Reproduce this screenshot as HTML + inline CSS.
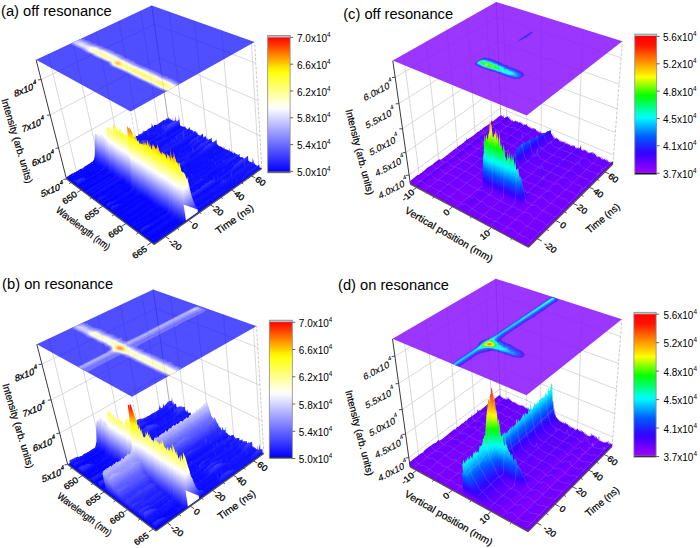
<!DOCTYPE html><html><head><meta charset="utf-8"><style>html,body{margin:0;padding:0;background:#fff;overflow:hidden}svg{display:block;font-family:"Liberation Sans",sans-serif}</style></head><body><svg width="700" height="548" viewBox="0 0 700 548" font-family="Liberation Sans, sans-serif"><defs><filter id="bl0.6" x="-50%" y="-50%" width="200%" height="200%"><feGaussianBlur stdDeviation="0.6"/></filter><filter id="bl0.8" x="-50%" y="-50%" width="200%" height="200%"><feGaussianBlur stdDeviation="0.8"/></filter><filter id="bl1" x="-50%" y="-50%" width="200%" height="200%"><feGaussianBlur stdDeviation="1"/></filter><filter id="bl1.5" x="-50%" y="-50%" width="200%" height="200%"><feGaussianBlur stdDeviation="1.5"/></filter><filter id="bl2.5" x="-50%" y="-50%" width="200%" height="200%"><feGaussianBlur stdDeviation="2.5"/></filter><linearGradient id="ma" gradientUnits="userSpaceOnUse"><stop offset="-0.0000" stop-color="#0000ff"/><stop offset="0.0234" stop-color="#0e0eff"/><stop offset="0.0468" stop-color="#1c1cff"/><stop offset="0.0703" stop-color="#2b2bff"/><stop offset="0.0939" stop-color="#3939ff"/><stop offset="0.1176" stop-color="#4747ff"/><stop offset="0.1413" stop-color="#5555ff"/><stop offset="0.1652" stop-color="#6464ff"/><stop offset="0.1891" stop-color="#7272ff"/><stop offset="0.2131" stop-color="#8080ff"/><stop offset="0.2372" stop-color="#8e8eff"/><stop offset="0.2613" stop-color="#9c9cff"/><stop offset="0.2856" stop-color="#ababff"/><stop offset="0.3099" stop-color="#b9b9ff"/><stop offset="0.3343" stop-color="#c7c7ff"/><stop offset="0.3588" stop-color="#d5d5ff"/><stop offset="0.3834" stop-color="#e4e4ff"/><stop offset="0.4081" stop-color="#f2f2ff"/><stop offset="0.4328" stop-color="#fffffd"/><stop offset="0.4577" stop-color="#ffffe5"/><stop offset="0.4826" stop-color="#ffffcc"/><stop offset="0.5076" stop-color="#ffffb3"/><stop offset="0.5327" stop-color="#ffff9b"/><stop offset="0.5579" stop-color="#ffff82"/><stop offset="0.5832" stop-color="#ffff6a"/><stop offset="0.6085" stop-color="#ffff51"/><stop offset="0.6340" stop-color="#ffff39"/><stop offset="0.6595" stop-color="#ffff20"/><stop offset="0.6852" stop-color="#ffff07"/><stop offset="0.7109" stop-color="#ffec00"/><stop offset="0.7367" stop-color="#ffd100"/><stop offset="0.7626" stop-color="#ffb600"/><stop offset="0.7886" stop-color="#ff9b00"/><stop offset="0.8147" stop-color="#ff8000"/><stop offset="0.8409" stop-color="#ff6500"/><stop offset="0.8672" stop-color="#ff4a00"/><stop offset="0.8935" stop-color="#ff2f00"/><stop offset="0.9200" stop-color="#ff1400"/><stop offset="0.9466" stop-color="#ff0000"/><stop offset="0.9732" stop-color="#ff0000"/><stop offset="1.0000" stop-color="#ff0000"/></linearGradient><linearGradient id="ga0" href="#ma" x1="100.8" y1="158.9" x2="68.3" y2="101.7"/><linearGradient id="ga1" href="#ma" x1="102.3" y1="159" x2="69.8" y2="101.8"/><linearGradient id="ga2" href="#ma" x1="103.1" y1="159.5" x2="70.6" y2="102.4"/><linearGradient id="ga3" href="#ma" x1="103.2" y1="160.5" x2="70.6" y2="103.3"/><linearGradient id="ga4" href="#ma" x1="103.3" y1="161.5" x2="70.6" y2="104.3"/><linearGradient id="ga5" href="#ma" x1="103.4" y1="162.5" x2="70.6" y2="105.2"/><linearGradient id="ga6" href="#ma" x1="106.5" y1="161.7" x2="73.7" y2="104.5"/><linearGradient id="ga7" href="#ma" x1="108" y1="161.8" x2="75.3" y2="104.7"/><linearGradient id="ga8" href="#ma" x1="107.4" y1="163.3" x2="74.5" y2="106.1"/><linearGradient id="ga9" href="#ma" x1="107.4" y1="164.3" x2="74.5" y2="107"/><linearGradient id="ga10" href="#ma" x1="109" y1="164.4" x2="76" y2="107.2"/><linearGradient id="ga11" href="#ma" x1="109.9" y1="164.9" x2="76.8" y2="107.7"/><linearGradient id="ga12" href="#ma" x1="110.7" y1="165.5" x2="77.6" y2="108.3"/><linearGradient id="ga13" href="#ma" x1="110.8" y1="166.5" x2="77.6" y2="109.3"/><linearGradient id="ga14" href="#ma" x1="113.2" y1="166.1" x2="80" y2="109"/><linearGradient id="ga15" href="#ma" x1="113.3" y1="167.2" x2="80" y2="110"/><linearGradient id="ga16" href="#ma" x1="113.4" y1="168.2" x2="80" y2="111"/><linearGradient id="ga17" href="#ma" x1="115" y1="168.3" x2="81.6" y2="111.1"/><linearGradient id="ga18" href="#ma" x1="115.1" y1="169.3" x2="81.6" y2="112.1"/><linearGradient id="ga19" href="#ma" x1="116" y1="169.9" x2="82.4" y2="112.7"/><linearGradient id="ga20" href="#ma" x1="117.6" y1="170" x2="84" y2="112.8"/><linearGradient id="ga21" href="#ma" x1="117.7" y1="171.1" x2="84" y2="113.8"/><linearGradient id="ga22" href="#ma" x1="118.6" y1="171.6" x2="84.9" y2="114.4"/><linearGradient id="ga23" href="#ma" x1="119.4" y1="172.2" x2="85.7" y2="115"/><linearGradient id="ga24" href="#ma" x1="119.5" y1="173.3" x2="85.7" y2="116"/><linearGradient id="ga25" href="#ma" x1="122" y1="172.9" x2="88.1" y2="115.7"/><linearGradient id="ga26" href="#ma" x1="122.1" y1="174" x2="88.1" y2="116.8"/><linearGradient id="ga27" href="#ma" x1="122.9" y1="174.6" x2="89" y2="117.4"/><linearGradient id="ga28" href="#ma" x1="124.6" y1="174.7" x2="90.6" y2="117.5"/><linearGradient id="ga29" href="#ma" x1="125.5" y1="175.3" x2="91.4" y2="118.1"/><linearGradient id="ga30" href="#ma" x1="125.6" y1="176.3" x2="91.5" y2="119.1"/><linearGradient id="ga31" href="#ma" x1="126.5" y1="176.9" x2="92.3" y2="119.7"/><linearGradient id="ga32" href="#ma" x1="127.4" y1="177.5" x2="93.1" y2="120.3"/><linearGradient id="ga33" href="#ma" x1="129.1" y1="177.6" x2="94.8" y2="120.5"/><linearGradient id="ga34" href="#ma" x1="128.4" y1="179.2" x2="94" y2="122"/><linearGradient id="ga35" href="#ma" x1="130.1" y1="179.3" x2="95.7" y2="122.2"/><linearGradient id="ga36" href="#ma" x1="131.8" y1="179.4" x2="97.3" y2="122.3"/><linearGradient id="ga37" href="#ma" x1="131.9" y1="180.5" x2="97.4" y2="123.4"/><linearGradient id="ga38" href="#ma" x1="133.6" y1="180.6" x2="99" y2="123.6"/><linearGradient id="ga39" href="#ma" x1="133.8" y1="181.7" x2="99.1" y2="124.6"/><linearGradient id="ga40" href="#ma" x1="135.5" y1="181.9" x2="100.8" y2="124.8"/><linearGradient id="ga41" href="#ma" x1="135.6" y1="183" x2="100.8" y2="125.9"/><linearGradient id="ga42" href="#ma" x1="136.5" y1="183.6" x2="101.7" y2="126.5"/><linearGradient id="ga43" href="#ma" x1="137.5" y1="184.2" x2="102.6" y2="127.1"/><linearGradient id="ga44" href="#ma" x1="137.6" y1="185.3" x2="102.6" y2="128.2"/><linearGradient id="ga45" href="#ma" x1="138.5" y1="185.9" x2="103.5" y2="128.9"/><linearGradient id="ga46" href="#ma" x1="138.7" y1="187.1" x2="103.6" y2="129.9"/><linearGradient id="ga47" href="#ma" x1="140.4" y1="187.2" x2="105.3" y2="130.1"/><linearGradient id="ga48" href="#ma" x1="141.4" y1="187.8" x2="106.2" y2="130.8"/><linearGradient id="ga49" href="#ma" x1="143.1" y1="187.9" x2="107.9" y2="131"/><linearGradient id="ga50" href="#ma" x1="143.3" y1="189.1" x2="107.9" y2="132.1"/><linearGradient id="ga51" href="#ma" x1="145" y1="189.2" x2="109.7" y2="132.3"/><linearGradient id="ga52" href="#ma" x1="144.4" y1="190.8" x2="108.9" y2="133.8"/><linearGradient id="ga53" href="#ma" x1="145.3" y1="191.5" x2="109.8" y2="134.5"/><linearGradient id="ga54" href="#ma" x1="147.1" y1="191.6" x2="111.5" y2="134.7"/><linearGradient id="ga55" href="#ma" x1="147.3" y1="192.8" x2="111.6" y2="135.8"/><linearGradient id="ga56" href="#ma" x1="148.2" y1="193.4" x2="112.5" y2="136.5"/><linearGradient id="ga57" href="#ma" x1="149.2" y1="194.1" x2="113.5" y2="137.1"/><linearGradient id="ga58" href="#ma" x1="151.7" y1="193.7" x2="116" y2="136.9"/><linearGradient id="ga59" href="#ma" x1="151.1" y1="195.4" x2="115.3" y2="138.5"/><linearGradient id="ga60" href="#ma" x1="152.9" y1="195.5" x2="117" y2="138.7"/><linearGradient id="ga61" href="#ma" x1="153.9" y1="196.2" x2="118" y2="139.3"/><linearGradient id="ga62" href="#ma" x1="154.9" y1="196.8" x2="118.9" y2="140"/><linearGradient id="ga63" href="#ma" x1="155.9" y1="197.5" x2="119.8" y2="140.7"/><linearGradient id="ga64" href="#ma" x1="156.9" y1="198.1" x2="120.8" y2="141.4"/><linearGradient id="ga65" href="#ma" x1="158.6" y1="198.3" x2="122.5" y2="141.6"/><linearGradient id="ga66" href="#ma" x1="158.9" y1="199.5" x2="122.6" y2="142.8"/><linearGradient id="ga67" href="#ma" x1="160.6" y1="199.6" x2="124.4" y2="143"/><linearGradient id="ga68" href="#ma" x1="160.9" y1="200.8" x2="124.5" y2="144.2"/><linearGradient id="ga69" href="#ma" x1="161.1" y1="202" x2="124.7" y2="145.3"/><linearGradient id="ga70" href="#ma" x1="162.1" y1="202.7" x2="125.6" y2="146"/><linearGradient id="ga71" href="#ma" x1="164.7" y1="202.3" x2="128.2" y2="145.8"/><linearGradient id="ga72" href="#ma" x1="164.9" y1="203.5" x2="128.4" y2="147"/><linearGradient id="ga73" href="#ma" x1="166.7" y1="203.6" x2="130.2" y2="147.2"/><linearGradient id="ga74" href="#ma" x1="167" y1="204.9" x2="130.3" y2="148.4"/><linearGradient id="ga75" href="#ma" x1="167.2" y1="206.1" x2="130.4" y2="149.6"/><linearGradient id="ga76" href="#ma" x1="169" y1="206.2" x2="132.2" y2="149.8"/><linearGradient id="ga77" href="#ma" x1="169.3" y1="207.5" x2="132.4" y2="151"/><linearGradient id="ga78" href="#ma" x1="170.3" y1="208.1" x2="133.4" y2="151.7"/><linearGradient id="ga79" href="#ma" x1="171.3" y1="208.8" x2="134.4" y2="152.5"/><linearGradient id="ga80" href="#ma" x1="173.2" y1="209" x2="136.2" y2="152.7"/><linearGradient id="ga81" href="#ma" x1="174.2" y1="209.7" x2="137.2" y2="153.4"/><linearGradient id="ga82" href="#ma" x1="175.3" y1="210.4" x2="138.2" y2="154.2"/><linearGradient id="ga83" href="#ma" x1="175.5" y1="211.6" x2="138.3" y2="155.4"/><linearGradient id="ga84" href="#ma" x1="177.4" y1="211.8" x2="140.2" y2="155.7"/><linearGradient id="ga85" href="#ma" x1="179.3" y1="212" x2="142" y2="155.9"/><linearGradient id="ga86" href="#ma" x1="178.7" y1="213.8" x2="141.4" y2="157.7"/><linearGradient id="ga87" href="#ma" x1="181.4" y1="213.4" x2="144.1" y2="157.4"/><linearGradient id="ga88" href="#ma" x1="180.9" y1="215.2" x2="143.4" y2="159.2"/><linearGradient id="ga89" href="#ma" x1="182.8" y1="215.4" x2="145.3" y2="159.4"/><linearGradient id="ga90" href="#ma" x1="184.6" y1="215.5" x2="147.1" y2="159.7"/><linearGradient id="ga91" href="#ma" x1="186.5" y1="215.7" x2="149" y2="159.9"/><linearGradient id="ga92" href="#ma" x1="186" y1="217.5" x2="148.4" y2="161.7"/><linearGradient id="ga93" href="#ma" x1="186.3" y1="218.8" x2="148.6" y2="163"/><linearGradient id="ga94" href="#ma" x1="188.2" y1="219" x2="150.4" y2="163.2"/><linearGradient id="ga95" href="#ma" x1="189.3" y1="219.7" x2="151.5" y2="164"/><clipPath id="clipa"><path d="M36.1 59.8l94.6 51.8 123.9-69.6-102.9-36.5z"/></clipPath><linearGradient id="cba" x1="0" y1="0" x2="0" y2="1"><stop offset="0.000" stop-color="#ff0000"/><stop offset="0.033" stop-color="#ff2200"/><stop offset="0.067" stop-color="#ff4400"/><stop offset="0.100" stop-color="#ff6600"/><stop offset="0.133" stop-color="#ff8800"/><stop offset="0.167" stop-color="#ffaa00"/><stop offset="0.200" stop-color="#ffcc00"/><stop offset="0.233" stop-color="#ffee00"/><stop offset="0.267" stop-color="#ffff0f"/><stop offset="0.300" stop-color="#ffff2e"/><stop offset="0.333" stop-color="#ffff4d"/><stop offset="0.367" stop-color="#ffff6c"/><stop offset="0.400" stop-color="#ffff8b"/><stop offset="0.433" stop-color="#ffffaa"/><stop offset="0.467" stop-color="#ffffc9"/><stop offset="0.500" stop-color="#ffffe8"/><stop offset="0.533" stop-color="#fbfbff"/><stop offset="0.567" stop-color="#e9e9ff"/><stop offset="0.600" stop-color="#d7d7ff"/><stop offset="0.633" stop-color="#c5c5ff"/><stop offset="0.667" stop-color="#b3b3ff"/><stop offset="0.700" stop-color="#a1a1ff"/><stop offset="0.733" stop-color="#8f8fff"/><stop offset="0.767" stop-color="#7d7dff"/><stop offset="0.800" stop-color="#6b6bff"/><stop offset="0.833" stop-color="#5959ff"/><stop offset="0.867" stop-color="#4848ff"/><stop offset="0.900" stop-color="#3636ff"/><stop offset="0.933" stop-color="#2424ff"/><stop offset="0.967" stop-color="#1212ff"/><stop offset="1.000" stop-color="#0000ff"/></linearGradient><linearGradient id="mb" gradientUnits="userSpaceOnUse"><stop offset="-0.0000" stop-color="#0000ff"/><stop offset="0.0233" stop-color="#0e0eff"/><stop offset="0.0467" stop-color="#1c1cff"/><stop offset="0.0702" stop-color="#2b2bff"/><stop offset="0.0938" stop-color="#3939ff"/><stop offset="0.1175" stop-color="#4747ff"/><stop offset="0.1412" stop-color="#5555ff"/><stop offset="0.1650" stop-color="#6464ff"/><stop offset="0.1889" stop-color="#7272ff"/><stop offset="0.2129" stop-color="#8080ff"/><stop offset="0.2370" stop-color="#8e8eff"/><stop offset="0.2611" stop-color="#9c9cff"/><stop offset="0.2854" stop-color="#ababff"/><stop offset="0.3097" stop-color="#b9b9ff"/><stop offset="0.3341" stop-color="#c7c7ff"/><stop offset="0.3586" stop-color="#d5d5ff"/><stop offset="0.3832" stop-color="#e4e4ff"/><stop offset="0.4078" stop-color="#f2f2ff"/><stop offset="0.4326" stop-color="#fffffd"/><stop offset="0.4574" stop-color="#ffffe5"/><stop offset="0.4823" stop-color="#ffffcc"/><stop offset="0.5074" stop-color="#ffffb3"/><stop offset="0.5325" stop-color="#ffff9b"/><stop offset="0.5576" stop-color="#ffff82"/><stop offset="0.5829" stop-color="#ffff6a"/><stop offset="0.6083" stop-color="#ffff51"/><stop offset="0.6338" stop-color="#ffff39"/><stop offset="0.6593" stop-color="#ffff20"/><stop offset="0.6850" stop-color="#ffff07"/><stop offset="0.7107" stop-color="#ffec00"/><stop offset="0.7365" stop-color="#ffd100"/><stop offset="0.7624" stop-color="#ffb600"/><stop offset="0.7885" stop-color="#ff9b00"/><stop offset="0.8146" stop-color="#ff8000"/><stop offset="0.8408" stop-color="#ff6500"/><stop offset="0.8671" stop-color="#ff4a00"/><stop offset="0.8935" stop-color="#ff2f00"/><stop offset="0.9199" stop-color="#ff1400"/><stop offset="0.9465" stop-color="#ff0000"/><stop offset="0.9732" stop-color="#ff0000"/><stop offset="1.0000" stop-color="#ff0000"/></linearGradient><linearGradient id="gb0" href="#mb" x1="102.2" y1="443.9" x2="69.3" y2="386.5"/><linearGradient id="gb1" href="#mb" x1="101.5" y1="445.4" x2="68.5" y2="387.9"/><linearGradient id="gb2" href="#mb" x1="103.1" y1="445.5" x2="70" y2="388"/><linearGradient id="gb3" href="#mb" x1="103.9" y1="446.1" x2="70.8" y2="388.6"/><linearGradient id="gb4" href="#mb" x1="105.5" y1="446.1" x2="72.3" y2="388.7"/><linearGradient id="gb5" href="#mb" x1="106.3" y1="446.7" x2="73.1" y2="389.3"/><linearGradient id="gb6" href="#mb" x1="108.7" y1="446.3" x2="75.5" y2="389"/><linearGradient id="gb7" href="#mb" x1="107.2" y1="448.3" x2="73.9" y2="390.8"/><linearGradient id="gb8" href="#mb" x1="109.6" y1="447.9" x2="76.2" y2="390.5"/><linearGradient id="gb9" href="#mb" x1="109.7" y1="448.9" x2="76.2" y2="391.5"/><linearGradient id="gb10" href="#mb" x1="110.5" y1="449.5" x2="77" y2="392.1"/><linearGradient id="gb11" href="#mb" x1="111.3" y1="450.1" x2="77.8" y2="392.6"/><linearGradient id="gb12" href="#mb" x1="111.4" y1="451.1" x2="77.8" y2="393.6"/><linearGradient id="gb13" href="#mb" x1="112.3" y1="451.7" x2="78.6" y2="394.2"/><linearGradient id="gb14" href="#mb" x1="113.1" y1="452.2" x2="79.4" y2="394.8"/><linearGradient id="gb15" href="#mb" x1="113.2" y1="453.3" x2="79.4" y2="395.8"/><linearGradient id="gb16" href="#mb" x1="115.6" y1="452.9" x2="81.8" y2="395.5"/><linearGradient id="gb17" href="#mb" x1="115.7" y1="454" x2="81.8" y2="396.5"/><linearGradient id="gb18" href="#mb" x1="118.1" y1="453.6" x2="84.2" y2="396.2"/><linearGradient id="gb19" href="#mb" x1="117.4" y1="455.1" x2="83.4" y2="397.7"/><linearGradient id="gb20" href="#mb" x1="118.3" y1="455.7" x2="84.2" y2="398.2"/><linearGradient id="gb21" href="#mb" x1="119.2" y1="456.3" x2="85" y2="398.8"/><linearGradient id="gb22" href="#mb" x1="120.1" y1="456.9" x2="85.9" y2="399.4"/><linearGradient id="gb23" href="#mb" x1="120.9" y1="457.5" x2="86.7" y2="400"/><linearGradient id="gb24" href="#mb" x1="121.8" y1="458" x2="87.5" y2="400.6"/><linearGradient id="gb25" href="#mb" x1="121.9" y1="459.1" x2="87.5" y2="401.6"/><linearGradient id="gb26" href="#mb" x1="124.4" y1="458.7" x2="90" y2="401.4"/><linearGradient id="gb27" href="#mb" x1="125.2" y1="459.3" x2="90.8" y2="402"/><linearGradient id="gb28" href="#mb" x1="126.1" y1="459.9" x2="91.6" y2="402.6"/><linearGradient id="gb29" href="#mb" x1="127" y1="460.5" x2="92.5" y2="403.2"/><linearGradient id="gb30" href="#mb" x1="127.1" y1="461.6" x2="92.5" y2="404.2"/><linearGradient id="gb31" href="#mb" x1="128" y1="462.2" x2="93.3" y2="404.8"/><linearGradient id="gb32" href="#mb" x1="128.2" y1="463.3" x2="93.4" y2="405.9"/><linearGradient id="gb33" href="#mb" x1="129.1" y1="463.9" x2="94.2" y2="406.5"/><linearGradient id="gb34" href="#mb" x1="130.8" y1="464" x2="95.9" y2="406.7"/><linearGradient id="gb35" href="#mb" x1="131.7" y1="464.6" x2="96.7" y2="407.3"/><linearGradient id="gb36" href="#mb" x1="134.9" y1="463.8" x2="100" y2="406.6"/><linearGradient id="gb37" href="#mb" x1="132.7" y1="466.4" x2="97.6" y2="409"/><linearGradient id="gb38" href="#mb" x1="133.6" y1="467" x2="98.5" y2="409.6"/><linearGradient id="gb39" href="#mb" x1="135.3" y1="467.1" x2="100.2" y2="409.8"/><linearGradient id="gb40" href="#mb" x1="137" y1="467.2" x2="101.8" y2="410"/><linearGradient id="gb41" href="#mb" x1="137.2" y1="468.3" x2="101.9" y2="411.1"/><linearGradient id="gb42" href="#mb" x1="139.7" y1="468" x2="104.4" y2="410.8"/><linearGradient id="gb43" href="#mb" x1="138.3" y1="470.1" x2="102.8" y2="412.8"/><linearGradient id="gb44" href="#mb" x1="140" y1="470.2" x2="104.5" y2="413"/><linearGradient id="gb45" href="#mb" x1="139.4" y1="471.9" x2="103.8" y2="414.6"/><linearGradient id="gb46" href="#mb" x1="140.3" y1="472.5" x2="104.7" y2="415.2"/><linearGradient id="gb47" href="#mb" x1="142" y1="472.6" x2="106.4" y2="415.4"/><linearGradient id="gb48" href="#mb" x1="143" y1="473.3" x2="107.3" y2="416.1"/><linearGradient id="gb49" href="#mb" x1="143.9" y1="473.9" x2="108.1" y2="416.7"/><linearGradient id="gb50" href="#mb" x1="144.9" y1="474.5" x2="109" y2="417.4"/><linearGradient id="gb51" href="#mb" x1="145.9" y1="475.2" x2="109.9" y2="418"/><linearGradient id="gb52" href="#mb" x1="147.6" y1="475.3" x2="111.7" y2="418.2"/><linearGradient id="gb53" href="#mb" x1="147.8" y1="476.5" x2="111.7" y2="419.4"/><linearGradient id="gb54" href="#mb" x1="148.7" y1="477.1" x2="112.7" y2="420"/><linearGradient id="gb55" href="#mb" x1="149.7" y1="477.8" x2="113.6" y2="420.7"/><linearGradient id="gb56" href="#mb" x1="150.7" y1="478.4" x2="114.5" y2="421.4"/><linearGradient id="gb57" href="#mb" x1="151.7" y1="479.1" x2="115.4" y2="422.1"/><linearGradient id="gb58" href="#mb" x1="153.4" y1="479.2" x2="117.1" y2="422.3"/><linearGradient id="gb59" href="#mb" x1="153.6" y1="480.4" x2="117.2" y2="423.4"/><linearGradient id="gb60" href="#mb" x1="155.4" y1="480.5" x2="119" y2="423.6"/><linearGradient id="gb61" href="#mb" x1="155.6" y1="481.7" x2="119.1" y2="424.8"/><linearGradient id="gb62" href="#mb" x1="156.6" y1="482.4" x2="120" y2="425.5"/><linearGradient id="gb63" href="#mb" x1="157.6" y1="483" x2="121" y2="426.2"/><linearGradient id="gb64" href="#mb" x1="158.6" y1="483.7" x2="121.9" y2="426.9"/><linearGradient id="gb65" href="#mb" x1="159.6" y1="484.4" x2="122.9" y2="427.6"/><linearGradient id="gb66" href="#mb" x1="159.8" y1="485.6" x2="123" y2="428.8"/><linearGradient id="gb67" href="#mb" x1="161.6" y1="485.7" x2="124.8" y2="429"/><linearGradient id="gb68" href="#mb" x1="161.8" y1="487" x2="124.9" y2="430.2"/><linearGradient id="gb69" href="#mb" x1="163.6" y1="487.1" x2="126.7" y2="430.4"/><linearGradient id="gb70" href="#mb" x1="165.4" y1="487.2" x2="128.5" y2="430.6"/><linearGradient id="gb71" href="#mb" x1="164.9" y1="489" x2="127.8" y2="432.3"/><linearGradient id="gb72" href="#mb" x1="167.5" y1="488.6" x2="130.4" y2="432.1"/><linearGradient id="gb73" href="#mb" x1="168.5" y1="489.3" x2="131.4" y2="432.8"/><linearGradient id="gb74" href="#mb" x1="168" y1="491.1" x2="130.7" y2="434.5"/><linearGradient id="gb75" href="#mb" x1="169.8" y1="491.2" x2="132.5" y2="434.7"/><linearGradient id="gb76" href="#mb" x1="170.8" y1="491.9" x2="133.5" y2="435.5"/><linearGradient id="gb77" href="#mb" x1="171.1" y1="493.2" x2="133.6" y2="436.7"/><linearGradient id="gb78" href="#mb" x1="172.1" y1="493.9" x2="134.6" y2="437.4"/><linearGradient id="gb79" href="#mb" x1="174" y1="494" x2="136.4" y2="437.7"/><linearGradient id="gb80" href="#mb" x1="175" y1="494.7" x2="137.4" y2="438.4"/><linearGradient id="gb81" href="#mb" x1="176.1" y1="495.5" x2="138.4" y2="439.2"/><linearGradient id="gb82" href="#mb" x1="177.1" y1="496.2" x2="139.4" y2="439.9"/><linearGradient id="gb83" href="#mb" x1="177.4" y1="497.4" x2="139.6" y2="441.2"/><linearGradient id="gb84" href="#mb" x1="180.1" y1="497" x2="142.3" y2="440.9"/><linearGradient id="gb85" href="#mb" x1="180.3" y1="498.3" x2="142.5" y2="442.2"/><linearGradient id="gb86" href="#mb" x1="181.4" y1="499" x2="143.5" y2="442.9"/><linearGradient id="gb87" href="#mb" x1="183.3" y1="499.2" x2="145.4" y2="443.2"/><linearGradient id="gb88" href="#mb" x1="183.6" y1="500.5" x2="145.5" y2="444.5"/><linearGradient id="gb89" href="#mb" x1="184.7" y1="501.2" x2="146.6" y2="445.3"/><linearGradient id="gb90" href="#mb" x1="185.8" y1="501.9" x2="147.6" y2="446"/><linearGradient id="gb91" href="#mb" x1="186.8" y1="502.7" x2="148.6" y2="446.8"/><linearGradient id="gb92" href="#mb" x1="187.9" y1="503.4" x2="149.7" y2="447.6"/><linearGradient id="gb93" href="#mb" x1="189.9" y1="503.6" x2="151.6" y2="447.8"/><linearGradient id="gb94" href="#mb" x1="190.2" y1="504.9" x2="151.8" y2="449.2"/><linearGradient id="gb95" href="#mb" x1="190.4" y1="506.2" x2="152" y2="450.5"/><clipPath id="clipb"><path d="M36.8 344.2l95.2 52.6 124.6-70.7-103.4-36.7z"/></clipPath><linearGradient id="cbb" x1="0" y1="0" x2="0" y2="1"><stop offset="0.000" stop-color="#ff0000"/><stop offset="0.033" stop-color="#ff2200"/><stop offset="0.067" stop-color="#ff4400"/><stop offset="0.100" stop-color="#ff6600"/><stop offset="0.133" stop-color="#ff8800"/><stop offset="0.167" stop-color="#ffaa00"/><stop offset="0.200" stop-color="#ffcc00"/><stop offset="0.233" stop-color="#ffee00"/><stop offset="0.267" stop-color="#ffff0f"/><stop offset="0.300" stop-color="#ffff2e"/><stop offset="0.333" stop-color="#ffff4d"/><stop offset="0.367" stop-color="#ffff6c"/><stop offset="0.400" stop-color="#ffff8b"/><stop offset="0.433" stop-color="#ffffaa"/><stop offset="0.467" stop-color="#ffffc9"/><stop offset="0.500" stop-color="#ffffe8"/><stop offset="0.533" stop-color="#fbfbff"/><stop offset="0.567" stop-color="#e9e9ff"/><stop offset="0.600" stop-color="#d7d7ff"/><stop offset="0.633" stop-color="#c5c5ff"/><stop offset="0.667" stop-color="#b3b3ff"/><stop offset="0.700" stop-color="#a1a1ff"/><stop offset="0.733" stop-color="#8f8fff"/><stop offset="0.767" stop-color="#7d7dff"/><stop offset="0.800" stop-color="#6b6bff"/><stop offset="0.833" stop-color="#5959ff"/><stop offset="0.867" stop-color="#4848ff"/><stop offset="0.900" stop-color="#3636ff"/><stop offset="0.933" stop-color="#2424ff"/><stop offset="0.967" stop-color="#1212ff"/><stop offset="1.000" stop-color="#0000ff"/></linearGradient><linearGradient id="mc" gradientUnits="userSpaceOnUse"><stop offset="-0.0000" stop-color="#7b00ff"/><stop offset="0.0226" stop-color="#6700ff"/><stop offset="0.0454" stop-color="#5400ff"/><stop offset="0.0682" stop-color="#4000ff"/><stop offset="0.0912" stop-color="#2f06ff"/><stop offset="0.1143" stop-color="#231bff"/><stop offset="0.1375" stop-color="#182fff"/><stop offset="0.1608" stop-color="#0c44ff"/><stop offset="0.1842" stop-color="#0158ff"/><stop offset="0.2078" stop-color="#0076ff"/><stop offset="0.2314" stop-color="#0095ff"/><stop offset="0.2552" stop-color="#00b3ff"/><stop offset="0.2791" stop-color="#00d2ff"/><stop offset="0.3031" stop-color="#00f1ff"/><stop offset="0.3272" stop-color="#00ffe8"/><stop offset="0.3515" stop-color="#00ffbe"/><stop offset="0.3759" stop-color="#00ff93"/><stop offset="0.4003" stop-color="#00ff68"/><stop offset="0.4250" stop-color="#00ff3e"/><stop offset="0.4497" stop-color="#00ff13"/><stop offset="0.4746" stop-color="#1bff00"/><stop offset="0.4996" stop-color="#4dff00"/><stop offset="0.5247" stop-color="#7eff00"/><stop offset="0.5500" stop-color="#afff00"/><stop offset="0.5754" stop-color="#e0ff00"/><stop offset="0.6009" stop-color="#fff500"/><stop offset="0.6265" stop-color="#ffda00"/><stop offset="0.6523" stop-color="#ffc000"/><stop offset="0.6782" stop-color="#ffa500"/><stop offset="0.7043" stop-color="#ff8b00"/><stop offset="0.7304" stop-color="#ff7000"/><stop offset="0.7568" stop-color="#ff5500"/><stop offset="0.7832" stop-color="#ff3a00"/><stop offset="0.8098" stop-color="#ff1f00"/><stop offset="0.8366" stop-color="#ff0f00"/><stop offset="0.8634" stop-color="#ff0800"/><stop offset="0.8905" stop-color="#ff0000"/><stop offset="0.9176" stop-color="#ff0000"/><stop offset="0.9449" stop-color="#ff0000"/><stop offset="0.9724" stop-color="#ff0000"/><stop offset="1.0000" stop-color="#ff0000"/></linearGradient><linearGradient id="gc0" href="#mc" x1="417" y1="179.2" x2="367.3" y2="109.6"/><linearGradient id="gc1" href="#mc" x1="467" y1="143.2" x2="420.8" y2="78.7"/><linearGradient id="gc2" href="#mc" x1="501.2" y1="118.9" x2="457.4" y2="57.7"/><linearGradient id="gc3" href="#mc" x1="504" y1="118" x2="460.3" y2="57.2"/><linearGradient id="gc4" href="#mc" x1="483.9" y1="134.5" x2="438.6" y2="71.6"/><linearGradient id="gc5" href="#mc" x1="494" y1="128.1" x2="449.3" y2="66.3"/><linearGradient id="gc6" href="#mc" x1="474.9" y1="143.8" x2="428.7" y2="80.1"/><linearGradient id="gc7" href="#mc" x1="441.8" y1="170.4" x2="393" y2="103.3"/><linearGradient id="gc8" href="#mc" x1="438.7" y1="174.1" x2="389.6" y2="106.8"/><linearGradient id="gc9" href="#mc" x1="500.1" y1="128.7" x2="455.4" y2="67.5"/><linearGradient id="gc10" href="#mc" x1="508.7" y1="123.4" x2="464.5" y2="63.1"/><linearGradient id="gc11" href="#mc" x1="500.5" y1="131" x2="455.6" y2="69.9"/><linearGradient id="gc12" href="#mc" x1="508.6" y1="126.1" x2="464.2" y2="65.8"/><linearGradient id="gc13" href="#mc" x1="512.5" y1="124.3" x2="468.3" y2="64.4"/><linearGradient id="gc14" href="#mc" x1="500.2" y1="135.2" x2="455" y2="74"/><linearGradient id="gc15" href="#mc" x1="449.4" y1="176" x2="400.2" y2="109.7"/><linearGradient id="gc16" href="#mc" x1="515.3" y1="126.2" x2="470.9" y2="66.6"/><linearGradient id="gc17" href="#mc" x1="486.5" y1="149.9" x2="439.9" y2="87.5"/><linearGradient id="gc18" href="#mc" x1="496.3" y1="143.7" x2="450.3" y2="82.2"/><linearGradient id="gc19" href="#mc" x1="518" y1="128" x2="473.5" y2="68.7"/><linearGradient id="gc20" href="#mc" x1="490.5" y1="151" x2="443.8" y2="89"/><linearGradient id="gc21" href="#mc" x1="517.4" y1="131.2" x2="472.6" y2="71.9"/><linearGradient id="gc22" href="#mc" x1="444.1" y1="190.6" x2="393.6" y2="123.9"/><linearGradient id="gc23" href="#mc" x1="497" y1="150.1" x2="450.5" y2="88.8"/><linearGradient id="gc24" href="#mc" x1="491.3" y1="156.1" x2="444.2" y2="94.2"/><linearGradient id="gc25" href="#mc" x1="517.8" y1="136.4" x2="472.6" y2="77.2"/><linearGradient id="gc26" href="#mc" x1="498.6" y1="153.2" x2="451.8" y2="92"/><linearGradient id="gc27" href="#mc" x1="494.1" y1="158.2" x2="446.9" y2="96.6"/><linearGradient id="gc28" href="#mc" x1="500.3" y1="154.7" x2="453.4" y2="93.8"/><linearGradient id="gc29" href="#mc" x1="497.7" y1="158.2" x2="450.5" y2="97.1"/><linearGradient id="gc30" href="#mc" x1="503.2" y1="155.3" x2="456.3" y2="94.7"/><linearGradient id="gc31" href="#mc" x1="501.2" y1="158.3" x2="454.1" y2="97.6"/><linearGradient id="gc32" href="#mc" x1="509.8" y1="152.9" x2="463.2" y2="93"/><linearGradient id="gc33" href="#mc" x1="519.9" y1="146.1" x2="474" y2="87.2"/><linearGradient id="gc34" href="#mc" x1="508.4" y1="156.9" x2="461.5" y2="96.9"/><linearGradient id="gc35" href="#mc" x1="537.2" y1="134.8" x2="492.4" y2="77.7"/><linearGradient id="gc36" href="#mc" x1="540.6" y1="133.5" x2="495.9" y2="76.7"/><linearGradient id="gc37" href="#mc" x1="540.6" y1="134.9" x2="495.9" y2="78.2"/><linearGradient id="gc38" href="#mc" x1="537.3" y1="139.1" x2="492.1" y2="82.1"/><linearGradient id="gc39" href="#mc" x1="531" y1="145.7" x2="485.2" y2="88.2"/><linearGradient id="gc40" href="#mc" x1="534.5" y1="144.3" x2="488.9" y2="87.1"/><linearGradient id="gc41" href="#mc" x1="485.3" y1="186.8" x2="435.7" y2="124.8"/><linearGradient id="gc42" href="#mc" x1="487.8" y1="186.3" x2="438.3" y2="124.5"/><linearGradient id="gc43" href="#mc" x1="489" y1="186.9" x2="439.5" y2="125.3"/><linearGradient id="gc44" href="#mc" x1="489.6" y1="188.1" x2="440" y2="126.5"/><linearGradient id="gc45" href="#mc" x1="491.4" y1="188.1" x2="441.9" y2="126.8"/><linearGradient id="gc46" href="#mc" x1="492.7" y1="188.7" x2="443.1" y2="127.6"/><linearGradient id="gc47" href="#mc" x1="493.2" y1="189.9" x2="443.6" y2="128.8"/><linearGradient id="gc48" href="#mc" x1="494.4" y1="190.5" x2="444.8" y2="129.6"/><linearGradient id="gc49" href="#mc" x1="495" y1="191.7" x2="445.3" y2="130.9"/><linearGradient id="gc50" href="#mc" x1="496.9" y1="191.7" x2="447.2" y2="131.1"/><linearGradient id="gc51" href="#mc" x1="498.1" y1="192.3" x2="448.4" y2="131.9"/><linearGradient id="gc52" href="#mc" x1="499.4" y1="192.9" x2="449.6" y2="132.7"/><linearGradient id="gc53" href="#mc" x1="499.9" y1="194.1" x2="450.1" y2="134"/><linearGradient id="gc54" href="#mc" x1="501.8" y1="194.2" x2="452.1" y2="134.2"/><linearGradient id="gc55" href="#mc" x1="502.4" y1="195.4" x2="452.6" y2="135.5"/><linearGradient id="gc56" href="#mc" x1="503.7" y1="196" x2="453.8" y2="136.3"/><linearGradient id="gc57" href="#mc" x1="505.6" y1="196" x2="455.8" y2="136.6"/><linearGradient id="gc58" href="#mc" x1="506.2" y1="197.2" x2="456.3" y2="137.9"/><linearGradient id="gc59" href="#mc" x1="508.7" y1="196.7" x2="459" y2="137.7"/><linearGradient id="gc60" href="#mc" x1="509.3" y1="197.9" x2="459.5" y2="139"/><linearGradient id="gc61" href="#mc" x1="510.6" y1="198.5" x2="460.8" y2="139.8"/><linearGradient id="gc62" href="#mc" x1="511.9" y1="199.1" x2="462" y2="140.6"/><linearGradient id="gc63" href="#mc" x1="513.1" y1="199.8" x2="463.3" y2="141.4"/><linearGradient id="gc64" href="#mc" x1="514.4" y1="200.4" x2="464.6" y2="142.2"/><linearGradient id="gc65" href="#mc" x1="516.3" y1="200.5" x2="466.6" y2="142.5"/><linearGradient id="gc66" href="#mc" x1="518.3" y1="200.5" x2="468.6" y2="142.8"/><linearGradient id="gc67" href="#mc" x1="518.9" y1="201.7" x2="469.1" y2="144.2"/><linearGradient id="gc68" href="#mc" x1="518.9" y1="203.5" x2="469" y2="146"/><linearGradient id="gc69" href="#mc" x1="521.5" y1="203" x2="471.7" y2="145.8"/><linearGradient id="gc70" href="#mc" x1="522.1" y1="204.2" x2="472.3" y2="147.2"/><linearGradient id="gc71" href="#mc" x1="524.7" y1="203.7" x2="475" y2="146.9"/><linearGradient id="gc72" href="#mc" x1="566.3" y1="167.4" x2="520.1" y2="114.7"/><linearGradient id="gc73" href="#mc" x1="531.2" y1="201.4" x2="481.8" y2="145.4"/><linearGradient id="gc74" href="#mc" x1="581.7" y1="156.6" x2="536.6" y2="105.6"/><linearGradient id="gc75" href="#mc" x1="556.1" y1="182" x2="508.7" y2="128.6"/><linearGradient id="gc76" href="#mc" x1="565.1" y1="175.5" x2="518.3" y2="123"/><linearGradient id="gc77" href="#mc" x1="583.9" y1="159.8" x2="538.6" y2="109.1"/><linearGradient id="gc78" href="#mc" x1="582.9" y1="162.4" x2="537.5" y2="111.7"/><linearGradient id="gc79" href="#mc" x1="576.9" y1="169.7" x2="530.9" y2="118.5"/><linearGradient id="gc80" href="#mc" x1="589.3" y1="159.9" x2="544.2" y2="110"/><linearGradient id="gc81" href="#mc" x1="575" y1="175.1" x2="528.6" y2="123.9"/><linearGradient id="gc82" href="#mc" x1="587.5" y1="165.1" x2="542.1" y2="115.1"/><linearGradient id="gc83" href="#mc" x1="557.4" y1="195.4" x2="509.4" y2="142.6"/><linearGradient id="gc84" href="#mc" x1="581.7" y1="174.2" x2="535.6" y2="123.8"/><linearGradient id="gc85" href="#mc" x1="552.6" y1="203.7" x2="504" y2="150.6"/><linearGradient id="gc86" href="#mc" x1="598" y1="162.1" x2="553.2" y2="113.5"/><linearGradient id="gc87" href="#mc" x1="579.3" y1="181.9" x2="532.8" y2="131.6"/><linearGradient id="gc88" href="#mc" x1="566.5" y1="196.1" x2="518.8" y2="144.7"/><linearGradient id="gc89" href="#mc" x1="597.6" y1="167.9" x2="552.5" y2="119.5"/><linearGradient id="gc90" href="#mc" x1="582.7" y1="184.2" x2="536.2" y2="134.5"/><linearGradient id="gc91" href="#mc" x1="580" y1="188.8" x2="533.2" y2="138.8"/><linearGradient id="gc92" href="#mc" x1="595.5" y1="175.5" x2="550" y2="127.1"/><linearGradient id="gc93" href="#mc" x1="602.8" y1="170.2" x2="557.9" y2="122.5"/><linearGradient id="gc94" href="#mc" x1="581" y1="193.5" x2="534.1" y2="143.9"/><linearGradient id="gc95" href="#mc" x1="593.3" y1="183.3" x2="547.4" y2="134.9"/><clipPath id="clipc"><path d="M392.8 60.6l133.9 54.9 95.7-74.2-126.2-39.4z"/></clipPath><linearGradient id="cbc" x1="0" y1="0" x2="0" y2="1"><stop offset="0.000" stop-color="#ff0000"/><stop offset="0.033" stop-color="#ff0a00"/><stop offset="0.067" stop-color="#ff1300"/><stop offset="0.100" stop-color="#ff3400"/><stop offset="0.133" stop-color="#ff5700"/><stop offset="0.167" stop-color="#ff7900"/><stop offset="0.200" stop-color="#ff9a00"/><stop offset="0.233" stop-color="#ffbc00"/><stop offset="0.267" stop-color="#ffdd00"/><stop offset="0.300" stop-color="#ffff00"/><stop offset="0.333" stop-color="#c1ff00"/><stop offset="0.367" stop-color="#83ff00"/><stop offset="0.400" stop-color="#45ff00"/><stop offset="0.433" stop-color="#07ff00"/><stop offset="0.467" stop-color="#00ff30"/><stop offset="0.500" stop-color="#00ff66"/><stop offset="0.533" stop-color="#00ff9c"/><stop offset="0.567" stop-color="#00ffd2"/><stop offset="0.600" stop-color="#00f9ff"/><stop offset="0.633" stop-color="#00d2ff"/><stop offset="0.667" stop-color="#00abff"/><stop offset="0.700" stop-color="#0085ff"/><stop offset="0.733" stop-color="#005eff"/><stop offset="0.767" stop-color="#0d43ff"/><stop offset="0.800" stop-color="#1b29ff"/><stop offset="0.833" stop-color="#2a0fff"/><stop offset="0.867" stop-color="#3c00ff"/><stop offset="0.900" stop-color="#5500ff"/><stop offset="0.933" stop-color="#6e00ff"/><stop offset="0.967" stop-color="#8700ff"/><stop offset="1.000" stop-color="#a000ff"/></linearGradient><linearGradient id="md" gradientUnits="userSpaceOnUse"><stop offset="-0.0000" stop-color="#7b00ff"/><stop offset="0.0226" stop-color="#6700ff"/><stop offset="0.0453" stop-color="#5400ff"/><stop offset="0.0682" stop-color="#4000ff"/><stop offset="0.0911" stop-color="#2f06ff"/><stop offset="0.1142" stop-color="#231bff"/><stop offset="0.1373" stop-color="#182fff"/><stop offset="0.1606" stop-color="#0c44ff"/><stop offset="0.1840" stop-color="#0158ff"/><stop offset="0.2076" stop-color="#0076ff"/><stop offset="0.2312" stop-color="#0095ff"/><stop offset="0.2550" stop-color="#00b3ff"/><stop offset="0.2788" stop-color="#00d2ff"/><stop offset="0.3028" stop-color="#00f1ff"/><stop offset="0.3270" stop-color="#00ffe8"/><stop offset="0.3512" stop-color="#00ffbe"/><stop offset="0.3756" stop-color="#00ff93"/><stop offset="0.4001" stop-color="#00ff68"/><stop offset="0.4247" stop-color="#00ff3e"/><stop offset="0.4494" stop-color="#00ff13"/><stop offset="0.4743" stop-color="#1bff00"/><stop offset="0.4993" stop-color="#4dff00"/><stop offset="0.5244" stop-color="#7eff00"/><stop offset="0.5497" stop-color="#afff00"/><stop offset="0.5751" stop-color="#e0ff00"/><stop offset="0.6006" stop-color="#fff500"/><stop offset="0.6262" stop-color="#ffda00"/><stop offset="0.6520" stop-color="#ffc000"/><stop offset="0.6779" stop-color="#ffa500"/><stop offset="0.7040" stop-color="#ff8b00"/><stop offset="0.7302" stop-color="#ff7000"/><stop offset="0.7565" stop-color="#ff5500"/><stop offset="0.7830" stop-color="#ff3a00"/><stop offset="0.8096" stop-color="#ff1f00"/><stop offset="0.8364" stop-color="#ff0f00"/><stop offset="0.8633" stop-color="#ff0800"/><stop offset="0.8903" stop-color="#ff0000"/><stop offset="0.9175" stop-color="#ff0000"/><stop offset="0.9449" stop-color="#ff0000"/><stop offset="0.9724" stop-color="#ff0000"/><stop offset="1.0000" stop-color="#ff0000"/></linearGradient><linearGradient id="gd0" href="#md" x1="477.9" y1="415" x2="430.6" y2="350.6"/><linearGradient id="gd1" href="#md" x1="472.2" y1="420.7" x2="424.3" y2="355.7"/><linearGradient id="gd2" href="#md" x1="499" y1="401.4" x2="453" y2="339.1"/><linearGradient id="gd3" href="#md" x1="466.8" y1="427.6" x2="418.3" y2="362"/><linearGradient id="gd4" href="#md" x1="490.6" y1="410.5" x2="443.8" y2="347.3"/><linearGradient id="gd5" href="#md" x1="426.5" y1="461.6" x2="374.7" y2="391.9"/><linearGradient id="gd6" href="#md" x1="490.4" y1="413.3" x2="443.3" y2="350.2"/><linearGradient id="gd7" href="#md" x1="502.6" y1="405.1" x2="456.4" y2="343.2"/><linearGradient id="gd8" href="#md" x1="441.8" y1="454" x2="390.8" y2="385.9"/><linearGradient id="gd9" href="#md" x1="508.2" y1="403.4" x2="462.2" y2="342"/><linearGradient id="gd10" href="#md" x1="477.6" y1="428.8" x2="429.1" y2="364.4"/><linearGradient id="gd11" href="#md" x1="475.6" y1="431.8" x2="426.8" y2="367.2"/><linearGradient id="gd12" href="#md" x1="457.9" y1="447.2" x2="407.6" y2="380.8"/><linearGradient id="gd13" href="#md" x1="469.5" y1="439.4" x2="420" y2="374.2"/><linearGradient id="gd14" href="#md" x1="502.1" y1="414.9" x2="455" y2="353.1"/><linearGradient id="gd15" href="#md" x1="498.5" y1="419.2" x2="451" y2="357"/><linearGradient id="gd16" href="#md" x1="492.3" y1="425.5" x2="444.3" y2="362.7"/><linearGradient id="gd17" href="#md" x1="497.1" y1="423.1" x2="449.3" y2="360.8"/><linearGradient id="gd18" href="#md" x1="496.4" y1="425.1" x2="448.4" y2="362.7"/><linearGradient id="gd19" href="#md" x1="511.2" y1="414.6" x2="464.2" y2="353.8"/><linearGradient id="gd20" href="#md" x1="514" y1="413.7" x2="467.2" y2="353.2"/><linearGradient id="gd21" href="#md" x1="505.8" y1="421.8" x2="458.2" y2="360.4"/><linearGradient id="gd22" href="#md" x1="469.2" y1="452.9" x2="418.6" y2="387.9"/><linearGradient id="gd23" href="#md" x1="512.7" y1="419" x2="465.4" y2="358.4"/><linearGradient id="gd24" href="#md" x1="500.7" y1="430.2" x2="452.4" y2="368.4"/><linearGradient id="gd25" href="#md" x1="493.9" y1="437.3" x2="444.9" y2="374.8"/><linearGradient id="gd26" href="#md" x1="504.2" y1="430.2" x2="455.9" y2="368.8"/><linearGradient id="gd27" href="#md" x1="528.7" y1="411.6" x2="482.2" y2="352.7"/><linearGradient id="gd28" href="#md" x1="518.4" y1="421.5" x2="471" y2="361.6"/><linearGradient id="gd29" href="#md" x1="497.8" y1="440" x2="448.7" y2="378"/><linearGradient id="gd30" href="#md" x1="496.5" y1="442.6" x2="447.1" y2="380.5"/><linearGradient id="gd31" href="#md" x1="518.3" y1="426" x2="470.5" y2="366.1"/><linearGradient id="gd32" href="#md" x1="503.8" y1="439.5" x2="454.8" y2="378.3"/><linearGradient id="gd33" href="#md" x1="524.1" y1="424.1" x2="476.6" y2="364.9"/><linearGradient id="gd34" href="#md" x1="501.8" y1="444.3" x2="452.4" y2="382.9"/><linearGradient id="gd35" href="#md" x1="531" y1="421.2" x2="483.8" y2="362.8"/><linearGradient id="gd36" href="#md" x1="456.7" y1="485.5" x2="403.3" y2="419.6"/><linearGradient id="gd37" href="#md" x1="516.9" y1="436.1" x2="468.4" y2="376.3"/><linearGradient id="gd38" href="#md" x1="531" y1="425.7" x2="483.5" y2="367.3"/><linearGradient id="gd39" href="#md" x1="541.8" y1="418" x2="495.1" y2="360.8"/><linearGradient id="gd40" href="#md" x1="542.4" y1="419" x2="495.6" y2="361.8"/><linearGradient id="gd41" href="#md" x1="536.8" y1="425.3" x2="489.5" y2="367.6"/><linearGradient id="gd42" href="#md" x1="541.3" y1="422.9" x2="494.3" y2="365.7"/><linearGradient id="gd43" href="#md" x1="487.3" y1="471" x2="435.6" y2="408.4"/><linearGradient id="gd44" href="#md" x1="489.8" y1="470.5" x2="438.2" y2="408.2"/><linearGradient id="gd45" href="#md" x1="491" y1="471.1" x2="439.4" y2="409"/><linearGradient id="gd46" href="#md" x1="491.6" y1="472.3" x2="439.9" y2="410.3"/><linearGradient id="gd47" href="#md" x1="492.1" y1="473.5" x2="440.4" y2="411.6"/><linearGradient id="gd48" href="#md" x1="494" y1="473.5" x2="442.3" y2="411.9"/><linearGradient id="gd49" href="#md" x1="495.2" y1="474.1" x2="443.5" y2="412.7"/><linearGradient id="gd50" href="#md" x1="497.1" y1="474.2" x2="445.5" y2="412.9"/><linearGradient id="gd51" href="#md" x1="497.7" y1="475.4" x2="446" y2="414.3"/><linearGradient id="gd52" href="#md" x1="498.9" y1="476" x2="447.2" y2="415.1"/><linearGradient id="gd53" href="#md" x1="501.5" y1="475.5" x2="449.9" y2="414.8"/><linearGradient id="gd54" href="#md" x1="501.4" y1="477.3" x2="449.7" y2="416.7"/><linearGradient id="gd55" href="#md" x1="503.3" y1="477.3" x2="451.6" y2="416.9"/><linearGradient id="gd56" href="#md" x1="503.9" y1="478.5" x2="452.1" y2="418.3"/><linearGradient id="gd57" href="#md" x1="504.5" y1="479.8" x2="452.7" y2="419.6"/><linearGradient id="gd58" href="#md" x1="506.4" y1="479.8" x2="454.6" y2="419.9"/><linearGradient id="gd59" href="#md" x1="508.3" y1="479.9" x2="456.6" y2="420.2"/><linearGradient id="gd60" href="#md" x1="508.9" y1="481.1" x2="457.1" y2="421.6"/><linearGradient id="gd61" href="#md" x1="510.1" y1="481.7" x2="458.4" y2="422.4"/><linearGradient id="gd62" href="#md" x1="512.1" y1="481.8" x2="460.4" y2="422.7"/><linearGradient id="gd63" href="#md" x1="513.3" y1="482.4" x2="461.6" y2="423.5"/><linearGradient id="gd64" href="#md" x1="513.3" y1="484.3" x2="461.5" y2="425.4"/><linearGradient id="gd65" href="#md" x1="515.2" y1="484.3" x2="463.5" y2="425.7"/><linearGradient id="gd66" href="#md" x1="517.1" y1="484.4" x2="465.5" y2="426"/><linearGradient id="gd67" href="#md" x1="517.1" y1="486.2" x2="465.3" y2="427.9"/><linearGradient id="gd68" href="#md" x1="519.7" y1="485.7" x2="468" y2="427.7"/><linearGradient id="gd69" href="#md" x1="520.3" y1="486.9" x2="468.6" y2="429.1"/><linearGradient id="gd70" href="#md" x1="521.6" y1="487.6" x2="469.9" y2="429.9"/><linearGradient id="gd71" href="#md" x1="522.2" y1="488.8" x2="470.5" y2="431.4"/><linearGradient id="gd72" href="#md" x1="524.2" y1="488.9" x2="472.5" y2="431.7"/><linearGradient id="gd73" href="#md" x1="572.6" y1="445.1" x2="525.1" y2="392.6"/><linearGradient id="gd74" href="#md" x1="559" y1="459.7" x2="510.2" y2="406"/><linearGradient id="gd75" href="#md" x1="583.4" y1="438.3" x2="536.6" y2="387.1"/><linearGradient id="gd76" href="#md" x1="518.1" y1="502.3" x2="465.5" y2="444.8"/><linearGradient id="gd77" href="#md" x1="574.3" y1="450.5" x2="526.6" y2="398.5"/><linearGradient id="gd78" href="#md" x1="524.1" y1="500.5" x2="471.8" y2="443.7"/><linearGradient id="gd79" href="#md" x1="591.1" y1="438" x2="544.7" y2="387.7"/><linearGradient id="gd80" href="#md" x1="578.1" y1="452.3" x2="530.5" y2="400.9"/><linearGradient id="gd81" href="#md" x1="587.1" y1="445.3" x2="540.2" y2="394.9"/><linearGradient id="gd82" href="#md" x1="590" y1="444.3" x2="543.3" y2="394.2"/><linearGradient id="gd83" href="#md" x1="594.5" y1="441.7" x2="548.1" y2="392.1"/><linearGradient id="gd84" href="#md" x1="595.8" y1="442.3" x2="549.4" y2="392.9"/><linearGradient id="gd85" href="#md" x1="598.7" y1="441.3" x2="552.5" y2="392.2"/><linearGradient id="gd86" href="#md" x1="591.3" y1="450.3" x2="544.4" y2="400.7"/><linearGradient id="gd87" href="#md" x1="582.6" y1="460.8" x2="534.8" y2="410.4"/><linearGradient id="gd88" href="#md" x1="585" y1="460.2" x2="537.4" y2="410.2"/><linearGradient id="gd89" href="#md" x1="527.4" y1="519.5" x2="474.3" y2="464"/><linearGradient id="gd90" href="#md" x1="591.6" y1="457.5" x2="544.3" y2="408.3"/><linearGradient id="gd91" href="#md" x1="598.9" y1="452.1" x2="552.2" y2="403.6"/><linearGradient id="gd92" href="#md" x1="596.4" y1="456.5" x2="549.4" y2="407.9"/><linearGradient id="gd93" href="#md" x1="553.3" y1="501.8" x2="502.3" y2="449.2"/><linearGradient id="gd94" href="#md" x1="603.9" y1="452.7" x2="557.5" y2="405"/><linearGradient id="gd95" href="#md" x1="580.5" y1="478.4" x2="531.9" y2="428.5"/><clipPath id="clipd"><path d="M392.5 338.8l134 56.4 95.4-76-126.1-40.5z"/></clipPath><linearGradient id="cbd" x1="0" y1="0" x2="0" y2="1"><stop offset="0.000" stop-color="#ff0000"/><stop offset="0.033" stop-color="#ff0a00"/><stop offset="0.067" stop-color="#ff1300"/><stop offset="0.100" stop-color="#ff3400"/><stop offset="0.133" stop-color="#ff5700"/><stop offset="0.167" stop-color="#ff7900"/><stop offset="0.200" stop-color="#ff9a00"/><stop offset="0.233" stop-color="#ffbc00"/><stop offset="0.267" stop-color="#ffdd00"/><stop offset="0.300" stop-color="#ffff00"/><stop offset="0.333" stop-color="#c1ff00"/><stop offset="0.367" stop-color="#83ff00"/><stop offset="0.400" stop-color="#45ff00"/><stop offset="0.433" stop-color="#07ff00"/><stop offset="0.467" stop-color="#00ff30"/><stop offset="0.500" stop-color="#00ff66"/><stop offset="0.533" stop-color="#00ff9c"/><stop offset="0.567" stop-color="#00ffd2"/><stop offset="0.600" stop-color="#00f9ff"/><stop offset="0.633" stop-color="#00d2ff"/><stop offset="0.667" stop-color="#00abff"/><stop offset="0.700" stop-color="#0085ff"/><stop offset="0.733" stop-color="#005eff"/><stop offset="0.767" stop-color="#0d43ff"/><stop offset="0.800" stop-color="#1b29ff"/><stop offset="0.833" stop-color="#2a0fff"/><stop offset="0.867" stop-color="#3c00ff"/><stop offset="0.900" stop-color="#5500ff"/><stop offset="0.933" stop-color="#6e00ff"/><stop offset="0.967" stop-color="#8700ff"/><stop offset="1.000" stop-color="#a000ff"/></linearGradient></defs><rect width="700" height="548" fill="#fff"/><path d="M58.6 148L163.7 89.4" stroke="#cfcfcf" stroke-width="0.8" fill="none"/>
<path d="M163.7 89.4L259.9 135.8" stroke="#cfcfcf" stroke-width="0.8" fill="none"/>
<path d="M50.1 115L159.2 57.8" stroke="#cfcfcf" stroke-width="0.8" fill="none"/>
<path d="M159.2 57.8L257.9 100.7" stroke="#cfcfcf" stroke-width="0.8" fill="none"/>
<path d="M41.2 79.6L154.4 24.3" stroke="#cfcfcf" stroke-width="0.8" fill="none"/>
<path d="M154.4 24.3L255.8 63.1" stroke="#cfcfcf" stroke-width="0.8" fill="none"/>
<path d="M76.9 172.9L48.2 54.2" stroke="#cfcfcf" stroke-width="0.8" fill="none"/>
<path d="M98.4 160.2L72.8 42.6" stroke="#cfcfcf" stroke-width="0.8" fill="none"/>
<path d="M119.1 148L96.4 31.5" stroke="#cfcfcf" stroke-width="0.8" fill="none"/>
<path d="M139 136.3L119 20.9" stroke="#cfcfcf" stroke-width="0.8" fill="none"/>
<path d="M158.2 125L140.7 10.7" stroke="#cfcfcf" stroke-width="0.8" fill="none"/>
<path d="M183.9 127.6L168.9 11.6" stroke="#cfcfcf" stroke-width="0.8" fill="none"/>
<path d="M207.1 139.8L194.2 20.6" stroke="#cfcfcf" stroke-width="0.8" fill="none"/>
<path d="M232 152.9L221.5 30.3" stroke="#cfcfcf" stroke-width="0.8" fill="none"/>
<path d="M258.8 167.1L251.3 40.9" stroke="#cfcfcf" stroke-width="0.8" fill="none"/>
<path d="M168 119.2L151.7 5.5" stroke="#9a9a9a" stroke-width="0.8" fill="none"/>
<path d="M261.8 168.6L254.6 42" stroke="#bdbdbd" stroke-width="0.8" fill="none" stroke-dasharray="3 1.5"/>
<path d="M154.2 244.4L130.7 111.6" stroke="#cdcdcd" stroke-width="0.8" fill="none" stroke-dasharray="3 1.5"/>
<path d="M66.5 179.1L168 119.2" stroke="#bdbdbd" stroke-width="0.8" fill="none"/>
<path d="M168 119.2L261.8 168.6" stroke="#bdbdbd" stroke-width="0.8" fill="none"/>
<path d="M66.5 179.1l87.7 65.3 107.6-75.8-93.8-49.4z" fill="#0e0eff"/>
<path d="M66.1 177.6l6.3-4.3 0.9 0.1 0.7-1 1.7-0.3 4.7-3 2.5-0.8 1.4-1.6 6.2-3.6 0.6-1.1 0.9 0.3 2-2.8 0.8-4.4-0.1-20.1 0.7-1.2 0.9 0.3 7 12.8 2.3 2.9 2 1.4 3.4 0.2 1.3-1.6 0.9 0.5 2.1-1.9 2.3-0.7 0.6-1.1 1.7 0 1.2-2.1 0.9 0.5 1.3-1.5 1.7 0.2 2.7-2.5 1.5-0.3 1.3-1.8 2.9-1.4 0.8 0.2 2-1.9 1.5-0.1 1.3-1.6 0.9 0.3 2.1-1.1 1.2-1.7 3.6-1.4 1.3-1.4 2.8-1.2 0.6-1 0.2-3.7 1.4 4 1.1-2 2.9-0.4 6.7-4.8 1.4 0.3 1.3-1.6 0.8 0.5 0.5-1.2 0.2 1.3-101.5 59.9z" fill="url(#ga0)"/>
<path d="M67 178.8l1.7-0.5 2.2-2.3 1.9-0.1 2.1-2.5 1.7-0.4 0.7-1 2.6-0.3 1.3-2.1 1 0.7 6.8-5.2 2.5-0.6 2.2-1.7 1.7-3.9 0.3-2.7-0.5-18.3 0.6-1.3 0.9 0 0.6-1.2 3.1 6.5 6.1 8.6 3 2.3 6.9-2.7 1.3-1.6 0.9 0.6 0.6-1.1 0.9 0.2 0.6-1.2 1.6-0.1 1.2-2.1 0.8 0.1 0.7-0.8 1.6 0.2 0.6-1.2 1.5-0.3 0.6-1.1 1.5-0.4 0.7-0.9 0.8 0.1 2-1.7 0.8 0.1 0.6-1.2 1.4-0.8 0.8 0.3 1.4-1.4 0.9 0.7 1.2-2 5-2 2-1.6 0.8 0.4 1.9-2.3 2.2-0.4 0.5-1.7 0.8 0.5 0.6-1.2 3.5-1.2 3.3-2.9 0.7 0.3 0.6-0.8 0.8 0.1 2-1.1 1.9-1.9 0.4-2.4 0.5 3.4-101.6 60z" fill="url(#ga1)"/>
<path d="M67.6 178.6l4.2-1.9 0.6-1 1 0.2 5.3-4.2 1.8-0.1 1.6-1 1.4-1.7 4.1-1.4 0.6-1 4.7-2.5 2.8-3.2 0.5-1.6 0.2-23.3 0.9 0.3 0.3-2.5 3.5 8.3 0.9 0.1 5.2 8.4 2.1 1.9 2.3-0.7 1 0.6 2.8-2.4 0.9 0.3 1.5-0.5 0.6-1.4 2.3-0.9 0.9 0.4 1.2-2 2.3-0.6 1.3-1.8 0.9 0.5 9.9-6.6 5-2.2 1.3-1.6 1.5 0.1 0.6-1 2.9-1.2 0.6-1.2 0.7 0 2-1.6 1.5 0 0.7-0.8 0.8 0.2 2.5-2.7 0.8 0.2 2.6-2.3 0.8 0.3 0.5-1.7 0.8 0.7 3.4-1.7 1.9-1.9 1.5 0.1 0.1 1.1-101.6 60.2z" fill="url(#ga2)"/>
<path d="M68.5 179.4l4-2.4 1.4-1.7 1 0.5 3.8-3.4 2.5-0.6 0.6-1.4 1.8 0 1.6-1 0.5-1.3 2.7 0 0.6-1.4 1.7-0.3 2.9-2.6 0.9 0.4 1.4-1.6 1.2-6.6-0.6-14.9 0.4-1.9 1 0.4 0.4-2 0.9-0.1 1.4 2.4 0.7-0.7 1.8 4.7 3.8 6 3 2.3 2.7 0.6 4.6-2 2-2 0.9 0.4 0.6-1.3 1.6-0.1 1.3-1.6 2.9-1.7 1.6 0 0.7-0.8 0.3-2.9 1.1 2 2.7-2.5 0.9 0.5 0.6-1 5.8-2.8 0.7-0.6 0.1-3.7 1.3 3.1 0.6-1 0-5 1.5 4.7 3.4-3.1 0.8 0.7 3.4-2.8 2.8-0.9 0.6-1.4 4.2-1.7 0.8 0.3 0.5-1.2 2.7-1.8 1.3-0.8 0.9 0.6 1.1-2.1 0.8 0.5 2.6-2.2 0.3 2-101.7 60.3z" fill="url(#ga3)"/>
<path d="M69.4 180.4l4.7-3.4 0.9 0 0.5-1.6 1 0.3 3.2-1.7 3.1-2.4 1.7-0.3 0.6-1.4 0.9 0.3 2.2-2 1 0.5 2.3-1.8 0.9 0.3 0.6-1.2 1 0.4 0.5-1.5 2.3-1.6 1-3.4 0.1-7.3-0.6-19 1.8 4.1 0.5-1.7 1.7 3.8 2.2 2.3 4.2 8 3.1 2.7 2.6 0.7 0.7-0.8 2.4-0.3 1.4-1.5 1.6-0.5 0.6-1.1 2.3-0.4 2.1-2.1 0.8 0.2 0.6-1.2 0.9 0.4 4.2-3 0.9 0.3 2.7-2.5 3.6-1.8 0.7-1 0.8 0.4 0.6-1.1 0.8 0.2 2-2.1 1.5-0.1 0.6-1 1.5-0.1 2-1.8 0.8 0 4.1-2.9 3.5-1.4 4-3.2 1.5 0.2 0.6-1.1 1.4-0.4 4.6-3.6 0.7 0.4 1.3-1.1 0.2 1.5-101.7 60.5z" fill="url(#ga4)"/>
<path d="M70.2 180.9l0.7-0.6 0.6-1.7 1.1 0.8 0.6-1.2 2.6-0.6 1.4-1.8 1 0.2 2.1-2.5 1 0.3 0.6-1 2.6-0.5 0.6-1.5 1 0.5 2.1-2.2 1 0.2 1.5-1.2 1.3-1.8 1.1 1 0.6-1.4 1 0.8 1.9-3.2 0.9-0.3 1-3.2 0.1-3.5-1.3-22.3 1.4 2.5 0.6-1.4 1.8 4.2 0.6-0.9 2.4 3.2 4.4 8.7 3.1 2.8 2.6 0.5 3.9-1.6 2-2.3 0.9 0.6 3.5-3 2.3-0.7 2-2.2 1.7 0.2 0.6-0.9 1.6-0.2 0.6-1.2 1.5-0.3 0.6-1.2 0.8 0.4 1.4-1.4 4.3-2.3 0.8 0.2 1.3-1.7 0.7 0 1.3-1.4 0.8 0.1 1.3-1.6 5-1.9 4-3.2 2.8-1.2 0.6-1.2 0.9 0.9 3.2-3.1 0.8 0.5 1.3-1.3 1.5 0.1 0.5-1.4 3.4-1.4 0.2 1.4-101.8 60.6z" fill="url(#ga5)"/>
<path d="M70.6 180.1l1.7-0.6 1 0.4 1.4-2.1 6.5-3.2 0.7-1.1 1 0.4 2.9-2.7 2.6-0.5 0.5-1.6 1.8-0.2 3-2 1.8 0 2.7-3.3 1.1-7.1-0.3-17.7 1.5-5.2 7.5 15 4.5 5.4 0.7-0.6 1 0.7 0.7-0.5 1 0.5 2.1-1.8 0.9 0.2 0.5-1.3 1.6-0.2 2.8-2.6 1.6 0 3-1.6 2-2.3 1 1.1 0.5-1.5 5.2-2.2 0.5-1.4 3-0.8 2-2.1 0.9 0.4 0.5-1.3 1.6 0.2 2-1.9 0.1-4 1.4 3.7 1.2-1.9 0.8 0.4 2-2.3 0.9 1 0.5-1.3 0.8 0.3 1.9-2.6 1.6 0.7 0.5-1.4 0.8 0.3 2-1.5 0.4-2.3 1 1.4 0.6-1.1 2.8-0.5 2.6-2.1 0.1-4.8 1.3 4.1 2.1-0.7 0.2 1.5-101.9 60.8z" fill="url(#ga6)"/>
<path d="M71.6 181.5l0.9-0.2 0.7-1.1 0.9 0.2 0.7-0.9 1 0.3 1.5-1.6 1.7-0.5 1.4-1.9 3.3-1.2 1.4-1.8 1.8 0.1 1.4-1.7 1 0.6 1.3-2.5 3.2-1.5 0.9 0.2 3-2.3 0.9 0 1.5-5-0.5-22.8 1.3-2.1 1.1 1.3 0.4-2.5 2.2 6.7 3 5.9 4.6 6.1 2.9 1.5 1.6-0.2 0.8-0.2 0.6-1.2 1.7 0.2 6.3-5.4 1.7 0.4 2-2.4 2.3-0.5 5.7-4 1.5-0.4 0.5-1.9 1 1.3 3.6-1.8 1.3-1.5 0.8 0.1 1.2-1.7 1.5-0.1 2-2 0.8 0.3 1.1-2.6 1 1.4 0.6-1.1 0.8 0.3 4.1-2.4 1.3-1.4 0.5-1.7 1.7 1.1 0.5-1.2 1.5-0.2 1.2-1.5 1.5 0.1 1.2-2.1 1.5 0.5 2.6-2 0.8 0.4 0.2 1-102 60.9z" fill="url(#ga7)"/>
<path d="M72.4 182.1l0.7-0.9 1.8-0.3 0.7-1 1 0.3 1.6-0.9 3.8-3.1 1.8-0.5 1.4-1.6 0.9 0.3 4-2.3 0.5-1.7 1.8 0.1 3-2.2 4.1-1.7 1-3.2 0.6-5.2-0.5-14.8 0.9-8.2 2.3 2.9 7.1 13.4 4.1 3.8 2.6 0.1 0.5-1.4 1 0.4 2.8-2.1 1.7 0 4.2-3.6 0.9 0.3 1.4-1 0.6-1 0.1-3.9 1.5 3.3 0.6-0.8 1.6 0.1 3.5-3 2.9-1.1 2.8-2 1.6-0.2 1.9-2.4 0.8 0.3-0.2-6 1.5 4.6 1.5-0.3 5.5-4.1 0.8 0.4 2-1.8 0.8 0.8 2.6-2.7 2.2-0.4 1.9-1.9 1.5 0 2.5-3.1 0.8 0.6 1.9-1.8 1.5 0 0.1 1.3-102 61z" fill="url(#ga8)"/>
<path d="M73.4 183.2l0.9 0 1.4-1.8 1 0.4 2.2-2.5 2.5-0.8 1.5-1.6 0.9 0.1 1.5-1.6 1.8 0 3.7-3.2 0.9 0.1 2.4-1.2 2.2-2 1.7-0.4 0.6-1.4 0.9 0.3 1.4-1.5 1-3.5 0.3-6.7-0.9-20.8 1.9 4.9 0.9-0.2 8.9 14.2 2.2 2.4 0.7-0.7 1 0.8 1.5-0.6 0.6-1 0.9 0.2 1.5-1.2 0.8 0.1 1.4-1.5 1.6-0.1 1.3-2 0.8 0.4 3.6-2.6 1.6-0.4-0.2-5.1 1.6 4.4 0.8-0.3 7-5.1 0.9 0.3 4.1-3.1 0.8 0.1 1.3-1.7 1.6 0.3 0.6-1.2 1.4-0.7 0.8 0.2 0.6-1.2 0.7 0.2 1-3.5 1 1.1 1.5 0.5 0.6-1.2 1.4-0.4 0.7-1 1.5 0 3.3-2.2 0.3-2.9 1 1.7 0.8-0.2 2-1.2 0.7 0.2 0.6-1.1 2.1-0.7 0.6-1.1 1.4-0.1 0.6-0.9 0.2 1.4-102.1 61.2z" fill="url(#ga9)"/>
<path d="M73.6 181.3l0.6-1.3 1.8-0.2 4.1-2.2 1 0.3 1.5-1.2 1.9 0.4 1.7-0.5 4.7-3.3 0.9 0.2 0.7-0.9 0.9-0.1 0.5-1.5 5.5-3.2 2.1-2.3 1.4-5.6-0.6-11 0.7-13.3 2.1 5.4 0.8-0.3 5.3 9.2 3.4 4 0.9 0.5 2.4-0.5 3-1.8 1 0.6 0.5-1.8 1.6 0.1 0.6-1.1 0.9 0.2 3.6-2.7 0.8 0.2 2.3-1.2 3.4-3.3 0.9 0.5 1.3-1.7 3-1 3.9-0.3 1.3-1.5 0.9 0.6 2.9-1.2 2.6-2.8 2.2-0.4 1.3-1.6 1.5-0.2 4.6-4.3 0-5.4 1.2 3.5 0.8-0.2 0.3-2.7 1 1.5 1.4-0.3 0.6-1.2 3.5-1.3 0.6-1.1 2.1-0.2 1.9-1.9 0.1-4.6 1.2 8.5-102.2 61.3z" fill="url(#ga10)"/>
<path d="M75.2 185.2l7.2-4.7 0.9 0 1.4-1.5 3.4-1.2 0.5-1.5 1.1 0.6 1.3-2.1 2.5-0.6 1.4-2.1 1 0.5 3.8-2.8 1.7-0.1 1.3-2.1 1.2-6.6-0.6-15.2 0.8-8.9 5.9 11.9 0.9 0.1 4 7.2 2.9 1.7 3.1-1.1 1.7 0.3 5.1-3.8 0.8 0.2 2.8-2.3 2.3-1.1 0.8 0.2 6.3-4.9 0.9 0.1 1.3-1.4 3.7-1.5 0.5-1.3 0.9 0.3 2-1.6 1.5-0.2 0.6-1.4 0.8 0.1 4.8-3 1.3-1.5 0.9 0.9 1.4-1.1 0.5-1.5 2.2-0.3 0.5-1.2 0.9 0.8 3.9-3.6 4.2-1.4 0.1-5.1 1.2 3.9 0.7-0.7 0.7 0.3 1.3-1.3 0.1 0.7-102.3 61.4z" fill="url(#ga11)"/>
<path d="M76 185.6l7.9-5.2 1 0.1 2.2-2.3 2.5-0.8 3.8-3.1 0.9 0.3 2.2-2.4 3.3-1 4.4-4.1 0.6-5-1-17.2 1.1-3.4 0-4.4 7.3 14.8 1 0.3 1.4 3.1 4.9 3.2 1.6-0.2 2.2-1.7 1.6-0.4 0.6-1.3 0.8 0 0.6-0.9 1.7 0.1 1.3-1.7 1.7 0.1 0.5-1.3 1.5-0.7 0.9 0.5 0.6-1.4 0.9 0.5 1.2-2 0.9 0.4 0.7-0.4 1.3-2 1.5-0.1 0.7-1 2.9-1.1 1-3.5 2.7 1.9 1.2-1.7 1.6-0.2 4-3.6 1.5 0 6.2-4.4 5.5-2.6 1.3-1.3 0.3-3.4 1.8 2.2 3.3-2.5 2.7-1 0.2 0.9-102.4 61.6z" fill="url(#ga12)"/>
<path d="M76.6 185.5l0.7-1 1.1 0.8 0.6-1.5 1 0.3 1.3-2.1 1.9 0.2 0.6-1.6 2.4-1.4 0.9 0.2 1.4-1.8 3.3-1.7 0.9 0.1 0.6-1.2 4.9-2.2 0.7-0.9 0.9 0.2 2.3-1.3 2.1-2.7 1.2-6.5-0.6-24.2 0.9 0.2 1.9 5 0.5-1.7 1.2 1.4 4.8 11.2 2.4 3.4 3.8 2 5.9-3.6 1 0.4 3.6-2.6 2.2-0.9 1.4-1.5 2.2-1 0.6-1.2 3.8-1.3 0.6-1.2 0.9 0.6 0.6-1.1 2.9-1.2 0.6-1.2 0.8 0.1 2.8-2.1 0.8 0.2 1.3-1.5 0.8 0.2 0.6-1.3 0.8 0.2 1.4-0.7 0.7-0.8 2.1-0.8 0.6-1.2 0.8 0.5 0.6-1.1 2.2-0.7 0.6-1.1 4.2-1.9 1.3-1.2 1.5 0.1 1.2-1.6-0.1-6 1.5 5.1 1.4-0.3 0.5-1.7 0.8 0.6 2-1.7 1.4-0.2 0.2 1.2-102.4 61.7z" fill="url(#ga13)"/>
<path d="M76.2 181l1.8-0.4 0.6-1.3 1 0.2 0.7-0.9 1.8 0 1.6-1.1 2.1 1.2 2.8-0.1 5.3-4.3 0.9 0.2 3.9-2.9 0.9 0.1 0.6-1.4 4.4-4 1.3-6.2-0.7-16 0.7-5 0.8-0.1 0-4.8 2.3 7.1 0.7-0.8 2.4 7.5 3.3 3.5 3.9 2.7 0.7-0.9 2.4-0.4 2.9-2.5 0.9 0.3 1.3-1.6 6.3-1.7 0.5-1.8 1.6-0.2 0.5-1.3 3-1.3 3.6-2.7 7.3 1 0.5-1.3 1.6-0.1 5.5-4.2 0.4-2.4 1 1.6 2.1-1 0.6-1.4 1.4-0.4 1.1-2.8 2.1-1.2 1.1-2.7 0.7 0.1 2.7-2.3 1.5-0.1 0-5.3 1.3 4.2 0.8 0.2 0.5-1.2 1.5 0.4 1.4-0.6 0.6-1.1 0.1-4.7 1.4 10.9-102.4 61.8z" fill="url(#ga14)"/>
<path d="M78.4 187.2l3.4-1.5 6.2-4.6 2.5-1.2 1 0.4 1.4-1.8 2.3-1.6 0.9 0.1 1.4-1.7 1 0.5 3.8-3 0.9 0 2.3-1.6 1.6-4.7 0-4.1-1.7-20.6 1.4-2.2 0.4-2.3 1.2 1.9 0.9 0.2 0.7-1 2.7 8.7 5.4 9.9 2.3 3.1 0.7-0.8 1.9 1.3 0.6-1.1 1.6-0.2 0.7-0.9 0.9 0.4 2.1-2.1 3-1.4 0.6-1.1 0.9 0.2 4.3-3.2 1.5-0.3 8-4.6 1.3-1.7 0.8 0.3 0.7-0.6 0.6-1.3 2.3 0.1 0.6-1.1 2.9-1.1 0.6-1.5 0.8 0.1 3.5-2 1.3-1.1 0-4.9 1.4 3.7 2.1-0.5 5.5-3.6 2.8-1 0.5-1.4 1.5 0.1 0.5-1.5 0.8 0.4 0.6-0.8 0.4-3 1 2.3 1.4-0.3 0 0.2-102.5 62z" fill="url(#ga15)"/>
<path d="M79.4 188.4l10.5-6.2 1.4-1.7 1 0.5 1.6-1.1 0.6-1.4 1 0.5 1.4-1.6 0.9 0.1 2.4-1.3 4.5-3.6 0.9 0.1 1.4-1.8 0.8-4.5-1.4-23.4 0.6-5.9 0.9 0.2 2.3 2.3 1.7 4.5 1.1 1 2 5.6 5.1 8.4 2.9 2 0.7-0.6 1 0.5 0.6-1.1 0.9 0.3 1.4-1.5 0.8 0.3 1.4-1.5 2.4-0.7 2-2.1 0.9 0.2 2.8-2.2 1.6-0.3 0.6-1.3 0.8 0.2 0.6-1 0.9 0.3 3.5-2.9 2.2-0.6 2.8-2.2 0.8 0.1 0.6-1.1 2.2-0.6 7.6-5.4 0.8 0.2 0.6-0.9 2.2-0.7 0.6-1.2 1.5-0.2 5.4-3.8 0.7 0.2 2-1.8 2.1-0.7 3.9-3 0.1 0.6-102.6 62.2z" fill="url(#ga16)"/>
<path d="M80 188.3l1.9-0.1 2.9-3 1.9 0 1.5-1.6 2.5-0.9 0.6-1.2 4.2-1.7 0.6-1 1.8-0.1 1.4-1.7 3.2-1.9 0.9 0.2 0.6-1.2 3.9-2.6 0.6-9.4-1.5-20.2 0.8-9.2 1.2 1.6 2.3 7.3 1 0.4 4.8 11.3 3.7 5.8 3 2.4 4.6-2.4 0.9 0.2 0.6-1 5.3-2.6 0.6-1.2 1.5-0.3 0.7-1.1 2.3-0.6 2-2 1.6-0.2 0.6-1.4 2.3-0.3 1.3-1.5 5.8-2.9 1-3.5 1.1 2 2.9-1.2 1.2-2 0.9 0.3 1.4-0.6 0.3-3 1.1 2.3 1.3-1.2 0-5.5 1.4 4.6 2.1-0.9 1.3-1.7 0.8 0.2 0.4-2.5 0.9 1.7 1.4-1.1 0.7 0.2 1.3-1.6 0.8 0.5 0.6-1 3.3-2.3 0.8 0.4 0.5-1.5 0.8 0.2 0.6-0.8 0.1 0.9-102.6 62.3z" fill="url(#ga17)"/>
<path d="M80.9 188.9l1.6-1 0.5-1.5 1.9 0.2 1.5-1.5 3.4-1.2 2.2-2.6 1 0.4 2.3-2 2.6-0.5 0.6-1.2 1.5-1.1 0.9 0 0.6-1.5 1 0.6 2.2-2 1.7-0.3 2-2.9 0.8-4.7-0.2-9.3-2.6-26 0.1-3.5 3.3 7.5 0.2-3.7 3 10.7 7.4 15.6 3.2 3.5 0.8-0.5 1 0.8 1.6-0.1 2.2-2 8.2-4.3 0.6-1.1 0.9 0.5 1.4-1.6 2.2-0.9 0.6-1.4 0.9 0.5 0.7-0.4 4.2-3.5 0.9 0.8 1.3-1.7 2.3-0.3 0.5-1.6 0.8 0.1 1.4-1.4 0.9 0.7 3.3-3.5 0.8 0.1 1.3-1 0.8 0.3 0.2-3.7 1.1 1.8 2.2-0.2 2.7-2.3 1.4-0.5 0.6-1 2.1-1.1 2.2-0.3 0.5-1.3 2.1-0.7 1.3-1.3 1.5-0.2 2.6-2.2 0.1 1.2-102.7 62.4z" fill="url(#ga18)"/>
<path d="M81.4 188.5l2.6-1 2.2-2.5 1.9 0.2 3-2.7 1 0 0.7-0.8 1 0.4 0.6-1.5 2.5-0.9 0.6-1.2 1 0.2 0.6-1.1 0.9 0.1 2.2-2.2 0.9 0.1 3.2-1.7 0.6-1.3 1.7-0.5 1.1-2.9-0.1-8.8-2.6-30.2 0.2-3.4 2.9 5.6 0.7-1.1 5.8 16.1 5.6 10.8 2 1.9 3.6 1.2 0.6-1.2 2.4-0.7 2.8-3 0.9 0.6 3.6-2.7 0.8 0.1 0.6-1.2 0.9 0.2 2.1-1.9 3.7-1.5 0-5.2 1.3 3.4 0.9 0.3 1.3-1.7 2.3-0.4 6.9-5.2 1.6 0.1 1.9-2.5 1.6 0.3 1.3-1.7 0.8 0.4 10.9-7.3 0.8 0.2 1.3-1.4 2.7-1.5 0.8 0.2 0.5-1.1 1.4-0.4 0.2 1.5-102.8 62.6z" fill="url(#ga19)"/>
<path d="M82.2 188.9l3.2-2.4 2.6-0.6 3.8-3.4 1.8-0.4 0.6-1.3 2.7-0.2 4.5-3.9 1 0.3 4.6-3.3 0.5-1.7 1.8 0.1 1.3-6.4-2.7-30.7 0.2-7.6 0.8-0.5 3.7 9.3 0.4-2.1 4.3 12.5 1.6 3.9 1 0.9 2 5.9 3.2 3.2 1.7 0.2 0.8-0.5 0.9 0.7 2.2-1.9 0.8 0 2.9-2.4 0.8 0 0.6-1.4 0.9 0.4 1.4-1.1 0.9 0.3 1.3-1.5 3.1-1.4 0.6-1.1 3-1.1 0.6-1 0.8 0.1 0.6-1.2 0.9 0.3 1.3-1.5 1.6-0.2 3.4-2.6 0.2-3.8 1.3 2.9 2.1-1.6 0.8 0.3 0.5-1.3 1.4-0.9 0.9 0.3 2.6-2.8 0.8 0.6 2.2-0.5 2-2.2 1.5 0 1.9-2.4 0.8 0.4 2.8-1.5 1.2-1.8 1.5 0.3 1.9-2.1 2.8-1.1 0.2 2.1-102.8 62.8z" fill="url(#ga20)"/>
<path d="M83.3 190.6l3.4-1.6 2.3-2.2 1 0.5 3.8-3.3 3.5-0.8 0.5-1.6 1.6-1.2 1.7-0.1 0.7-1.2 0.9 0.3 3-2.7 3.3-1.5 1.4-1.6 1.4-6-2.9-40.2 1.3 1.9 0.7-0.9 9.1 23.9 4.2 8.5 0.8-0.5 1.2 1.7 1.8 0.9 0.8-0.2 0.6-1.2 1.8 0.4 0.6-1.1 5.3-2.4 1.4-1.4 0.9 0.1 2-2.1 3.7-2.3 3.1-0.7 2.7-3 2.2-0.6 2.1-1.8 1.6 0 0.6-1.2 4.3-2.2 0.5-1.7 0.9 0.8 1.3-1.5 0.8 0.3 0.6-0.9 2.2-0.8 0.6-1.3 0.8 0.6 0.6-1 1.5-0.1 0.5-1.6 0.8 0.3 2.1-1.1 3.3-2.8 1.5 0.1 2-2 1.4 0.2 0.6-1.5 1.3-1 0.8 0.4 0.6-0.9 0.1 1.3-102.9 62.9z" fill="url(#ga21)"/>
<path d="M84.5 192.5l24.8-15.2 2.8-3 0.7-9.6-2.2-23.9-0.4-10.9 3.2 7.3 0.9 0 1.5 2.9 2.1 6.2 6 13.1 2.4 3.7 2.7 1.2 3.9-1.5 17.7-10.8 0.1-4.1 1.3 3.3 35.5-21.7 0 0-103 63z" fill="url(#ga22)"/>
<path d="M85.3 193.1l24.8-15.2 2.9-3 0.7-5.1-0.3-10.4-2.2-24 0.1-3.9 2.6 4 1 0.5 8.6 22.1 3.7 5.7 2.7 1 4.7-1.9 38.1-23.3 0.5-1.4 0.9 0.5 14.3-8.8 0 0-103.1 63.2z" fill="url(#ga23)"/>
<path d="M86.2 193.8l16.1-9.9 0.7-1 0.9 0 7.1-4.4 2.2-1.9 0.7-1.3 0.5-1.6 0-8.4-1.4-20.1-2.1-15.2 2.3 6.9-0.1-4.8 1.3 2.2 9.9 23.9 3.7 5.6 1 1.1 1.8 0.6 3.2-1.1 11.1-6.8 0.3-2.8 1.1 1.7 0.8-0.3 6.5-4 0.4-2.5 1 1.6 2.8-2.2 0.8 0 30.5-18.7 0 0-103.1 63.4z" fill="url(#ga24)"/>
<path d="M86.2 190.9l4.9-3.2 1.8-0.1 0.8-0.8 2.7 0.1 0.7-1.2 1 0.4 2.4-1.6 0.9 0.3 1.7-0.9 0.5-1.7 1.8-0.1 0.6-1.4 0.9 0.1 3.7-3.3 1 0.1 1.9-3.3 0.9 0.2 0.7-5.2-0.1-5.1-2.7-26.7 0.9-9.2 3.4 8.4 0.9 0.2 2.5 8 7.3 15.8 1 0.9 2.7 0.9 1.5-1.2 4.7-1.8 0.6-1.2 3.1-1 1.4-1.7 2.3-0.5 0.7-1.2 1.6 0 0.6-1.4 1.5-0.2 2.1-2.1 1.6-0.1 0.3-3 1.1 2 0.8-0.3 0.8 0.5 3.1-0.7 0.6-1.3 1.6 0.2 2.1-1.3 4.1-3.4 5-2.6 2-1.9 1.2-2.3 1.5 0 0.5-1.6 1.5-0.4 0.5-1.1 2.2-0.7 0.6-0.9 2.1-1.2 0.7 0.2 0.7-0.9 2.1 0 1.9-2.3 0.5 3.8-103.2 63.5z" fill="url(#ga25)"/>
<path d="M87.6 193.8l2.2-2.7 1.1 0.6 0.6-1.1 1.8-0.4 2.3-2.1 1 0.3 3.8-3.5 0.9 0.1 8-4.7 2.2-2.4 1 0.7 2.8-3.6 0.8-4.6-0.4-10.7-2.3-20.5-0.2-10.3 2.3 2.7 3 6 3.8 11.1 4.7 10.8 2.5 4.1 2.8 1.5 0.7-0.9 0.9 0.5 4.5-2.9 0.8 0 5.1-3.9 0.9 0.4 0.6-1.3 1.6 0.1 0.7-0.9 2.3-0.7 2-2.5 0.8 0.3 1.5-0.7 2.7-3 4.5-1.6 4.1-3.4 2.2-0.5 4.2-3 1.5-0.2 1.2-1.8 0.8 0.3 0.6-1.1 2.9-1.1 0.6-0.9 0.8 0.2 1.3-1.4 0.7 0.1 0.6-1.4 0.7 0.1 0.5-2.1 0.9 1 0.7 0 4.7-3.4 0.2 2-103.2 63.6z" fill="url(#ga26)"/>
<path d="M88.1 193.1l5.7-3.7 1 0.4 1.5-1.9 2.5-1 0.6-1.4 1.1 0.6 1.4-1.8 1 0.5 0.6-1.4 1 0.2 1.3-2.3 1 0.8 3.1-2.6 2.5-1 3.7-3.5 0.5-10.6-3.7-41 2.9 5.5 2.2 6.9 9.9 24.1 4.3 4.9 0.8-0.4 1.7 0.5 5.9-4.5 3.9-1.3 0.6-1 1.6-0.5 0.6-1.2 3.8-1.7 0.6-0.9 0.9 0.2 1.2-2 0.9 0.6 2-2.3 3.1-1 1.3-1.2 0.8 0.2 0.6-1.2 1.5-0.6 1.3-1.6 0.8 0.2 0.7-0.9 1.5-0.1 0.6-1 0.9 0.5 0.6-1.3 0.7-0.2 0.2-4.1 1.2 3.2 4.9-3 0.8 0.5 0.5-1.6 1.5 0 0.6-1.1 1.4-0.6 0.2-4.1 1.2 3.4 3.4-2.5 2.2-0.3 2.5-2.6 0.4 2.6-103.4 63.8z" fill="url(#ga27)"/>
<path d="M88.9 193.2l1 0.4 0.7-0.9 1 0.1 0.5-1.8 4.3-1.7 1.5-1.6 2.5-0.9 0.6-1.4 2.7-0.3 0.7-1.2 1.7-0.4 0.6-1.2 3.4-1.4 1.4-1.6 1 0.3 0.7-0.5 2.3-1.8 1.9-3.6 0-9.2-2.9-32.4 1 0.4 0-4.7 2.2 7.1 1.4 2.1-0.1-5.1 5.4 19.3 5.7 11.9 2 1.6 0.8-0.4 1.1 1.2 3.8-2 0.9 0.2 0.5-1.6 0.9 0.2 1.3-1.9 1.7 0.4 1.3-1.9 1.7-0.1 2.1-1.9 3.8-1.6 3.5-2.8 3-1 0.7-1.2 2.9-1.3 0.6-1.3 2.1-1.3 1.6-0.2 2-1.9 0.9 0.6 0.5-1.5 2.3-0.4 1.3-1.4 0.8 0.2 0.6-1.2 1.4-0.7 0-5.7 1.4 5.1 1.3-1.8 1.5 0.4 2.7-2.2-0.1-6.4 1.5 5.3 8.2-4.5 0.3 2.3-103.4 63.9z" fill="url(#ga28)"/>
<path d="M90.1 195.3l4.1-2.4 0.6-1.5 1 0.4 1.8-0.3 3-3 1 0.1 4.9-2.6 0.6-1.3 2.5-1.1 0.7-1 0.9 0.1 0.6-1.3 1.7-0.2 3.9-3 1.3-6.6-2.6-30.8-0.1-9.7 0.5-2.1 2.4 7.4 0.8-0.1 7.3 19.7 2.8 5.6 1.3 2.6 4.7 2.6 3-2 2.4-0.4 1.4-1.8 3-1.8 0.8 0.1 2.9-2.5 0.5-1.6 1.1 1.6 1.3-1.8 1.6 0 4.2-3.6 3.1-0.8 1.2-2 1.6-0.3 0.8 0.6 0.5-2.1 1.6 0.3 2.6-3.1 0.9 0.6 2.1-1.4 1.3-1.6 0.1-5 1.4 4.8 2.8-1.7 1.3-1.6 3.6-1.3 0.5-1.6 2.9-0.5 2.1-1 1.2-1.7 0.8 0.6 1.3-1.5 2.1-1.1 0.1 1.3-103.4 64.1z" fill="url(#ga29)"/>
<path d="M90.8 195.5l1.1 0.6 0.6-1.4 1 0.1 2.2-2.6 1.9 0 0.6-1.3 3.3-2 1.8 0 3.8-3.4 8.9-4.8 2.8-3.3 0.6-10.3-3.2-39.1 3.6 9 0.9 0.2 7.2 19.5 5.3 9.7 2.7 0.8 3.1-1.4 0.9 0.4 5.8-4.5 0.9 0.2 1.3-1.9 0.8 0.2 0.7-1.1 1.5-0.4 1.4-1.5 1.6 0 2.1-2 0.9 0.3 0.6-1 4.4-2.6 0.6-1.1 0.8 0.2 0.6-1.3 0.9 0.7 1.4-0.6 1.3-2 0.8 0.3 0.7-0.9 2.2-0.5 1.3-1.8 2.2-0.8 1.3-1.5 0.8 0.3 2.8-1.6 3.4-2.9 1.5 0 1.3-1.4 1.4-0.2 1.3-1.8 2.1-0.4 4.1-2.8 0.1 1.6-103.5 64.2z" fill="url(#ga30)"/>
<path d="M91.3 194.6l1 0.3 1.6-1.7 0.9 0.2 2.4-2.1 1 0.5 2.2-2.7 1.7-0.4 3.2-2.6 1.7-0.4 7.2-4.4 0.7-1 3.3-1.3 0.6-1.2 1.1-3.3 0.1-8.6-2.9-37.5 1.5 3 0.9-0.3 2.4 8 0.6-1.2 2.9 10.2 0.9 0.5 3.6 9.8 3.8 6.6 2.9 1.6 0.7-0.6 3.2-0.6 2.1-2.4 2.4-0.8 2.2-1.7 0.8 0.2 2.1-2.3 1.6-0.3 2.1-1.9 0.8 0.2 0.6-1.4 0.8 0.2 3.7-2.2 1.3-1.7 0.9 0.6 2-2.2 2.3-0.6 2-2.4 0.9 0.9 0.6-1.5 1.5 0 2-2.2 0.9 0.6 4.8-3.8 2.2-0.5 1.1-2.6 0.9 1.3 0.1-5.5 1.2 3.7 0.7-0.2 3.6-1.5 1.9-1.9 0.8 0.7 2.6-3.1 0.8 0.4 0.6-0.9 0.4 3.3-103.6 64.4z" fill="url(#ga31)"/>
<path d="M92.5 196.3l0.5-1.9 1.2 1.2 0.5-1.9 1.9 0.1 1.4-1.9 1.8-0.5 2.3-2 5.8-2.9 2.3-2 2.6-0.8 0.6-1.4 0.9 0.2 2.3-1.9 2.4-1.1 1.3-2.3 0.8-5-0.2-5.5-2.8-32.9 0.5-2 0.9 0 4.6 9.9 5.2 13.9 4.3 8.9 3.9 2.7 3.2-1 5.9-4.3 3.8-1.6 3.5-3.2 0.9 0.5 1.3-2.2 0.9 0.4 1.5-0.6 0.5-1.6 3.2-0.2 1.2-2.2 0.4-2.5 1.1 1.7 1.4-1 0.8 0.2 1.4-1.5 5.7-3 0.8 0.2 2-2.4 0.8 0.2 2.7-2.6 2.2-0.5 2.7-1.6 0.7-1.1 1.4 0 2.7-2.6 0.5-1.8 0.9 1.4 0.7-0.2 1.3-1.8 1.4 0.1 1.3-1.2 0.4 3.1-103.6 64.6z" fill="url(#ga32)"/>
<path d="M93.5 197.5l1.6-1.2 0.9 0.1 1.5-1.7 3.3-2 2.6-0.9 0.7-1.1 0.9 0.1 0.6-1.5 1 0.5 2.3-2.4 1.9 0.4 0.6-1.3 0.9 0.1 1.4-1.9 4.9-2.6 2.8-3.5 0.6-10.2-1.9-23.8-0.6-17.2 12.5 33.7 2.7 5.1 1.8 0.8 1.1 1.4 1.8 0.3 3.8-2.2 0.8 0.2 3.7-3.1 5.9-3.5 1.6-0.4 0.6-1.2 1.6-0.1 3.5-3.4 0.9 0.6 0.5-1.4 2.4-0.1 0.6-1.1 0.3-3.6 1.2 2.9 0.7-0.3 2.8-2.8 2.2-0.4 1.3-1.6 4.4-1.9 1.3-1.7 0.7 0.1 1.4-1.5 2.1-0.6 2.7-2.6 0.8 0.8 1.3-2.1 2.2-0.2 0.6-1.2 0.7 0.3 5.4-4 0.3 2.2-103.8 64.8z" fill="url(#ga33)"/>
<path d="M94.8 200l0.6-1.2 2.6-1.4 0.9 0.2 1.5-1.8 0.9 0 4-3 1.8-0.2 0.6-1.2 3.4-1.4 0.6-1.3 0.9 0.1 0.7-1.1 5.7-2.6 1.4-2 1.7-0.5 0.6-1.3 0.8-5.1-0.8-12.9-3.7-33.1 2.8 9.8-0.3-6.5 1.7 4.1 1.1 1.1 7.3 20.6 2.9 6.1 3.4 4.8 0.9-0.1 1 1.1 3-2 0.9 0.4 5.2-3.6 0.6-1.6 0.9 1 1.4-1.8 3-1.3 2.1-2 0.9 0.5 6.4-5 0.9 0.4 2.8-2.5 0.8 0.2 0.4-2.4 1 1.5 0.7-0.4 1.3-1.9 1.6 0.1 4.1-3.2 0.8 0.1 0.6-1.3 1.5 0.1 3.5-2.3 0.6-1.1 2.1-1.3 0.8 0.2 10.8-7.3 0.1 0.6-103.8 64.9z" fill="url(#ga34)"/>
<path d="M95.7 200.8l11.5-7.1 1.5-1.5 0.9 0 11.1-7 2.9-3.2 0.5-2 0-9.2-2.8-28.2 0.8-0.8-0.4-6.6 2.3 2.5 2.4 7.9 1.5 3.5 1 0.3 3.6 10.2 4.3 9.4 2.1 2.1 1.8 0.6 4.7-2 29.9-18.7 1.4-1.4 0.7 0.1 20.1-12.6 0.3-3.4 1.1 2.6 0.6-0.5 0 0-103.8 65.1z" fill="url(#ga35)"/>
<path d="M96.6 201.5l0.6-1.3 1 0.3 0.7-1.4 1.8-0.2 2.3-2.4 1.8-0.3 0.6-1.2 1 0.4 1.5-1.8 0.9 0.2 0.7-1.1 0.9 0 1.5-1.7 4.9-2.3 2.3-2.4 1.7-0.4 1.4-1.6 1 0.4 0.5-1.9 0.8-0.4 0.5-11.2-2.8-33.1 0-4.6 0.7-1.4 5.7 16 6.3 15.4 3.8 7 2 1.7 1.5-1.1 1 0.4 2.3-0.7 0.7-1.1 1.6-0.3 2-2.8 1 0.9 3.6-3 2.3-0.9 1.4-1.5 1.6-0.2 0.5-1.4 0.9 0.2 4.3-3.3 1.6 0 2-2.1 3-1.2 0.6-1.2 1.5-0.4 1.3-1.3 1.6-0.1 0.5-1.4 0.8 0.2 2.9-1.6 3.4-3.1 0.8 0.2 1.4-0.7 2.6-2.6 2.9-0.6 3.4-2.9 2.7-1.1 2-1.9 0.1 0.7-103.9 65.2z" fill="url(#ga36)"/>
<path d="M97.2 201.1l1.1 0.6 0.6-1.4 1.6-1.2 1 0.1 1.5-1.8 5.1-2.1 1.4-2 7.4-3.7 1.5-1.6 0.9 0 4.7-3.3 1.3-2.3 0.7-5.4-0.1-5.2-3.3-31 0.6-1.7-0.3-6.7 3 6.4 0.7-0.8 6.1 18.6 3.1 7.6 2.6 4.7 2.2 2.6 1 1 0.8-0.6 1 0.9 0.6-1 4.7-2.2 0.6-0.9 2.4-0.6 2.9-2.8 0.8 0.3 0.6-1.3 3.8-1.5 3.6-3.1 1.5-0.3 1.4-1.5 0.8 0.2 0.6-1.1 1.6-0.1 0.6-1.1 2.3-0.6 2-2.2 2.3-0.5 1.3-1.8 2.9-0.8 1.3-1.7 0.8 0.3 1.8-3.7 0.9 0.9 4.2-2.7 1.5 0.3 2-2.2 0.7 0.1 2-1.9 2.1-0.7 2.7-2.3 0.7 0.2 0 0.3-103.9 65.4z" fill="url(#ga37)"/>
<path d="M98.3 202.5l24.4-15 3-2.4 1.4-6.5-2.8-38.1 1-4.5 2.8 5.5 5.5 15.2 6 14.1 1.1 1.4 2.8 1.3 3.9-1.6 1.5-0.9 0.6-1.4 0.9 0.5 1.4-1.4 3.8-1.9 0.7-1 1.5-0.4 7.4-4.6 0.1-4.5 1.3 3.6 0.7-1.3 0.8 0.3 0.6-0.9 0.8 0 7.9-4.9 0.6-1.2 1.6-0.2 22.8-14.4 0 0-104 65.5z" fill="url(#ga38)"/>
<path d="M98.3 199.1l2.4-2 3.5-1.2 5.5-0.2 0.7-0.9 3.5-1 6.3-4.4 2.9-3.4 0.9 0.1 2.1-3 1.2-3 0.3-3.3-0.4-11.1-3.1-30.9 0.8-0.6 1 0.6 1.3 2 5.5 15.4 5.9 13.4 2.3 3.3 1.9 1 3.2-1.1 2.2-1.8 2.4-0.9 0.6-1.1 1 0.6 1.3-1.7 3-1.8 0.9 0.5 1.4-1.8 0.8 0.2 1.3-2.1 0.9 0.1 0.6-1 3.7-2.2 0.9 0.4 0.6-0.7 1 0.8 1.5-0.3 0.9 0.5 0.6-1.1 2.3-0.1 2.2-1.2 4.3-2.9 1.1-3.1 1.6 1 3.5-3.1 0.7 0.1 0.6-1.7 3.2-4 6.9-4.5 1.4-0.6 0.8 0.5 2.7-2.2 0.5 4.2-104.1 65.7z" fill="url(#ga39)"/>
<path d="M100.1 203.8l4.9-3.1 0.7-1.4 1 0.7 5.6-4.1 1 0 0.6-1.3 1.8-0.3 7.2-4.5 0.6-1.3 0.9 0.1 0.7-1 0.9 0 2.2-2.5 0.7-10.2-2.5-27.3 1 0.5-0.6-13.3 2.3 7.7 1 0.9 7.2 19.9 5.2 9.9 2.8 1.3 1.6-0.4 1.4-1.4 0.9 0.3 3.6-3.3 2.5-0.4 8-5.7 3.7-2.3 0.8 0.1 0.6-1 0.9 0.1 4.3-2.7 1.4-1 0.4-3.1 1 2.1 2.2-1.2 0.6-1.5 0.8 0.3 0.6-0.9 0.9 0.3 1.4-0.9 1.3-1.5 0.4-2.6 1 1.8 0.8 0 1.3-1.5 0.8 0.2 10.3-7.2 0.8 0.3 4-2.8 0.6-1.1 0.1 0.9-104.2 65.8z" fill="url(#ga40)"/>
<path d="M100.8 203.8l1 0.3 0.7-1 5.1-2.6 2.3-2.1 1 0.2 3.3-2.1 1.4-1.7 3.4-1.3 0.6-1.3 2.6-1 2.2-2.5 1 0.7 0.8-0.5 2.9-3.5 0.6-5.8-0.2-10.3-2.2-21.6 0.3-7.7 1.1 0.7 1.6 4 2.3 3 5.7 16.4 4.1 8.6 2 2 1.8 0.6 3.2-1.1 0.6-1.4 3.2-1 0.6-1.2 0.9 0.3 4.4-3 0.7-1.2 2.3-0.6 6.6-4.2 2.1-2.1 1.5-0.3 0.1-5.3 1.4 4.3 6.4-4.3 0.8 0 0.6-1.5 1.5 0.1 2.7-2.6 0.8 0.5 1.4-1 1.3-2.2 0.8 0.7 0.7-0.2 2-2.1 0.8 0.3 0.6-1.4 1.5 0.1 2.7-1.9 1.3-1.8 2.2-0.3 0.4-3 0.9 2.2 2.1-1.2 0 0-104.3 65.9z" fill="url(#ga41)"/>
<path d="M101.3 202.7l3.2-2.6 1.9-0.2 1.5-1.7 1 0.3 1.7-0.9 1.8 0 3.9-3.1 1.8-0.5 1.4-1.8 1 0.1 4-2.3 1.4-2.1 3.8-3.4 0.8-5.1-1.4-31.2 0.5-2 0.9-0.2 1.2 1.8 3.1 6.9 0.9 0.3 4.9 12.9 3.3 3.8 1.9 1.2 2.2-1.9 0.9 0.4 4-1.5 0.6-1.2 0.9 0.1 0.6-1.3 0.8 0.2 3.1-1.6 2.9-2.1 0.4-2.8 1 1.4 3.1-1.3 0.6-1.1 0.9 0.6 0.6-1.8 6.1-1.2 0.7-1 0.9 0.5 0.6-1.1 1.5-0.3 1.3-1.6 0.9 0.5 0.6-1.2 2.2-0.8 1.3-1.9 1.5-0.1 2.8-2 1.4-1.1 1.2-2.5 4.1-3.2 1.5-0.4 0-5.8 1.3 4.3 0.7 0 0.6-1 0.8 0.5 4.8-3.4 0.7 0.4 0.3 2.8-104.3 66.1z" fill="url(#ga42)"/>
<path d="M102.6 205.1l0.7-1.3 1.9 0 7.2-5.5 1 0.4 1.5-1.7 0.9 0 0.7-1.2 1.7-0.5 1.4-2 1.1 0.6 2.3-2.1 7.2-4.4 1.1-3.1 0.5-7-1.7-23.5 0.6-1.5-0.3-6.7 1.1 1.2 1.6 3.7-0.2-5.6 2.8 10.2 4.7 11.8 3.7 6.2 3 2.3 3.2-1 3.8-1.9 0.7-1 0.9 0.2 5.8-4.9 3.1-0.8 2.1-2.1 1.6-0.3 3.6-2.9 0.8 0.4 0.6-1.2 1.6-0.3 1.3-1.7 0.9 0.4 2.1-1.7 0.1-5 1.3 3.9 1.4-1.4 0.9 0.9 1.2-2 0.8 0.4 1.3-1.8 3-1.1 4.8-3.9 2.8-1 0.6-1.3 1.5-0.1 1.3-1.7 3.4-1.9 0.8 0.2 2-2.1 0.7 0 0.1 1.2-104.4 66.3z" fill="url(#ga43)"/>
<path d="M103.4 205.5l1-0.1 0.7-1.1 1 0.2 4.8-3.9 4.2-2 2.3-2.1 2.6-0.9 0.6-1.4 1.8-0.2 3-2.8 2.6-0.7 2.8-3.8 0.4-7.7-0.9-13.9-2.7-24.4 0.5-7.3 4 7 4.7 16.3 4.9 12.5 2.6 5.1 3.9 2.6 1.6-0.4 2.9-2.5 0.9 0.1 1.4-1.9 1.7 0.2 0.6-1.2 4.5-2.9 3.8-1.6 0.6-1.6 0.8 0.5 3.6-3.1 2.3-0.5 0.6-1.6 2.4-0.2 0.6-1.1 0.8 0.3 2.7-3 1.6 0.1 3.4-3.3 0.8-0.1 0.5-2 0.9 1.2 0.8-0.2 3.5-2.4 0.7 0.1 1.4-1.6 1.4-0.4 0.6-1.3 0.8 0.3 0.6-1.2 0.8 0.2 2.8-1.6 2-1.8 0.5-2 0.9 1.6 0.5-2 0.9 1.2 2.7-1.6 0.1 0.8-104.4 66.5z" fill="url(#ga44)"/>
<path d="M104.3 205.9l1.9 0 1.4-2.2 5.9-3 0.7-1.4 1.1 0.9 2.9-3.5 4.3-1.4 1.5-1.8 1.7-0.5 0.7-1.2 1.7-0.4 3-2.8 1.1-8.1-0.1-5.3-4.3-38.2-0.6-8.2 0.4-2.8 2.1 6.3 1.1 1.4 8.7 28.3 3 7.4 2.7 5.1 3 2.4 1.7 0.3 3.9-2.2 0.6-1.1 1.6-0.3 5.2-3.7 0.9 0 0.6-1.3 2.3-1.1 0.8 0.2 0.6-1.2 2.2-1.5 0.9 0 0.6-1.1 0.8 0.1 1.4-1.4 1.5-0.4 0.5-2.2 1 1.3 0.2-4.2 1.3 3.3 0.6-0.8 0.9 0.2 2.7-2.8 1.5-0.4 0.2-4.7 1.3 4.2 4.1-3.8 2.3-0.3 1.3-1.9 2.9-0.7 3.4-3 1.5 0.2 0.5-2 0.8 0.4 1.4-0.7 0.6-1.1 6.2-3.4 0.2 1.1-104.5 66.6z" fill="url(#ga45)"/>
<path d="M105.1 206l1 0.2 0.7-1.2 1.8-0.5 1.4-2.2 3.5-1 3.1-3.1 3.5-1 0.6-1.3 1.7-0.5 3.9-3.2 1.7-0.5 0.7-1.2 2.5-1 1.2-3 0.3-12.7-5.1-47.3 4.4 9 9.8 30 3 6.7 3.3 4.6 0.9 0.3 7.1-3.1 2.1-2.5 1.8 0.5 2.8-3 8.3-4.5 0.6-1.3 1.4-0.9 0.9 0.2 3.5-2.8 0.3-3.6 1.2 2.6 0.8 0.1 0.6-1 1 1 0.5-1.7 16.3-10.1 1.3-2 0.8 0.7 4.8-3.5 1.5-0.2 0.1-5.5 1.2 4.5 2-1.9 0.2 2.3-104.5 66.8z" fill="url(#ga46)"/>
<path d="M105.8 205.8l1 0.2 1.6-1.4 1.8-0.3 1.6-1.7 0.9 0.2 0.7-1.1 4.2-2.2 0.7-1.4 4.1-2.1 0.7-1.3 1 0.4 0.7-0.9 0.9 0.1 1.5-2 2.6-0.4 3.6-4.8 0.3-7.8-3.8-40-0.7-8.7 0.4-3.4 3 6.6 10.2 32.4 6.3 11.2 2.4-0.5 1 0.4 0.5-1.7 1.8 0.3 0.6-1.4 1.6-0.4 0.7-1 1.6-0.3 2.1-2.3 0.9 0.2 0.6-1.1 1.6-0.2 0.7-1.2 2.4-0.3 1.3-1.9 1.6-0.2 0.6-1.4 1.6-0.2 1.3-1.8 0.9 0.5 0.6-1.2 3-1.8 0.8 0.1 1.3-1.6 0.8 0 1.4-1.3 1.6 0.1 0.5-1.6 2.3-0.8 1.3-1.3 3.7-1.2 1.9-2.9 0.9 0.5 0.7-0.3 0.6-1.4 0.8 0.4 7.6-5.5 1.4-0.6 0.7 0.4 0.6-1.2 3.4-2.4 0.3 2.6-104.6 67z" fill="url(#ga47)"/>
<path d="M106.3 204.7l2.4-2.3 1.9 0.2 0.7-1.1 1 0.2 0.8-0.8 1 0.3 0.7-1.2 3.8 0.5 1.4-2.2 1.8-0.3 1.5-1.6 1.8-0.4 1.4-2 0.9 0.1 0.7-1.3 1.8 0.1 1.2-3.3 0.9 0.3 2-3.5 0.5-2.4-0.4-11.7-3.2-32.4 0.3-8.6 1.3 2.4 4.1 12.4 0.9 0.4 2.7 10.1 3.1 7.6 4.2 9.1 2 1.8 4.1-1 1.5-1.5 2.3-0.9 1.5-1.8 2.4-0.3 1.3-2.1 1 0.7 0.7-0.7 0.9 0.4 1.2-2.6 3.1-1.1 1.4-1.7 3.7-2 3.2-0.1 0.7-0.9 1.7 0.6 1.4-0.8 0.7-1.1 5.1-2.5 1.3-1.7 3.6-2.1 0.1-5.6 1.3 4.6 2.1-1.5 1.9-2.9 1.5-0.6 1.9-2.8 1.5 0.1 2.1-1.2 2.7-2.6 0.8 0.8 0.6-1 1.5-0.1 1.3-1.4 0.5 4.8-104.7 67.1z" fill="url(#ga48)"/>
<path d="M108 208.6l1 0.4 3-3.5 1.1 0.5 3.2-2.6 1.8-0.5 2.3-2.3 0.9 0.1 2.4-1.9 2.6-0.9 0.6-1.2 3.4-1.5 2.9-3.2 1.7-0.5 0.9-4.9-0.2-10.8-2.8-35.2 0.3-3.3 0.8-0.8 11.1 32.3 3.9 7.8 2.2 2.5 0.8-0.2 1.1 1.3 0.5-1.5 1 0.4 0.7-0.8 0.8 0.1 1.5-1.5 2.4-0.8 1.4-1.5 0.8 0.1 0.7-1 3.9-1.5 2.1-2.5 0.8 0.2 3.8-2 2.1-2.3 1.5-0.4 0.7-1 0.8 0.1 1.4-1.2 0.5-1.8 0.9 0.5 0.7-0.7 0.8 0.4 5.6-4.7 0.9 0.4 4.2-3.4 2.1-0.9 0.8 0.3 2-2.8 0.8 0.7 2-2 1.6 0.3 1.2-2 4.2-2.2 1.3-1.4 1.5-0.1 2-1.8 0.1 1.1-104.8 67.3z" fill="url(#ga49)"/>
<path d="M108.9 209.3l4.2-2.7 1.7-0.5 1.5-1.9 1 0.3 0.7-1 4.3-2.1 0.6-1.2 1.7-0.9 1 0.2 0.6-1.4 1.7-0.8 0.6-1.1 2.7-0.6 3-2.8 0.9-0.2 1.3-2.5 0.2-13.1-3.2-33 0.5-7.1 4.2 8.3 9.2 27 3.7 6.6 3.6 1.3 3.2-1.4 2.9-2.6 1.6-0.4 0.7-1.2 1.6 0 1.4-1.6 2.4-1 1.3-2.2 0.9 0.9 0.6-1.6 1.6 0 3.5-3.4 1.7 0 4.2-3.5 0.9 0.6 0.6-1.5 2.9-1.4 0.1-5.6 1.4 5.2 0.7-1.2 2.2-0.7 0.6-1.2 2.9-1.4 4.8-4 2.9-0.9 1.4-1.5 2.1-0.6 1.2-3.1 0.9 1.2 0.7-0.1 0.6-1.1 3.4-2.2 0.8 0.6 0.6-1.3 0.2 1.6-104.8 67.5z" fill="url(#ga50)"/>
<path d="M109.9 210.4l0.8-1 1.8-0.4 0.7-1.2 1.8-0.1 2.2-3 0.9-0.4 1 0.6 2.3-2.3 1 0.2 2.2-2.7 2.7-0.6 0.6-1.2 0.9-0.1 1.5-1.7 1 0.5 5.4-4.8 1.1-8.6-3.5-39.4 0.8-0.5 0.1-10.1 3.2 12.9 1.6 4.3 1 0.7 7.2 21.1 3.7 6.7 1.9 1.1 1.8 0.3 0.7-1.1 1.6-0.1 3-2.5 0.9 0.4 2.2-2.1 0.8-0.1 0.6-1.2 1.7 0 1.3-2 0.9 0.5 0.6-1.7 1.6 0.1 1.4-1.7 1.6 0 0.6-1.6 1.6 0.1 0.6-1.4 0.2-4.3 1.3 3.6 2.3-0.7 0.7-1.3 1.5-0.2 3.5-3.3 4.3-2.6 1.6 0 0.6-1.4 0.8 0.3 0.7-0.5 0.6-1.3 0.8 0.2 2.7-2.3 1.5-0.3 0.7-1.1 1.4-0.4 1.4-1.3 1.5 0.1 0.5-1.9 1.5 0.3 2-2.2 1.4-0.6 1.5 0.1 0.5-1.7 2.2-0.4 0.1 0.9-104.9 67.6z" fill="url(#ga51)"/>
<path d="M110.7 210.3l1 0.3 0.7-1 1.9-0.1 0.7-1.4 1.7-0.6 0.6-1.7 1 0.5 1.6-1.7 1 0.4 0.7-1.2 0.9-0.1 2.3-2.2 0.9 0 2.4-2.2 0.9 0.2 2.3-2.2 1 0.6 4.7-4.1 1.2-3.1 0.6-6.3-2.1-31.7-1.6-14 1.8 4.9 0.3-3.2 5 13 4 12.4 4.3 10.2 2.4 3.9 2.8 1.4 3.1-1.6 1 0.6 2.1-2.5 2.3-1 1.5-1.5 1.6-0.3 1.3-2 1.6-0.2 1.5-1 0.2-4.5 1.3 3.1 0.8 0 2.1-2.1 2.4-0.4 1.3-1.7 0.8 0.1 2.9-2 1.4-1.4 0.1-5.6 1.4 4.6 1.4-1.1 0.8 0.5 0-6.1 1.4 4.6 4.3-2.4 1.4-1.8 2.2-0.6 2-2.2 0.8 0.3 0.6-1 1.5-0.2 3.4-2.9 0.8 0.4 5.4-4.4 1.5-0.3 1.3-1.3 0.8 0.5 0 0.6-104.9 67.8z" fill="url(#ga52)"/>
<path d="M110.8 207l0.9 0 1.6-1.7 2.8 0.1 0.6-1.6 2.9 0.3 4.5-1 2.3-2.3 1.8-0.3 0.7-1 0.9-0.1 1.5-1.8 0.9 0 1.5-1.4 1 0.3 0.5-2 2.3-2 1.4-2.6 0.2-13.7-3.1-37.4 1.5 3.2 0.5-2.5 3.8 11.7 0.9-0.1 2.4 8.8 6.2 15.7 0.8-0.4 2.2 2.6 2.5-0.4 0.7-0.9 0.9 0.2 1.4-1.7 1.7-0.1 2.1-2.5 0.9 0.3 2.3-0.9 3.8-2.6 1.3-2.1 0.8 0 1.5-1.6 0.9 0.7 2.2-1.5 0.6-1.3 0.9 0.3 1.4-1.3 0.9 0.7 0.8-0.3 0.7-0.4 0.5-2.3 1.1 2.2 3.1-0.4 0.6-1.2 1.6-0.2 4.2-3.6 0.8 0.2 3.5-2.4 0.6-1.6 0.8 0.3 0.6-1.5 0.7-0.1 5.3-6.3 0.8 0.2 2-2.2 0.8 0.5 0.6-1.2 0.8 0.7 1.3-1.6 2.2-0.4 2-2 0.5 5.6-105 67.9z" fill="url(#ga53)"/>
<path d="M112.7 212.5l0.7-1.2 4.3-2.1 3.3-2.4 1 0.2 1.4-2 1 0.1 0.7-1.1 3.4-1.6 1.4-1.8 1.9-0.1 2.2-2.5 1.8 0.2 3.8-4.2 0.9-4.4 0-4.9-2.8-36.4 0.4-7.7 3.3 8 0.9 0 6 19.3 5.5 12.2 3 2.6 0.8-0.7 1.7 0.1 3.7-3 3.2-1.2 0.6-1.1 2.5-0.2 0.6-1.4 4.5-3.3 0.8 0 8.8-5.7 0.7-1 2.3-0.7 2-2.1 1.6-0.2 1.3-1.7 5.1-2.6 0.7-1 2.2-0.8 1.3-1.9 0.8 0.4 0.6-0.8 0.8 0 0.6-1.3 0.8 0.5 2-2.3 0.8 0.4 1.3-1.5 1.5-0.4 0.2-4.3 1.1 3.4 2.7-2.3 3.5-1.7 0.1 1.3-105 68.1z" fill="url(#ga54)"/>
<path d="M113.7 213.3l3.4-1.9 0.7-1.1 1 0.1 0.7-1.3 1.8 0 0.7-1.3 4.1-2.7 1 0.1 1.5-1.8 1.7-0.6 0.7-1.1 0.9 0.1 0.7-1.4 1 0.5 7-5.6 0.7-1.5 0.1-14-1.1-16.5-1.9-15.9 0.2-3.9 2.5 3.4 0.5-2.2 7.7 23.9 4.4 10.5 3.3 4.4 1.5-0.8 1 0.8 0.7-0.8 2.5-0.6 0.6-1.1 1.7-0.5 0.6-1.1 3.1-1.5 0.7-1.3 2.4-0.5 3.6-2.9 1.6-0.3 2.1-2.6 2.3-0.5 3.6-3.1 3-1.1 0.6-1.2 2.3-0.6 1.3-1.9 0.9 0.5 3.5-3.2 1.5 0 2-2.2 0.8 0.3 1.4-1.5 0.7 0.1 2.8-2 0.6-1.5 1.6 0.3 3.4-2.9 7.6-4.3 0 0.6-105.1 68.3z" fill="url(#ga55)"/>
<path d="M114.7 214.6l1.8-0.6 5.7-4.4 3.5-1.5 0.7-1.1 1.7-0.5 2.4-2 5.8-3.3 0.7-1.1 0.9 0 3.8-3.4 1-4.3-0.2-11.6-3.5-34.9 0.6-1.9 0.9-0.2 1.4 2.8 1 0.5 2.5 9.1 0.9 0.5 4.1 13.4 3 7.2 2.5 4.7 3 2.9 4.8-1.7 9.1-5.8 1.5-1.6 2.3-0.8 0.3-3.7 1.1 2.3 0.8-0.1 1.4-1.8 0.8 0.4 0.7-1.2 1.5-0.3 4.4-3.4 2.2-0.9 0.6-1.2 0.9 0.3 2.8-2.4 0.8 0 2.1-1.3 0.7-1.1 0.7 0.1 0.7-1.2 2.9-1.1 2.7-2.6 0.8 0.3 4.1-3.5 1.5-0.1 1.3-1.7 0.8 0.3 4.7-3.9 2.1-0.8 0.1 0.3-105.2 68.4z" fill="url(#ga56)"/>
<path d="M115.8 215.7l4-3.3 1 0.1 0.7-1.4 1.8-0.2 0.7-1.1 3.4-1.6 2.4-2.4 1.7-0.3 0.6-1.8 1 0.6 0.7-1.2 1.8-0.5 0.6-1.4 1.8-0.2 4.6-4.1 1-4.6-0.1-10.5-3.1-38.7 1.1 1.1 0.7-1 2.3 7.7 0.3-3.1 2.9 11.7 3.6 10.8 4.3 10.3 3.3 4.2 1.7-0.2 1 0.9 6.2-3.6 0.6-1.4 0.9 0.4 2.9-2.6 2.4-0.8 2.1-2.2 0.9 0.2 5.8-4.6 1.6-0.3 0.6-1.3 2.2-1 0.7-1 0.8 0.2 1.5-0.7 0.5-2 1.6 0.4 0.7-0.9 0.8 0.1 1.3-1.8 0.8 0.2 5-3.7 3.6-1.5 1.3-2.4 0.8 0.4 2.1-1.3 0.5-2.2 0.9 1.3 0.7 0 2-2.1 3.5-1.5 0.7-1.2 3.4-2.4 0.1 1-105.3 68.6z" fill="url(#ga57)"/>
<path d="M116.5 215.5l5.8-4.3 1.8-0.5 4-3.5 1.8-0.1 1.5-2 1.8 0 1.5-1.7 2.5-1.1 4.8-3.6 2.1-3.3 0.6-6.6-0.3-6.8-2.5-30 0.1-4.5 1 0.2 0-5.5 2.5 9.5 1.1 1.4 3.2 7.9 3.9 12.9 4 8.7 3.1 2.9 4-1.3 1.4-1.8 1.7 0 0.6-1.7 2.5-0.2 0.6-1.6 2.4-0.1 0.6-1.8 0.8 0.2 2.2-2 6.8-3.5 2.1-2.2 0.9 0.3 0.5-1.6 2.4-0.4 1.3-1.9 1.6 0.1 1.3-2 0.8 0.2 1.4-1.6 0.8 0.8 0.4-3.6 1 2.1 3.5-3 0.8 0.2 4.2-2.6 0.7-1.1 0.8 0.4 2.8-1.8 2-2.4 2.2-0.3 1.2-1.9 0.8 0.1 4.1-2.7 0.1 0.9-105.3 68.8z" fill="url(#ga58)"/>
<path d="M117.6 216.6l1.5-1.7 1.9-0.2 0.7-1.3 1.7-0.7 2.4-2.4 1.1 0.8 0.6-1.5 0.9 0 2.3-2.4 1.8-0.4 2.4-2.2 1 0.7 0.7-1.4 0.9 0.4 0.7-1.5 1.7-0.7 3.9-3.3 1.3-2.6 0.3-13.6-3.2-39.1 3.8 5.7 3.7 11.4 1.2 1.7 3.8 12.5 2.8 6.5 2.3 3.5 3.7 1.4 1.3-2.2 1 1 3-2.7 0.8 0.2 4.6-3.2 0.9 0.4 0.5-1.6 2.3-1.6 0.9 0.5 0.6-1.6 1.6-0.2 2.9-2.5 0.8 0.2 0-5.8 1.4 4.5 0.7-1.2 3.1-0.7 2.1-1.8 0.6-1.4 0.9 0.6 0.6-1 3-1.5 0.6-1.3 1.5-0.7 0.8 0.5 2-2.4 1.5-0.3 0.7-0.8 0.5-2.6 0.9 1.8 0.7-1 3.6-1.4 0.6-0.9 0.8 0.3 0.6-1.5 1.5 0 0.6-1.1 0.3-4.7 1.2 4.1 1.3-1.3 0.7 0.1 0.6-1.4 0.8 0.2 2.7-2.2 0.8 0.3 0.6-0.5 0.1 0.5-105.4 69z" fill="url(#ga59)"/>
<path d="M118.6 217.8l5-3.9 5.1-2.5 1.5-1.9 1 0.3 3.2-2.2 0.7-1.4 0.9 0.2 5.6-4.2 1.8-0.5 1.5-1.3 1.3-2.7 0.6-6.9-2.8-37-0.3-12.5 2.1 7.1 4.5 10.6 5.6 17.6 2.8 6.4 3.2 4 1.8 0.5 4-1.7 0.6-1.3 0.9 0.3 7.5-5.5 2.3-1 5.9-4.3 8.9-5.3 0.7-1.1 0.8 0.1 0.6-1 0.8 0.1 6.4-4.7 1.5-0.5 2.1-2 0.7 0.1 2.1-1.8 2.2-0.9 0.6-1.1 1.4-0.4 0.6-1.6 0.8 0.4 1.4-0.6 7.6-5.2 0 0.3-105.4 69.2z" fill="url(#ga60)"/>
<path d="M119.6 218.4l23.9-15.4 0.7-1.2 0.9 0 2.1-3.5 0.4-7.6-2.8-37.6-0.1-11.4 1.3 2.2 2.7 10.8 0.8-0.7 8.9 27.2 3.5 5.4 1.9 1.5 4.1-1.2 25.5-16.7 0.6-1.2 0.8 0.3 7.2-5.3 1.5-0.4 0.2-4.9 1.2 3.9 1.4-1.4 1.4-0.4 17.4-11.7 0 0.2-105.5 69.4z" fill="url(#ga61)"/>
<path d="M120.5 218.8l0.9 0 0.7-1.3 1.9-0.3 1.4-2.3 3.5-1.2 5.7-4.4 1 0.2 5.5-4.4 1 0.1 0.6-1.4 4.8-3.7 1-4.5 0-5-0.7-14.2-2-23 0.3-9 2 1.3 4.3 14.5 6.7 19.5 3.7 7.2 2 1.6 5.6-2.1 3-2.7 2.4-0.7 4.4-3.5 0.7-1.2 0.9 0.5 4.4-3 0.7-1.4 0.8 0.2 3.6-2.8 0.9 0.4 2.8-3 3-0.8 3.5-3.4 2.2-0.6 4.9-4 3.7-1.7 1.3-1.5 1.5-0.2 1.3-1.6 2.1-1.1 0.6-1.1 0.9 0.7 1.3-1.8 4.8-2.5 0 0.3-105.5 69.5z" fill="url(#ga62)"/>
<path d="M121.3 218.8l1 0.1 0.7-1.2 2.6-1.3 0.7-1.3 0.9 0.1 4.2-2.9 0.9 0.1 7.2-5.9 1 0.5 3.1-3 1.8-0.1 0.6-1.9 1.6-0.7 1.4-2.5 0.5-7.3-2.3-29.4-0.3-18.4 1 0.3 2.3 8.4 1 0.9 1.4 2.7 2.8 11.8 4.9 13.9 4.5 6.4 4.1-0.7 3-2.7 1 0.7 2.3-1.2 2.9-2.9 0.9 0.3 4.4-3.4 0.7-1 0.1-5.4 1.5 5.1 1.5-0.7 1.4-2 4.6-1.6 1.3-1.8 1.5-0.4 2.1-2.4 1.5-0.3 2.9-2.5 0.8 0.3 2.1-1.4 0.6-1.5 0.9 0.5 1.3-1.3 0.4-3.5 1 2.4 0.8-0.1 0.6-1.6 1.5 0 2.1-1.5 0.6-1.6 0.8 0.3 0.6-0.7 0.8 0.5 5.5-4.2 0.8 0.1 0.1-6.2 1.3 5.4 0.6-1.3 1.4-0.3 0.1 0.9-105.6 69.7z" fill="url(#ga63)"/>
<path d="M122.3 219.7l1.5-1.8 1 0.2 0.7-1.4 1 0.1 1.7-1.1 1.4-2 1.1 0.3 2.3-2.5 1.8-0.3 0.7-1.3 3.4-1.5 2.4-1.9 1 0.2 1.4-1.9 4.9-2.8 1.2-3.4 0.3-14-2.8-32.9-0.6-9 0.5-2.8 10.7 32.2 4.5 11.8 3.3 4.6 3.4-0.1 3.9-2.4 0.7-1.1 3.2-1.3 0.6-1.2 0.9 0.4 1.4-1.7 1.6-0.5 0.7-1 2.3-1 0.7-0.9 0.8 0.3 0.7-1.5 1.6-0.1 2.8-3 0.8 0.1 0.7-1 2.3-0.7 0.6-1.2 1.6-0.1 1.4-1.9 0.8 0.2 4.2-3.5 1.6-0.2 1.3-1.7 0.8 0.4 2.1-2.3 0.8 0.3 2-2.4 2.9-1.2 0.5-2.7 0.9 1.4 0.6-1 0.8 0.8 1.3-1.8 2.9-0.9 1.3-1.7 4.9-2.5 0.1 1.2-105.7 69.8z" fill="url(#ga64)"/>
<path d="M123.3 220.4l4.1-3.4 1 0.5 0.8-0.6 3.2-2.9 0.9-0.5 1 0.4 2.3-2.7 3.4-1.6 0.6-1.4 8.3-4.4 2.2-3-0.2-22.6-2.4-30.4 0.9 0.1 0.5-2.7 2.7 10.7 0.6-2 4.5 16.5 1.1 1.8 4.7 13 1 0.7 1.3 2.9 2.7 0.4 1.5-0.8 2.6 0.2 3.7-3.7 2.4-0.7 1.4-1.9 2.4-0.7 0.6-1.1 6.9-3.8 0.6-1.2 0.9 0.4 1.3-1.8 2.3-0.9 1.4-1.8 1.6-0.1 1.3-1.9 2.3-0.7 4.2-3.6 1.6 0 1.3-1.8 3-0.8 2-2.6 0.8 0.4 2-2 0.8 0.2 1.4-1 0.6-1.6 3.6-1 1.3-1.9 0.8 0.5 4-3.6 0.1 1.6-105.7 70.1z" fill="url(#ga65)"/>
<path d="M124.3 221.5l1.7-1.3 1 0.3 3.1-3.4 1.1 0.6 3.1-3 2.6-1.6 0.9 0.1 1.6-1.3 0.7-1.5 0.9 0.2 4.1-2.4 3.2-2.8 0.9 0 2.3-2.4 0.6-1.7 0.4-13.1-3.2-46.8 2.2 8 0.8-0.8 2.5 9.4 8.5 25.3 3.6 6.8 3.6 0.6 3.2-1.1 0.6-1.3 1.7-0.3 0.6-1.2 0.9 0.2 2.1-2.5 0.9 0.5 4.5-3.9 3-1.4 4.4-3.5 0.8 0 0.7-1.1 3-1.2 2.2-2.1 1.5-0.1 1.4-1.8 2.2-0.8 2.1-2 3.7-1.9 0.6-1 1.5-0.3 0.1-6.1 1.2 4.2 1.5-0.3 7.1-4.2 1.9-3.1 0.8 0.5 1.4-0.3 0.7-1.3 1.4 0.1 2-2 0.1 0.6-105.8 70.3z" fill="url(#ga66)"/>
<path d="M125.2 221.6l0.7-1 1.1 0.4 1.6-1.2 3.2-3.3 6-3 1.5-2 1.8-0.3 2.3-2.2 1.8-0.5 0.7-1.2 1.7-0.3 2.5-1.6 2.9-4 0-15.5-2.4-31.1 1-5.4 0.8-0.8 2.8 6.5 2.3 8.6 6.5 18.5 2.7 5.8 2 2.1 1.9 0.9 1.6-0.6 1.4-1.9 2.5-0.4 1.4-2 2.4-0.2 1.4-2.1 0.9 0.3 2.2-2 3.1-1.4 2.1-2.4 3.1-1.3 0.6-1.6 1.6 0.2 7.3-5.5 5.2-2.4 0.6-1.3 0.8 0.1 2.8-2.6 2.2-0.8 1.3-1.7 2.2-0.7 2-2.1 0.8 0.2 2.1-2.1 1.5 0.2 0.5-1.5 0.8 0.3 0.7-1.1 0.7 0.4 1.3-1.7 0.8 0.6 1.3-2.5 0.7 0.4 0.6-1.2 0.2 2-105.9 70.4z" fill="url(#ga67)"/>
<path d="M126 221.5l5.8-4.3 1.8-0.4 2.4-2.3 5.1-2.5 0.7-1.7 2.7-0.1 0.6-1.8 5-2.5 2.4-2 1.9-4.7-0.2-12-2.6-32 0.6-1.8-0.4-8.4 3.8 12.4 0.9-0.5 1.4 3.4 7.1 22.3 1 1 2.6 5.6 2.8 1.5 1.6-1.2 1.7 0.2 2.2-2.5 5.5-2.6 0.6-1.1 3.9-2.1 0.6-1.3 0.2-4.6 1.4 4.3 2.2-1.7 0.2-4.9 1.3 3.4 1.5-0.3 5.2-3.9 1.5 0 2.1-2.2 4.5-2.2 0.6-1.5 0.8 0.4 4.3-2.8 1.3-2.3 1.5 0.2 1.4-1.6 0.8 0.2 6.9-5.2 0.8 0 0.4-3.7 1 3.5 1.3-2.1 0.3-5.1 1.1 4 0.8 0.6 1.3-1.6 0.2 2.1-106 70.6z" fill="url(#ga68)"/>
<path d="M127.2 223.5l3.3-2.9 3.5-1.5 0.6-1.6 1 0.1 2.5-1.7 0.7-1.1 4.3-2.1 2.3-2.2 1.7-0.8 1 0.3 3.8-4.2 1 0.3 1.4-1.8 1.1-9.6-1.9-33.5-1.6-15.8 1 0.3 1.4 3.5 1 0.4 2.4 9.1 1.3 2.7 7.1 22.6 4.7 7.8 0.9 0.4 1.7-0.4 3.8-2.5 1 0.5 3.7-3.5 1.6 0 0.6-1.8 0.8 0 3-2.2 0.9 0.1 2.9-2.8 2.3-1.1 0.4-2.6 1.1 1.7 0.6-0.9 0.9 0.1 1.2-2.6 0.9 0.6 0.8-0.3 0.6-1.3 0.9 0.5 0.6-1.3 0.8 0.3 1.5-1.3 0.7 0.1 1.4-1.7 0.8 0.3 0.7-1.4 0.8 0.5 0.6-1.1 1.5-0.6 5-3.9 0.8 0.5 1.3-2 2.2-0.7 2-2 0.8 0.2 0.7-0.9 3.5-1.5 1.3-2.4 0.8 0.5 2.7-2.2 0.7 0.2 0.7-1.3 0.1 1.7-106 70.8z" fill="url(#ga69)"/>
<path d="M128.3 224.5l0.6-1.5 9.4-5.4 0.7-1.1 1 0 4.8-3.9 1.8-0.5 2.3-2.6 1.9 0.3 1.4-2.1 2.4-1.9 1.3-3 0.5-2.6-0.3-12.6-3.6-44.1 2.5 3.7 4.9 13.7 2.5 10.1 4.8 13.8 2.5 5.2 0.9 0.4 1.2 2.1 1.8 0.4 0.7-1 1.8 0.3 1.4-1.6 3.2-1.1 0.7-1.3 3.1-1.4 4.5-3.5 1.7 0 1.3-2.2 3.8-1.6 2.9-3 0.8 0.4 8-6.2 1.6 0.2 0.5-2 0.9 0.7 1.3-1.9 2.2-1.3 0.8 0.6 0.6-1.4 0.8 0.3 1.4-2 2.2-0.5 5.5-4.5 0.8 0.4 5.5-4.3 0.6-1.2 1.5 0.4 0.6-1.2 0.2 1.2-106.1 71z" fill="url(#ga70)"/>
<path d="M129.1 224.7l1.5-2.3 1.1 0.6 4.1-3.6 2.7-0.6 2.2-3.2 3.6-0.8 3.8-4.1 1 0.2 1.5-1.9 4.2-1.9 2.1-3.4 0.6-7.4-3-46.2 1.3 1.9 0.2-4.2 1.3 1.9 2.4 9.5 3 7.5 3.9 14.1 4 8.9 2.2 3 0.8 0.1 2.6-0.3 2.2-2 0.9 0.3 3.8-2.9 1.6-0.5 4.5-3.8 1.6-0.2 0.6-1.4 1.6-0.5 0.7-0.9 0.9 0.7 2.1-2.4 6.7-4.1 0.7-1.4 0.8 0.5 2.2-1.1 1.4-2.2 1.5-0.4 0.6-1 2.3-0.6 0.6-1.4 1.5-0.7 0.2-5.1 1.2 4.1 3.6-2.5 1.5 0 0.6-1.3 3.5-2.5 1.5-0.2 1.3-1.7 0.8 0.2 3.4-2.8 0.7 0 1.3-2.5 0.8 0.8 0.1 1.8-106.1 71.1z" fill="url(#ga71)"/>
<path d="M129.9 224.4l1-0.1 0.6-1.5 1 0.2 3.2-3.2 1.1 0.4 0.8-0.4 0.7-1.6 5.2-2.3 0.7-1.4 2.4-1.7 1.9-0.1 1.4-2.2 5-2.6 2.3-2.6 1-4.8 0-11.3-2.9-34.4 1-5.4 2.8 5.8 0.9-0.1 5.8 20.2 4.5 12.2 2.4 4.3 1.9 1.2 3.3-0.7 1.5-1.3 0.9 0 0.7-1.3 3-2.1 2.4-0.9 3-2.4 0.9 0.3 3.7-2.9 1.4-1.9 1.6-0.1 1.4-1.3 0.9 0.2 2.1-2.7 0.8 0.3 1.5-0.9 0.6-1.1 0.9 0.3 4.3-3.6 5.1-2.6 3.5-3.3 2.2-0.9 0.7-1.1 1.5-0.2 0.3-3.9 1 2.2 2.9-1.1 1.3-1.9 0.8 0.4 2.7-2.3 0.8 0.4 3.4-2.9 0.7 0.2 0.2 1.5-106.2 71.3z" fill="url(#ga72)"/>
<path d="M130.9 225.2l1 0 0.7-1.5 3.5-1.6 0.8-1 0.9 0.2 0.8-1.3 0.9 0.1 4.1-3.5 0.9 0.1 3.2-2.9 1.8-0.5 4-3 2.6-1 1.4-2.5 0.8-0.3 1.2-9.1-3.1-47.6 1-5.7 4.5 16.8 8.4 26.1 3.5 5.5 1.8 1.1 2.6-0.2 0.7-1 0.9 0.6 1.5-1.8 0.9 0.5 2.1-2.6 2.4-0.9 1.5-1.6 3.9-1.6 3.7-3.4 0.8 0.1 1.4-1.3 0.9 0.3 0.6-1.6 2.2-1.4 1.6-0.2 2.1-2.5 2.3-0.8 0.7-1 0.8 0.3 0.6-1.4 3-1.2 1.3-2.1 2.3-0.4 1.4-1.6 0.8 0.4 2.7-2.8 1.5-0.1 4.2-3.7 2.2-0.6 0.6-1.4 2.2-0.3 3.4-3.5 2.1-0.8 0.1 1.9-106.2 71.5z" fill="url(#ga73)"/>
<path d="M132.1 227l1.8-0.7 2.5-2.2 1 0.5 1.7-1.5 0.6-1.5 1.8-0.5 0.8-0.9 1 0.6 0.7-1.2 1.8-0.6 4-3.8 5.8-3.1 3.9-4.1 1.2-8.9-2.8-40.2 0.1-11.3 4.9 14 4 14.4 0.9 0 2.2 8.3 3.9 8.8 3 3 3.3-1.1 3.1-2.3 0.8 0.3 3-2.9 3.1-1.5 3-2.7 11.3-6.7 2.1-2.3 0.5-3 1 2.8 1.4-1.6 0.9 0.5 2.8-3.2 2.2-0.7 2.1-2.2 1.5-0.1 0.6-1.5 0.9 0.7 2.7-2.7 0.8 0.4 0.6-1.4 5-3.2 0.3-4.5 1.1 3.7 5.6-3.5 0.6-1.2 0.8 0.3 0.6-0.7 0.1 0.7-106.3 71.7z" fill="url(#ga74)"/>
<path d="M132.8 226l0.7-1.5 0.9-0.1 0.8-1 1 0.4 0.8-0.8 1 0 1.5-2.1 1 0.4 5.5-1.3 2.3-2.3 7.5-4.4 3-4 0.9 0 1.3-2.9 0.2-15.6-1.4-14.6-1.3-25.3 1.3 2.3 0.9-0.3 2.8 6.2 4 14 5.9 16.3 1.3 2.9 2.9 2.1 0.9 0 0.7-1.3 1.7 0 4.5-4 2.4-0.9 1.4-1.8 2.5 0.1 2.2-2.8 0.8 0.4 0.7-1.3 1.6-0.2 4.4-4.2 4 0 0.7-0.8 0.8 0.4 3-1.4 2.9-2.6 2.2-0.8 3.5-3.4 0.8 0.5 4.2-4.7 1.4-0.8 0.6-1.7 0.8 0.3 2.7-3.2 4.2-2.4 0.7-1.3 0.7 0.5 1.4-1.6 1.5 0.4 2-2 0.2 3.2-106.3 71.9z" fill="url(#ga75)"/>
<path d="M134.3 229.4l0.8-1.1 1 0.2 4.2-2.8 2.4-2.6 1 0.3 0.7-1.3 1.8-0.4 0.7-1.4 0.9 0.1 2.6-1.5 0.7-1.2 2.5-1.3 1.5-2 0.9 0.2 3.4-1.9 1.5-1.4 1.3-3 0.5-8-2.6-45.8 0.8-0.9 4 8.2 9.9 30.6 2.4 4.4 0.8-0.1 1.9 1.1 0.9 0 2.2-2.1 0.9 0.4 2.3-2.2 0.8 0.1 1.5-1.5 1.6-0.5 3.7-3.6 2.4-0.6 6.6-5.1 2.3-0.9 0.7-1.1 2.3-0.9 2.1-2.5 3-1 2.1-2.3 1.5-0.2 3.6-3.1 1.5-0.3 1.3-1.9 0.8 0.4 2.9-1.9 1.3-1.9 0.8 0.5 4.1-3.6 1.5-0.5 0.4-3.7 0.9 2.4 4.9-2.9 0 0.3-106.4 72.1z" fill="url(#ga76)"/>
<path d="M135.2 229.2l2.6-1.2 1.5-2.1 3.6-1.2 1.5-2.1 1 0.1 7.3-5.9 1 0.1 1.5-1.6 2.6-0.8 4.7-4.8 0.6-1.9 0.5-8-0.6-15.3-2.4-27 0-6.1 2.1 7.4 0.2-4.4 2.5 4.2 6 21.9 4.2 11 2.5 4.9 0.8-0.3 1 1.2 2.5-0.5 3.2-2 0.8 0.3 2.2-2.4 3.2-1.5 1.4-1.9 0.9 0.5 1.4-1.6 0.9 0.1 0.6-1.2 2.4-0.8 1.4-1.9 3.8-1.9 1.4-1.7 3.1-1.1 0.6-1.1 0.8 0.1 1.4-1.7 0.8 0.1 1.4-1.6 0.8 0.2 2.2-1.5 1.4-1.7 1.5-0.4 0.6-1.1 3-1.5 2.8-2.4 2.2-0.8 1.3-1.4 0.8 0.5 1.4-1.8 1.4-0.4 1.3-2 2.9-0.7 2-2.3 2.1-1.2 0.1 1.2-106.5 72.2z" fill="url(#ga77)"/>
<path d="M136 228.8l1 0.3 8.4-6.3 1.7-1 0.9 0.2 4.1-3.6 1.7-0.6 2.4-2 1 0 1.4-2.1 3.3-1.9 1.6-1.8 1.1-4.3-0.2-12.2-2.8-42 3.3 3.2 10.5 34.4 2.5 5.5 2.1 2.6 2.7 0.4 0.6-1.1 2.5-0.7 0.7-1.1 0.9 0.4 2.2-2.5 1.6-0.4 2.2-2.1 6.2-3.3 0.7-1.3 0.9 0.5 2.8-2.9 0.9 0.2 3.6-3.1 4.5-2.3 2.8-3 1.5-0.7 0.8 0.3 1.4-2.1 0.8 0.1 0.6-0.9 8-4.5 1.3-2.3 1.5-0.2 0.5-2.5 0.9 1.5 0.7-0.9 0.7 0.2 2.8-2.3 0.7 0.5 1.3-2.3 0.8 0.4 2.7-2.4 0.2 1.9-106.6 72.5z" fill="url(#ga78)"/>
<path d="M137.3 231.3l1-0.1 1.5-2.1 3.5-1.9 2.3-2.8 1.9-0.1 6.5-5 1 0.1 0.7-1.2 0.9 0.1 0.7-1.7 2.6-0.9 1.5-1.7 1 0.7 2.2-3.1 1.1-4.5 0.1-5.5-2.3-44 1.8-0.1 1.9 6.2 0.8-0.8 6.9 22.2 4.2 11 0.9 0.6 1.3 2.5 0.7-0.5 1.8 0.6 4.8-2.8 7.5-6 2.4-0.4 0.7-1.4 1.5-0.7 0.7-1.1 1.6-0.5 2.2-2 2.3-0.5 0.7-1.3 2.3-0.8 0.7-1.3 0.8 0.3 0.6-1.8 0.9 1 2.8-3.2 1.5 0.1 1.4-1.8 1.5-0.2 0.7-1.2 1.5-0.8 0.3-4.6 1 2.9 2.3-0.3 0.6-1.6 0.8 0.5 2.1-2.1 1.4-0.3 0.7-1.3 0.7 0.1 0.4-4.4 1 3.2 2.8-1.8 0.6-2.6 0.8 1.4 1.5-0.4 4.1-3.2 0 0.9-106.6 72.6z" fill="url(#ga79)"/>
<path d="M138.5 232.7l24.2-16.6 3.1-3 1-4.9 0.1-11.1-2.5-33.9 0.9-0.2-0.7-10.7 1.9 6 1.1 1.2 10.3 33.6 2.4 4.9 2 2.1 1.8 0.6 4-2 19-12.9 0.4-3.9 1.1 2.9 14.7-10 0.4-3.9 1 2.9 8.6-5.8 0.6-1.1 0.8 0.1 10.4-7.2 0 0.1-106.6 72.8z" fill="url(#ga80)"/>
<path d="M139.5 233.5l2.5-2.2 20.1-13.3 1.5-1.8 0.9 0.1 2.4-2.5 1-4.7 0.3-10-2.1-31 0.5-9.1 1.5 3.9 1 0 0.7-1.1 2.6 11.2 7.8 23.5 2.2 3.5 1.9 1.3 2.5-0.5 3.9-2.4 4.7-3.2 1.4-1.6 1.6-0.5 15.7-10.7 0.7-1.3 0.8 0.3 2.2-2.2 0.7 0.2 7.2-5.5 0.8 0 7.1-4.9 0.6-2.7 0.8 1.7 5-3.3 0.6-0.7 0.4-5 1.1 4.3 1.3-1.6 0.7 0.1 2.1-1.5 0 0.1-106.7 73.1z" fill="url(#ga81)"/>
<path d="M140.1 232.1l0.9-0.6 1 0.3 5.8-4.9 1.9-0.2 3.1-3.4 1.9-0.1 3.2-3 3.4-1.7 0.7-1.1 1 0.2 0.6-1.7 1.8 0.2 2.4-2.5 1.2-9.5-0.7-22.1-1.7-23.7 0.7-1.5 2.7 5.8 11.1 33.7 3.1 3.6 1 0.7 1.7 0.1 0.7-1.6 0.9 0.5 1.5-1.6 1.6-0.6 0.7-1.2 0.9 0.5 2.2-2.2 2.4-0.7 0.7-1.4 1.6-0.5 1.4-1.6 1.7 0 1.4-1.9 5.3-3 1.4-1.6 1.6-0.3 1.4-1.9 3-1.6 0.2-5.8 1.2 4.4 1.6-0.1 1.4-1.5 1.5-0.2 0.6-1.7 2.2-1.1 1.4-1.6 2.2-1.5 2.2-0.5 2.8-2.6 0.4-3.7 1.1 3.6 1.3-1.9 0.8 0.4 0.6-1.1 2.2-1 2.7-3.1 0.7 0.6 2.8-2.2 0.1 1.6-106.8 73.2z" fill="url(#ga82)"/>
<path d="M140.5 229.6l6-4.4 2.7-0.7 1.1 0.5 2.6-1 0.8-1.1 1.7-0.5 3.3-2.7 1 0.5 4-4 0.9 0.1 0.6-1.9 1.7-0.9 2.1-3.7 0.6-13.8-2.9-43.3 1.4 2.8 0.9-0.3 5.7 20 2.6 5.9 3.2 10 2.4 4.5 2.8 1.5 1.7-0.2 2.2-2.4 3.2-2.1 0.9 0.3 4.5-3.6 1.7-0.1 3.6-4.2 0.9 0.7 1.4-2.3 0.8 0.2 2.3-1.5 0.7-1.3 0.9 0.6 0.6-1.2 0.9 0.7 0.7-0.7 0.9 0.6 0.3-4.5 1.3 4.6 3.8-1.9 2.1-2.5 0.8 0.5 1.4-1.9 4.4-2.4 3.5-3.1 4.8-5.9 0.8 0.1 4.8-4.8 0.8 0.6 1.3-1.6 0.8 0.7 0.7-0.4 2.8-2.5 0.4 6-106.8 73.4z" fill="url(#ga83)"/>
<path d="M142.4 235l0.7-1.7 1 0.3 2.4-2.6 1 0.2 2.4-2.6 1 0 3.3-2.6 1 0.2 4.8-4.3 1 0.3 1.5-2.1 1.7-0.5 1.6-1.5 1 0.1 0.6-1.6 0.9 0.3 2.2-3.8 0.7-7.1-2.2-39 0.3-9.9 1.7 5.2 0.8-1.1 10.1 32.8 2.4 4.9 2.2 3.1 0.9 0.1 1.5-1 1.8 0.2 3-2.9 2.5-0.2 0.6-1.4 0.9 0.1 0.7-1.3 0.8 0.3 1.4-2.2 1.7-0.2 0.7-1 0.8 0.3 0.7-1.4 3.9-1.7 0.6-1.7 1.6 0 4.5-3.3 0.6-1.2 0.8 0.2 2.2-1.8 0.8 0.2 2.1-2.6 1.6-0.3 1.3-1.8 0.8 0 3.7-2.1 0.6-1.9 0.8 0.7 1.4-1.1 0.4-4.3 1 3.2 1.5-0.7 0.6-1.2 2.3-0.2 0.6-1.4 2.8-2 2.2-0.6 2-2 0.3-7 1 4.9 0.8 1.1 0.7-1.5 1.4-0.9 0.1 1.8-106.9 73.6z" fill="url(#ga84)"/>
<path d="M143.3 234.7l2.6-1.7 1 0.1 2.3-2.7 1.9-0.2 5-4.1 9.2-5.8 0.7-1.5 0.9 0.3 3.2-2.6 1.4-2.8 0.6-7.7-0.4-14.9-1.8-24.2 1.1 0.8-0.9-18.6 3.3 16.4 2.9 7.5 3.9 14.4 1.1 1.8 3 8.9 2.3 3.7 1.8 0.9 1.7-0.2 0.8-0.8 0.8 0.3 0.7-1.2 1.7-0.5 1.4-2 0.9 0.6 6.1-4.6 0.7-1.3 0.9 0.5 3-2.6 0.8 0.2 1.4-2.1 0.8 0.2 1.5-1.6 1.6 0.1 1.5-1.2 0.6-1.5 1.6-0.3 1.4-1.5 0.8 0.3 2.9-3 2.2-1 0.7-1 0.8 0.1 0.6-1.4 0.8 0.4 1.5-0.6 0.7-1.4 7.2-4.4 0.6-1.5 0.8 0.6 2.1-2.2 1.5 0.5 0.6-2 0.7 0.1 6.3-4.6 1.4-0.4 0.1 1-107 73.8z" fill="url(#ga85)"/>
<path d="M144.2 234.6l1.9-0.2 2.4-2.5 1.8-0.7 1.6-2 0.9 0.1 5.9-4.1 1.8-0.5 2.3-2.8 1 0.2 1.6-1.1 0.7-1.5 1.8-0.1 3.2-2.9 1.4-2.6 0.6-8.2-0.3-7.8-2.3-40.6 1.4 3.3 0.8-0.6 1.2 1.5 2.1 8.4 1.2 2 3.6 12.9 4.4 12.6 2.3 4.4 1.8 0.2 1 1.2 2.4-1.8 0.8 0.1 3.1-2.6 0.8 0.2 0.7-1.3 2.4-0.7 0.7-1.6 0.8 0.2 0.7-1.3 4.7-2.2 6-4.3 0.7-1.2 0.8 0 4.5-2.8 0.7-1.1 0.7-0.1 0.4-4.2 1.1 3.1 8-5.9 4.4-2.4 0.7-1 0.7 0.4 0.7-1.5 3.6-1.4 3.5-3.1 0.3-5.9 1 4.4 0.8 0.2 2.7-2.5 2.2-1 0.7 0.3 0.1 1.1-107 74z" fill="url(#ga86)"/>
<path d="M145.3 235.9l1.6-2.1 1 0.3 4.1-3.9 1 0.5 0.7-1.3 3.5-1.9 0.7-1.3 1.8-0.5 3.3-2.6 2.6-1 1.5-2.1 1 0 1.6-1.2 3.1-3.3 1.1-4.4 0.2-5.1-2.2-46.3 1.3-3.3 1.2 1.8 7.6 27.8 5.3 13 2.2 3.6 0.9 0.2 3.3-0.6 3.1-3.1 0.9 0.7 3-2.9 7.7-4.6 1.5-1.8 2.3-1.4 0.8 0.4 1.4-2.2 0.8 0 1.4-1.6 0.9 0.8 0.7-1.4 2.2-1.9 8.1-5.1 0.8 0 1.4-1.5 0.3-5.3 1.1 4 0.8 0 2.8-2.1 0.7-1.2 0.8 0.6 3.5-3.4 2.8-1.4 2.1-1.9 0.8 0.5 1.3-1.8 4.3-2.3 0.6-1 0.2 2.6-107.1 74.2z" fill="url(#ga87)"/>
<path d="M146.3 236.5l0.9-0.5 0.7-1.6 1.9-0.2 1.4-2.6 1.1 0.5 1.6-1.8 1.8-0.3 2.4-2.6 1.1 0.9 0.6-1.9 3.5-1.7 1.5-2.2 0.9-0.4 1 0.5 0.7-1.2 0.9 0.2 1.6-2 0.9 0.1 3.1-3.1 1.3-9.4-2.5-49 1.5 4.1 0.5-3.2 0.9 0.2 4.1 16.3 7.5 22.1 2.3 4.1 2 1.7 1.8 0.6 0.7-1.3 0.9 0.2 2.2-2.2 1.7-0.1 0.7-1.4 3.9-2.1 2.2-2.4 0.9 0.6 2.2-2.3 1.6-0.5 1.4-1.8 2.3-1.3 0.7-1.3 1.6 0.3 2.9-3.2 1.6-0.3 1.4-1.8 1.1-4.5 1.1 3.5 0.8-0.3 2.9-2.7 0.8 0.2 2.8-2.4 0.8-0.1 0.7-1.3 0.8 0.5 1.3-2.2 3-0.8 1.3-2.9 0.8 1.2 0.7-1.1 5-2.6 0.6-1.1 2.2-0.7 2-2.7 1.4-0.2 0.4-5.6 1 4.7 0.2 2.4-107.1 74.4z" fill="url(#ga88)"/>
<path d="M147.4 237.3l2.6-1.8 0.9 0 4.2-3.5 1.8-0.6 3.2-3.4 1 0.3 0.7-1.2 2.7-0.9 3.3-2.6 1.7-0.4 5.6-5.5 1.1-4.5 0.1-11.6-2.8-44.8 0.1-5.5 2.5 10.5 1 1.1 1.6 4.5 4.2 17.2 6.8 17.6 1.1 1.3 1.8 1 3.4-0.6 2.2-2.2 0.9 0.3 3.9-2.9 0.6-1.4 1.8 0.5 2.1-3.2 0.9 0.5 4.5-3 0.7-1.3 6.9-3.8 2.1-2.3 1.6-0.4 0.6-1 0.3-5.5 1.2 4.3 1.5-0.3 0.7-1.5 0.8 0.7 3.6-3.4 3.7-1.4 2.1-1.8 0.7-1.4 1.4-0.4 1.4-1.8 1.5-0.2 2.1-2 5-2.3 0.6-1.4 1.4-1 0.7 0.3 1.4-1.6 0.1 2.1-107.2 74.6z" fill="url(#ga89)"/>
<path d="M148.8 239.9l0.7-1.6 1.6-1.4 1 0 1.6-2.1 3.4-2.2 1 0.2 0.7-1.4 2.7-1 3.2-3 1.8-0.4 1.5-2.4 1.8 0.1 6.4-5.7 1.1-4.8 0.1-11.6-1.1-13.7-0.5-22.8 0.9-0.8 0.4-3.6 11.1 35 3.7 8 2.8 1.8 1.7-0.5 6.1-5.3 1.7-0.2 3.8-2.5 3.7-3.6 1.7 0.1 1.3-2.4 3.2-1.1 0.6-1.4 2.3-0.8 4.5-3.4 0.8 0.2 2.1-2 1.4-2.5 0.8 1.2 0.7-1 1.6-0.3 0.6-1.2 3.7-2.1 0.6-1.6 0.8 0.6 2.1-2.2 0.8 0.7 1.4-1.9 3.6-2 2.7-2.9 2.9-0.8 2-2.2 0.8 0.5 1.3-2 0.1 1.8-107.2 74.8z" fill="url(#ga90)"/>
<path d="M149.5 238.9l2.8-0.7 1.7-1.5 1.8-0.6 0.7-1.2 2.7-0.8 0.7-1.6 9.3-5.9 3.3-2.9 0.9-0.1 3.9-3.8 1-5.3 0.1-11.8-2.1-34.5 0.4-3.6 0.9-0.4 1.5 4.5 0-6.8 2.8 13.6 1.1 1.7 5 17 4 10.1 3 3 5.6-2.5 0.7-1.7 0.9 0.7 0.7-1.3 1.6-0.5 3.8-3.5 1.6-0.3 0.7-1.3 1.6-0.1 0.6-1.6 0.9 0.3 3.7-3.5 0.8 0.4 2.2-2.6 0.7-0.4 0.9 0.5 0.7-1.4 1.6 0.3 0.6-1.7 0.8 0.3 0.8-0.4 0.6-1.4 3.7-2.1 1.4-2.5 0.8 0.8 0.8-0.2 1.4-1.6 0.8 0.2 0.6-1.2 4.4-2.5 0.7-1.1 0.7 0.1 2.8-2.5 0.8 0.1 2-2.2 4.3-2 3.4-3.4 1.5-0.1 0 0.9-107.3 74.9z" fill="url(#ga91)"/>
<path d="M150.8 240.8l2.7-1.3 3.3-2.7 1 0 2.4-2.6 4.3-2.4 0.6-2.1 1.1 0.8 1.7-1.1 1.5-2 1 0.4 3.3-2.5 0.7-1.4 0.9 0.2 2.4-2 1.4-2.9 0.7-7.6-1.5-49.2 1.2 1.8 1.9 7 1 0.8 2.6 11.9 2.6 6.4 1.9 7.5 3.7 7.8 2.9 2.7 1.6-1 0.9 0.2 0.7-1.1 1.7 0.1 1.5-1.7 3.2-1.6 3-3 0.8 0.1 0.7-1.4 2.4-0.8 2.9-2.9 0.9 0.7 0.7-0.9 0.8 0.1 2.9-3.3 0.8-0.6 0.8 0.4 1.4-1.6 0.9 0.2 0.6-1.5 1.6-0.1 1.4-1.8 3-1.6 0.7-1 0.7 0.2 1.5-1.1 1.3-2.4 0.9 0.6 0.6-1.1 4.4-2.3 4.2-4.2 0.8 1.2 0.8-0.4 0.4-3.8 0.9 1.8 2.2-0.8 1.4-1.3 0.6-1.6 0.7 0.4 1.4-1.7 2.8-1 0.7-1.2 0.1 1.4-107.4 75.1z" fill="url(#ga92)"/>
<path d="M151.7 240.6l1.5-2.3 1.9-0.1 5.2-3.5 1 0.6 1.7-1.5 5.2-2.4 0.7-1.3 2.6-1.2 3.3-2.8 0.9 0.2 3.7-5.5 1.3-3.8 0.2-4.6-1.9-45.8 4.2 9.8 0.6-2.2 2.2 9.4 5.8 17.2 1 1.2 1.4 3.8 1 1 3.5 0.5 1.4-2.7 0.9 0.3 1.6-0.7 6.2-4.8 0.8 0 1.5-1.4 0.9 0.3 2.9-3.5 0.8 0.2 2.2-2.1 0.9 0.1 5.2-3.6 0.8-0.3 0.9 1.1 2.9-2.6 0.8 0.1 2.2-1.6 1.6-0.3 0.6-1.6 0.8 0.4 1.4-1.3 0.3-5.7 1.2 4.5 0.7-1 0.7 0.2 10.5-10.8 2.2-0.8 1.4-1.6 0.8 0.7 0.6-1.6 1.4-0.9 1.5 0.5 0.6-1.4 1.4-0.9 0.2 2.9-107.4 75.4z" fill="url(#ga93)"/>
<path d="M153.1 243.4l11.2-7.6 0.7-1.5 1 0.3 0.7-1 10.9-7.2 3.2-3.1 1.1-4.4 0.3-4.4-1.1-34.1 0.6-9 1.1 1.6 0.9-0.7 2.9 8.1 5.1 18.8 2.6 6.2 1.2 2.6 2 2.2 0.8-0.5 0.9 0.6 4.9-2.5 3.8-2.7 0.7-1.1 0.9 0 12.9-9.6 6-3.7 0.7-1.2 1.5-0.3 0.7-1.4 0.8 0.3 2.9-2 0.7-1.3 1.5-0.3 0.7-1.3 0.8 0.3 21.9-15.7 0 0.2-107.4 75.6z" fill="url(#ga94)"/>
<path d="M154.2 244.4l12.8-9 3.2-3.5 1.9 0 1.5-2 5.1-2.7 2.4-2.2 1.4-2.7 0.7-14.4-1.4-30 1-5.9 2.1 2 1.6 5.1 0.6-2.2 4.3 18.7 4 10.5 2.2 3.9 2.7 0.8 5.6-2.8 3.1-2.7 10.8-7.1 0.6-1.6 4.6-2.1 8.2-6.3 1.3-2.1 0.9 0.7 3.7-2.2 4.3-3.6 0.3-5.9 1.1 5.3 16.9-12.1 0.1 0.3-107.6 75.8z" fill="url(#ga95)"/>
<path d="M183.6 204.4l14 5.1 0.3 2.6-12 8.5z" fill="#fff"/>
<g opacity="0.76">
<path d="M36.1 59.8l94.6 51.8 123.9-69.6-102.9-36.5z" fill="#1818ff"/>
<g clip-path="url(#clipa)">
<g filter="url(#bl1.3)">
<path d="M70.2 43.8l11.6-5.4 6.9 2.5 2.7 1.3 1.2 1.1 3.4 0.1 0.8 1.3 4.7 1.2 2.3 1.6 3.6 0.9 2.7 1.4 3.4 1.1 2 1.9 4.5 1.5 1.5 1.2 1.3 0.3 2.1 1.9 3.9 1 1.3 1.3 3.8 1.1 2.1 2.1 18.1 7.6 6.7 3.3 2.9 1.9 3.5 0.4 1.7 1.5 4 1.3 7.4 4.6-14.8 8.3-14.9-6.6-1.8-1.4-10.5-4.8-12.6-6.5-14.2-6.3-1.7-1.1-1.4-2.3-0.9-0.5-6.9-3.3-3.5-1.2-6.8-4-3.3-1.1-6.3-4-5.7-2.4-4.8-2.8z" fill="#4c4cff" fill-rule="evenodd"/>
<path d="M72 43l8.2-3.9 7.5 3.1 3.2 1.9 2.7 0.4 1.6 1 4.8 1.2 2.3 1.5 3.6 1 5.9 2.6 2.4 1.6 4.3 1.7 4 2.9 4.5 1.6 1.6 1.2 3.4 1.3 7.9 4.3 8.3 3.2 11.2 5.3 3 1.8 7.7 2.9 9 4.8-12.7 7.2-10-4.4-6.7-3.6-10.5-4.8-15.9-8-9.9-4.3-3.3-2.3-0.8-1.6-14-6.4-5.1-3-2.2-0.7-6.2-4-5.7-2.4-4.9-2.7 0.8-0.4z" fill="#7272ff" fill-rule="evenodd"/>
<path d="M72.8 42.6l6-2.8 5.8 2.2 5 2.7 9.3 2.5 2.4 1.5 3.5 1 12.6 6 3.9 2.8 4.5 1.7 12 6.2 13.8 5.8 9.8 5 8.8 3.6 7.8 4.3-10.9 6.1-10.1-4.4-6.6-3.6-10.5-4.8-17-8.5-9.8-4.2-2.3-1.8-0.7-1.7-14.1-6.3-5.1-3-2.2-0.7-6.1-4.1-10.3-5.2 0.5-0.3z" fill="#9898ff" fill-rule="evenodd"/>
<path d="M73.7 42.2l3.5-1.7 2.6 1.3 4.4 1.3 3 1.9 9.6 2.3 3.6 1.9 3.4 1 12.6 6 5 3.3 3.5 1.2 7.7 4.2 13.6 5.7 11.3 5.3 3.1 1.8 7.4 3 9 4.9-9.4 5.3-8.8-3.9-35.3-17.3-9.9-4.2-1.7-1.2-1.2-2.4-14.1-6.3-4.1-2.6-3.2-1.1-5-3.8-6.3-2.9-4.6-2.9 0.3-0.1z" fill="#bebeff" fill-rule="evenodd"/>
<path d="M78 43.4l5 0.2 0.7 1.4 3.1 1.1 9.3 1.6 3.4 1.9 3.5 1 14.4 7 2.2 1.8 4.5 1.7 7.8 4.2 13.5 5.8 6.4 3.2 5 1.9 1.9 1.3 8.5 3.7 9.2 4.7-8.3 4.7-6.4-2.7-37.7-18.5-10-4.1-2.2-1.9 0-1-0.5-0.8-14.2-6.3-4.1-2.5-3.1-1.2-3.1-2.4-1.8-2.3-6.9-2.6-0.1-0.9z" fill="#e4e4ff" fill-rule="evenodd"/>
<path d="M88.6 48.4l0.6-0.5 1.6-0.1 4.4 0.3 1.2 0.4 2.2 1.5 4.7 1.4 5.6 2.8 1.4 1.2 4.4 1.6 2.2 1.8 5.4 2.2 8.9 4.6 16.9 7.4 2.9 1.8 5.1 1.8 3 1.9 7.4 3.1 6.5 3.7 2.8 1-7.2 4-6.4-2.7-10.2-5.3-10.6-4.6-18-9.1-9-3.5-1.7-1.2-0.8-2.6-5.4-2.1-9.7-4.6-3.2-2.1-3.2-1.2-1.8-1.7 0-1.2z" fill="#ffffed" fill-rule="evenodd"/>
</g>
<g filter="url(#bl0.8)">
<path d="M89.5 49.7l0.4-0.7 0.9-0.4 3.4 0 3.3 2 6.2 1.5 1.4 1.2 3 1.3 1.3 1.2 4.5 1.6 1 0.9 0.6 1.2 2.9 0.5 3.3 1.3 11.9 6.3 13.8 5.7 2.9 1.9 5 1.8 4.1 2.5 5.1 2 7.8 4.2 2.9 0.9-6 3.4-6.4-2.7-10.3-5.2-3.9-1.4-7.9-3.8-14.7-7.5-11.3-4.5-1.8-1.4-0.1-2.6-3.3-0.8-2.6-1.1-10.5-5.2-3.1-2.1-2.2-0.7-1.6-1.3z" fill="#ffffab" fill-rule="evenodd"/>
<path d="M90.9 49.5l3.1 0.1 0.8 0.5 0.1 1.3-3-0.8-0.8-0.5-0.2-0.6zM97.2 51.6l4.1 0.8 1.4 1.1 4.5 1.5 1.5 1.2 4.2 1.7 0.9 1.6-1.1 0.4-3-0.4-11.8-5.5-1.5-1 0.8-1.4zM114.7 60.8l2.9-0.4 3.5 1.2 4.3 2.9 8.3 4.1 3.8 1.2 9.1 4 3 1.7 4.9 2 4.1 2.4 7.5 3.1 5 3.4 2.5 1.1-3.6 2-9.1-3.6-7.9-4.1-5-1.9-20.5-10.2-6.4-3-6.1-2-1.6-1.1-0.4-0.9 1.7-1.9z" fill="#ffff6a" fill-rule="evenodd" opacity="0.6"/>
<path d="M98.4 53.1l1.4-0.2 1.3 0.6-1.1 0.3-1.2-0.2-0.4-0.5zM101.6 54.6l3.3 0.6 1.3 0.7-2.3-0.2-2.3-1.1zM113.8 62.2l1.6-1.1 1.3-0.2 1.7 0.1 2.1 0.9 6.4 4.9 8.5 3 6.4 3.2 2.8 0.7 4.1 2.3 4.8 2 2.7 2.1 9.2 3.3 3.3 2.1 0.8 2.3-2.1-0.1-6.1-2-3.1-2-2.5-1-1.8-1.4-5.5-1.7-20.1-10.3-6.6-2.9-6.4-1.8-1.6-1.2 0.1-1.2z" fill="#ffff28" fill-rule="evenodd" opacity="0.6"/>
<path d="M114 63.1l1-1.3 2.7-0.4 2.3 0.8 3.4 2.7-0.9 0.5-1.5 0.2-2.5-0.3-2.8-0.9-1.7-1.3zM131.8 69.8l4.7 1.6 2.7 1.9 4.3 1 3.4 1.5 1.5 1.9-2 0-5.1-2.3-1.2-0.7-0.2-0.7-0.8-0.7-4.1-1.1-0.5-0.8-2.7-1.6zM148.8 78.8l2.3 0.5-0.4 0.4-1.9-0.9zM156.1 82.3l0.2-0.8 1.4 0.1 5.7 1.7 1.9 1.4 0.3 1.2-2.4 0-2.6-1.5-0.2-0.6-1-0.7-3.3-0.8z" fill="#ffe300" fill-rule="evenodd" opacity="0.6"/>
<path d="M114.7 62.6l2.1-0.8 1.5 0.2 2 1 0.7 0.8-0.1 0.8-3.7 0-2.1-0.9-0.4-1.1z" fill="#ff9b00" fill-rule="evenodd"/>
<path d="M115.3 62.8l0.8-0.5 2.7 0.4 0.8 0.7 0.1 0.6-1.3 0.3-1.9-0.3-1.2-1.2z" fill="#ff5300" fill-rule="evenodd"/>
<path d="M117.5 63l0.8 0.4-1.1 0.2 0.3-0.6z" fill="#ff0b00" fill-rule="evenodd"/>
</g>
</g></g>
<path d="M66.5 179.1L36.1 59.8" stroke="#3a3a3a" stroke-width="1.0" fill="none"/>
<path d="M66.5 179.1L63.3 179.4" stroke="#3a3a3a" stroke-width="0.9" fill="none"/>
<path d="M58.6 148L55.4 148.3" stroke="#3a3a3a" stroke-width="0.9" fill="none"/>
<path d="M50.1 115L46.9 115.3" stroke="#3a3a3a" stroke-width="0.9" fill="none"/>
<path d="M41.2 79.6L38 79.9" stroke="#3a3a3a" stroke-width="0.9" fill="none"/>
<path d="M66.5 179.1L154.2 244.4" stroke="#5c5c34" stroke-width="1.2" fill="none"/>
<path d="M154.2 244.4L261.8 168.6" stroke="#5c5c34" stroke-width="1.2" fill="none"/>
<path d="M81.1 190L77.2 192.5" stroke="#3a3a3a" stroke-width="0.9" fill="none"/>
<path d="M102.7 206.1L98.6 208.7" stroke="#3a3a3a" stroke-width="0.9" fill="none"/>
<path d="M126.1 223.5L121.9 226.2" stroke="#3a3a3a" stroke-width="0.9" fill="none"/>
<path d="M151.5 242.4L147.2 245.3" stroke="#3a3a3a" stroke-width="0.9" fill="none"/>
<path d="M71 182.5L69 183.7" stroke="#3a3a3a" stroke-width="0.8" fill="none"/>
<path d="M91.7 197.9L89.6 199.2" stroke="#3a3a3a" stroke-width="0.8" fill="none"/>
<path d="M114.1 214.6L112 216" stroke="#3a3a3a" stroke-width="0.8" fill="none"/>
<path d="M138.5 232.7L136.3 234.2" stroke="#3a3a3a" stroke-width="0.8" fill="none"/>
<path d="M165.5 236.5L169.1 239.1" stroke="#3a3a3a" stroke-width="0.9" fill="none"/>
<path d="M188.4 220.3L192.1 222.8" stroke="#3a3a3a" stroke-width="0.9" fill="none"/>
<path d="M210.4 204.8L214.1 207.2" stroke="#3a3a3a" stroke-width="0.9" fill="none"/>
<path d="M231.4 190L235.2 192.2" stroke="#3a3a3a" stroke-width="0.9" fill="none"/>
<path d="M251.5 175.9L255.3 177.9" stroke="#3a3a3a" stroke-width="0.9" fill="none"/>
<path d="M177.1 228.3L179 229.6" stroke="#3a3a3a" stroke-width="0.8" fill="none"/>
<path d="M199.5 212.5L201.4 213.7" stroke="#3a3a3a" stroke-width="0.8" fill="none"/>
<path d="M221 197.4L222.9 198.5" stroke="#3a3a3a" stroke-width="0.8" fill="none"/>
<path d="M241.6 182.9L243.5 184" stroke="#3a3a3a" stroke-width="0.8" fill="none"/>
<text transform="translate(52 189.4) rotate(-22.0) skewX(-18.0) scale(1.000 0.950)" font-size="9.5" text-anchor="middle" dominant-baseline="central" fill="#000" stroke="#000" stroke-width="0.3">5x10<tspan font-size="6.1" dy="-4.3">4</tspan></text>
<text transform="translate(43.1 158.7) rotate(-22.0) skewX(-18.0) scale(1.000 0.950)" font-size="9.5" text-anchor="middle" dominant-baseline="central" fill="#000" stroke="#000" stroke-width="0.3">6x10<tspan font-size="6.1" dy="-4.3">4</tspan></text>
<text transform="translate(33 124.7) rotate(-22.0) skewX(-18.0) scale(1.000 0.950)" font-size="9.5" text-anchor="middle" dominant-baseline="central" fill="#000" stroke="#000" stroke-width="0.3">7x10<tspan font-size="6.1" dy="-4.3">4</tspan></text>
<text transform="translate(25.3 89.3) rotate(-22.0) skewX(-18.0) scale(1.000 0.950)" font-size="9.5" text-anchor="middle" dominant-baseline="central" fill="#000" stroke="#000" stroke-width="0.3">8x10<tspan font-size="6.1" dy="-4.3">4</tspan></text>
<text transform="translate(69.7 197.8) rotate(-35.0) scale(1.000 0.900)" font-size="9.5" text-anchor="middle" dominant-baseline="central" fill="#000" stroke="#000" stroke-width="0.3">650</text>
<text transform="translate(91.8 214.1) rotate(-35.0) scale(1.000 0.900)" font-size="9.5" text-anchor="middle" dominant-baseline="central" fill="#000" stroke="#000" stroke-width="0.3">655</text>
<text transform="translate(115.7 231.7) rotate(-35.0) scale(1.000 0.900)" font-size="9.5" text-anchor="middle" dominant-baseline="central" fill="#000" stroke="#000" stroke-width="0.3">660</text>
<text transform="translate(139.7 252.5) rotate(-35.0) scale(1.000 0.900)" font-size="9.5" text-anchor="middle" dominant-baseline="central" fill="#000" stroke="#000" stroke-width="0.3">665</text>
<text transform="translate(175.1 244.5) rotate(37.0) scale(1.000 0.900)" font-size="9.5" text-anchor="middle" dominant-baseline="central" fill="#000" stroke="#000" stroke-width="0.3">-20</text>
<text transform="translate(194.9 226) rotate(37.0) scale(1.000 0.900)" font-size="9.5" text-anchor="middle" dominant-baseline="central" fill="#000" stroke="#000" stroke-width="0.3">0</text>
<text transform="translate(218.3 211) rotate(37.0) scale(1.000 0.900)" font-size="9.5" text-anchor="middle" dominant-baseline="central" fill="#000" stroke="#000" stroke-width="0.3">20</text>
<text transform="translate(239.3 195.7) rotate(37.0) scale(1.000 0.900)" font-size="9.5" text-anchor="middle" dominant-baseline="central" fill="#000" stroke="#000" stroke-width="0.3">40</text>
<text transform="translate(260.4 181.3) rotate(37.0) scale(1.000 0.900)" font-size="9.5" text-anchor="middle" dominant-baseline="central" fill="#000" stroke="#000" stroke-width="0.3">60</text>
<text transform="translate(83.1 228.6) rotate(37.0) scale(0.860 1.000)" font-size="10" text-anchor="middle" dominant-baseline="central" fill="#000" stroke="#000" stroke-width="0.2">Wavelength (nm)</text>
<text transform="translate(234.5 219.2) rotate(-35.4) scale(1.050 1.000)" font-size="10" text-anchor="middle" dominant-baseline="central" fill="#000" stroke="#000" stroke-width="0.2">Time (ns)</text>
<text transform="translate(17.2 140.8) rotate(73.4)" font-size="10" text-anchor="middle" dominant-baseline="central" fill="#000" stroke="#000" stroke-width="0.2">Intensity (arb. units)</text>
<text x="1.0" y="15.8" font-size="14.7">(a) off resonance</text>
<rect x="267.7" y="35.5" width="22.4" height="1.9" fill="#a9c4c4"/>
<rect x="267.7" y="37.4" width="22.4" height="134.1" fill="url(#cba)"/>
<rect x="267.7" y="171.5" width="22.4" height="1.3" fill="#111"/>
<rect x="267.7" y="35.5" width="22.4" height="137.3" fill="none" stroke="#8a8a8a" stroke-width="0.8"/>
<path d="M290.1 37.4L293.1 37.4" stroke="#555" stroke-width="0.9" fill="none"/>
<text transform="translate(297 38.4)" font-size="10" text-anchor="start" dominant-baseline="central" fill="#000">7.0x10<tspan font-size="6.4" dy="-4.5">4</tspan></text>
<path d="M290.1 64.2L293.1 64.2" stroke="#555" stroke-width="0.9" fill="none"/>
<text transform="translate(297 65.2)" font-size="10" text-anchor="start" dominant-baseline="central" fill="#000">6.6x10<tspan font-size="6.4" dy="-4.5">4</tspan></text>
<path d="M290.1 91L293.1 91" stroke="#555" stroke-width="0.9" fill="none"/>
<text transform="translate(297 92)" font-size="10" text-anchor="start" dominant-baseline="central" fill="#000">6.2x10<tspan font-size="6.4" dy="-4.5">4</tspan></text>
<path d="M290.1 117.8L293.1 117.8" stroke="#555" stroke-width="0.9" fill="none"/>
<text transform="translate(297 118.8)" font-size="10" text-anchor="start" dominant-baseline="central" fill="#000">5.8x10<tspan font-size="6.4" dy="-4.5">4</tspan></text>
<path d="M290.1 144.6L293.1 144.6" stroke="#555" stroke-width="0.9" fill="none"/>
<text transform="translate(297 145.6)" font-size="10" text-anchor="start" dominant-baseline="central" fill="#000">5.4x10<tspan font-size="6.4" dy="-4.5">4</tspan></text>
<path d="M290.1 171.4L293.1 171.4" stroke="#555" stroke-width="0.9" fill="none"/>
<text transform="translate(297 172.4)" font-size="10" text-anchor="start" dominant-baseline="central" fill="#000">5.0x10<tspan font-size="6.4" dy="-4.5">4</tspan></text>
<path d="M59.6 433.2L165.3 373.7" stroke="#cfcfcf" stroke-width="0.8" fill="none"/>
<path d="M165.3 373.7L261.9 420.6" stroke="#cfcfcf" stroke-width="0.8" fill="none"/>
<path d="M51.1 399.9L160.7 342" stroke="#cfcfcf" stroke-width="0.8" fill="none"/>
<path d="M160.7 342L259.9 385.3" stroke="#cfcfcf" stroke-width="0.8" fill="none"/>
<path d="M41.9 364.2L155.9 308.3" stroke="#cfcfcf" stroke-width="0.8" fill="none"/>
<path d="M155.9 308.3L257.8 347.4" stroke="#cfcfcf" stroke-width="0.8" fill="none"/>
<path d="M78.2 458.2L49 338.5" stroke="#cfcfcf" stroke-width="0.8" fill="none"/>
<path d="M99.9 445.3L73.8 326.8" stroke="#cfcfcf" stroke-width="0.8" fill="none"/>
<path d="M120.6 432.9L97.6 315.6" stroke="#cfcfcf" stroke-width="0.8" fill="none"/>
<path d="M140.6 421L120.3 304.9" stroke="#cfcfcf" stroke-width="0.8" fill="none"/>
<path d="M159.8 409.6L142.1 294.7" stroke="#cfcfcf" stroke-width="0.8" fill="none"/>
<path d="M185.5 412.2L170.4 295.6" stroke="#cfcfcf" stroke-width="0.8" fill="none"/>
<path d="M208.8 424.5L195.8 304.6" stroke="#cfcfcf" stroke-width="0.8" fill="none"/>
<path d="M233.8 437.8L223.3 314.3" stroke="#cfcfcf" stroke-width="0.8" fill="none"/>
<path d="M260.8 452.1L253.3 325" stroke="#cfcfcf" stroke-width="0.8" fill="none"/>
<path d="M169.6 403.7L153.2 289.4" stroke="#9a9a9a" stroke-width="0.8" fill="none"/>
<path d="M263.8 453.6L256.6 326.1" stroke="#bdbdbd" stroke-width="0.8" fill="none" stroke-dasharray="3 1.5"/>
<path d="M156 530.9L132 396.8" stroke="#cdcdcd" stroke-width="0.8" fill="none" stroke-dasharray="3 1.5"/>
<path d="M67.7 464.5L169.6 403.7" stroke="#bdbdbd" stroke-width="0.8" fill="none"/>
<path d="M169.6 403.7L263.8 453.6" stroke="#bdbdbd" stroke-width="0.8" fill="none"/>
<path d="M67.7 464.5l88.3 66.4 107.8-77.3-94.2-49.9z" fill="#1515ff"/>
<path d="M67.7 464.5l15.1-9 0.6-1.3 1 0.3 7-4.2 3.8-2.9 1.3-5.8-0.3-13.3 0.7-8.5 4.6 8.9 0.7-0.6 5.1 7.9 2 1.5 2.6 0.2 47-27.6 0.1-3.8 1.2 3 2.7-1.6 0.1-4.4 1.3 3.6 0.5-1.1 0.8 0.3 4-2.4 0 0-101.9 60.8z" fill="url(#gb0)"/>
<path d="M68.5 465.1l2.2-2 1.8-0.4 0.6-1.1 1 0.2 2.4-1.6 1.4-1.8 1 0.5 3.2-1.9 0.6-1.1 1.7-0.3 7.1-4.2 2.8-3 1 0.3 0.7-0.7 1-3.2 0.2-3.1-0.7-19.3 1.2 1.8 0.6-1.4 2.3 2.7 8.6 12.2 3.5 0.3 8.9-4.6 0.6-1.2 2.4-0.6 0.6-1.2 3-1 4.2-3 0.8 0 1.4-1.5 0.8 0.2 2.7-2.2 1.5-0.3 0.6-1.3 0.9 0.5 8.3-5.1 1.3-1.4 0.8 0.2 6.1-4.2 4.8-2.3 3.3-3 0.8 0.6 4-2.5 0 0.1-102 60.9z" fill="url(#gb1)"/>
<path d="M68.8 463.9l2.6-0.9 0.5-1.5 4.3-1.4 0.6-1.5 1 0.4 2.1-2.4 2.6-0.8 2.1-2.2 1.8-0.1 0.7-1.1 1.6-0.4 3.8-2.9 1.8 0.2 0.7-0.7 2.5-5-0.2-16.6 0.2-3.4 0.7-0.6 1.9 0.6 1.6 3.4 0.1-3.5 3.3 7.2 3.6 5.2 3.7 1.4 2.2-1.5 0.9 0.5 1.4-1.5 0.9 0.4 0.6-1.2 1.6-0.3 3.5-3.1 2.3-0.7 1.4-1.4 0.9 0.6 0.5-1.3 2.9-1.8 5-3 3.8-1.2 2.5-3.3 0.9 0.7 0.6-1 2.2-0.5 1.3-1.6 1.6 0.1 1.9-2.1 5-1.9 1.9-2.1 0.8 0.2 0.7-0.5-0.2-5.6 1.5 4.5 5.3-3.5 1.5 0.1 0.6-1.3 1.4-0.1 1.3-1.2 0.2 1.9-102 61.1z" fill="url(#gb2)"/>
<path d="M69.3 463.5l1.8-0.3 2.1-2.8 1.1 0.8 0.5-1.7 1.8-0.3 0.7-0.9 5.1-1.8 2.9-2.8 3.4-1 0.7-1.1 3.2-1.1 4.4-4.2 1.1-3 0.2-3.2-0.1-20.5 2.8 4.9 0.7-0.6 1.5 3 2.2 2.2 1.7 3.8 2.3 2.6 3.7 1.5 2.3-0.6 2.1-2.3 1.8 0.8 2.7-3.2 1.7 0.4 0.6-1.3 2.1-1.6 0.9 0.3 0.6-1.1 0.9 0.4 1.9-2.5 1.7 0.4 2-2.4 1.5 0 0.6-1.1 1.5-0.8 0.8 0.3 0.6-1.4 0.8 0.3 0.6-0.9 1.6-0.1 1.9-2.2 2.2-1 0.6-1.2 0.9 0.9 0.6-1.1 2.2-0.7 0.6-0.9 0.8 0.3 3.3-2.8 2.2-0.7 1.9-2 1.5 0.1 1.3-1.5 0.8 0.5 1.3-1.2 0.7 0.2 1.2-1.9 1.5-0.2 1.8-2.1 0.8 0.5 1.3-1.1 0.4 2.6-102.1 61.2z" fill="url(#gb3)"/>
<path d="M69.3 460.6l8.3-4.1 1 0.5 1.7-0.6 2.8 0.1 0.6-1.2 2.6-0.6 0.5-1.4 3.4-0.8 0.6-1.5 0.9 0.3 0.6-1.5 2.2-1.8 1 0.1 2-2.8 0.6-1.3 0.7-8.8-0.1-20.7 1.9 4.8 0.1-3.7 2.7 8.8 6 7.7 2 1.7 3.4-0.1 1 0.6 0.7-0.6 1 1 2.4-0.5 2.3-0.8 2.1-2 3-1.7 2.1-1.7 0.5-1.5 0.9 0.4 2.4-4.1 1.6-0.2 2.7-3 3.7-1 0.9 0.3 2.9-1.4 0.8 0.3 2.2-0.7 0.9 0.8 1.2-2 0.8 0.2 1.3-1.5 0.8 0.5 4.7-3.8 4.2-1.9 4.3-5.9 0.8 0.1 0.4-1.8 0.8 0.2 0.6-1.1 2.9-0.2 0.1-3.9 1.3 8.8-102.2 61.3z" fill="url(#gb4)"/>
<path d="M71.1 465.4l3.4-1.3 4.7-3.6 1 0.5 2.2-2.4 3.2-1.9 2.6-0.5 0.5-1.7 3.4-0.6 1.4-1.7 1.7-0.4 3.7-3.4 1.4-5.6-0.4-17.9 1.2-2.5 8.9 13.2 2.1 2 2.7 1 1.5-1 0.9 0.3 0.7-0.8 3.1-1 2.8-2.5 0.9 0.4 2.8-2.5 0.9 0.3 0.6-1.1 0.8 0 1.4-1.4 4.5-1.7 2-1.9 0.8 0.1 0.6-1.2 1.6-0.1 1.3-1.5 0.8 0.3 4.9-3.3 0.6-1.3 0.9 0.7 2.6-2.5 1.4-0.7 0.9 0.7 0.5-1.7 1.5-0.2 2.6-2.4 1.5 0 1.4-0.7 2.6-2.4 1.5-0.2 0.5-1 0.9 0.5 1.8-2.2 3.4-2 1.5 0.1 0.1 1.3-102.2 61.5z" fill="url(#gb5)"/>
<path d="M72.1 466.6l4.8-3.3 0.9 0 0.7-1.1 0.9 0.2 1.7-0.8 0.6-1.1 1 0.2 0.5-1.5 1.1 0.5 0.6-1 1.7-0.6 0.6-1.2 1 0.1 0.6-1.1 1 0.3 1.6-0.6 1.4-1.9 2.5-0.8 0.5-1.5 1.9 0.3 0.6-1 0.9 0.1 1.8-8 0-16.1 0.8-4.4 1.3 1.8 0.2-3.1 3.7 9.1 5 7.6 1.9 1.2 3.5 0.5 1.5-0.7 0.6-1.5 1.6-0.1 0.6-1.2 0.9 0.3 4.3-3.2 1.7 0.3 0.5-1.6 2.3-0.8 1.3-1.5 0.9 0.5 0.7-1 1.5-0.2 1.4-1.5 1.5-0.3 0.6-1.2 0.8-0.1 1.3-1.5 0.8 0.5-0.2-5.7 1.6 4.5 1.4-1.3 1.5 0.2 2-2.2 0.8 0.2 6.2-4.1 0-4.9 1.4 3.9 2.2-0.4 0.5-1.6 0.9 1.2 1.9-2.4 0.8 0.3 3.3-3 2.2 0 0.5-1.6 1.5 0.2 1.2-1.8 1.4 0 0.1-4.5 1.2 3.1 0.2 1.8-102.3 61.6z" fill="url(#gb6)"/>
<path d="M72.9 467.2l0.7-0.7 1.1 0.5 2.1-2.9 1 0.4 1.7-0.7 3.1-2.3 0.7-1.2 5-1.7 2.2-2.4 1.8 0.2 1.3-2 0.9-0.1 2.2-2 3.3-1.1 1.7-4.4 0.2-2.8-0.8-16 0.3-7 2.7 4.5 0.6-1.2 5.8 11 2.4 3.3 0.8 0 1.2 1.5 2.5-0.1 5.4-2.2 2.8-2.6 1.6-0.2 0.7-0.9 0.8 0.2 1.3-2 3.8-1.3 0.6-1.1 5.1-2.7 1.6-0.2 1.2-2.2 1.4-1 1.6 0.2 1.3-1.4 6.4-3.5 1.3-1.3 0-4.6 1.3 3.4 0.9 0.8 1.3-1.5 0.8 0.5 1.2-1.9 4.2-2 2.7-2.1 1.5 0.2 4.5-4 0.8 0.4 1.2-1.7 0.8 0 0.2 1.6-102.4 61.9z" fill="url(#gb7)"/>
<path d="M72.9 464.8l2.2-2.5 1.8-0.6 1 0.4 1.5-1.5 2.8 0.2 0.6-1.3 2.9 0.4 1.4-1.9 0.9 0.3 2.4-1.7 0.9 0.4 1.5-1.7 6.2-4 2.1-2.6 0.9-3.9-0.4-14.1 0.4-10.4 1 0.6 0.5-2 9.5 16.6 2 1.5 3.5 0.5 1.5-0.8 1.9 0.8 2.2-1.3 1.7 0.1 0.6-1.2 3-1.3 2.7-2.9 1.5-0.5 0.6-1.4 2.2-1.2 2.7-2.8 0.1-3.7 1.3 2.8 4.3-2.7 0.9 0.4 2.3-0.4 0.6-0.7 1.6 0.3 0.6-1.1 0.8 0.3 2.8-1.8 0.5-1.8 0.9 0.8 2.2-0.4 0.5-1.5 3.6-1.2 3.2-3.4 0.8 0.3 2.6-2.9 0-4.6 1.2 2.9 6.1-3.2 0.6 4-102.5 62z" fill="url(#gb8)"/>
<path d="M74.5 468.3l3.4-1.2 3.9-3.3 1.9 0.1 2.9-2.8 1 0.1 1.5-1.4 0.9 0 3-2.6 3.4-0.6 1.3-2.3 1.8 0.2 1.4-1.9 0.9 0.1 1.2-2.3 0.6-5.5-0.2-21.5 0.5-1.9 1.7 4 9 14.2 2.9 1.7 1.7 0.1 4.5-2.6 1.6-0.3 1.5-1 0.6-1.2 1.6 0 1.3-1.6 4.5-2.5 0.6-1.1 0.8 0.4 0.6-1.5 1.7 0.6 2.2-1.3 0.5-1.3 0.8 0.1 0.7-0.8 2.2-0.8 0.6-1 1.5-0.4 1.3-1.7 2.3-0.2 1.3-1.4 0.8 0.3 0.6-1.4 3.6-1.6 2-1.8 1.5-0.2 0.5-1.1 0.8 0.4 2-2 0.8 0.4 3.3-2.7 2.2-0.3 1.9-2.2 5.4-2.8 0.2 1-102.6 62.1z" fill="url(#gb9)"/>
<path d="M75.6 470.2l0.6-1.3 3.5-1.3 2.3-2 1.8-0.1 0.7-1 5.7-3 3-2.7 0.9 0.2 0.7-1 4.8-2.4 0.6-1.1 1.7-0.2 1.4-2.1 0.6-1 0.6-5.3-0.2-13.4-1-8.8 1.4 2.2 0.1-3.7 1.8 4.7 2.1 1.5 4.6 9.6 3.3 3.6 2.8 1.4 1.4-1.5 1 0.8 0.8-0.2 2-2.2 7.5-4.1 0.6-0.9 0.9 0.1 1.4-1.1 0.8 0.1 2.1-2.1 0.8 0.2 1.4-0.9 0.7-0.7 0.2-3.6 1.3 3.1 0.6-1 6.5-3.5 0.6-1.1 0.7-0.4 0.9 0.5 0.6-1.2 1.5 0 0.6-1.3 2.8-1.3 2-1.8 0.8 0.1 1.3-1.2 0.9 0.4 0.5-1.2 1.5 0 0.6-1.3 0.7 0.1 1.3-1.6 0.8 0.4 1.3-1.2 0.8 0.1 1.9-2 0.8 0.4 1.2-1.5 0.8 0.3 0.6-1.3 0.7 0.3 0.6-0.9 0.8 0.1 1.2-1.7 0.1 1.1-102.6 62.3z" fill="url(#gb10)"/>
<path d="M76.4 470.5l7.1-5.1 2.7-0.6 2.1-2.4 1.1 0.6 1.4-1.6 1 0 0.6-0.9 3.3-1.4 1.4-1.7 0.9-0.2 0.6-1.2 1.1 0.8 1.4-1.6 0.9 0.1 2.1-2.5 1.3-6.2-0.7-15.9 0.1-3.6 1.1-3.2 1.7 3.9 0.8-0.1 5.7 10.5 0.8-0.1 2.5 4 1 0.6 0.7-0.6 1.2 1.7 0.6-1.3 3.2-0.8 0.5-1.4 1 0.5 1.4-1.3 3.1-1.1 0.6-1.2 1.6 0.1 0.6-1.5 2.3-0.8 0.6-1 1.6 0.2 2.7-3.1 5.2-1.9 4.1-3.7 0.8 0.2 0.7-0.9 0.8 0.4 2-2.3 0.5-1.5 1 1.3 2.9-1.2 2-1.4 0.6-1.4 1.5 0.3 1.9-2.3 1.6 0.1 1.2-1.7 1.4-0.3 3.4-2.5 1.4-0.2 0.6-0.9 0.8 0.2 1.9-1.9 0.8 0.2 0.5-1.1 1.4-0.4 0.1 0.6-102.7 62.4z" fill="url(#gb11)"/>
<path d="M77.1 470.8l2.5-1.3 0.6-1.3 1.7-1 1.8 0 2.2-2.3 1 0.4 0.6-1.5 1.8-0.2 1.5-1.6 4.9-2.2 2.2-2.3 0.9 0.4 0.6-1.4 1 0.2 3.8-2.8 1.7-4.1-0.6-23.7 0.6-1.6 1.4 2.4 1.7-0.3 1.8 4.8 0.9-0.1 1.7 4 4.7 6.7 2 1.2 4.9-0.8 2-2.2 2.9-2.1 1.6-0.5 1.4-1.5 3.8-1.2 2.7-2.9 0.9 0.3 2.1-1.8 0.8 0 0.6-1.1 0.8 0.2 1.4-1.2 0.1-4.2 1.3 3.3 1.5-0.3 2.7-3.1 1.6 0.5 0.6-0.8 0.8 0.1 3.4-2.8 2.2-0.6 1.3-1.6 3.5-2.1 2.2-0.4 1.9-2 1.4-0.4 0.2-4 1.2 3.4 4.1-2.6 0.5-1.1 0.8 0.5 2.6-2.3 0.2 1.4-102.7 62.5z" fill="url(#gb12)"/>
<path d="M77.8 471l2.4-1.8 1.9 0 0.6-1.3 0.9-0.1 3-2.9 1.1 0.6 2.2-2.3 5-2 0.6-1.3 3.1-2.1 1 0.3 1.4-1.8 2.4-1.2 0.9 0.1 0.7-1 1.1-2.8 0.7-5.1-1.5-19.6 0.8-0.2 0.6-1.7 1.3 2.2 0.6-1.5 9.3 15.9 2.9 1.7 4.2-0.3 0.6-1.1 3-1.5 2.1-1.9 0.9 0.3 0.5-1.7 1 0.7 0.7-0.4 2.1-2.3 1.6-0.1 1.3-1.4 0.9 0.2 2.1-1.6 0.6-1 3-1.2 0-4.5 1.5 3.6 1.3-1.4 0.9 0.7 4.1-3.3 0.5-1.9 0.9 0.9 1.5-0.9 0.8 0.5 2-2.1 3.5-1.6 0.6-1.1 1.6 0.3 0.6-1.3 5.5-3 1.3-1.5 0.7 0.2 3.3-2.7 2.8-0.8 1.9-2.3 0.3 2.2-102.8 62.7z" fill="url(#gb13)"/>
<path d="M78.6 471.2l1 0.2 1.5-1.6 1 0.5 3.8-3.5 3.4-1.3 2.3-1.8 1 0.4 0.6-1.4 3.3-1.7 1.4-1.6 4.1-1.6 1.4-1.7 2.4-1.4 1.3-2.2 0.7-5.1-0.9-16.6 0.6-5.7 1.5 2.9 0.4-2.2 0.9 0 1.8 4.4 6.7 11.7 2.9 2.1 2.5-0.3 2.3-1.4 0.8 0.1 0.6-1.3 7.6-3.7 1.3-1.6 3.8-1.4 0.6-1.4 1.6 0.1 0.6-1.1 2.3-0.7 1.2-1.8 1.6-0.2 0.6-1.2 0.8 0.3 2.8-2.4 0.8 0.5 0.7-1 0.8 0.2 0.6-1.1 2.1-0.9 1.3-1.6 3.6-1.3 0.5-1.9 0.9 0.8 0.6-1 2.2-0.3 4-3.6 0.8 0.8 1.3-1.8 0.1-4 1.3 3.6 0.6-0.8 1.5-0.1 1.9-2.2 1.5 0.5 1.9-2.1 0.2 1.5-102.9 62.9z" fill="url(#gb14)"/>
<path d="M78.3 467.5l0.9-0.2 0.7-1.1 1.1 0.4 0.6-1.3 1 0.3 2.6-0.9 0.7-1.1 1 0.6 2.7-0.6 1 0.6 2.3-2 1.1 0.8 2.2-2.4 1 0.4 0.6-1.1 2.6-0.8 1.3-2.2 1.7-0.2 2.8-3.4 1.2-2.6 0.4-2.5-0.7-19.9-0.9-8.6 2.3 2.3 0.8-0.3 7 12.6 4.5 5.4 0.8-0.3 1 1 0.7-1.1 2.8 1.6 4.2 0 1.3-1.8 3.1-0.9 0.6-1.2 0.9 0.2 1.4-1.2 4.6-6.1 4.2-3.8 3.7-1.7 0.9 0.6 1.4-1 2.3 0.2 0.7-0.7 3.2 0.5 2-2.2 2.8-1.2 2.7-2.2 0.8 0.1 1.9-2.1 2.2-0.7 0.6-1.1 0.8 0.3 0.5-1.5 0.8 0.1 0.4-1.9 0.1-4.8 1.1 2.9 3.3-3.2 3.6-0.1 0.6 4.3-102.9 63z" fill="url(#gb15)"/>
<path d="M80.5 473.5l2.6-1 0.5-1.6 1 0 0.7-0.9 4.2-1.8 1.4-1.8 1.8-0.2 1.6-0.9 0.7-1.2 0.9 0.3 0.7-1.1 4.9-2.4 1.3-2 1 0.4 0.7-0.9 1.7-0.4 2.7-4 0.4-6.3-1-21.7 0.4-6.6 2.2 6.4 1.5 2.9 0.7-1 1.9 5.2 4.3 8.2 4.3 4.5 2.5 0.2 2.1-2.5 0.9 0.4 1.6-0.4 0.6-1.3 0.8 0.2 1.4-1.5 2.3-0.8 2.1-2.1 1.6-0.4 0.6-1.1 0.9 0.4 0.6-0.9 1.6-0.2 2.8-2.4 3.7-1.5 1.3-2 0.8 0.4 2.1-1.8 1.5-0.2 3.4-2.9 2.9-0.9 1.3-1.6 2.9-1.2 0.6-1.1 2.2-0.6 2-1.8 2.1-0.6 1.9-2.4 1.5 0.1 2.6-2.1 2.2-0.6 1.9-1.8 0.4-2.2 0.4 2.8-103 63.1z" fill="url(#gb16)"/>
<path d="M81.3 473.9l2.4-1.8 3.4-1.2 4.8-3.4 0.9 0.1 0.7-1.2 2.3-1.8 3.3-1.4 1.5-1.6 1 0.5 1.4-1.6 4.1-1.8 1.4-1.6 1.5-5.2-1-30.6 1.2 1.5 0.8-0.7 10.3 21.1 3.1 2.8 0.8-0.1 3.2-0.8 2.9-2.6 1 0.9 4.2-3.9 2.3-0.8 3.6-2.6 2.4-0.5 4.2-3.3 0.8 0.2 1.3-1.7 4.3-2.5 0.8 0.1 2.8-2.4 1.5-0.2 2-1.9 3.6-1.5 6.1-4.7 1.5 0 1.2-1.6 2.8-1.1 1.3-1.4 2.8-0.9 0.6-1.4 2-1.1 0.2 1.5-103.1 63.3z" fill="url(#gb17)"/>
<path d="M80.4 467.5l0.8-0.7 1.2 1.2 1.4-2.1 1.1 0.6 0.9-0.3 1.4-1.7 1.8-0.6 1 0.7 4.6-0.4 1.1 1 0.6-1.7 0.9 0.4 1.4-2 1.8-0.1 0.6-1.3 3.1-2.5 0.9 0.1 0.6-1.1 1.7-0.6 1.4-2 1-3.4 0-8.7-2.3-28 0.2-3.7 1.7 3.9-0.1-5 7.2 18.4 4.2 7.9 3.4 4.1 0.8-0.3 1.9 1.4 0.8-0.4 2.9 1.7 3.8-1.5 6-3.5 4.5-7 0.8 0.2 3.3-4.5 0.8 0.5 0.6-1.1 4-0.2 1.4-1 1.7 0.7 1.5-0.5 0.8 0.8 0.7-1 0.8 0.4 2-2.2 0.8 0.4 4.2-2.4 0.6-1.5 1.5 0 5.4-4.1 2.3-4.7 1.4-0.6 0.6-1.3 1.3-1 3.6-0.5 0.7 5.4-103.1 63.5z" fill="url(#gb18)"/>
<path d="M82.7 474l1 0.2 2.2-2.3 4.3-1.7 2.3-2.2 1 0.4 0.7-1.2 0.9 0 0.6-1.3 3.4-1 3.1-2.2 0.6-1.4 1 0.5 0.7-1.1 1 0.3 3.6-3.8 0.9 0.3 1.1-3.6 0.2-7.5-2.4-24.4 0.3-7.1 8.3 14.8 2.2 6.5 2.8 5.4 2.4 3.4 3.6 1.1 0.7-0.8 3.9-1.5 1.3-1.8 0.9 0.2 0.6-1.4 0.9 0.7 0.6-1.2 2.3-1.2 0.8 0.2 1.3-1.7 1.7 0.2 0.5-1.6 0.9 0.2 1.3-1.6 0.2-3.6 1.3 3 0.8-0.2 0.6-1.1 3.8-1.3 0.5-1.4 3.1-0.7 3.4-2.8 0.8 0.2 2.1-1.9 0.8 0.2 1.3-1.6-0.1-5.4 1.4 4.2 3.7-1 1.9-2.3 0.8 0.2 2.6-2.5 1.5 0.1 0.6-1.2 0.8 0.2 1.3-1.3 2.1-0.8 4.6-3.5 0.3 2.3-103.2 63.6z" fill="url(#gb19)"/>
<path d="M83.6 474.9l4-2.7 1 0.2 0.7-1.2 2.4-1.6 2.5-1.4 0.9 0.2 0.6-1.4 1.8-0.2 0.7-1.2 1.5-1.1 3.4-1.1 0.7-1.1 3.3-1.4 0.6-1.2 2.5-1 1.3-2.1 0.8-4.5-1.6-24.9 0.4-2.4-2.2-15.4 2.4 7.5 0.5-1.9 5.7 14.8 6 12.8 4.2 4.3 1.7-0.1 0.5-1.6 1.9 0.7 0.5-1.3 3.9-1.9 0.8 0.2 1.3-2.3 2.4-0.2 1.5-0.9 2-2.3 0.8 0 0.6-1.2 1.7 0.6 1.3-2.1 1.5-0.8 0.8 0.5 0.6-1.4 0.8 0.3 1.3-1.9 0.8 0.2 2.2-1.5 0.8 0.1 0.6-1.1 0.8 0.4 0.4-2.2 1.7 0.8 1.3-1.7 2.9-1 1.3-1.9 0.9 0.6 4.1-3.1 0.8 0.3 0.6-1.1 5.4-3.5 2.3 0 0.8-4.4 1.1 2.2 0.7 0 1.2-1.7 0.8 0.4 1.9-2.1 0.3 2.2-103.3 63.8z" fill="url(#gb20)"/>
<path d="M84.5 475.8l1.6-1.1 1.8-0.3 0.7-1 4.1-2.5 1.8-0.4 1.4-2 4.2-1.6 1.4-1.7 4.1-1.9 0.7-1 2.4-1.2 1 0.3 2.7-3.9 0.8-4.8-0.1-4.6-3-36.6 1.9 4.9 2.7 4.4 8.5 20.8 3.4 4.6 2 1.2 4.1-0.5 0.6-1.3 0.8 0 2.2-1.8 0.9 0.1 1.3-1.5 4.6-2.1 0.6-1.2 1.6-0.1 4.3-3.4 0.8 0.4 0.6-1.3 0.9 0.5 0.6-1.3 1.5-0.6 2-2.1 2.3-0.2 3.5-2.5 0.6-1.1 1.6 0.1 2.7-2.6 2.9-0.9 4.7-3.9 0.8 0.3 2-1.8 3.6-1.4 2.5-2.9 0.8 0.5 0.6-0.8 1.5 0.1 1.2-1.9 0.8 0.4 0.1 1-103.3 63.9z" fill="url(#gb21)"/>
<path d="M85.4 476.8l1.8-0.6 2.3-2.2 1.8-0.3 3.9-3.2 1 0.4 0.6-1.4 1 0.4 3.8-3.5 1 0.2 1.4-1.9 2.6-0.4 1.3-2.2 1.8-0.1 3.6-3.7 0.7-9.5-2.2-32.7 1.3 1.9 1 0.2 1.5 3.1 8.4 20.4 2.5 4.2 3.9 2.3 1.4-1.1 1.7 0.1 3.1-1.6 1.3-2 1.7 0.2 0.6-1.1 0.9 0.2 2-2.3 3.1-1.3 0.6-1 1.6 0.1 1.3-2.1 0.9 0.8 0.6-1.3 2.3-0.7 3.5-3 0.8 0.2 0.6-1.2 2.2-0.7 2.1-1.8 0.8 0.2 2.1-1.7 2.1-0.7 2-2.1 2.2-0.5 1.3-1.4 0.8 0 0.1-4.5 1.3 3.5 4.8-2.9 1.3-1.5 1.4-0.3 0.6-1.1 1.5 0 1.9-2.3 0.7 0.4 1.3-1.2 0.2 1.6-103.4 64z" fill="url(#gb22)"/>
<path d="M86 476.4l5.1-2.5 0.6-1.3 2.6-0.9 2.3-2.2 7.4-3.7 0.6-1.6 1.8-0.1 3.8-3 1 0.3 2.8-3.5 0.6-10-2.3-29 0.4-2.2 1.2 1.2 0.8-0.4 9.9 23.1 3.7 6.1 2.9 1.8 0.6-1.2 1.8 0.3 1.3-1.8 1.7-0.1 7.4-4.8 1.3-1.9 0.3-2.8 1.3 2.6 2.2-1.1-0.3-6.4 1.8 5.5 2.1-1.9 0.9 0.6 1.3-1.4 0.1-4.2 1.3 3 2.2-1 8.5-5.7 1.5-0.1 0.6-1.4 0.8 0.4 0.6-1.4 2.2-0.3 4.1-3.4 0.8 0.3 1.2-1.7 2.2-0.6 1.3-1.3 0.8 0.2 1.9-2.1 2.1-0.5 0.1-5.4 1.2 4.1 0.7 0.1 0.7-0.8 0.3 2.3-103.5 64.2z" fill="url(#gb23)"/>
<path d="M87 477.4l0.7-0.9 2.6-0.9 1.5-1.9 2.5-1.1 3.2-2.5 5.8-2.7 0.6-1.3 1.9 0 0.5-1.4 2.6-0.7 0.6-1.5 2.5-0.8 3-2.8 0.6-9.6-2.6-35.3 2 5.5 0.2-3.4 5.7 15.3 4.6 10.3 3.7 5.4 2 1.6 3.1-1.3 0.9 0.4 6.6-5.1 2.4-0.2 2.1-2.3 2.3-0.8 1.3-2 0.9 0.8 2.8-2.7 0.8 0.4 0.6-1.5 2.4-0.1 2-2.1 0.8 0.1 0.5-1.9 2.3-0.1 0.6-1.5 0.9 0.6 1.3-1.6 0.8 0.4 2.7-2.5 2.2-0.5 0.6-1.6 0.7-0.1 0.4-2.6 1 1.7 1.5 0 0.6-1.2 0.8 0.3 1.3-1.4 0.8 0.3 0.6-1 4.1-2.5 0.8 0.1 6-4.6 0.3 2.4-103.5 64.4z" fill="url(#gb24)"/>
<path d="M88.3 480l17.9-11.1 0.7-1 0.9 0 0.6-1.3 1.8-0.2 5.4-3.8 1.1-3.4 0.4-6.7-3.2-33.4 1.3 2 0.4-2.4 1.6 3.2 0.9 0 5.5 14.6 4.5 10.2 2.3 2.7 2.8 1.7 1.7-0.3 2.2-1.9 3.1-1.2 8.1-5 1.3-1.9 0.9 0.5 0.7-1.1 1.5-0.3 2.1-2 1.5-0.2 7.9-5.5 2.9-1.2 2-1.8 1.5-0.4 11.1-6.9 1.3-1.7 0.8 0.4 3.3-2.7 4.8-2.4 0 0-103.6 64.6z" fill="url(#gb25)"/>
<path d="M89.2 480.7l25-15.6 2.9-3.1 0.7-9.8-2.9-27.7 0.6-1.2 0-4.7 0.6-1.4 2.1 6 10.8 24.1 2.4 3.1 2.7 1.3 4.7-2 54-33.7 0 0-103.6 64.7z" fill="url(#gb26)"/>
<path d="M90 481.3l25.1-15.6 2.9-3.1 0.7-5.4-0.2-9.8-3.1-24.3 1.1 0.8 0-4.5 0.6-1.4 12.9 30 3.3 4 1.8 0.3 4.6-2 9.7-6.1 0.7-0.9 0.8 0 42.8-26.8 0 0-103.7 64.8z" fill="url(#gb27)"/>
<path d="M90.5 480.4l1.9-0.1 2.3-2.5 1 0.3 0.6-1.1 4.3-1.9 0.5-1.6 1 0.3 1.7-0.8 0.6-1.6 2.6-0.6 2.3-2 0.9 0.2 1.5-1.8 0.9 0.1 2.4-1.3 2.2-2.6 0.8 0 0.7-1.3 0.8-4.6-0.4-11.1-2.6-22 1.1-7.8 4.1 11.5 1.1 1.1 3 6.5 4.9 11.9 3.2 3.3 2.7 0.8 2.4-0.7 1.3-1.8 3.9-1.6 7.3-5.5 1.6-0.2 0.6-1.2 1.6 0.2 0.6-1.3 3-1.2 0.7-0.9 0.8 0.1 0.6-1.1 1.5-0.5 2.1-2.1 1.6 0.3 1.3-1.8 3.7-1.2 1.2-1.9 0.8 0.1 4.2-3 0.8 0.3 0.5-1.6 0.8 0.6 2.7-2.4 0.8 0.2 0.6-1.4 0.1-4.7 1.4 4.7 0.5-1.4 0.8 0.3 8.1-5.2 0.2 1.2-103.8 65z" fill="url(#gb28)"/>
<path d="M91.2 480.4l1.8-0.8 0.6-1.3 1 0.4 2.3-2.4 4.3-1.7 0.7-1.1 1.8-0.3 0.7-0.9 5.7-3.3 2.4-1.7 0.6-1.4 0.9 0.4 3.9-2.9 1 0.3 1.2-7.1 0-4.4-1.1-14.2-1.9-14.2 0.4-2.6 1.3 1.9 0.3-3.3 1.6 3.6 0.2-3.2 3 10.8 7.6 17 2 1.4 1.2 1.8 2.6 0.2 0.7-0.7 1.7-0.1 0.6-1.3 0.9 0.3 8.1-5.8 1.6 0 2.8-3 0.9 0.5 1.1-3.1 1 1.3 3-1.3 1.4-1.7 1.5-0.3 2.8-2.6 2.9-1.6 1.5-0.1 1.3-1.8 2.2-0.4 2-2.4 2.2-0.5 0.6-1.2 0.9 0.6 0.5-1.5 1.6 0.5 1.2-1.9 4.2-2.2 0.6-1.2 0.8 0.5 0.6-0.9 1.5-0.3 0.5-1.3 2.2-0.6 1.2-1.6 1.5-0.1 0.2 1.9-103.8 65.2z" fill="url(#gb29)"/>
<path d="M92 480.6l3.3-2.3 2.6-0.9 1.5-1.8 1 0.3 0.6-1.3 0.9 0 2.4-1.9 2.6-1 0.6-1.4 1 0.4 1.4-1.8 1.8-0.1 2.2-2.5 3.3-1.6 2.9-3.3 0.9-4.4-0.1-4.6-1.7-22.3-0.1-9.7 1.4 2.7 1.4-2.4 2.9 10.8 8.7 17.9 1 1 3.7 1.5 1.4-1.9 3.2-0.8 0.6-1.3 0.8 0.1 4.5-3 2.3-0.8 1.3-1.9 4.6-1.9 1.3-1.7 2.4-0.5 4.9-4.2 0.8 0.6 2.1-2.3 1.5-0.4 1.3-1.5 1.5 0 1.4-1.5 0.8 0.4 2.7-2.2 1.5-0.3 0.5-1.8 3.7-0.9 2.6-2.8 0.4-3.3 1.1 3.1 0.6-0.9 1.5-0.1 1.3-1.6 2.1-0.7 1.2-1.8 0.9 0.9 1.2-1.7 0.3 2.8-103.9 65.3z" fill="url(#gb30)"/>
<path d="M92.2 478.3l2.6-0.9 3.1-3.2 1.2 1.1 2.3-2.2 1.1 0.6 0.7-0.8 1.1 0.6 0.7-1.2 1.8-0.1 4-2.5 0.7-1.1 3.4-1.2 1.4-2 3.8-3.1 1.1-3.4 0.2-8.1-0.8-12.8-1.5-12.4 0.5-6.7 1.5 2.9 0.8-0.5 1.2 1.8 10.8 24.1 2.9 2.1 0.8-0.3 1 0.7 2.6 0.1 0.7-0.8 0.9 0.7 0.7-1.2 0.9 0.5 0.6-1.1 3.1-1.5 7.2-6 0.7-0.7-0.1-5.6 1.5 4 0.5-1.5 0.9 0.7 0.8-0.3 1.3-1.8 4.5-2.2 0.8 0.3 1.3-1.6 1 1.3 0.6-1.5 0.9 0.8 0.6-0.9 0.9 0.5 2.8-1.9 0.6-1.2 1.6 0.1 2.1-1.3 0.5-1.6 2.3-0.1 1.3-1.7 0.7 0.1 0.7-0.9 3.5-2.1 4.5-5.2 0.7 0.2 2-1.6 2.2-0.3 0.5 4.1-104 65.5z" fill="url(#gb31)"/>
<path d="M94 482.9l4.1-2.6 0.7-1.2 1.8-0.4 0.6-1.7 1.2 1.2 0.5-1.6 2.6-1 1.5-1.7 6.4-4.1 1 0.1 2.4-1.4 0.6-1.3 1 0.3 3-2.9 1-3.5 0.5-6.6-2.6-31.5 1.4 2.4 1.4-1.9 2.1 6 8.9 19.5 2.4 3.4 2.8 1.3 1.5-1.2 1.6-0.3 2.2-1.9 0.9 0.5 1.3-2.1 0.9 0.2 5.9-4.2 3.8-1.6 1.4-1.3 0.8 0.2 0.6-1.2 0.9 0.1 3.5-2.9 0.3-3.2 1.2 2.6 3.5-2.6 1.6-0.3 2-2.3 1.5-0.3 0.6-1 0.8 0.3 0.6-1.1 1.5-0.5 2-2 1.5-0.1 2.1-1.2 2-1.9 5.6-2.9 5.4-4.1 1.4-0.3 0.2 1.9-104 65.6z" fill="url(#gb32)"/>
<path d="M94.8 483.2l0.7-0.9 1 0.2 0.8-1 1.8-0.3 2.4-1.7 0.7-1.3 1.1 0.9 4.7-4 3.3-1.6 1.5-1.7 0.9 0.1 5.5-4.3 1.8-0.1 1.4-1.5 1.5-6.2-0.2-5.2-2.6-31.9 1.2 1.5 0.9 0.2 1.7 4.1 1 0.3 5.3 14.1 1 0.8 4.2 8.7 2 1.4 1.8 0.3 6.3-2.1 0.5-2 1.7-0.2 5.2-3 1.4-1.7 2.3-1 0.6-1.1 1.7 0.4 0.6-1.1 0.8 0.2 2-2.6 1.6-0.4 1.4-1.2 0.8 0.1 1.3-1.7 0.8 0.3 1.3-2 0.9 0.5 0.6-1.2 0.8 0.6 1.3-1.8 2.2-0.9 1.4-1.5 0.8 0.5 1.3-1.5 1.4-0.9 0.8 0.1 0.6-1.2 2.8-1.8 0.8 0.5 2.1-1.4 0.6-1.2 2.8-1.1 0.6-1 0.8 0.1 2-1.7 0.7 0.1 1.3-1.4 2.1-0.7 0.2 1.4-104.1 65.8z" fill="url(#gb33)"/>
<path d="M95.8 484.4l2.6-1.2 0.6-1.2 2.7-1 3.2-2.5 0.9 0.2 2.3-2.5 3.4-1.1 0.5-1.9 1 0.3 3.2-2.1 1 0.1 0.6-1.2 5.4-4.1 1.4-2.3-1.7-41 4.9 6.8 2.7 9.7 6.9 14 2.9 1.7 0.8-0.5 1 1.1 0.6-1.6 0.9 0.6 0.7-1.1 3.1-1.5 0.6-1.4 0.9 0.7 2.8-2.9 1.7-0.1 2.9-2.5 5.2-2.8 2-2.2 2.4-0.4 1.3-1.5 1.6-0.1 4.9-3.9 0.8 0 0-5.3 1.4 4.2 0.6-1.2 0.8 0.3 1.4-1.1 0.8 0.2 0.6-6.5 1.5 5.2 0.5-1.7 0.8 0.3 2.1-1.3 2-2 0.8 0.3 2.7-2.4 2.2-0.1 2.6-2.9 2.1-1.2 0.7 0.2 2-1.7 0.2 1.7-104.1 65.9z" fill="url(#gb34)"/>
<path d="M96.6 484.9l6.8-3.8 0.6-1.2 1 0.1 0.7-1 1 0.3 0.7-1.2 1 0.2 1.6-0.9 2.4-1.9 0.6-1.4 1.8 0 2.4-1.9 1.7-0.5 0.5-1.6 4.9-2.4 1.2-3 0.2-8-2.3-30.5 0.8-0.5 1 0.2 4 7.1 7.8 18.5 2.3 3.2 2 1.5 3.1-1.7 0.9 0.3 0.7-1.1 4.6-2.1 1.4-1.5 0.9 0.2 1.2-2.3 3.3-0.3 0.5-1.5 2.3-0.9 3.6-2.8 2.4-0.4 0.1-4.3 1.3 3.1 0.6-1.3 2.3-0.4 2-2.4 0.8 0.1 5.6-4.2 5-2.3 6.9-5 2.2-0.8 1.2-1.7 2.9-0.9 0.2-4.4 1.1 3.2 0.7 0 2-2 0.2 1.7-104.3 66.1z" fill="url(#gb35)"/>
<path d="M97.7 486.2l1.8-0.4 1.4-2 2 0.1 1.5-1.7 1 0.3 2.3-2 0.7-1.4 0.9 0.1 0.7-1 2.6-1 3.9-2.9 1 0.2 1.6-0.9 1.4-1.9 1 0.2 2.4-1.5 1.4-1.9 1.2-3 0.2-12.7-1.5-21.6 1.3-2.5 1.2 1.6 0.3-3.5 3 11.2 1 0.8 3.4 8.8 3.9 7.4 3 2.1 1.7 0 4.6-2.4 2.9-2.8 1.5-0.8 0.9 0.4 3.6-3.3 1.6 0.2 5-4.4 0.9 0.6 1.4-1.5-0.1-5.8 1.5 5 0.8-0.4 0.2-4 1.3 3.3 0.7-0.2 0.6-1.4 1.5-0.4 0.6-1.1 4.4-2.1 2-2.1 3-1.1 0.6-0.9 7-4.1 0.7-0.5 0-5.7 1.4 4.7 1.3-1.3 1.5 0 1.9-2.1 2.1-1 0.3-3.8 1.1 2.9 1.4-0.3 0 0.3-104.3 66.3z" fill="url(#gb36)"/>
<path d="M98.6 486.8l1.6-1 1.1 0.3 0.5-1.7 1 0.2 3.2-2.6 1 0.3 0.6-1.5 1.7-0.8 1 0.2 0.7-1.2 8.9-5.3 3.1-2.8 1 0.6 0.6-1.1 1 0 1.3-2 0.8-9.8-0.3-6-2.8-28.7 1.9 4.9 0.2-3.8 1.4 3 0.3-3.5 2.9 10.6 3.5 9.8 4.2 8.7 2.3 3.2 3.5 0.3 2.4-0.7 0.7-1.1 1.6-0.2 2.2-2.1 1.6-0.3 1.3-1.8 1.6-0.8 0.8 0.2 2.2-1.8 1.6-0.3 3.4-3.7 0.9 0.3 2.1-2.1 2.3-0.6 0.6-1.2 3.7-1.5 1.3-1.6 0.9 0.3 0.6-1 1.6 0.1 2-2.3 0.4-2.6 1.1 2.2 0.6-1.1 0.9 0.8 0.5-1.5 2.2-0.9 1-4.2 1.1 2.8 4.1-3 1.5-0.2 2.6-2.4 0.1-5.7 1.4 5.9 0.5-1.9 4.9-2.4 0.1 0.8-104.4 66.5z" fill="url(#gb37)"/>
<path d="M98.3 482.3l2.4-1.8 5.3-1.9 0.8-0.8 3.8 0.4 5.8-3.4 2.2-2.5 1.8-0.2 3-3.1 1.8 0 1.3-2.5 1.4-6.2-2.9-38.8 1 0.4 1.4 2.5 0.6-1.7 4.4 9.3 6.5 16.4 3.3 3.8 0.8-0.3 2.9 1.6 1.4-1.2 1.1 1.4 4-1.3 2.9-2.7 3-1.8 4.8-5.6 0.9 0.1 0.5-1.9 0.8 0.2 2-2.8 1.5-0.9 0.8 0.4 1.4-1.2 0.9 0.2 0.6-0.8 2.4 0.2 0.8-0.5 1.6 0.4 0.7-0.6 0.8 0.2 0.2-3.9 1.2 2.7 2.2-0.7 1.3-1.9 1.5 0.2 1.3-1.9 5-2.7 0.7 0.1 7.7-9.8 3.7 0.4 0.5 4.2-104.4 66.6z" fill="url(#gb38)"/>
<path d="M99.3 483.4l4.9-3.8 1.9 0.2 2.5-1.6 2 0.8 0.7-1.4 0.8-0.2 2 0.5 0.5-1.9 1.7-0.7 1 0.4 3-3.2 1.8-0.3 1.4-1.8 2.5-1.2 2.1-2.9 0.6-10.8-2.3-26.4-0.2-10.3 1 0.4 8.6 22 2.8 5.5 3.6 5.9 4.6 1.3 4.2-0.2 4.5-2.5 0.7-1 2.3-1.2 1.3-1.9 0.9 0.3 0.6-1.3 0.8-0.1 0.6-1.5 1.5-0.9 0.6-1.5 0.8 0.3 5-4.6 4.6-1.1 0.8 0.6 2.8-2.5 1 1.7 2.7-3.3 0.8 0.4 1.3-1.4 3.7-1.6 1.3-1.6 2.1-0.7 1.3-1.6 0.8 0 0.6-1.4 1.5 0 1.7-3.8 1.5-0.1 1.9-2.5 1.5 0 1.3-1.1 0.8 0.7 0.5 4-104.5 66.8z" fill="url(#gb39)"/>
<path d="M101.3 488.9l3.2-2.6 1.8-0.4 0.6-1.4 2.7-0.8 3.2-2.6 1.8-0.2 0.7-1 3.3-1.7 1.5-1.8 0.9 0 0.7-1.1 1 0.3 1.4-1.9 3.3-1.3 0.6-1.6 0.9 0 1.2-3.2 0.2-7.9-2.3-31.1 1 0.3 0.6-1.8 1.5 3.4 1.1 0.9 8.2 20.6 2.6 5 3.1 2.9 0.7-1 1.7 0 2.9-2.5 1.6-0.4 1.4-1.8 1.7 0 1.3-1.7 5.4-2.5 3.5-3.4 0.9 0.5 3.5-3.1 0.9 0.3 0.1-4.4 1.3 3.1 0.7-0.4 0.9 0.5 0.5-1.5 2.3-0.9 2-2.6 1.5 0 0.7-0.8 0.8 0.3 1.3-1.8 2.3-0.4 1.3-1.7 0.8 0.2 0.6-1.1 0.7 0.1 0.6-1.3 0.9 0.8 1.3-1.9 0.7 0.3 6.2-4.7 3.5-1.5 0.6-1.5 0.8 0.9 1.9-1.9 0.2 0.9-104.6 67z" fill="url(#gb40)"/>
<path d="M102.4 490.6l0.7-1.2 1 0.2 0.7-1.1 2.6-1.1 1.5-2 0.9 0.2 3.4-1.9 4.9-3.1 0.7-1.1 0.9 0.1 1.6-1.1 1.5-1.8 0.9 0.3 2.4-1.6 0.7-1.1 1.6-0.8 2.3-2.3 0.8-5.1-0.2-5.5-2.1-35.4 3.2 7.7 0.8-0.3 9.7 24 1.2 1.9 3.8 2 2.3-1.4 0.8 0.2 4.6-2.8 2.1-2.2 1.7-0.2 3.7-2.6 0.4-2.5 1.1 1.7 16.7-10.6 0.6-1 1.5-0.4 1.4-1.6 0.8 0.2 16-10.3 1.3-1.4 1.4-0.3 2.7-2.3 0 0.5-104.6 67.2z" fill="url(#gb41)"/>
<path d="M103.1 490.4l1 0.2 0.6-1.4 4.3-2.5 0.9 0 2.3-2.5 10.7-6 1.5-1.6 1.1 0.5 0.6-1.1 4.8-3.3 0.6-1.3 0.7-5.7-0.2-10.7-1.9-24.3 0.4-2.8 1.3 2.3 0-5.2 4.6 15.3 5.9 13.4 2.6 4.7 3 2.1 1.7 0.3 1.5-1.1 0.9 0.3 0.6-1.6 0.8 0.1 0.7-1.2 1.6-0.2 2.2-2 1.6-0.2 2.1-2.1 0.9 0.1 2.1-2.4 1.6 0 0.7-1 0.8 0.4 2-2.7 1.7 0 0.5-1.7 0.8 0.3 3-1.2 0.7-1.2 0.8 0 2-2 4.5-1.7 0.6-1.3 0.8 0.1 0.5-1.7 1.6 0.4 1.3-1.6 1.5-0.5 0.5-1.6 1.6 0.2 4.1-3.3 0.8 0.3 5.4-4.1 1.5-0.1 4-3.3 0.1 0.9-104.7 67.2z" fill="url(#gb42)"/>
<path d="M103.7 489.7l1.1 0.4 2.3-2.2 1.8-0.7 0.6-1.6 1 0.4 5.8-3.7 0.7-1 1 0.4 3.1-2.9 5-2.6 2.2-2.2 1.8 0 2.1-3.1 0.7-5.9-0.4-11.3-2.4-27.8 1 0.5 0.7-1.1 3.9 11.6 1.2 1.4 8.8 19.9 2 1.8 1.8 0.5 2.4-1.1 3.7-3 0.9 0.3 1.4-1.4 0.9 0 5.9-4.4 2.3-0.8 3.6-3 2.3-0.8 1.3-1.6 2.3-0.8 0.6-1.2 0.9 0.4 0.6-1.4 1.6 0.4 0.6-1.3 0.1-4.8 1.4 4.2 3.5-3 1.5-0.4 0-5.4 1.4 4.5 3.5-2.5 0.8 0.3 1.2-2.3 1.5-0.2 1.3-1.4 0.8 0.1 2.7-2 0.8 0 0.6-1.4 0.7 0.4 2-2.1 2.1-0.9 0.8 0.6 1.2-2.1 0.3 2.2-104.8 67.4z" fill="url(#gb43)"/>
<path d="M104.7 490.7l0.7-1.2 1.8-0.5 2.4-2.1 1.9 0 1.3-2.6 1.1 0.7 3.1-3.2 1.9 0.2 1.5-1.5 3.4-1.6 3.8-3.7 0.9 0.2 2.4-1.5 0.7-1.3 0.9 0.1 1-4.3 0.1-4-2.6-38.1 0.7-1 0.9-0.4 1.5 3.2 5.6 16.2 5.8 12.8 2.1 2 3.6 1.4 2.4-1 0.7-1.1 3-1.8 0.9 0.3 1.3-2.1 0.9 0.1 3.7-2.7 2.4-0.6 1.2-2.7 0.9 0.5 2.2-1.2 2.1-2 1.6-0.2 2.1-1.9 0.8 0 0.7-0.9 0.3-3.3 1.1 2 2.3-0.2 0.6-1.6 0.8 0.3 0.7-0.8 1.5-0.1 0.6-1.2 3.6-2.7 3.6-1.6 4.1-3.3 0.8 0.2 0.6-1.2 2-1.6 0.8 0.1 2.7-2 2.8-1.1 2-2 0.8 0.4 0.1 1.6-104.8 67.6z" fill="url(#gb44)"/>
<path d="M105.1 489l1.6-1.4 1.8-0.5 1.5-1.9 1 0.1 3.2-2.5 1 0.2 0.6-1.8 1.9 0.1 3-3.1 1.9 0 2.3-2.2 1.8 0 0.7-1.3 3.3-1.7 0.6-1.4 2.3-1.9-0.4-11.9-3.7-39 2.2 1.8 4.4 14.1 1.1 1.1 4.4 14.4 5.5 11.3 1.7-0.3 1.4-1.6 7.8-4 3.6-3.6 0.9 0.2 0.6-1.2 1.7 0.2 0.7-1.1 2.3-1 0.6-1.2 0.8 0 2.2-2 1.5-0.4 0.6-1.2 0.9 0.2 2.8-2.5 4.5-2 0.6-1.3 3-1 2-2.3 4.3-2.5 0.8 0.2 2-2.2 1.6 0 1.1-3.3 1 1.9 1.3-1.7 3.4-2.1 0.1-6 1.4 5.3 3.3-2.9 1.7 1.7 1.5 0.3 0.1 1.5-104.8 67.8z" fill="url(#gb45)"/>
<path d="M102.3 473.1l0.9-0.4 0.7-1.3 0.9-0.2 0.4-2.5 1.4 1.9 1.4-2.8 1.2 1.5 1.9-0.4 0.7-1.3 1.7-1 1 0.6 1.9-0.4 4.7-4.4 1.2 1.2 1.2-3.2 2.1 1.4 0.6-1.6 1.7-1.2 0.6-1.3 1.1 1 0.3-3.4 1 0.3 0.6-1.5 0.7-10.7-4.5-39.2 1.2 1 2 6.1 9.1 30.1 2.6 4.5 0.7-1.1 0.9 0.3 0.8-0.7 0.9 0.5 0.6-1.5 1 0.5 0.8-0.4 0.6-1.6 1.6-0.8 1 0.8 0.7-0.8 1.2 2 0.6-2 0.9 0.2 0.7-1 1.7 0 0.5-1.8 1.7 0.1 0.6-1.8 1.7 0.1 1.4-1.9 0.8 0.1 1.3-2.3 0.4-3.1 1.3 2.9 1.9-4 2.4-0.4 1.3-2.2 0.9 0.7 2.2-1.6 0.6-1.9 0.9 1 1.5-0.7 1 1.1 0.5-1.8 0.9 0.2 2.1-2.1 1 1.3 0.6-0.7 0.9 0.1 0.5-1.7 0.9 0.4 0.5-1.8 0.8-0.3 1 2.2 0.3-3.7 1.1 2.2 2-2.9 0.8 0.9 0.6-1.9 1.4-0.9 0.6-1.2 1 1.4 5.1-8 0.9 0.8 1.1-2.9 1.5-0.3 0.6-1.3 3 13.9 1.9 4.3 0.6 5.3-104.9 68z" fill="url(#gb46)"/>
<path d="M102.8 471.9l1.6-1.8 1.1 0.7 0.8-0.7 0.5-2.4 1.1 0.6 2.4-2.5 1.2 1.3 0.5-2.4 1.1 1 0.5-2.5 1.1 1 1.4-2.6 1.1 0.8 0.8-0.9 1 0.2 0.7-1.1 0.9 0.1 1.3-2.9 1.2 1.3 0.9-0.5 0.6-1.7 0.7-0.9 1 0 1.4-2.2 2 0.8 1.3-2.5 1.7-5.8-0.1-5.7-2.7-24.5-0.4-12.4 2 6 1.3 2.1 8.1 30 1.6 3.8 1.1 1.2 0.6-1.7 0.9 0.3 0.5-2.1 2 1.4 0.4-3 1 0.5 1.4-1.5 1 0.7 0.6-1.6 2 1.3 0.3-3.5 2.6 0.5 0.6-1.5 1.1 1.1 0.5-2 2.3-1.4 0.7-1.3 0.9 0.8 0.7-1.1 0.8-0.1 0.6-1.6 2.7 0.9 0.5-2.1 0.8 0.1 1.5-1.4 0.9 1 0.4-3.4 0.8 0.3 0.6-1.7 1 1.3 0.7-1.1 0.9 1 3.6-3.5 0.6-1.4 1.6-0.1 1 1.1 1.2-2.6 1.5-0.6 1.4-1.8 1 1.6 1.9-3.7 2.3-0.3 2-2.2 1.5-0.4 1.2-2.7 1.7 1.2 0.5-2.4 1.6 0.3 0.5-1.9 1.6 0.3 1.1-3.3 0.9 0.9 0.5-2.4 1.6 1 0.6-1.3 3.2 15.9 2 5.1 0.4 3.9-105 68.2z" fill="url(#gb47)"/>
<path d="M104.1 474.1l1.7-1.1 0.5-2.4 1.2 1.2 2.4-2.5 1.1 0.9 0.7-1.5 1 0.3 0.6-1.8 1.1 0.5 0.7-1.2 1.7-0.8 0.7-1.4 0.9 0 0.7-1.2 1 0.2 0.6-1.6 1.9-0.2 0.5-1.9 1.2 1.1 1.5-1.8 0.6-1.8 1.8-0.1 0.6-1.6 1.1 0.9 0.7-1.5 1.9 0.4 0.6-1.5 1-9.3-4.4-39.4 0.7-0.9 5.6 15.3 3.8 16.4 4.2 13.6 0.7-1.1 2.1 2.1 2.2-2.8 2.6-0.2 0.6-1.4 1.8 0.1 3.6-4 0.9 0.3 2.3-1.7 2.4-0.8 4.3-4.4 1 1 0.7-1 1.6-0.3 0.6-1.7 4.5-2.8 1-4.1 1.2 2.3 2.3-0.8 0.7-0.9 0.8 0.6 2.8-3.3 1.7 0.9 0.4-2.9 0.9 0.8 1.3-1.9 0.9 0.3 1.3-1.5 0.9 0.2 0.5-1.6 0.9 0.9 1.3-1.8 0.8-0.2 0.9 0.9 1-4.3 1.6 0.8 0.7-1.1 1 2.3 0.3-3.7 1.5-0.1 2-3 2.2-0.4 0.5-2.1 1.4-0.5 2.9 12.8 2 5 0.3 2.9-105.1 68.3z" fill="url(#gb48)"/>
<path d="M105.7 477.8l0.5-2 1.9-0.5 0.7-1.3 1 0.2 0.6-1.5 2.6-1.4 1.6-1.9 1.1 1 1.4-2.7 0.9-0.1 1.6-1.5 2.1 0.7 0.6-1.6 1.5-1.5 1.2 1.3 0.9-0.6 0.3-3 1.1 1 0.9-0.2 1.6-1.5 0.4-2.6 1.3 2.2 0.6-1.8 1 0.4 0.7-1.4 0.9 0.2 0.7-1 0.3-8.3-2.7-24.7-0.5-8.1 0.5-2 3.1 6.8 7.3 25.8 3.3 8.8 3.3-1.5 1 0.7 0.5-2 2.5-0.9 0.6-1.2 1.7-0.4 0.5-2 1.1 1.4 0.6-1.3 2.5-0.6 0.6-1.4 1.7-0.2 0.5-2.2 0.8 0.1 0.7-1.1 1.1 1.4 0.5-1.7 0.9 0.2 0.6-1.7 0.9 0.4 0.6-1.5 2.5 0.1 0.6-1.3 1.5-0.5 0.6-1.9 0.9 0.5 0.4-2.4 1.8 0.6 1.5-0.8 0.9 0.6 0.5-1.5 3.8-2 0.8 0.2 2.8-2.7 0.6-1.5 1.6 0 2.1-2 0.1-5.5 1.3 4.3 1.4-0.9 0.8 0.4 0.7-0.7 0.8 0.5 0.5-2.6 0.9 1.4 0.6-1.2 0.8-0.2 0.5-2.1 2.2-0.5 0.6-1.3 0.9 0.9 1.2-2.3 1.5-0.5 0-6.3 1.3 5.1 0.6-1.6 0.7-0.2 2.6 10.2 0.7-0.3 1.1 3.7 0.2 2.5-105.1 68.5z" fill="url(#gb49)"/>
<path d="M106.5 477.9l1.7-1.1 2 0.2 1.9-4.6 2.2 1 0.6-1.6 1.2 1.1 0.4-2.5 3 0.4 0.5-2.3 2.6-1.2 1.1 1 0.5-2.5 0.7-0.8 1.1 0.7 0.5-2.2 1.3 1.7 0.5-1.9 1.7-0.8 0.7-1.3 1.1 1 2.3-2.4 1.9 0.3 1.1-4 0-4.6-2.7-30.4 0.6-1.6 11.3 32.8 2.6 5.1 1.7-0.5 0.6-1.1 1 0.4 0.8-0.4 0.6-1.6 0.9 0.3 0.7-1 0.9 0.1 1.4-1.8 0.9 0.2 1.4-2 2.4-0.6 0.7-1.2 0.9 0.5 1.3-2.3 1.8 0.8 0.6-1.7 0.9 0.7 1.3-2.8 0.9 1 2.1-2.8 1 0.8 0.2-3.9 1.2 2.3 0.6-1 0.9 0.4 0.5-1.9 1 0.8 0.6-1.1 1 0.8 1.3-2.1 0.8 0.1 1.4-1.8 0.8 0.6 0.5-2.3 1.7 1 0.6-1.9 3.7-1.4 0.6-2 0.8 0.4 1.5-0.5 4.9-3.8 1.6 0.2 0.5-2.4 0.9 1.3 1.4-1 0.5-1.8 0.8-0.2 0.6-1.3 0.9 1.1 1.2-2.2 1.4-1.2 0.8 0.3 0.5-2.1 0.8 0.7 1.5 0.1 4 9.9 0.1 1.7-105.1 68.7z" fill="url(#gb50)"/>
<path d="M107.2 477.4l1.3 1.7 2.5-2.1 1.1 0.4 0.6-1.7 0.8-0.9 1 0.2 1.5-1.8 1-0.1 1.5-1.6 0.7-1.7 1.9 0.2 0.7-1.3 1.2 1.4 3.7-4.8 1.2 1 0.4-2.7 1 0.4 1.5-1.6 1.9 0 0.8-0.7 1.1 1 1.4-2.2 1.9 0.4 0.7-1-2.2-32.5 0.6-1.5 3 6.3 3.9 12 6.3 15.6 1.5-1.4 1.7-0.2 0.7-1.1 3.2-1.5 0.6-1.6 4.6-3.1 0.9 0.1 0.7-0.9 1.7 0.1 0.6-1.5 1.6-0.5 0.6-1.4 1.7 0.6 0.6-2 1.5-0.9 0.9 0.5 1.4-1.4 0.9 0.4 2.7-4 1.7 0.4 1.4-1.6 0.8 0.2 1.3-2.2 1.5-0.7 1.6 0.1 2-3 0.9 0.6 0.6-1 0.9 0.6 2-2.5 0.9 0.7 1.3-1.6 0.8 0 0.6-1.5 0.9 0.6 1.4-0.6 2.7-3.3 2.8-1.9 1.5-0.3 1.3-1.8 1.5-0.2 1.2-2 0.9 0.6 0.7-0.3 1.2-2.2 2.1 6.3 1.7 2 0.3 3.3-105.2 68.9z" fill="url(#gb51)"/>
<path d="M108.5 479.6l1 0.4 1.8-1.1 0.5-1.9 2.9-0.2 1.3-2.9 3.7-0.5 0.7-1.7 1.1 0.8 0.8-0.5 2.3-2.9 0.9 0 1.6-1.3 1.2 0.9 0.5-2.1 0.9 0 0.7-1.1 1 0.2 2.1-3.7 1.1 0.9 0.7-0.7 1.2 1.2 0.6-1.4 1.2 1.4 1.5-1.7-1.6-28.9 1 0 0.7-1.2 1.6 4.4 1.2 1.3 5.6 16.5 2.8 6.6 1.1 0.9 0.6-1.2 2.6-0.5 3-2.8 0.8 0.2 3.9-2.6 2.1-2.5 3.2-1 1.3-2.5 0.9 0.6 0.8-0.6 0-5.6 1.5 4.4 0.8 0 2.2-2 0.8 0.2 0.6-1.7 2.4 0.1 1.4-2.1 4.5-2 1.3-2.1 2.3-0.7 3.6-2.5 0.7-1.2 1.6 0.7 1.2-2.5 0.9 0.4 2.2-1 0.6-1.1 0.2-4.8 1.2 4.1 0.8-0.1 0.5-1.8 0.9 0.5 1.3-2 1.4-0.3 1.3-1.9 1.5 0 4.8-3.9 2.9 6.6 0.7-0.4 0.3 3.6-105.3 69z" fill="url(#gb52)"/>
<path d="M108.8 477.5l1.8-1 0.6-1.7 4.5-1.5 0.8-1.1 2.2 1.3 0.6-1.5 2 0.1 1.6-1.2 0.7-1.4 1 0.4 1.6-1.5 1.9 0.2 0.5-2.2 2.7-0.8 1.4-2.3 4.4-1 1.6-1.2 1.9 0.4-2.2-37.8 2.3 7.6 9.2 22.1 2.6 4.5 2.5-0.6 0.7-1 3.3-1 0.9 0.5 1.7-0.4 3.2-1.3 0.6-1.5 0.9 0.8 0.7-1 0.9 0.1 0.7-1.2 1.6-0.2 1.4-2 1.5-0.8 2-3.6 0.8 0.3 2-3.1 0.9 0.2 0.6-1.2 2.4-0.7 0.5-1.8 1.7 0 3.7-1.6 1.6 0.1 0.7-1 1.7 0.6 0.6-1.2 0.8 0.5 2.1-2 0.9 0.7 1.3-2.3 0.8 0.4 0.6-1.4 0.8 0.7 2-2.8 0.8 0.4 2.9-1.9 2.6-3.6 4.1-3.6 0.5-1.8 0.8 0.5 1.3-2.1 2.9 6.7 0.7-0.4 0.6 6.5-105.3 69.2z" fill="url(#gb53)"/>
<path d="M110.7 482.5l0.9-0.2 2.4-2.6 2.7-1.2 1 0.2 0.7-1.4 1.8-0.7 2.3-2.4 2.7-0.9 0.6-1.6 1 0 0.7-1.2 2.7-0.5 0.6-1.8 1.8 0 1.7-1.1 0.6-1.4 1.1 1 0.6-1.7 2 0.5 0.7-0.8 2.8 0.4-1.7-35.4 2.2 7.3 0.8-0.4 2.3 7.6 0.6-1.3 2.3 8 2.9 6.2 3.6 6 4.7-3 2.4-0.8 0.6-1.7 1.7-0.1 5.2-4.2 2.5-0.4 1.4-1.5 1.6-0.5 1.4-1.8 2.3-1 0.6-1.6 0.8 0.2 3-2.2 1.6 0.2 0.6-1.6 0.7-0.4 0.9 0.4 0.6-1.7 1.5-0.8 0.8 0.2 0.6-1.4 3.8-1.3 2-2.3 0.8 0.1 2.8-2.6 2.3 0.1 0.6-1.6 3.5-2.7 4.2-2.4 0.8 0.4 0.6-1.9 1.4-0.9 2.1-0.5 0.7-0.9 2.6 3.8 0.6-0.8 0.4 4.4-105.4 69.4z" fill="url(#gb54)"/>
<path d="M112.1 485.2l1.7-1.4 1.8-0.4 1.5-2 1.1 0.4 0.6-1.5 3.6-1.5 0.6-1.7 2 0.4 2.2-3 1.1 0.6 0.7-1.1 1 0.2 1.4-2.4 0.9 0 0.6-1.5 1.2 1.1 1.5-1.9 0.9-0.2 0.6-1.7 0.9 0.2 1.3 1.8 0.6-1.7 1.8 0 1.2 1.5 0.4-2.7-2.3-38.4 2.7 10.2 0.9-0.2 8.2 21.4 3.6 6.1 2.5-0.6 7.6-6 0.9 0.3 3-2.3 1.4-2 0.9 0.4 0.7-0.9 3.1-1.5 0.6-1.3 2.3-0.6 0.7-1.1 3.1-1.4 0.6-1.1 1.6-0.2 3-1.6 2-2.8 3-1 0.7-1.1 3.6-2.2 0.8 0.4 0.6-1.4 3-1.2 1.9-2.9 2.3 0.2 0.4-3.3 1 1.5 2.1-0.9 1.3-1.6 2.2-1.1 0.5-1.8 0.9 1.6 1.3-2.3 1.4-0.1 1.7 1.7 1.5 0.7 0.2 2.6-105.4 69.5z" fill="url(#gb55)"/>
<path d="M113.5 488l1 0 4.1-3.5 2 0.5 0.6-2.1 2.6-1.3 1 0.2 1.3-2.8 1 0.3 3.3-2.6 0.8-0.3 1.1 0.7 0.4-2.6 1 0.4 0.7-1.6 1 0.5 0.8-0.6 0.6-1.6 1.9 0 0.6-1.3 1.1 0.9 0.7-1.2 1.3 1.9 1.6-1 0.5-2.4-1.2-16.7 0.1-15.3 1.9 5.8 1-4.6 3 12 1 0.4 4.9 13.9 3.4 4.5 0.7-1.2 4-1.7 0.6-1.3 1.7-0.6 0.6-1.4 1 1.1 0.6-1.3 3.2-1.5 4.4-4 1.5-0.7 0.9 0.4 2.1-2.6 1.5-0.9 0.8 0.2 0.6-1.5 3.1-1.1 2.9-2.6 3.7-1.6 0.7-0.8 0.1-5.4 1.4 5 2.9-2.3 2.9-1 0.6-2 1.5-0.1 2.8-2.5 1.5 0.1 2.7-3.2 0.8 0.7 1.3-2.2 1.5 0 0.6-1.3 2-1.5 0.8 0.5 2.1-1.7 1.5 1.2 1.5 0.3 0.2 1.4-105.6 69.7z" fill="url(#gb56)"/>
<path d="M114.8 490.5l3.3-3 1.9-0.2 0.7-1.5 3.4-1.8 1.5-2.1 1.9 0.1 0.7-1.3 5.8-4.1 0.9 0 1.5-1.8 1.8-0.3 0.7-1.3 1.7-0.7 4.6 0.5-0.8-20.2 0.4-3-0.9-10.2 0.4-3.2 3.5 4.7 5.5 16.6 4.3 9.6 1.1 1.8 1.9 0.9 0.6-1.8 0.9 0.4 0.7-1.2 2.4-0.9 1.4-1.5 2.5-0.7 0.6-1.2 3.2-1.4 2.1-2.5 1.7 0.2 0.6-1.4 2.3-1.5 0.8 0.5 1.5-1.3 0.4-3 1 1.8 0.7-1.1 1.6-0.3 2.1-2.4 1.5-0.3 1.4-1.4 3.8-1.9 0.6-1.4 0.8 0.7 2.9-2.4 5-2.8 0.6-1.3 3-1 2-2.3 2.2-0.5 0.6-1 2.2-0.9 1.3-2.1 1.5 0.2 0.5-1.5 0.8 0.1 1.3-1.3 0.5-2.8 1.2 4.5 1.4-0.5 0.1 1.1-105.6 69.9z" fill="url(#gb57)"/>
<path d="M115.8 491.2l1.8-0.8 0.5-2.4 2.1 0.8 0.6-1.8 1.7-1.2 0.9 0 1.5-2.2 1.2 1.1 3.9-4.2 0.8-0.4 1.1 0.4 0.7-0.8 1.1 0.6 0.6-1.7 2.5-1.4 0.6-1.9 1.1 0.9 0.6-1.4 1 0.1 0.7-1.2 1.7-0.3 1.1 1 1.7-0.7 1.1 0.7-1.7-35.2 0.5-2.6 0.8-0.7 1.1 1.4 8.7 24.7 4.9 8.2 1.7-0.1 1.5-1 1.3-2.4 1.7-0.2 3.1-1.8 0.7-1.2 1.6-0.4 1.4-1.7 2.4-0.8 3.7-3 1.6-0.2 1.4-1.7 0.9 0.3 0.6-1.3 1.5-1.1 1.5-0.3 7.3-5.4 0.8 0.4 0.6-1.6 1.6-0.3 4.2-3.5 2.2-0.7 0.4-3.2 1 1.8 5-2.7 0.6-1.3 0.8 0.6 0.7-1.1 4.8-3.8 0.8 0.7 0.6-1.8 2.8-0.9 0.8 1 1.4-0.6 0.2 1.6-105.7 70z" fill="url(#gb58)"/>
<path d="M116.8 492l1.1 0.4 2.3-2.9 1.9-0.1 4-3.9 2.7-0.7 3.2-3 0.7-1.5 1.9 0.5 0.6-1.8 1.9 0 3.2-2.5 0.9 0.1 1.5-2.2 4.7 1.1-0.4-12.7-1.9-21.2 0.9-5.6 1.9 5.9 1 0.2 7.8 20 3.9 7.4 2 1.8 6.1-4.7 1.6-0.3 1.5-1.7 0.8 0.3 1.4-2.1 1.7 0.2 1.4-2 3.9-1.7 1.4-1.6 2.3-0.6 1.4-2.1 0.9 0.6 0.6-1.1 0.9 0.5 1.3-2.6 3.7-2 0.8 0.2 3.5-3.6 5.9-2.8 0.4-3.1 0.9 1.6 1-5.4 1.1 3.6 0.8 0.5 1.4-1.7 3.6-1.9 2-2.2 0.8 0.5 2.7-2.2 0.8 0.1 0.5-1.5 1.5 0 0.6-1 0.8 0.4 2.2-0.4 0.1 1.5-105.7 70.3z" fill="url(#gb59)"/>
<path d="M117.4 491l0.7-1.4 4.6-1.3 0.6-1.6 1.9-0.2 0.7-1.5 0.9-0.4 1.1 1 0.8-0.9 1.9 0.2 0.6-1.9 2.7-0.5 0.6-1.8 1.1 0.6 1.5-1.6 1 0.3 2.2-3.2 1.1 0.8 0.6-1.5 1.7-0.8 1.8-0.4 1 0.7 0.8-0.4 0.7-6.6-2.7-36.6 1.5 3.2 0.2-4.3 11.6 31.9 1.3 2.8 2.3 3 0.9 0.3 4.8-2.2 1.8 0.6 2.4-1 0.7-1.1 2.3-0.9 0.7-1.4 0.8 0.3 1.5-1.3 0.9 0.1 5.6-6.6 0.9 0.2 2.7-3.8 1.6 0.3 0.6-1.6 3.2-0.6 0.6-1.2 0.9 0.6 2.9-2 0.9 0.8 0.6-0.9 2.3-0.6 0.6-1.4 0.8 0.4 0.7-0.9 0.8 0.1 0.6-1 0.2-5.8 1.4 5.6 1.2-2.3 2.3-0.3 2-2.2 2.9-1.4 3.9-5 2.2-0.8 0.9-5.2 1.1 3.3 0.8 0.6 0.7-0.4 0.4-3.5 0.6 7.2-105.7 70.4z" fill="url(#gb60)"/>
<path d="M119.1 495l0.4-2.4 1.2 1.1 1.6-1.7 1.1 0.3 0.8-0.6 1.5-2.2 2 0.6 0.7-1.7 1.1 0.8 0.5-2.1 0.9-0.1 0.7-1.4 3.6-1 0.6-1.9 0.9 0 1.6-1.4 2.7-0.5 2.2-3.2 1.1 1.4 0.6-1.9 1.1 0.9 2.7 0 0.6-6.8-1.7-25.9 0.2-9.2 1 0.4 11.2 29.2 2.4 4.3 3 2.4 1.5-1.4 3.2-1.2 1.4-1.9 3.1-2.1 0.9 0.3 1.6-0.5 1.4-1.8 0.8-0.1 0.6-1.7 1.6 0 5.2-4.3 3.1-1 0.6-1.4 2.3-0.6 0.6-1.3 4.6-2 0.6-1.4 2.9-1.6 1.6 0.2 0.6-1.6 2.2-1 1.3-1.7 1.5-0.1 1.3-2.1 1.6 0.2 2-2.4 1.5 0 2-2.1 0.8 0.3 2-2.1 0.4-3.6 1.7 2.8 0.6-1.6 0.8 0.9 0.6-1.7 0.8 0.7 2.1-0.9 0.2 1.5-105.9 70.6z" fill="url(#gb61)"/>
<path d="M120.4 497.5l0.5-2.3 1.1 0.5 0.7-1.4 1 0.4 0.8-1.2 2.5-1.6 0.6-1.7 1.1 0.5 0.8-1 1 0.2 1.5-1.9 1.7-0.7 1.1 0.6 0.6-1.9 0.9 0 0.7-1.4 0.9 0.1 1.6-1.7 1 0.6 0.7-1.3 1 0.3 1.4-2.4 0.9 0 1.6-1.4 1 0.5 0.8-0.5 1.9 0.3 0.6-1.4-0.1-6.2-1.7-20.2 0.4-13.6 1 0.2 4.6 11.1 6.5 17.9 3.5 5.4 2.7 1 0.7-1 0.9 0.2 2.2-2.5 0.8 0.2 3.8-2.8 0.9 0 5.2-4.5 0.9 0.7 0.6-1.5 2.2-1.7 0.9 0.8 0.6-1.6 2.3-1.2 0.8 0.1 1.4-2.2 2.3-0.4 0.6-1.5 2.3-0.6 2.9-2.5 1.5-0.1 1.3-2.1 4.5-1.9 0.6-1.3 0.8 0.2 2-2.3 0.3-4.7 1.2 4.4 0.8 0.3 2.7-3.3 0.8 0.4 1.3-1.9 0.7 0.3 2.8-2.6 0.7 0.4 2.1-1.8 0.2-4.9 1.1 3.6 0.7-0.8 0.8 0.7 1.4-0.3 0.1 1.1-105.9 70.7z" fill="url(#gb62)"/>
<path d="M121.3 497.8l2 0 0.6-1.5 1 0.3 3.5-2 0.7-1.2 1.8-0.6 0.7-1.3 1 0.1 3.2-2.8 1 0 9.8-7.2 4.5 0.2 0.3-8.8-2-27.9 0.8-0.5-1-11.2 7.2 20.8 1.1 1.7 4.8 13 3.5 5.4 2.7 0.6 17.5-11.7 1.4-1.7 1.6-0.3 10.3-6.9 1.4-1.3 0.4-3.3 1.1 2.6 6.5-4.3 0.6-1 9.3-5.6 1.3-1.7 0.8 0.2 5.5-3.7 0.6-1 0.8 0.6 1.4-0.7 0 0.1-105.9 71z" fill="url(#gb63)"/>
<path d="M122.6 500l5-3.9 6.1-3.4 1.5-2 2.6-0.7 0.8-1.2 9-6 4.5-0.3 0.3-8.8-1.6-36.5 2.1 7.3 0.8-0.9 9.6 25.8 2.4 4.1 2.9 2.2 1.7-0.5 56.9-38.3 2.8-1.2 0 0-106 71.2z" fill="url(#gb64)"/>
<path d="M123.7 501.2l2.5-2 4.4-2.1 8.2-6.8 4.3-2 5.7-4.2 1.7-0.5 2.7 0.2 0.3-14.2-1.3-18.5 0.7-7.2 1.1 1.6 0.9-0.6 1.2 2 6.9 20.4 3.8 7.4 1.9 1.4 1.8 0.2 34.5-23 0.5-2.3 1 1.3 21.8-14.7 2.8-1.4 0 0.1-106.1 71.3z" fill="url(#gb65)"/>
<path d="M124.5 501.2l1 0 1.4-2.4 1.8-1 0.9-0.4 1 0.5 1.5-2.3 3.5-1.5 0.7-1.4 1.8-0.6 0.7-1.3 2.6-1 3.2-2.9 1 0.2 3.2-2.7 0.9 0.2 0.7-1.2 2.9 0.7 0.7-0.7 0.5-7.9-2.3-35.3 2.5 3.9 0.9-0.2 9.6 25.8 3.5 5.6 1.8 0.7 2.5-0.7 0.7-1 0.9 0.3 0.6-1.4 1.5-1.3 0.9 0.4 2.1-2.9 1.7 0.1 2.4-1.1 5.1-4.4 0.9 0.6 1.4-2 6-3.7 0.6-1.2 0.8 0.1 0.7-0.9 0.9 0.5 1.3-2.2 0.8 0.1 1.4-1.5 3-1.2 1.3-1.9 0.9 0.6 0.6-1.3 2.2-1.2 0.5-2 0.9 0.8 0.3-4.2 0.8 0.5 1 2.5 0.8 0 1.4-1.5 0.7 0.2 0.6-1.9 0.8 0.5 0.7-0.9 0.8 0.5 0.2-5.3 1.1 3.6 0.6-0.9 0.8 0.3 0.6-1.2 0.8 0.3 1.3-1.6 1.5 0.1 4.1-3.6 0.1 1.8-106.1 71.6z" fill="url(#gb66)"/>
<path d="M125.4 501.7l1.5-2.5 1.9-0.4 1.6-1.5 3.6-1.4 0.7-1.4 3.4-2.1 1.5-1.8 3.6-0.9 2.3-2.7 2.5-1.4 0.7-1.2 1.1 0.7 1.5-2 1.9 0.4 1.7-0.5 0.3-9-1.9-27.8 1-4.7 1.2 1.3 1.6 4.2 0.4-3 3.9 13 5.8 14 2.2 3.5 2.8 0.7 1.6-0.5 1.4-1.7 1 0.8 0.6-1.5 1.5-1.4 4-1.8 2.1-2.5 1.7 0 2.2-2.4 1.5-0.4 0.5-2.9 1.1 2.5 2.9-3.2 1.6 0 0.6-1.3 1.6-0.2 1.4-1.8 1.5-0.9 0.8 0.3 1.4-1.9 4.4-2.2 2.1-2.6 0.8 0.3 5-2.8 2.1-2.2 0.7-0.1 0.5-2.6 0.9 1.6 0.8-0.3 1.3-1.8 1.5-0.2 1.3-1.6 1.4-0.7 0.6-2 0.9 1.6 2-2.1 0.7 0.5 2-2.3 0.8 0.3 0.2 2.2-106.2 71.7z" fill="url(#gb67)"/>
<path d="M126.3 501.7l6.1-3.5 1.5-2 1.1 0.3 1.7-1 1.5-2.1 3.4-2 0.9 0.1 0.7-1.3 1 0 0.6-1.6 3.6-0.9 0.6-1.5 6-2.4 1 0.5-0.1-16.9-1.9-28 2.1 1.5 1.6 4.3 0.5-2.8 5.9 19.9 4.1 9.6 2.3 3.4 2.7 0.5 0.7-1 1 1 1.5-1.3 0.6-1.7 0.9 0.3 0.7-1.2 2.4-0.6 1.4-2.3 0.9 0.4 0.6-1.2 1 0.6 0.6-1.5 0.8 0.3 4.5-3.5 0.4-3.8 1.1 2.9 2.3-1.2 0.7-1.4 3.8-1.5 0.6-1.3 0.9 0 1.4-1.4 3-1.4 2.8-3 0.8 0.4 0.7-1.1 1.4-0.8 0.8 0.3 0.7-1.4 0.8 0.6 2-2.7 1.5 0.1 0.2-6.2 1.2 4.2 1.5 0.4 2.1-2.2 3.5-2.4 0.7 0.1 1.3-2.2 1.5-0.1 2.7-2.4 0.8 0.6 1.2-2.2 0.8 0.3 0.2 2.7-106.2 71.9z" fill="url(#gb68)"/>
<path d="M127.4 503.1l0.9-0.7 1.9 0 0.7-1.6 3.6-1.3 4.1-3.4 1 0.4 1.5-2 1.8-0.5 4.8-4.7 1 0.3 0.7-1.3 0.9 0 1.5-1.6 1 0.1 0.6-1.6 2.1 1.4 1.6-1 0.2-9.8-1.7-32.6 0.4-3.3 3.1 7.9 1 0.6 3.6 11.2 5.6 13.4 3.2 4 2.7 0.5 1.4-2.1 0.9 0.1 1.5-1.2 0.9 0.2 1.4-1.7 1.6-0.4 1.5-1.7 3.9-1.8 1.4-1.9 2.3-0.9 0.7-1 2.3-1.2 1.4-1.7 0.9 0.2 2.1-2.2 0.8 0.2 1.5-1.4 0.8 0.3 0.6-1.5 3-1.2 1.4-1.7 2.2-1 0.7-1.1 0.8 0.1 7.2-4.9 0.6-1.2 0.8 0.6 0.7-1.1 2.1-1.6 0.7 0.1 2.1-2.2 2.1-0.8 0.9-6.4 1.2 5.1 0.2-5.7 1.2 4.4 4.1-2.4 0.2 1.7-106.3 72.1z" fill="url(#gb69)"/>
<path d="M128.8 505.9l2.5-2.6 1 0.2 0.7-0.9 1.9-0.6 1.4-2.4 1.1 0.4 0.7-1.3 0.9 0 3.3-2.7 0.9-0.1 1.6-1.7 1.7-1 0.9 0.1 0.7-1.4 2.6-0.9 3.3-2.3 0.7-1.3 1.1 1 0.7-0.9 1 0.5 0.7-1.1-0.5-25.4-1.1-12 1.8-0.5-0.1-6 2.7 4.9 3.7 12.1 5.7 14.3 2.3 3.2 2.7 0.9 2.5-0.7 3.8-2.9 0.8 0 0.6-1.8 2.5-0.6 3-2.5 0.9 0.6 3.6-3.6 0.8 0.2 2.1-2.8 2.3-1 0.9 0.6 0.6-1.6 1.6-0.4 0.6-1.5 1.5-0.4 0.7-1 0.9 0.3 0.6-1.2 1.5-0.4 0.7-1.2 3-0.9 1.3-2.1 0.8 0.2 0.2-6 1.3 5 2.7-2.8 0.9 0.5 2-2.2 0.8 0.3 0.7-1 2.1-1 0.2-6.1 1.2 5.2 1.5-0.5 1.2-3.3 0.9 2 1.9-3 0.8 0.5 1.4-1.4 2.8-0.8 0.6-1.7 0.1 1.7-106.3 72.3z" fill="url(#gb70)"/>
<path d="M129.8 506.5l1-0.1 0.7-1.5 4.4-2.2 1.4-2.3 1.9-0.3 3.2-3.2 1.9 0 1.5-1.9 1 0.2 1.6-1.7 1 0.6 1.5-1.8 1.8-0.6 2.2-3.1 3.7 0.3 0.7-1.3 0-10.4-0.7-15.5-1.7-16.4 0.3-3.9 2.3 2.6 1.3 2.9 9.6 26.5 2.2 3.4 3 2.4 2.4-1.2 1.7 0.1 1.4-2 0.9 0.2 1.5-1.6 0.8 0 0.7-1.3 3-2.1 1.6-0.4 1.5-1.7 1.6-0.1 1.4-1.7 1.6-0.1 1.4-2.2 1.6 0 3.6-3.4 3-1.5 0.6-1.6 1.7 0.3 0.6-1.1 0.9 0.5 0.5-1.8 3.1-1 1.3-1.7 3-1.2 1.3-2.1 1.5 0.1 0.7-1.1 1.5 0 1.3-2 1.5-0.2 5.5-4.6 2.2-1 0.6-1.1 4.2-1.5 0.1 0.5-106.4 72.5z" fill="url(#gb71)"/>
<path d="M131 508.1l2.5-2.4 6.1-2.8 0.7-1.7 0.8-0.8 1 0.2 1.5-2.3 1 0.3 1.5-1.8 1 0.1 0.7-0.9 1.1 0.6 2.3-2.6 1.8-0.4 0.7-1.2 0.9 0.1 0.6-1.8 3.6-0.3 1.4-2.4 0.2-9.8-1.4-25.6 1-11.4 7 21.5 4.4 11.4 2.3 3.7 3 2.6 4.8-2.6 2.4-0.6 5.2-4.8 4.7-1.9 0.7-1.5 1.5-1.2 1.5-0.9 0.8 0.4 0.7-1.1 1.6-0.4 1.4-2 2.2-0.8 1.5-1.6 0.8 0.3 0.7-0.7 0.2-4.8 1.2 3.3 1.5-0.4 0.7-1.2 1.5-0.3 0.6-1.3 5.9-3.3 5.6-4.7 0.8 0.5 0.6-1.4 0.8 0.3 2.7-2.7 1.5 0 1.3-1.8 2.9-1 1.9-2.9 1.5 0.7 0 0.2-106.4 72.7z" fill="url(#gb72)"/>
<path d="M131.3 505.4l4.3-2.9 2 0 0.7-1.3 1 0.5 0.8-1.2 1 0.3 0.7-1.3 1.1 0.7 0.8-0.7 1.1 0.5 1.7-0.8 3.3-2.2 1.6-2 3.3-1.7 3.2-3.1 2.6-0.4 0.8-6.4-1.8-33.4 2-5.4 4.1 8.7 3.6 11.7 5.1 10.6 1.1 1.6 1.9 0.7 2.4-1.2 1 1 0.8 0 0.8-0.7 2.6 0.3 3-2.8 1.5-0.7 0.7-1.2 1.7-0.1 2.1-2.5 0.8 0 7.1-8.6 0.9 0.4 0.7-0.9 0.8 0 0.6-1.5 0.9 0.5 0.7-0.8 1.6-0.1 0.6-0.9 3.2-0.3 2.1-1.5 0.9 0.8 0.1-6.3 1.2 4.3 0.8 0 6.5-4.2 0.6-1.7 0.8 0.9 3.4-3.5 1.5-0.2 1.2-3.6 1.4-0.2 0.7-1.3 0.7 0.2 0.4-4.7 1 3.3 0.6-1.3 1.4-0.9 2.2 0 0.2 2.9-106.5 72.8z" fill="url(#gb73)"/>
<path d="M133.1 510.2l0.7-1.5 2.8-0.7 0.6-1.7 2.7-1.5 1 0.2 0.6-1.5 3.4-2.4 0.9 0 1.6-1.6 1.1 0.7 2.2-3.1 1.9-0.4 0.7-1.2 1.7-0.5 2.4-2.3 3.5-0.6 1.5-2.4 0.1-10.1-2.1-36 0.9-0.5 1.2 2 10.9 30 4.5 6.4 2.5-0.2 3.2-2 0.8 0.1 0.7-1.4 1.5-1.1 6.9-4.8 3.9-1.8 2.9-2.9 6-3.6 0.6-1.4 0.9 0.2 3.7-2 1.4-1.7 4.4-2.6 2.1-2.1 0.7 0.1 2.1-1.9 0.9 0.4 1.3-1.9 0.8 0.4 4.1-3.7 0.8 0.2 0.3-5.5 1.1 4.1 3.5-2 1.3-1.8 0.8 0.4 2.7-2.4 0.7 0.1 0.1 0.6-106.6 73.1z" fill="url(#gb74)"/>
<path d="M133.9 509.8l0.9-0.5 0.6-1.8 1 0.2 1.7-1.7 1.8-0.3 0.6-1.9 1.1 0.7 0.7-1.7 3.6-1.2 0.7-1.1 1.8-0.8 0.7-1.4 0.9 0.1 2.4-2.3 5.1-2.6 1.5-1.9 1 0.3 0.8-1 1.9 0.7 0.8-6.3-1.9-46.4 12.9 36.8 3.2 3.7 1.9 1.2 1.7 0.1 7.7-5.8 0.9 0.3 2.9-3.3 2.5 0.5 1.3-3.2 0.8 0.2 2.3-1.2 0.3-4.4 1.1 2.5 0.9 0.1 0.7-0.9 0.1-5.4 1.5 5.5 2.1-2.6 1.6-0.1 0.7-1.1 6.5-4.7 2.2-1.6 0.8 0.2 4.3-3.7 2.2-0.8 0.3-4.9 1 3.4 0.8 0.1 1.3-2.2 0.8 0.9 2.1-2.2 5.6-3.2 0.7-1.3 2.1-0.5 2-2 0.2 2.6-106.6 73.2z" fill="url(#gb75)"/>
<path d="M134.8 509.8l1 0.3 1.6-2 1 0.1 3.4-2.3 0.7-1.6 1.8-0.6 0.7-1.2 1 0.2 0.7-1.3 3.5-1.5 1.5-2.2 1 0.4 0.9-0.4 1.5-2.1 1.9 0.3 0.7-1.5 1.6-1.2 4.3-1.6 0.7-1.6 0.1-10.2-1.8-28.8 0.4-3.5 0.8-0.7 1 0.5 1.8 5.7 0.1-5.2 2.7 11.4 5.9 15.8 3.5 5.5 0.9 0.7 1.8 0.1 4-1.9 3-2.5 0.7-1.3 0.9 0.4 0.7-1.4 0.8 0.3 1.5-1.7 1.6-0.1 3.7-3.6 0.9 0.3 0.1-5.8 1.4 4.6 0.7-0.4 1.4-2.4 1.6 0.3 0.7-1.1 2.3-0.6 5.1-4.4 4.5-2.4 2-2.6 0.9 0.5 0.6-1.6 0.8 0.6 0.7-0.4 4.3-3.4 2.9-1.3 0.6-1.3 1.5-0.1 1.4-1.4 1.4-0.4 8.3-6.9 0.2 3.2-106.7 73.4z" fill="url(#gb76)"/>
<path d="M136.1 512.1l7.6-6.1 1 0.3 0.9-0.6 0.7-1.4 1.1 0.9 0.6-1.8 0.9 0 1.6-2 2.6-1 1.5-2.4 2.8 0 0.6-1.7 0.9 0.1 0.7-1.3 1 0.5 1.6-1.7 2.7-0.3 0.5-2.4 0.2-15.4-1.7-28.6 2.1 1.6 1.4 2.8 1 0.7 2.5 10.9 0.6-2.2 3.6 11.8 3.8 8.2 2 1.3 1.7 0 2.3-1.6 0.9 0.2 6.2-4.5 3.2-1.2 1.4-1.9 0.7-0.6 0.9 0.2 0.6-1.3 0.9 0.3 0.7-1.1 1.6-0.3 1.4-1.9 0.8 0.4 1.5-1.6 0.8 0.3 1.4-2.1 2.2-1.2 0.7-1 0.8 0.3 2.9-2.9 0.8 0.1 2.2-1.7 0.8 0.1 0.6-1.2 0.8 0.4 1.4-1.8 2.9-1.6 1.4-1.6 1.5-0.2 1.3-2.4 0.8 0.5 0.7-0.6 1.3-1.7 0.6-2 1.7 1.8 0.6-1.1 2.2-1 0.6-1.1 0.7 0.1 6.2-4.9 0.2 2.1-106.8 73.7z" fill="url(#gb77)"/>
<path d="M137.3 513.8l1.7-1.6 3.5-1.9 0.8-1 3.5-1.9 0.7-1.3 2.6-1.1 1.6-1.8 5-3.6 1 0.4 0.7-1.3 2.5-1.3 1.6-1.7 2.7-0.2 0.8-0.7 0.8-6.5-0.2-12.3-1.7-29 2.9 6.9 0.4-3.3 1.4 3.1 5.3 17.4 2.8 7 2.3 3.4 2 2 1.8 0.6 0.7-1.3 1.7 0.4 0.7-1.1 5.6-2.9 2.9-3 2.5-0.4 0.6-1.5 3.1-1.7 0.7-1.3 0.8 0.3 0.7-1.1 1.6-0.5 0.6-1.5 0.8 0.5 2.2-2.5 0.8 0.4 0.7-1 3-1.6 0.7-1.4 0.8 0.5 2.8-2.9 0.9 0.5 0.7-0.6 2-2.8 0.9 0.6 2.8-2.3 0.8 0.2 2.8-2.9 4.3-2.3 1.3-1.5 0.8 0.1 1.3-1.6 2.2-0.7 0.2-6.6 1.1 5.1 4.2-2.9 0.7 0.4 0.1 0.4-106.9 73.8z" fill="url(#gb78)"/>
<path d="M138.3 514.2l1.8-0.9 1.6-1.8 1 0.3 6.7-5.1 3.5-1.9 0.6-1.6 1.9-0.4 0.7-1.2 1 0.4 0.7-1.4 0.9-0.1 1.5-1.7 1.7-0.9 1 0.2 2.3-2.7 1.9 0.5 0.8-6.2-1.2-31.1 0.5-9 3.7 6.6 7.9 22.9 3.3 4.6 2.7 1.1 2.4-1.5 0.9 0.3 3.8-3.6 2.4-1.1 3.7-3.1 3.1-1.7 0.7-1.1 0.9 0.5 2.2-2.2 0.8 0.3 0.7-1.3 0.8 0.1 5.1-4.4 3.8-2 2.1-2.5 0.8 0.8 0.6-2.2 1.5 0.2 2.9-2.7 1.5-0.1 2.8-3 0.8 0.3 2.1-1.1 3.5-3.3 0.8 0.4 3.4-3.2 0.8 0.1 0.6-1.3 3.5-1.8 2-1.9 0.2 1.5-106.9 74z" fill="url(#gb79)"/>
<path d="M138.6 511.4l1.6-2.2 1.1 0.6 0.7-1.3 3.6-1.8 0.7-1 1.1 0.4 1.7-0.8 1.2 0.9 0.7-1.2 2.7-0.9 0.7-1.3 1 0.3 3.2-3.3 1.8-0.4 1.5-1.8 3.3-2.2 1 0.4 1.6-1.5 0.5-2.4 0.2-10.4-1.4-26.8 0-5.8 0.6-2.2 2.1 7.8 0.4-3.9 9.1 24.9 2.2 3.3 2 1.6 2.7 0.8 0.7-1 2.7 1 3.3-1.1 3.7-3.5 1 1.2 0.6-2 1.6-0.5 3.6-3.7 0.6-2.1 1.6-0.7 2.9-3.2 1.5-0.5 1.4-2 3.8-1.5 2.4-0.1 1.4-1.2 0.9 0.7 1.4-1.7 1.5-0.1 0.7-1 0.8 0.4 2.8-2.8 1.5-0.4 3.5-3.2 2.9-1.5 4.1-4.3 0.6-1.8 0.8 0 3.4-3.5 2.2 0.3 0.7-0.6 0.2 4-106.9 74.2z" fill="url(#gb80)"/>
<path d="M140.5 516.3l1.8-0.6 0.6-1.9 1.1 0.4 1.7-1.3 0.7-1.5 1.7-1.1 1 0.1 0.7-1.3 1 0.2 1.6-1.6 1 0.1 1.5-1.9 6.8-4.1 1.5-1.9 2.6-0.8 1.6-1.7 1 0.7 0.8-1 0.8-6.4-1.6-33.9 0.8-7.2 1.3 2.9 0.9-0.6 2.3 9.7 2.5 4.7 4.8 14.6 2.2 3.1 2.9 2.1 1.6-1.1 0.9 0.7 3.1-2.6 0.8-0.1 0.7-1.2 5.5-3.1 0.7-1.1 4.6-2.9 1.6-0.4 0.2-5.4 1.2 3.6 0.8-0.2 1.5-1 0.3-4.5 1.1 2.8 0.7-1.3 1.6 0.3 0.7-1.4 0.8 0.6 0.7-1.4 2.3-0.6 2.1-2.3 0.8 0.2 0.4-3.7 1 1.9 1.5-0.5 3.6-3.2 2.2-0.8 1.3-2.5 0.9 1.5 1.3-2 1.5-0.1 0.7-1.1 3.5-1.9 2.8-2.1 0.7-1.1 1.4-0.3 4.8-4 0.1 1.5-107 74.5z" fill="url(#gb81)"/>
<path d="M141 514.3l5.1-3.8 1.1 0.4 1.7-0.8 0.8-1.1 1.8-0.6 1.1 0.7 0.9-0.5 0.7-1.4 1.9 0.1 2.4-2.6 1.8-0.3 3.1-3.2 1 0 1.5-2.1 2.4-1.8 1 0.3 0.8-0.6 0.8-12.4-1.4-20.8 0.4-16.2 0.9 0 1.4 3.5 10.6 29.5 3.9 3 2.5-0.7 1 0.7 1.6-0.9 0.9 0.7 0.8-0.7 1.6-0.1 0.7-1.3 0.9-0.1 2.2-2 1.7-0.2 9.4-10.5 0.8 0.3 1.4-2.4 0.9 0.9 2.2-2 5.3-2.3 0.3-4.2 1.2 3.8 1.5-0.3 2.9-2.5 5.1-2.5 2.1-2.2 0.6-2.1 0.9 1.4 0.6-0.8 1.5-0.4 3.4-3.5 0.6-2.1 2.8-1.9 1.3-2 1.5-0.1 0.7-0.7 1.4 0.2 0.2 2.8-107 74.6z" fill="url(#gb82)"/>
<path d="M142.7 518.8l0.8-1 1.1 0.3 0.8-0.7 0.7-1.7 1.9-0.1 2.4-2.5 1.8-0.7 0.7-1.2 1 0.1 4.9-4.4 1.8-0.3 4.9-4.2 1.8-0.2 0.7-1.6 1.8 0.3 1.6-1.3 0.8-6.7-0.2-13-1.4-21.9 0.6-2.2 0.9-0.1 1.6-1.6 5.3 17.9 1 0.8 3.2 9.9 2.3 3.7 3.7 2 4-2.4 0.7-1.3 0.8 0.1 2.3-1.9 3.2-1.4 3.7-3.4 1.6-0.3 1.5-1.7 3.1-1.5 1.4-1.8 3.8-2 0.6-1.2 3.1-1.3 0.7-1.2 0.8 0.2 3.5-3.4 1.6-0.2 0.7-1 0.2-5.5 1.2 4.4 0.8-0.1 4.3-2.8 2-2.6 0.8 0.6 0.7-1.3 1.5-0.3 2.7-2.6 0.8 0.3 1.3-2 0.8 0.1 0.6-0.9 0.8 0.3 4.1-3.5 1.4-0.5 0 0.2-107.1 74.8z" fill="url(#gb83)"/>
<path d="M143.9 520.2l1.5-2.3 1.8-1.2 0.9 0.1 0.7-1.6 2 0.2 4-4 4.4-2.2 0.7-1.6 0.9 0 2.5-1.6 0.7-1.6 1.9 0.3 1.5-1.9 2.7-0.7 0.6-1.4 1.7-0.9 0.6-2.1 0.2-10.3-1.3-33.3 1 0.7 0.4-3.7 3.8 13.3 0.9 0.1 6.1 17.8 4.4 6.4 0.8-0.8 1.8 0.5 0.6-1.5 3.3-1.2 0.9 0.3 2.1-2.9 0.9 0.1 0.7-1.4 2.4-0.2 0.7-1.1 0.8-0.1 0.7-1.5 1.6-0.3 0.7-1.3 2.3-1 0.2-6 1.3 4.6 3-2.3 0.8 0.3 0.7-1.6 3-1.3 0.7-0.9 2.3-1.2 1.4-1.8 2.3-0.4 1.4-1.8 2.2-0.5 0.7-1.4 1.5-0.5 0.6-1.2 1.5-0.3 1.4-1.4 0.5-3.7 1 2.7 1.4-1.3 0.7 0.2 2.8-2.5 2.2-0.9 0.6-1.5 1.5-0.2 2.1-1.3 4.8-3.9 0 0.9-107.1 75z" fill="url(#gb84)"/>
<path d="M143.5 513.5l1.7-1.8 5.4-2.3 3.7-0.9 2.9 0.4 3.5-1.6 4.1-3.9 1.8-0.2 2.2-3.5 1.8 0 2.4-2.5 0.8-12.2-1.4-28.4 0-12.5 13.2 35.5 3.1 2.9 0.7-1 2.7 1.1 0.8-0.7 2 2 0.7-1 3.4-0.2 0.7-1.4 1.6-0.5 0.7-1 3.1-1.8 2.9-3.3 2.7-5 2.3-1.8 1.4-2.1 4.5-2.5 0.9 0.7 0.7-0.7 0.9 0.5 0.7-0.9 1.7 0.9 1.4-1.4 0.8 0.4 3-1 4.3-3.7 1.5-0.3 0.6-1.6 5.1-2.6 4.6-7.3 3.4-4 1.5 0.5 0.7-0.9 1.4 0 0.4 5.8-107.2 75.2z" fill="url(#gb85)"/>
<path d="M145.7 520.2l7.6-6.1 1 0.2 2.5-2.5 2.7-0.9 0.6-1.5 1 0 2.4-2.3 1 0.4 2.3-3 2.6-1.1 2.4-2.1 1.8-0.4 1.4-2.7 0.3-9.8-1-25.7 0.3-10.7 1.1 1.5 2.9 7.6 2.3 9.8 0.7-1.5 2 7.4 3.8 8.5 1 0.5 1.1 2.2 1.9 1 2.4-1.5 0.9 0.2 1.5-1.8 3.1-1.9 0.9 0.2 1.4-2.1 1.6-0.3 0.8-1 2.3-0.8 3.7-3.6 0.9 0.5 1.4-2 2.4-0.9 0.7-0.9 0.5-2.8 1.8 1.5 0.6-1.2 1.6-0.7 1.4-1.6 0.8 0.4 2.2-2.3 0.7 0 2.9-2.6 6.6-3.8 2.1-2.3 0.8 0.1 0.6-1.3 2.9-1.3 0.7-1.2 1.5 0.1 2.7-3 0.8 0.4 5.5-4.8 1.4-0.5 0.1 2-107.2 75.5z" fill="url(#gb86)"/>
<path d="M146.8 521.4l2.5-2.8 7.1-3.6 1.4-2.6 2.8-0.5 0.7-1.5 1 0.4 2.4-2.5 3.4-1.7 1.4-2.8 1 0.4 1.6-1.4 1 0.3 0.7-1.2 1 0.3 0.7-1.1 0.9-12.4-1-25 0.6-8.5 0.8-0.8 1.7 5.3 2.2 2.4 4 15.3 4.9 10.3 2 1.9 1.7-0.3 0.7-1.1 1 0.8 2.4-1.5 0.6-1.6 0.9 0.4 1.5-1.3 0.9 0 0.7-1.3 1.6-0.6 3-2.7 4.7-2.4 1.3-2.3 0.9 0.4 5.2-4 0.7-1.2 3.8-1.5 0.7-1.3 0.8 0 4.4-3 1.4-1.7 2.2-0.7 2.1-2.4 2.3-0.3 2.7-3.4 0.9 0.9 1.3-2.1 2.9-1.4 2.7-3 2.2-0.2 1.3-1.8 3.5-2 0.2 1.8-107.4 75.7z" fill="url(#gb87)"/>
<path d="M147.8 521.8l5.2-3.8 1 0.1 4.9-4.6 1 0.3 5-3.9 0.8-1.3 6.8-3.7 4.1-3.1 0.8-12.6-1.1-20.3 0.1-18.4 2.1 8.3 2.2 2.7 6.4 19.6 3.6 7.2 0.9 0.2 1.1 1.8 0.9 0.1 1.6-1.1 0.8 0.2 3.1-2.8 2.5-0.7 5.3-4.5 3.2-0.9 0.6-2.3 1.6 0.2 0.7-1.3 1.6-0.5 1.4-1.9 0.9 0.4 0.7-0.8 0.5-3 1 2.1 2.1-2.4 3.1-1.4 0.7-1.1 0.8 0 3.7-2.4 4.3-3.6 10.8-6.8 1.3-1.7 0.4-5.2 1.1 4.6 0.6-1.3 1.5-0.2 6.3-4.3 0.1 1.7-107.4 75.9z" fill="url(#gb88)"/>
<path d="M149 523.4l3.4-3 1 0.1 0.7-1.3 1 0 3.4-2.8 0.9-0.1 3.2-3.4 1 0.1 2.4-2.2 1.8-0.6 1.6-2 1 0.6 1.5-1.9 5.1-2.8 0.7-1.2 0.9-12.3-1.3-28.2 0.7-1.1 0.4-3.7 1.6 4.8 0.9-0.7 1.1 1.8 7.6 22.5 3.3 5 1.7-0.2 1 0.7 1.6-0.5 0.7-1.8 0.9 0.9 2.2-2.8 3.2-1.5 2.3-2 0.9 0.4 0.7-1.5 3.1-1.2 0.7-1.4 1.5-1 0.9 0.1 2.1-2.8 0.9 0.5 3.7-3.2 0.8 0.2 0.6-1.4 1.6-0.4 0.7-1.2 0.8 0.3 4.3-3.9 2.3-0.9 1.4-1.4 0.8 0.1 2.1-2.5 3.6-1.6 1.4-1.8 4.3-2.7 2.1-2.1 1.5 0.1 2.7-2.9 2.9-0.9 1.3-1.7 0.7 0.3 0.1 0.7-107.5 76.1z" fill="url(#gb89)"/>
<path d="M150.1 524.3l1.9-0.6 1.6-1.9 2.6-1.4 0.7-1.6 1 0.2 3.6-1.8 0.6-1.5 1 0.1 0.8-1.3 1.8-0.2 0.7-1.3 6-3.5 3.2-3.3 0.9 0.4 2.4-2.7 0.7-7-0.8-30.9 0.3-11 2.3 9.4-0.3-8.1 2.4 10 8.5 23 3 3.5 0.8-0.5 1 0.4 2.4-0.8 1.5-2.2 3.2-1.3 0.7-1.1 4.8-2.2 0.6-1.5 2.3-1.9 1.6-0.2 1.4-2.1 0.9 0.3 2.2-2.3 1.5-0.2 4.4-4.1 0.8 0.2 0.7-1.2 3.1-1.1 1.4-2.1 1.5-0.5 1.4-1.5 0.8 0.6 1.4-2.3 1.5-0.4 0.5-2.1 0.8 0.3 3-0.8 1.4-2.1 5-2.5 1.3-2.4 0.8 0.8 2.1-2.1 0.7 0.3 2.8-2.9 0.7 0.4 1.4-1.5 0.3-5.6 0.4 6-107.5 76.3z" fill="url(#gb90)"/>
<path d="M151.4 526.3l1.6-2 1 0.2 0.7-2 2.7-0.9 2.5-2.5 1 0.3 1.5-2.2 0.9-0.5 1 0.4 3.3-2.8 1.8-0.5 2.4-2.5 2.6-1.2 1.5-2.3 1.8-0.1 1.7-1 1.2-3.9 0.4-9.5-1.3-28.1 1.4-3.1 1 0 1.1 1.3 1.2 2.6 8.8 24.7 2 2.7 1.9 0.8 0.7-1.2 1.7 0.2 0.8-1.1 2.4-1 6.1-5.1 0.9 0 1.4-1.8 1.6-0.3 3-2.6 0.9 0.2 0.7-0.6 0.1-7.2 2.1 5.1 0.7-1.1 1.6-0.2 0.7-1.3 2.3-1.1 0.3-5.2 1.2 4.4 0.7-1.2 2.3-1 1.4-1.6 2.2-0.9 0.7-0.9 0.8 0.2 2.1-2.6 1.5-0.3 2.1-2.1 0.7-1.8 1.5 0.5 3.6-1.9 2.1-2.3 2.2-1 2-2.4 1.4-0.9 0.8 0.6 0.6-1.6 0.8 0.3 1.3-1.7 0.7 0.2 1.4-1.1 0 0.4-107.5 76.5z" fill="url(#gb91)"/>
<path d="M151.9 523.7l0.9-0.5 0.6-1.7 1.1 0.6 2.5-2.6 3.7-1 1.7-1.5 1 0.6 5.2-3.2 0.7-1.6 1 0.4 2.4-2.1 1 0.2 2.3-3 4.2-2.5 1.5-8.6-1.2-40.1 0.5-3.1 3.4 11.2 3.9 8.1 4.3 12 3.3 5.2 2.6-0.3 0.9 0.9 1.8 0 0.7-1.1 2.5-0.1 2.4-1.3 0.7-1.4 0.9 0.3 0.7-1.2 0.8 0 1.5-1.6 5.4-3.5 0.6-2 0.8-0.2 0.6-1.4 0.9 0.2 1.4-1.4 0.4-4.6 1.1 3.2 0.7-1.6 4.5-2.8 3.1-0.7 0.8 0.5 0.7-1.2 3.8-1.3 3.5-3.4 2.3-0.9 7.1-5.2 7.5-8.4 0.8 0.4 0.6-1 1.5 0.5 0.7-1.2 0.2 3.1-107.6 76.7z" fill="url(#gb92)"/>
<path d="M153.3 526.5l2 0 1.5-2.3 2.8-0.8 2.4-2.8 1 0 3.3-3 1.8-0.7 0.7-1.5 1.9 0 8.3-6.2 0.9 0.3 2.3-2.8 1-12.4-1.1-26.8 0.6-2.3 1 0.6-0.6-11.3 2.3 10.3 8.6 23.9 2.4 4.6 3.7 1.6 4-2.1 7.7-6.2 1.6-0.2 0.7-1.4 0.8 0 2.2-2.6 0.8 0 2.3-1.8 0.6-2.4 1.8 1.9 1.3-2.4 1.7 0.1 1.3-2.3 3.8-2 1.4-1.7 2.3-0.7 0.7-0.9 0.8 0.1 0.7-1.3 3.7-1.9 5.6-5.2 0.8 0.5 2.8-2.8 1.5-0.3 1.3-1.7 2.2-0.9 2.7-3 0.5-4 1 3.7 0.7 0 0.6-1 0.8 0.4 0.6-1.6 0.1 1.2-107.7 76.9z" fill="url(#gb93)"/>
<path d="M153.7 523.4l3.4-3.2 4.5-2 2.8-0.6 1 0.5 1.8-0.7 0.8-1.2 1.9 0.1 2.6-1.5 4.1-3.4 2.3-3.1 2.6-0.7 1.5-2.6 0.9-12.9-1-40.2 2.6 5.8 5.3 18.7 1 1.1 3.9 8.9 2.1 3.2 1.9 1.4 0.8-1.1 0.9 0.5 0.8-0.5 1 1 3.4 0.3 0.9-0.2 0.6-1.4 5.6-2.8 4.5-4.3 4.1-7.3 0.9 0.4 1.4-1.9 3.1-1.8 0.6-1.1 2.4-0.1 1.5-1.1 1.7 0.9 3-1.4 0.8 0.2 1.4-1.8 1.5 0.1 2.1-2.4 0.8 0 0.6-1.4 0.8 0.2 5-3.6 0.7-0.7 0.6-2.9 0.8 1.2 0.7-0.4 0.5-4.1 0.8 2 2.7-4.2 2.1-1.7 0.4-5.9 1.1 5.7 2.1-0.4 0.2 4-107.7 77.1z" fill="url(#gb94)"/>
<path d="M155.8 529.8l3.4-3.1 1 0.2 0.7-1.3 3.6-1.8 5.1-3.7 1.6-1.8 2.6-1.1 7.5-5.5 0.7-1.2 1 0.3 1.5-2.2 0.9-12.5-0.9-33.4 1.4 3.6 0.6-2.1 2.6 5.2 2 8.1 1 0.9 4.3 13 2.3 4 1.9 1.5 1.8 0.1 0.7-1 1.7-0.2 9.4-6.6 1.4-2 0.9 0.3 2.2-2.4 0.8 0.2 0.4-4 1.2 3 2.1-2.4 0.9 0.1 0.4-3.8 1 2.3 0.8-0.2 0.7-1.1 1.6-0.3 5.1-4.3 0.8 0 0.3-5.9 1.2 4.6 0.7-0.3 2.9-2.9 2.2-0.8 4.3-3.7 2.2-0.9 2.1-2.2 0.8 0.2 1.4-1.1 0.6-1.3 0.8 0.3 2.8-2.6 1.4-0.4 1.4-1.9 0.7 0.3 1.3-1.7 0.8 0.3 1.4-1.3 0 0.3-107.8 77.3z" fill="url(#gb95)"/>
<path d="M185.5 490.2l13.3 5.6 0.3 2.7-11.3 8.1z" fill="#fff"/>
<g opacity="0.76">
<path d="M36.8 344.2l95.2 52.6 124.6-70.7-103.4-36.7z" fill="#1818ff"/>
<g clip-path="url(#clipb)">
<g filter="url(#bl1.3)">
<path d="M72.1 327.6l10.2-4.8 2.3 0.6 3.3 0.1 0.5 1.4 2.5 0.5 0.8 1.3 3.1 1.1 3.2 0.2 0.2 0.8 3.4 0.1 0.9 1.4 3 1.2 2 1.7 6.3 1.5 1.1 1.4 2.6 1.5 1.4 0.3 2.5-0.3 1 0.5-0.5 1.1 0.5 0.8 3.9 1.2 3.1-1.1 9.1-4.3 56.2-29 3.4-0.5 1.2 0.3 3.6 2 2.5 0.6 0.6 1-0.3 0.6-3.6 2.1-18.2 8.9-5.6 3-0.2 0.7-5.6 2.3-22.3 11.5-11.3 6-2.2 1.6 1.3 1.4 4.1 1 3.3 2.6 4.3 1 4 2.4 2.7 0.8 5.3 2.9 3.3 0.5 2.5 2.2 3.8 0.3 1.2 1.8 3.1 2 5.9 1.6 0.5 1-14.7 8.3-12.5-5.6-1.9-1.3-17.4-8.2-3.8-2.4-4.9-1.8-2.9-1.7-2.6-0.7-3.5 1.1-30.6 15.9-9.6-5.3 28.6-14.5 3.6-2.8-1.4-2.3-2.5-0.7-1.5-1.4-1.6-1-4.6-1.5-3.9-2.8-8.2-3.3-1.1-1.2-1-0.4-2.9-2.1-3.3-1.1-1.4-1-2.4-0.6-2.3-2.2 0.4-0.2z" fill="#4c4cff" fill-rule="evenodd"/>
<path d="M73 327.2l7.5-3.6 4.9 1 1.1 1.2 2.3 0.6 1 1.2 6 1.5 0.6 0.6 3.1 0.2 2.1 1.7 2.2 0.7 2.4 1.6 5.8 1.8 1.3 1.2 2.7 1.5 4.2 0.8 0.2 0.9 0.7 0.6 4.3 1.8 10.2-4.7 59.7-30.7 2-0.4 1.2 0.3 4.3 2.8-0.4 0.5-1.7 0.1-12.8 5.7-1 0.7 0.7 0.6-1.3-0.3-1.7 0.6-10.3 5.5-9.6 4.6-2.1 1.4-6.3 2.9-1.5 1-0.2 0.4 0.8 0.6-1.4-0.3-2.2 0.4-9.2 5.1-9.4 4.3-2.1 1.6 0 0.4 2.7 0.7 1.8 2.2 4.7 1.8 3.7 2.3 5.1 1.8 11 5.5 2.7 0.8 3.1 1.9 3.1 0.7 4 2.7 6.6 2.5 0.7 0.9-11.9 6.7-31.8-15.1-2.9-1.8-5.8-2.4-3-1.7-3.6-1-6-0.2-2.9 0.5-29.9 15-4.3-2.3 29.5-15.1 2.8-2 0.4-1.2-1.5-2.2-3.2-1.3-1.4-1.3-5.3-2.2-4.2-2.5-8-3.5-1.2-1.2-4-2.4-6.6-2.9-2.5-2.1z" fill="#7272ff" fill-rule="evenodd"/>
<path d="M74.8 326.3l3.6-1.7 5.2 0.9 1.5 1 2.2 0.6 0.4 0.7 1.7 0.9 5.7 1.6 3 0.3 7 3.8 5.6 1.9 1.3 1.2 2.8 1.5 3 0.4 2.2 1.9 3.9 1.9 0.9 0 3.3-1.1 8.3-3.9 59.4-31 2.2 0.1 1.4 1.2-1.7 1.4-4.7 1.8-8.3 3.9-4.2 2.7-2.1 0.6-7.6 3.7-7.1 4-8 3.7-24.3 12.4-3.1 2.1 0.3 1.1 3.5 1.3 3.4 2.4 3.7 1.3 3.7 2.3 5 1.8 16.9 8.2 2.9 0.8 1.8 1.5 3.5 1.7 5.3 2.1 0.7 0.8-9.9 5.6-18.2-8.5-13.5-6.6-2.9-1.8-8.8-4.1-6.9-1.9-2.4-0.2-3.4 0.2-2.4 0.7-30.1 14.9-1.5-0.9 1.8-1.1 21.3-10.6 7.1-3.9 2-1.8 0.4-1.6-1.5-2.3-3.1-1.4-1.4-1.2-5.3-2.2-3.4-2-8.7-4-1.2-1.2-4.7-3-2.3-0.6-1.4-1.1-2.1-0.7-2.6-2.1 0.9-0.4z" fill="#9898ff" fill-rule="evenodd"/>
<path d="M76.5 325.5l2.1 0.7 3.6 0 3.7 1.6 0.8 1.3 0.9 0.4 6.3 1.4 3.1 0.2 7.1 3.8 5.5 1.9 1.3 1.3 2.9 1.4 2.8 0.5 2.3 1.8 3.8 2 3.7 0.2-0.4 0.6 0.7 1.2 4.3 1.9 4.6 2.9 2.6 0.7 4.9 2.9 3.8 1.3 3 1.8 10.7 4.6 3.1 1.9 2.8 0.8 3.2 2 8.3 4.1-8.2 4.6-18.3-8.4-2-1.3-23.2-11.2-9.4-2.5-5.9-0.1 1.2-2.2 0.1-0.8-0.4-1.5-1.1-1.4-2.2-0.9-2.3-1.7-5.3-2.2-12.1-6-1.1-1.3-4.6-3-1.9-0.8-1.4-1.1-3-1.1-0.7-0.8 0.4-0.7-0.7-0.5 0.6-0.3zM159.3 327.1l-0.6 0.3 0.6-0.3zM184.6 314.1l1.4-0.7-1.4 0.7zM187.8 312.5l7.2-4.2 1.8-0.7 1 0.4-1.7 1.4-8.3 3.1z" fill="#bebeff" fill-rule="evenodd"/>
<path d="M79.1 327.6l1-0.5-1 0.5zM87.2 332.3l0.5-0.6 2.7-0.4 1.9 0.4 3.6 0 7.3 3.7 5.3 2 4.3 2.6 2.9 0.5 2.2 1.8 6.5 2.7 10.2 6.1 2.5 0.8 3.9 2.3 5 1.8 3 1.8 10.5 4.7 3.2 1.8 2.8 0.9 11.4 6.1-6.5 3.7-18.2-8.4-25.2-12.6-8.8-2.3-5.4-0.8-0.2-3.8-1.2-1.5-2.2-0.9-2.3-1.8-5.2-2.1-11.3-5.5-0.9-0.5-0.7-1.4-1.6-1.1z" fill="#e4e4ff" fill-rule="evenodd"/>
<path d="M90.3 332.9l0.9-0.4 3.8-0.4 8 4.3 4.5 1.5 1.4 1.2 2 0.9 3.8 1 2.4 1.7 7.6 3.2 4.7 2.7 1.3 1.4 4 2.1 1.4 0.4 2.8 1.8 6.3 2.1 2.9 1.9 14.9 7.1 1.4 0.4 7.8 4.3 2.9 1 1 0.7-4.9 2.8-23-10.6-12.9-6.7-4.8-1.9-2.6-1.8-14.1-3.2-0.5-2.9-1.3-2.2-2.2-0.9-2.1-1.8-7.5-3-7-3.9-2.2-0.8-0.8-0.5 0.1-1.5z" fill="#ffffed" fill-rule="evenodd"/>
</g>
<g filter="url(#bl0.8)">
<path d="M91.5 333.5l2.2-0.8 5.7 2.7 1.4 1.1 4.7 1.4 1.6 2.1 1.4 0.7-0.1 0.9-5.4-1.5-11-5.7-0.7-0.5 0.2-0.4zM108.7 342.6l1.6-1 3.4-0.1 2.3 1.8 7.2 2.3 5.4 3.4 1.9 2.1 4.6 1.9 4.5 3.1 4.6 0.8 0.7 0.8 8 3.7 3.1 1.9 7.5 3 4.5 3.7 6.2 1.6 0.7 0.8-2.9 1.7-3.9-1.6-2.1-1.4-6.7-2.4-6.7-3.6-9.5-4.2-4.3-2.2-1.6-1.4-6.1-2.2-2.5-1.9-6-1.1-8-2.1-0.5-0.8-0.5-2.7-0.9-1.6-2.3-0.8-1.7-1.5z" fill="#ffffab" fill-rule="evenodd"/>
<path d="M111 342.8l1.3-0.3 1 0.2 0.1 0.3-0.4 0.7-1.8 0-0.5-0.7 0.3-0.2zM113.3 343.9l4.4 0.5 6 1.9 4 3.1 0.9 2.7-5.4-0.4-7.9-2-0.9-1.6-0.5-3.8-0.6-0.4zM131.9 354.6l0.2-0.9 1.8-0.1 2.9 2.4-4.9-1.4zM141.2 358.1l0.8 0.1 0.5 0.5-1.4-0.1 0.1-0.5zM146.8 359.9l0.7 0.3-1 0.1 0.3-0.4zM147.4 361.1l1.8 0 1.2 0.5 0.8 1.3-2.5-0.4-1-0.6-0.3-0.8zM155.3 364.8l2.6 1-0.4 0.2-2.2-1.2zM160 368.1l0-1 1.2-0.4 1.2 0.2 0.9 0.8 0.1 1-3.4-0.6z" fill="#ffff6a" fill-rule="evenodd" opacity="0.6"/>
<path d="M115 345.6l0.9-0.5 1.6-0.1 5.8 1.5 3 2.7 1 2.2-4.1-0.1-6.4-1.4-1.7-1.2-0.1-3.1z" fill="#ffff28" fill-rule="evenodd" opacity="0.6"/>
<path d="M116.1 346.1l1.1-0.3 2.1 0.1 3.6 0.8 1.7 1.7 1.4 2.5-3.8-0.1-5-1.1-1.7-1.2 0.1-1.7 0.5-0.7z" fill="#ffe300" fill-rule="evenodd" opacity="0.6"/>
<path d="M116.1 347l0.7-0.6 1.4-0.2 3.1 0.3 2 1.2 0.9 1.4 0.1 0.9-1 0.4-2.2-0.1-3.5-0.8-1.6-1.2 0.1-1.3z" fill="#ff9b00" fill-rule="evenodd"/>
<path d="M116.6 347.2l0.8-0.4 3.3 0 1.9 1.2 0.6 1.5-0.9 0.5-4.2-0.8-1.6-1.1 0.1-0.9z" fill="#ff5300" fill-rule="evenodd"/>
<path d="M117.1 347.5l1-0.5 2 0.2 1.1 0.4 0.9 1.4-0.9 0.5-2.7-0.5-0.9-0.5-0.5-1z" fill="#ff0b00" fill-rule="evenodd"/>
</g>
</g></g>
<path d="M67.7 464.5L36.8 344.2" stroke="#3a3a3a" stroke-width="1.0" fill="none"/>
<path d="M67.7 464.5L64.5 464.8" stroke="#3a3a3a" stroke-width="0.9" fill="none"/>
<path d="M59.6 433.2L56.4 433.5" stroke="#3a3a3a" stroke-width="0.9" fill="none"/>
<path d="M51.1 399.9L47.9 400.2" stroke="#3a3a3a" stroke-width="0.9" fill="none"/>
<path d="M41.9 364.2L38.7 364.5" stroke="#3a3a3a" stroke-width="0.9" fill="none"/>
<path d="M67.7 464.5L156 530.9" stroke="#5c5c34" stroke-width="1.2" fill="none"/>
<path d="M156 530.9L263.8 453.6" stroke="#5c5c34" stroke-width="1.2" fill="none"/>
<path d="M82.4 475.6L78.4 478.1" stroke="#3a3a3a" stroke-width="0.9" fill="none"/>
<path d="M104.1 491.9L100 494.5" stroke="#3a3a3a" stroke-width="0.9" fill="none"/>
<path d="M127.6 509.6L123.4 512.4" stroke="#3a3a3a" stroke-width="0.9" fill="none"/>
<path d="M153.2 528.8L149 531.9" stroke="#3a3a3a" stroke-width="0.9" fill="none"/>
<path d="M72.2 467.9L70.1 469.2" stroke="#3a3a3a" stroke-width="0.8" fill="none"/>
<path d="M93 483.6L90.9 484.9" stroke="#3a3a3a" stroke-width="0.8" fill="none"/>
<path d="M115.6 500.6L113.5 502" stroke="#3a3a3a" stroke-width="0.8" fill="none"/>
<path d="M140.1 519L138 520.5" stroke="#3a3a3a" stroke-width="0.8" fill="none"/>
<path d="M167.3 522.8L171 525.5" stroke="#3a3a3a" stroke-width="0.9" fill="none"/>
<path d="M190.4 506.2L194.1 508.7" stroke="#3a3a3a" stroke-width="0.9" fill="none"/>
<path d="M212.4 490.4L216.2 492.8" stroke="#3a3a3a" stroke-width="0.9" fill="none"/>
<path d="M233.4 475.4L237.2 477.6" stroke="#3a3a3a" stroke-width="0.9" fill="none"/>
<path d="M253.5 461L257.3 463" stroke="#3a3a3a" stroke-width="0.9" fill="none"/>
<path d="M179 514.4L180.9 515.8" stroke="#3a3a3a" stroke-width="0.8" fill="none"/>
<path d="M201.5 498.3L203.5 499.5" stroke="#3a3a3a" stroke-width="0.8" fill="none"/>
<path d="M223.1 482.8L225 484" stroke="#3a3a3a" stroke-width="0.8" fill="none"/>
<path d="M243.6 468.1L245.6 469.2" stroke="#3a3a3a" stroke-width="0.8" fill="none"/>
<text transform="translate(53.2 474.8) rotate(-22.0) skewX(-18.0) scale(1.000 0.950)" font-size="9.5" text-anchor="middle" dominant-baseline="central" fill="#000" stroke="#000" stroke-width="0.3">5x10<tspan font-size="6.1" dy="-4.3">4</tspan></text>
<text transform="translate(44.2 443.9) rotate(-22.0) skewX(-18.0) scale(1.000 0.950)" font-size="9.5" text-anchor="middle" dominant-baseline="central" fill="#000" stroke="#000" stroke-width="0.3">6x10<tspan font-size="6.1" dy="-4.3">4</tspan></text>
<text transform="translate(33.9 409.6) rotate(-22.0) skewX(-18.0) scale(1.000 0.950)" font-size="9.5" text-anchor="middle" dominant-baseline="central" fill="#000" stroke="#000" stroke-width="0.3">7x10<tspan font-size="6.1" dy="-4.3">4</tspan></text>
<text transform="translate(26.1 373.9) rotate(-22.0) skewX(-18.0) scale(1.000 0.950)" font-size="9.5" text-anchor="middle" dominant-baseline="central" fill="#000" stroke="#000" stroke-width="0.3">8x10<tspan font-size="6.1" dy="-4.3">4</tspan></text>
<text transform="translate(71 483.4) rotate(-35.0) scale(1.000 0.900)" font-size="9.5" text-anchor="middle" dominant-baseline="central" fill="#000" stroke="#000" stroke-width="0.3">650</text>
<text transform="translate(93.2 499.9) rotate(-35.0) scale(1.000 0.900)" font-size="9.5" text-anchor="middle" dominant-baseline="central" fill="#000" stroke="#000" stroke-width="0.3">655</text>
<text transform="translate(117.2 517.8) rotate(-35.0) scale(1.000 0.900)" font-size="9.5" text-anchor="middle" dominant-baseline="central" fill="#000" stroke="#000" stroke-width="0.3">660</text>
<text transform="translate(141.4 539) rotate(-35.0) scale(1.000 0.900)" font-size="9.5" text-anchor="middle" dominant-baseline="central" fill="#000" stroke="#000" stroke-width="0.3">665</text>
<text transform="translate(176.9 530.8) rotate(37.0) scale(1.000 0.900)" font-size="9.5" text-anchor="middle" dominant-baseline="central" fill="#000" stroke="#000" stroke-width="0.3">-20</text>
<text transform="translate(196.9 511.9) rotate(37.0) scale(1.000 0.900)" font-size="9.5" text-anchor="middle" dominant-baseline="central" fill="#000" stroke="#000" stroke-width="0.3">0</text>
<text transform="translate(220.3 496.6) rotate(37.0) scale(1.000 0.900)" font-size="9.5" text-anchor="middle" dominant-baseline="central" fill="#000" stroke="#000" stroke-width="0.3">20</text>
<text transform="translate(241.3 481) rotate(37.0) scale(1.000 0.900)" font-size="9.5" text-anchor="middle" dominant-baseline="central" fill="#000" stroke="#000" stroke-width="0.3">40</text>
<text transform="translate(262.4 466.4) rotate(37.0) scale(1.000 0.900)" font-size="9.5" text-anchor="middle" dominant-baseline="central" fill="#000" stroke="#000" stroke-width="0.3">60</text>
<text transform="translate(84.5 514.5) rotate(37.0) scale(0.860 1.000)" font-size="10" text-anchor="middle" dominant-baseline="central" fill="#000" stroke="#000" stroke-width="0.2">Wavelength (nm)</text>
<text transform="translate(236.5 504.8) rotate(-35.4) scale(1.050 1.000)" font-size="10" text-anchor="middle" dominant-baseline="central" fill="#000" stroke="#000" stroke-width="0.2">Time (ns)</text>
<text transform="translate(18.2 425.8) rotate(73.4)" font-size="10" text-anchor="middle" dominant-baseline="central" fill="#000" stroke="#000" stroke-width="0.2">Intensity (arb. units)</text>
<text x="2.1" y="288.6" font-size="14.7">(b) on resonance</text>
<rect x="269.3" y="320.2" width="23" height="1.9" fill="#a9c4c4"/>
<rect x="269.3" y="322.1" width="23" height="135.1" fill="url(#cbb)"/>
<rect x="269.3" y="457.2" width="23" height="1.3" fill="#111"/>
<rect x="269.3" y="320.2" width="23" height="138.3" fill="none" stroke="#8a8a8a" stroke-width="0.8"/>
<path d="M292.3 322.3L295.3 322.3" stroke="#555" stroke-width="0.9" fill="none"/>
<text transform="translate(298.8 323.3)" font-size="10" text-anchor="start" dominant-baseline="central" fill="#000">7.0x10<tspan font-size="6.4" dy="-4.5">4</tspan></text>
<path d="M292.3 349.5L295.3 349.5" stroke="#555" stroke-width="0.9" fill="none"/>
<text transform="translate(298.8 350.5)" font-size="10" text-anchor="start" dominant-baseline="central" fill="#000">6.6x10<tspan font-size="6.4" dy="-4.5">4</tspan></text>
<path d="M292.3 376.8L295.3 376.8" stroke="#555" stroke-width="0.9" fill="none"/>
<text transform="translate(298.8 377.8)" font-size="10" text-anchor="start" dominant-baseline="central" fill="#000">6.2x10<tspan font-size="6.4" dy="-4.5">4</tspan></text>
<path d="M292.3 404L295.3 404" stroke="#555" stroke-width="0.9" fill="none"/>
<text transform="translate(298.8 405)" font-size="10" text-anchor="start" dominant-baseline="central" fill="#000">5.8x10<tspan font-size="6.4" dy="-4.5">4</tspan></text>
<path d="M292.3 431.3L295.3 431.3" stroke="#555" stroke-width="0.9" fill="none"/>
<text transform="translate(298.8 432.3)" font-size="10" text-anchor="start" dominant-baseline="central" fill="#000">5.4x10<tspan font-size="6.4" dy="-4.5">4</tspan></text>
<path d="M292.3 458.5L295.3 458.5" stroke="#555" stroke-width="0.9" fill="none"/>
<text transform="translate(298.8 459.5)" font-size="10" text-anchor="start" dominant-baseline="central" fill="#000">5.0x10<tspan font-size="6.4" dy="-4.5">4</tspan></text>
<path d="M409.1 175.1L500.5 108.2" stroke="#cfcfcf" stroke-width="0.8" fill="none"/>
<path d="M500.5 108.2L613.6 155" stroke="#cfcfcf" stroke-width="0.8" fill="none"/>
<path d="M405.9 152.5L499.6 86.9" stroke="#cfcfcf" stroke-width="0.8" fill="none"/>
<path d="M499.6 86.9L615.3 132.5" stroke="#cfcfcf" stroke-width="0.8" fill="none"/>
<path d="M402.5 128.7L498.7 64.7" stroke="#cfcfcf" stroke-width="0.8" fill="none"/>
<path d="M498.7 64.7L617.2 108.8" stroke="#cfcfcf" stroke-width="0.8" fill="none"/>
<path d="M398.9 103.6L497.8 41.5" stroke="#cfcfcf" stroke-width="0.8" fill="none"/>
<path d="M497.8 41.5L619.1 84" stroke="#cfcfcf" stroke-width="0.8" fill="none"/>
<path d="M395.2 77.3L496.8 17.2" stroke="#cfcfcf" stroke-width="0.8" fill="none"/>
<path d="M496.8 17.2L621.1 57.8" stroke="#cfcfcf" stroke-width="0.8" fill="none"/>
<path d="M419.6 177.3L403.5 54.5" stroke="#cfcfcf" stroke-width="0.8" fill="none"/>
<path d="M439.1 162.7L426.1 41.7" stroke="#cfcfcf" stroke-width="0.8" fill="none"/>
<path d="M457.7 148.9L447.3 29.6" stroke="#cfcfcf" stroke-width="0.8" fill="none"/>
<path d="M475.3 135.7L467.3 18.3" stroke="#cfcfcf" stroke-width="0.8" fill="none"/>
<path d="M492 123.2L486.3 7.5" stroke="#cfcfcf" stroke-width="0.8" fill="none"/>
<path d="M506.8 119.2L502.9 4" stroke="#cfcfcf" stroke-width="0.8" fill="none"/>
<path d="M541.2 133.7L541.4 16" stroke="#cfcfcf" stroke-width="0.8" fill="none"/>
<path d="M578.1 149.3L582.9 29" stroke="#cfcfcf" stroke-width="0.8" fill="none"/>
<path d="M500.8 116.7L496.2 1.9" stroke="#9a9a9a" stroke-width="0.8" fill="none"/>
<path d="M612.9 164L622.4 41.3" stroke="#bdbdbd" stroke-width="0.8" fill="none" stroke-dasharray="3 1.5"/>
<path d="M528.5 247.3L526.7 115.5" stroke="#cdcdcd" stroke-width="0.8" fill="none" stroke-dasharray="3 1.5"/>
<path d="M410.4 184.1L500.8 116.7" stroke="#bdbdbd" stroke-width="0.8" fill="none"/>
<path d="M500.8 116.7L612.9 164" stroke="#bdbdbd" stroke-width="0.8" fill="none"/>
<path d="M410.4 184.1l118.1 63.2 84.4-83.3-112.1-47.3z" fill="#6600ff"/>
<path d="M410 181.2l6.5-5.5 1.5-0.9 0.8 0.2 2.1-2.1 0.8 0 0.7-1.2 1.5-0.6 3.4-3.3 5-3 2.1-2.1 4.8-3.4 1.5 0.4 2.1-1.2 12.6-10.1 0.7 0.3 0.6-1.1 7.1-5 0.6-1 10.1-6.8 3.1-2.9 3.7-2 1.8-2 6.6-4.2 2.3-2.4 0.6 0.2 8.1-6.3 0.1 1.5-90.4 67.4z" fill="url(#gc0)"/>
<path d="M411.1 182l8.7-7.1 0.9 0.1 2.9-2 0.6-1.2 2.2-1 9.8-7.5 1.4-1.5 2.7-1.9 0.9 1.1 2.6-2.8 2.8-1.3 1.3-1.8 0.7 0.1 0.6-1.1 2.7-1.1 7.8-6.6 1.4-0.4 5.1-4 0.4-4.2 0.9 3.4 4.3-4.2 1.3-0.1 2.5-2.3 1.3 0 0.5-1.3 2.5-1.4 0.5-2.7 0.7 1.8 6-5.2 1.3-0.2 2.3-2 1.1-3.5 0.7 2.2 0.6 0.1 1.2-1.8 1.7-0.7 5.8-4.5 0.1 1.7-90.4 67.6z" fill="url(#gc1)"/>
<path d="M414.4 177.9l1.1 0.8M423.1 171.1l1.1 0.7M431.6 164.8l1.1 0.9M440 159.7l1.2 1.3M448.2 154.3l1-0.2M456.1 148.7l1.1 0.1M463.8 142.6l1.1 0.3M471.4 137l1.1 0M478.8 131.3l1.1 0.6M486.1 126l1-0.2M493.2 120.6l1.1 0M500.2 115.7l1 0" stroke="#d8b0f0" stroke-width="0.6" fill="none" opacity="0.3"/>
<path d="M412.3 183l4.4-3.7 2.2-0.9 5.7-5.1 2.3-1 4.1-3.7 4.3-2.7 2-2.2 0.8 0.4 3.4-3.2 1.4-0.1 4.7-3.9 1.4-0.5 20.8-15.7 2.5-2.5 1.9-0.4 12.8-10.5 3.6-2 1.8-1.9 7.6-5.3 1.1-3.3 0.6 1.8 1.2-0.6 0 1.6-90.3 67.7z" fill="url(#gc2)"/>
<path d="M415.5 178.7l1.2 0.6M424.2 171.8l1.2 1.3M432.7 165.7l1.2 1M441.2 161l1 0.1M449.2 154.1l1.2 1.3M457.2 148.8l1.1 0.6M464.9 142.9l1.1 0.5M472.5 137l1.1 0.8M479.9 131.9l1.1 0.6M487.1 125.8l1.1 0.9M494.3 120.6l1 0.9M501.2 115.7l1.1 0.9" stroke="#d8b0f0" stroke-width="0.6" fill="none" opacity="0.3"/>
<path d="M413.5 184.1l10.9-8 1.4-1.7 3.7-2 0.6-1.2 7.1-4.5 0.6-1.2 2.8-1.6 1.3-1.6 2.2 0 1.3-1.9 7.4-5.3 1.3-1.6 1.4 0 4.5-4.1 0.7 0 14.6-11.4 0.7 0.1 3-3.2 3.7-1.8 0.6-1.1 4.8-3.8 6-3.9 2.9-2.3 0.5-3.4 0.7 2.7 5.2-4.4 0.4-3.2 0.2 4.3-90.3 67.9z" fill="url(#gc3)"/>
<path d="M416.7 179.3l1.1 1.1M425.4 173.1l1.2 1.2M433.9 166.7l1.2 1.4M442.2 161.1l1.2 1.5M450.4 155.4l1.1 0.8M458.3 149.4l1.1 0.9M466 143.4l1.1 0.8M473.6 137.8l1.1 0.8M481 132.5l1.1 0.6M488.2 126.7l1.1 0.7M495.3 121.5l1.1 0.8M502.3 116.6l1.1 0.3" stroke="#d8b0f0" stroke-width="0.6" fill="none" opacity="0.3"/>
<path d="M414.6 185.2l3.1-1.8 2-2.5 3-1.6 2.8-2.9 6.5-4 1.4-1.6 5.6-3.7 0.6-1.2 2.9-1.2 2.7-2.5 1.4-0.3 4-3.6 2-1 0.6-1.3 0.8 0.5 1.2-2 2.1-0.8 0.6-1 0.7 0 2.6-2.4 0.6 0 11.5-9.3 3.2-1.7 2.4-2.5 3.7-2.1 1-4.4 0.8 2.6 0.6-0.3 4.2-3.7 3-1.4 1.8-1.8 0.5-2.3 0.7 1.8 1.1-1.5 1.2-0.3 4.7-3.8 1.1-0.2 1.7-2 0.1 1.1-90.3 68z" fill="url(#gc4)"/>
<path d="M417.8 180.4l1.2 1.3M426.6 174.3l1.1 1M435.1 168.1l1.1 0.7M443.4 162.6l1.1 0.3M451.5 156.2l1.1 1.1M459.4 150.3l1.1 0.9M467.1 144.2l1.1 0.8M474.7 138.6l1.1 1M482.1 133.1l1.1 0.8M489.3 127.4l1.2 1.3M496.4 122.3l1.1 1.1M503.4 116.9l1.1 1.3" stroke="#d8b0f0" stroke-width="0.6" fill="none" opacity="0.3"/>
<path d="M414.6 185.2l3.1-1.8 2-2.5 3-1.6 2.8-2.9 6.5-4 1.4-1.6 5.6-3.7 0.6-1.2 2.9-1.2 2.7-2.5 1.4-0.3 4-3.6 2-1 0.6-1.3 0.8 0.5 1.2-2 2.1-0.8 0.6-1 0.7 0 2.6-2.4 0.6 0 11.5-9.3 3.2-1.7 2.4-2.5 3.7-2.1 1-4.4 0.8 2.6 0.6-0.3 4.2-3.7 3-1.4 1.8-1.8 0.5-2.3 0.7 1.8 1.1-1.5 1.2-0.3 4.7-3.8 1.1-0.2 1.7-2" stroke="#d8b0f0" stroke-width="0.6" fill="none" opacity="0.3"/>
<path d="M415.7 185.2l13.1-9.5 4.2-3.9 1.5-0.3 0.6-1.2 2.9-1.4 2-2.2 1.5-0.4 6.8-5.6 7.4-4.9 4.5-4.1 2.1-0.7 1.2-1.7 5.2-3.3 7.5-6.4 0.7 0.3 5.5-5 3.7-2.1 3-2.9 3-1.7 1.7-3.4 0.7 1.4 1.1-1 1.3-0.1 1.7-2.4 1.7-0.7 4.1-3.3 1.7-2.2 0 2.4-90.1 68.2z" fill="url(#gc5)"/>
<path d="M419 181.7l1.1 0.1M427.7 175.3l1.1 0.4M436.2 168.8l1.1 0.4M444.5 162.9l1.1 0.3M452.6 157.3l1.1-0.1M460.5 151.2l1.1 0.1M468.2 145l1.1 0.1M475.8 139.6l1.1 0.3M483.2 133.9l1.1 0.2M490.5 128.7l1-0.4M497.5 123.4l1.1-0.7M504.5 118.2l1-0.7" stroke="#d8b0f0" stroke-width="0.6" fill="none" opacity="0.3"/>
<path d="M416.6 184.1l2.3-0.9 10.2-7.6 0.6-1.1 2.2-1.1 1.4-1.6 2.2-1.1 0.6-1.1 1.5-0.5 6.2-4.6 0.6-1.2 2.2-0.8 6-4.8 0.8 0 0.5-1.6 0.8 0.3 1.9-1.8 1.4-0.2 1.3-1.8 2-0.8 0.6-1.3 12.2-8.7 0.4-3.9 0.9 2.6 2.5-1.3 4.3-4 6.7-4.4 1.2-1.6 1.9-0.7 3.5-3.3 5.3-3.4 1.7-1.9 3.5-1.9 1.1-1.4 0.1 2.8-90.1 68.3z" fill="url(#gc6)"/>
<path d="M420.1 181.8l1-0.4M428.8 175.7l0.9-1.2M437.3 169.2l0.9-1M445.6 163.2l1-0.7M453.7 157.2l1-0.8M461.6 151.3l1-1.1M469.3 145.1l1-0.5M476.9 139.9l1-0.7M484.3 134.1l1-0.9M491.5 128.3l1-0.8M498.6 122.7l1-0.5M505.5 117.5l1.1-0.4" stroke="#d8b0f0" stroke-width="0.6" fill="none" opacity="0.3"/>
<path d="M417.7 184.4l6.5-5.4 7.3-5.4 0.7 0 1.4-1.7 1.5-0.3 6.2-5.7 0.8 0.1 0.6-1 11-7.5 5.3-4.6 1.4-0.3 1.2-1.7 3.3-1.9 2.6-2.7 0.7 0.3 11.9-9.8 1.3-0.3 11-8.2 4.1-3.8 11.7-8.4 0.1 3.7-90.1 68.5z" fill="url(#gc7)"/>
<path d="M421.1 181.4l1-0.6M429.7 174.5l1-0.4M438.2 168.2l1-0.4M446.6 162.5l0.9-0.9M454.7 156.4l1-0.8M462.6 150.2l1-0.6M470.3 144.6l1.1-0.5M477.9 139.2l1-1.1M485.3 133.2l1-0.8M492.5 127.5l1.1-0.3M499.6 122.2l1.1-0.7M506.6 117.1l1-0.7" stroke="#d8b0f0" stroke-width="0.6" fill="none" opacity="0.3"/>
<path d="M418.8 185.3l5.2-4 0.8 0 2.1-2.3 1.5-0.3 0.7-1.2 5-3.3 0.7-1.4 1.4-0.5 2.1-2.2 1.5-0.4 6.2-5.1 0.7 0.2 1.3-1.6 4.8-3 0.7-1.2 5.3-3.6 4-3.6 1.3-0.2 0.6-1.1 1.4-0.4 5.1-4.5 1.3-0.4 1.9-2.2 11.2-7.9 3-3 1.9-0.6 1.2-1.5 1.2-0.3 16.4-12.6 0.1 3.2-90.1 68.6z" fill="url(#gc8)"/>
<path d="M422.1 180.8l1.2 1.4M430.7 174.1l1.3 1.5M439.2 167.8l1.3 1.3M447.5 161.6l1.2 1.2M455.7 155.6l1.1 1.2M463.6 149.6l1.1 0.9M471.4 144.1l1.1 1.1M478.9 138.1l1.1 0.9M486.3 132.4l1.1 1.2M493.6 127.2l1.1 0.7M500.7 121.5l1.1 1.1M507.6 116.4l1.1 0.9" stroke="#d8b0f0" stroke-width="0.6" fill="none" opacity="0.3"/>
<path d="M420.1 187l15.2-11.8 2.9-1.6 3.4-3.5 4.2-2.7 0.8 0.1 0.6-1.3 0.7 0 5.5-4 5.9-5.3 11.2-7.7 1.9-2.2 2.6-1.2 6.2-5.4 1.9-0.8 8.5-7.1 3.7-2.1 2.3-2.5 1.8-0.9 0.5-3.4 0.7 2.6 9.8-7.9 0.1 2.4-90.1 68.8z" fill="url(#gc9)"/>
<path d="M423.3 182.2l1.2 1.3M432 175.6l1.2 1.4M440.5 169.1l1.1 1M448.7 162.8l1.3 1.6M456.8 156.8l1.3 1.6M464.7 150.5l1.2 1.7M472.5 145.2l1.2 1.5M480 139l1.2 1.4M487.4 133.6l1.2 1.3M494.7 127.9l1.1 2M501.8 122.6l1.1 1.5M508.7 117.3l1.1 1.6" stroke="#d8b0f0" stroke-width="0.6" fill="none" opacity="0.3"/>
<path d="M421.3 188.3l3.7-3.1 1.5-0.3 1.4-1.9 8.7-6.2 1.3-1.6 10.5-7.3 0.6-1.2 4.9-2.9 2.6-2.8 7.3-4.9 1.3-1.6 13.5-9.6 7.4-6.3 2.5-1.2 1.8-2.2 0.7 0.5 17.6-14.6 0.6 0.3 0.6-1 1.7-0.9 0 1.7-89.9 68.9z" fill="url(#gc10)"/>
<path d="M424.5 183.5l1.2 1.2M433.2 177l1.2 1M441.6 170.1l1.3 1.8M450 164.4l1.1 1M458.1 158.4l1.1 1.2M465.9 152.2l1.2 1M473.7 146.7l1.1 0.4M481.2 140.4l1.2 1.3M488.6 134.9l1.1 0.9M495.8 129.9l1.2 0.8M502.9 124.1l1.1 0.8M509.8 118.9l1.1 0.9" stroke="#d8b0f0" stroke-width="0.6" fill="none" opacity="0.3"/>
<path d="M422.5 189l6.6-4.5 2.8-2.9 2.3-0.9 0.6-1.1 2.9-1.9 5.6-5 3.5-1.6 1.3-1.9 3.5-2.1 0.6-1.1 2.2-0.6 0.6-1.4 2-1 3.3-3.3 1.4-0.4 5.2-4.5 0.7 0.1 7.7-5.6 0.6-1.4 1.3-0.4 6.9-5.7 1.2-0.5 3.1-3.1 4.3-2.5 0.5-1.9 1.3 0.6 1.8-1.9 0.6 0 2.9-2.4 0.5-4.3 0.7 3.3 4.1-3.1 1.1-2.3 1.2 0.5 5.2-3.9 0 1.4-89.9 69z" fill="url(#gc11)"/>
<path d="M425.7 184.7l1.2 0.9M434.4 178l1.2 1.2M442.9 171.9l1.1 0.8M451.1 165.4l1.1 0.6M459.2 159.6l1.1 0.1M467.1 153.2l1.1 1M474.8 147.1l1.1 0.8M482.4 141.7l1.1 0.8M489.7 135.8l1.1 0.8M497 130.7l1.1 0.5M504 124.9l1.1 1.1M510.9 119.8l1.1 0.7" stroke="#d8b0f0" stroke-width="0.6" fill="none" opacity="0.3"/>
<path d="M423.6 189.5l3.8-2.2 2.1-2.4 1.5-0.4 1.4-1.6 2.9-1.6 1.4-2 1.5-0.3 11.1-8.7 1.3-1.7 11.6-7.9 1.9-2.4 5.3-3.2 2.5-2.7 0.7 0.3 2.5-2.8 0.7 0.2 4.4-3.5 0.7-0.5 0.4-3.1 0.8 1.6 1.3-0.4 6.1-5.2 0.7 0.2 2.4-2 1.7-2.2 0.7 0.3 3-2.1 0.6-1.2 9.4-6.7 0.4-3.5 0.7 2 4.6-2.9 0 1.2-89.9 69.2z" fill="url(#gc12)"/>
<path d="M426.9 185.6l1.2 1.1M435.6 179.2l1.1 0.1M444 172.7l1.2 0.9M452.2 166l1.2 0.9M460.3 159.7l1.2 1.2M468.2 154.2l1.2 0.9M475.9 147.9l1.2 0.9M483.5 142.5l1.1 0.7M490.8 136.6l1.2 1M498.1 131.2l1.1 0.5M505.1 126l1.1 0.5M512 120.5l1.1 0.8" stroke="#d8b0f0" stroke-width="0.6" fill="none" opacity="0.3"/>
<path d="M424.7 189.8l0.8 0 0.7-1.3 0.8 0 2.9-2.6 1.5-0.5 2.8-2.9 4.3-2.7 9.8-8.3 0.8 0.2 6-5.5 0.8 0.1 1.2-2.1 2.8-0.7 0.6-1.4 1.4-0.4 0.6-1 9.9-7.1 0.6-1.1 2.6-1.3 0.6-1.2 5.7-3.7 1.3-1.3 0.4-3.2 0.8 2.2 1.3-1.3 0.6 0.1 16.9-13.6 5.3-3.6 3.4-3 0.5-3.2 0.7 2.7 1.7-1.2 0 1.7-89.8 69.3z" fill="url(#gc13)"/>
<path d="M428.1 186.7l1-0.1M436.7 179.3l1.1 0.7M445.2 173.6l1-0.4M453.4 166.9l1.1 0M461.5 160.9l1-0.2M469.4 155.1l1-0.3M477.1 148.8l1 0.1M484.6 143.2l1.1-0.5M492 137.6l1-0.2M499.2 131.7l1 0.2M506.2 126.5l1.1-0.2M513.1 121.3l1.1-0.1" stroke="#d8b0f0" stroke-width="0.6" fill="none" opacity="0.3"/>
<path d="M424.7 189.8l0.8 0 0.7-1.3 0.8 0 2.9-2.6 1.5-0.5 2.8-2.9 4.3-2.7 9.8-8.3 0.8 0.2 6-5.5 0.8 0.1 1.2-2.1 2.8-0.7 0.6-1.4 1.4-0.4 0.6-1 9.9-7.1 0.6-1.1 2.6-1.3 0.6-1.2 5.7-3.7 1.3-1.3 0.4-3.2 0.8 2.2 1.3-1.3 0.6 0.1 16.9-13.6 5.3-3.6 3.4-3 0.5-3.2 0.7 2.7 1.7-1.2" stroke="#d8b0f0" stroke-width="0.6" fill="none" opacity="0.3"/>
<path d="M425.8 189.8l1.5-0.7 0.7-1.2 0.8 0.2 11.5-9.5 0.8 0.3 5.5-5.2 6.2-4.6 0.8 0.1 2-2.2 2.7-1.5 2.7-2.7 9.9-7.5 0.6-1.1 2.6-1.1 11.4-9.4 2.5-1 2.4-2.9 0.7 0.1 4.8-3.9 0.6-2.3 0.7 1.5 1.8-1.4 1.1-3.2 0.6 1.5 1.8-0.9 3.6-2.7 0.5-1.3 0.6 0.3 8.7-6.9 0 2.4-89.8 69.6z" fill="url(#gc14)"/>
<path d="M429.1 186.6l1.1 0.2M437.8 180l1.1 0M446.2 173.2l1.1 0.1M454.5 166.9l1.1 0.1M462.5 160.7l1.1 0.1M470.4 154.8l1.1-0.6M478.1 148.9l1.1-0.4M485.7 142.7l1.1 0.7M493 137.4l1.1-0.1M500.2 131.9l1.1-0.2M507.3 126.3l1.1 0.4M514.2 121.2l1.1-0.2" stroke="#d8b0f0" stroke-width="0.6" fill="none" opacity="0.3"/>
<path d="M426.9 190.4l5.9-4.3 0.7-1.2 3-1.2 2-2.5 0.8 0.1 1.4-1.9 5.7-3.7 0.6-1.1 0.8 0.1 1.3-2.1 0.7 0.2 1.4-0.9 3.4-3.3 13.4-10.1 2.1-0.8 11.5-9.9 0.7 0.3 6.8-6 2.5-1.2 5.4-4.8 1.3-0.2 2.3-2.9 1.3-0.1 2.9-3 0.6 0.1 11.6-8.9 0 2.4-89.7 69.7z" fill="url(#gc15)"/>
<path d="M430.2 186.8l1.1 0.1M438.9 180l1.1 0.5M447.3 173.3l1.2 0.7M455.6 167l1.1 0.6M463.6 160.8l1.1 0.3M471.5 154.2l1.1 1.2M479.2 148.5l1.1 0.5M486.8 143.4l1.1-0.1M494.1 137.3l1.1 0.5M501.3 131.7l1.1 0.6M508.4 126.7l1.1 0.3M515.3 121l1.1 0.7" stroke="#d8b0f0" stroke-width="0.6" fill="none" opacity="0.3"/>
<path d="M428 190.7l3-1.9 2.1-2.4 3.8-1.9 1.3-1.8 0.8 0.1 2.1-2.3 0.8 0 2-2.2 3.6-2.2 0.6-1.2 2.9-1.3 2.7-2.9 4.2-2.3 1.9-2.6 0.7 0.2 9.3-7.7 5.3-3.4 2.5-2.1 0.6-1.2 1.4-0.3 1.2-1.5 0.7 0.4 1.2-1.7 5.6-4.4 3.8-2.3 3-3.4 1.9-0.6 4.2-3.6 0.6 0.1 1.1-1.5 1.2-0.3 0.6-1 5.9-4.1 1.1-1.7 0.6 0.3 1.8-1.4 1-4.2 0.7 2.5 1.7-0.8 0.5-1 0.1 2.9-89.7 69.8z" fill="url(#gc16)"/>
<path d="M431.3 186.9l1.2 0.7M440 180.5l1.1 0M448.5 174l1 0M456.7 167.6l1.2 0.8M464.7 161.1l1.2 0.3M472.6 155.4l1.2 0.2M480.3 149l1.2 1.2M487.9 143.3l1.1 0.6M495.2 137.8l1.1 0.4M502.4 132.3l1.1 0.1M509.5 127l1.1 0.4M516.4 121.7l1.1 0.4" stroke="#d8b0f0" stroke-width="0.6" fill="none" opacity="0.3"/>
<path d="M429.2 191.6l4.5-3 4.9-4.8 0.9 0.3 2.7-3 0.8 0 6.3-5.2 2.2-0.9 0.6-1.3 8.3-5.8 1.3-1.6 0.7-0.1 4.6-4.3 2-0.8 10.4-8.8 1.3-0.2 3.1-3.2 1.3-0.4 0.6-0.6 0.5-3.2 0.8 1.8 1.9-0.8 0.5-2.5 0.7 1.1 0.6-0.3 1.9-1.9 1.2-0.2 4.9-3.8 0.6-1.2 1.2-0.1 2.4-2.7 0.6 0.4 2.4-2 1.7-1.8 0.5-2.8 0.7 2 10.4-8 0 2.5-89.6 70z" fill="url(#gc17)"/>
<path d="M432.5 187.6l1.2 1M441.1 180.5l1.1 0.6M449.5 174l1.2 1.2M457.9 168.4l1.1 0.5M465.9 161.4l1.1 0.5M473.8 155.6l1.1 0.3M481.5 150.2l1.1-0.1M489 143.9l1.1 0.4M496.3 138.2l1.2 0.6M503.5 132.4l1.2 0.9M510.6 127.4l1.1 0M517.5 122.1l1.1 0" stroke="#d8b0f0" stroke-width="0.6" fill="none" opacity="0.3"/>
<path d="M430.4 192.2l0.6-1.1 0.9 0 2.1-2.1 0.8 0 6.4-5.8 0.8 0.2 0.6-1.5 2.3-0.8 2-2.2 7-4.9 4.1-4 0.7 0 6.1-4.6 3.3-3.2 2.1-0.7 1.2-1.6 2.7-1.6 1.2-1.7 0.7 0.1 0.6-1.1 1.4-0.3 3.1-3.2 3.3-1.7 3.7-3.6 0.7 0.2 1.8-2 0.6 0 0.5-4 0.8 3 0.6-1.1 1.8-0.9 0.6-0.7 0.5-4 0.7 3 4.3-3.6 0.6 0 5.3-4.4 0.7 0.2 0.5-1.3 3-1.7 4.6-4.2 1.7-0.6 2.8-3.3 0.1 3.5-89.6 70.1z" fill="url(#gc18)"/>
<path d="M433.7 188.6l1.1 0.4M442.2 181.1l1.2 0.9M450.7 175.2l1.2 0.3M459 168.9l1.1-0.1M467 161.9l1.1 0.3M474.9 155.9l1.1 0.8M482.6 150.1l1.1 0.6M490.1 144.3l1.1 0.7M497.5 138.8l1.1-0.2M504.7 133.3l1.1 0.2M511.7 127.4l1.1 0.3M518.6 122.1l1.1 0.2" stroke="#d8b0f0" stroke-width="0.6" fill="none" opacity="0.3"/>
<path d="M431.5 192.2l2.9-2.6 2.2-0.9 2.1-2.5 0.8 0 2.8-2.9 4.4-2.8 0.6-1.1 4.3-2.5 2.7-2.8 0.8 0.1 8.1-7.2 1.4-0.1 1.9-2.5 0.8 0.2 9.8-8.4 1.3-0.4 4.5-3.9 3.2-1.9 7.5-6.3 1.2-0.3 3.6-4.5 0.7 0.5 1.2-1 0.5-1.4 1.9-0.1 2.4-2.5 0.6 0.2 0.6-1.1 1.8-0.7 6.4-5.7 0.6 0.2 1.1-0.7 1.2-1.4 0.4-4.6 0.7 3.7 2.9-2.4 0 3.5-89.5 70.2z" fill="url(#gc19)"/>
<path d="M434.8 189l1.1-0.1M443.4 182l1.1-0.1M451.9 175.5l1-0.1M460.1 168.8l1.1-0.2M468.1 162.2l1.2 0.6M476 156.7l1.1-0.5M483.7 150.7l1.1 0.2M491.2 145l1.1-0.4M498.6 138.6l1.1 0.1M505.8 133.5l1.1 0M512.8 127.7l1.1 0.3M519.7 122.3l1.1 0.4" stroke="#d8b0f0" stroke-width="0.6" fill="none" opacity="0.3"/>
<path d="M432.6 192.8l4.5-2.6 0.7-1.4 4.3-2.8 2.1-2.3 6.5-4.2 2-2.4 4.2-2.5 6.8-6 2.1-0.8 1.2-2.1 2.8-0.9 1.3-1.9 1.3-0.3 0.6-1.3 3.3-2 4.5-4 0.7 0.2 1.3-1.7 1.9-1.3 0.6-1.5 0.7 0.5 3.7-3 0.5-4.3 0.8 2.9 1.9-0.8 4.9-3.9 0.6-1.1 1.2-0.2 5.4-4.6 0.6 0.2 3-3.3 1.8-0.9 0.5-3.1 0.6 2.2 3-2 0.5-2.5 0.6 1.2 1.2-0.3 0.5-1.4 5.2-3.7 0 2.9-89.5 70.4z" fill="url(#gc20)"/>
<path d="M435.9 188.9l1.2 1.3M444.5 181.9l1.2 1.1M452.9 175.4l1.2 1M461.2 168.6l1.2 1.6M469.3 162.8l1.1 1.1M477.1 156.2l1.2 1.5M484.8 150.9l1.2 0.6M492.3 144.6l1.2 1.2M499.7 138.7l1.1 1M506.9 133.5l1.1 1M513.9 128l1.1-0.9M520.8 122.7l1.1 0.8" stroke="#d8b0f0" stroke-width="0.6" fill="none" opacity="0.3"/>
<path d="M433.9 194.7l7.3-6.3 2.1-1.6 0.8 0.1 1.4-2 0.7 0.2 2.1-2.3 2.2-1.1 1.3-1.6 6.3-4.4 2.7-2.9 0.8 0.2 2.7-2 9.3-8.1 3.3-1.8 3.8-4.1 2.6-1 1.3-1.8 0.6 0.2 0.7-0.8 0.5-2.1 1.4 1.2 0.6-1.3 9.3-6.8 0.6-1 16.7-12.5 1.7-1.8 0.6-2.4 0.6 1.4 0.6-0.3 5.1-3.9 0 2.2-89.4 70.6z" fill="url(#gc21)"/>
<path d="M437.1 190.2l1.2 0.5M445.7 183l1.2 1.3M454.1 176.4l1.2 1.2M462.4 170.2l1.2 1.1M470.4 163.9l1.2 1M478.3 157.7l1.2 0.9M486 151.5l1.1 1.1M493.5 145.8l1.1 1.1M500.8 139.7l1.2 1.5M508 134.5l1.1 0.7M515 127.1l1.2 2.9M521.9 123.5l1.1 0.7" stroke="#d8b0f0" stroke-width="0.6" fill="none" opacity="0.3"/>
<path d="M435 194.8l8.1-5.9 0.6-1.4 0.8 0.1 4.2-3.8 5.7-3.7 3.5-3.4 7.5-5.3 2-2.3 0.7 0.1 6.6-5.6 0.7 0.1 0.6-1.4 8.5-5.8 0.6-1.3 3.2-1.7 1.8-2.3 3.2-1.8 6.8-5.9 1.8-0.8 8.4-7.3 5.3-3.4 3.4-3.5 3.5-1.9 2.2-2.5 0.1 2.7-89.5 70.7z" fill="url(#gc22)"/>
<path d="M438.3 190.7l1.1 0.7M446.9 184.3l1.2 0.4M455.3 177.6l1.2 0.7M463.6 171.3l1.1 0.3M471.6 164.9l1.2 0.4M479.5 158.6l1.1 0.4M487.1 152.6l1.2 0.9M494.6 146.9l1.2 0.2M502 141.2l1.1 0.1M509.1 135.2l1.2 0.2M516.2 130l1.1 0.2M523 124.2l1.2 0.8" stroke="#d8b0f0" stroke-width="0.6" fill="none" opacity="0.3"/>
<path d="M435 194.8l8.1-5.9 0.6-1.4 0.8 0.1 4.2-3.8 5.7-3.7 3.5-3.4 7.5-5.3 2-2.3 0.7 0.1 6.6-5.6 0.7 0.1 0.6-1.4 8.5-5.8 0.6-1.3 3.2-1.7 1.8-2.3 3.2-1.8 6.8-5.9 1.8-0.8 8.4-7.3 5.3-3.4 3.4-3.5 3.5-1.9 2.2-2.5" stroke="#d8b0f0" stroke-width="0.6" fill="none" opacity="0.3"/>
<path d="M436.1 194.5l3-1.6 4.3-4 14.2-10.8 0.6-1.2 0.8 0.1 5.4-4.8 4.8-3 5.3-4.5 0.6-1.2 0.7 0.3 4.6-4.3 2.6-1.3 1.3-1.7 2.6-1.1 0.6-1.3 0.6 0.1 1.9-2.1 3.2-1.7 2.4-2.7 0.7 0.3 0.4-5.4 0.8 3.8 0.6-0.2 5.5-4.7 0.6 0.3 1.8-2.5 0.6 0.2 2.4-2.1 0.5-4.4 0.7 3.4 7-5.4 0.6-1.6 0.6 0.4 1.1-0.6 5.2-4.4 1.1-0.2 0.1 2.6-89.4 70.9z" fill="url(#gc23)"/>
<path d="M439.4 191.4l1.1 0M448.1 184.7l1.1-0.1M456.5 178.3l1.1-0.2M464.7 171.6l1.1-0.3M472.8 165.3l1-0.4M480.6 159l1.1 0M488.3 153.5l1.1-0.6M495.8 147.1l0.9-4.5M503.1 141.3l1.1 0.5M510.3 135.4l1.1 0M517.3 130.2l1.1-0.4M524.2 125l1.1-0.2" stroke="#d8b0f0" stroke-width="0.6" fill="none" opacity="0.3"/>
<path d="M437.3 195.2l7.9-6.8 1.6-0.2 2.7-3.3 1.5-0.3 2.1-2.3 0.8-0.1 3.4-3.3 0.8 0.2 15.5-13 1.4-0.4 12.3-10.3 2.6-1.5 0.6-0.9 0.4-4.7 0.9 3.8 2.5-2.2 0.6 0.3 2.5-2.8 1.9-0.6 1.2-1.8 3-2.3 0.5-2.6 0.7 1.9 0.6-0.3 1.2-1.5 7.8-5.5 1.1-1.9 0.6 0.4 0.6-2.8 0.6 1.5 0.6-0.2 9.1-7.6 0.1 3.6-89.3 71z" fill="url(#gc24)"/>
<path d="M440.5 191.4l1.2 0.2M449.2 184.6l1.1 0M457.6 178.1l1.1 0.4M465.8 171.3l1.1 0.3M473.8 164.9l1.2 0.8M481.7 159l1.1 0.4M489.4 152.9l1.1 0.1M496.7 142.6l1.3 4.6M504.2 141.8l1.1-0.1M511.4 135.4l1.1 0.5M518.4 129.8l1.1 0.5M525.3 124.8l1.1 0" stroke="#d8b0f0" stroke-width="0.6" fill="none" opacity="0.3"/>
<path d="M438.6 196.7l2.1-2.5 3-1.6 6.4-5.7 0.7 0 2.1-2.2 2.9-1.6 0.6-1.1 0.8 0 5.5-5.1 1.4-0.5 7.4-6.4 0.7 0 1.3-1.7 6.7-4.3 2.5-2.9 0.7 0.3 1.9-2.7 0.7 0.7 4.4-4.6 0.7 0.1 1.2-1.5 0.7 0.1 3.7-3.6 20.5-15.6 0.5-2 0.6 0.9 0.6-0.2 5.8-5.2 3.4-2.3 0 2.7-89.2 71.2z" fill="url(#gc25)"/>
<path d="M441.7 191.6l1.2 1.3M450.3 184.6l1.2 1.6M458.7 178.5l1.3 1.3M466.9 171.6l1.3 1.4M475 165.7l1.2 1M482.8 159.4l1.2 0.9M490.5 153l1.2 1.2M498 147.2l1.2 1.3M505.3 141.7l1.2 0.9M512.5 135.9l1.2 1.2M519.5 130.3l1.2 0.9M526.4 124.8l1.1 0.8" stroke="#d8b0f0" stroke-width="0.6" fill="none" opacity="0.3"/>
<path d="M439.7 197l3.7-2.2 2.9-2.6 0.8 0 1.3-1.9 0.8 0.1 5.6-5.3 43.1-33.9 0.5-3.3 0.7 2.1 1.8-1.9 1.9-0.6 1.2-1.4 0.5-3 0.7 2.1 1.9-1 5.9-5.4 1.2-0.1 7.6-7.1 2.3-1.1 5.1-4.3 0 2.5-89.2 71.3z" fill="url(#gc26)"/>
<path d="M442.9 192.9l1.2 1.1M451.5 186.2l1.2 0.6M460 179.8l1.1 0.6M468.2 173l1.1 0.7M476.2 166.7l1.2 0.8M484 160.3l1.2 0.7M491.7 154.2l1.1 0.7M499.2 148.5l1.1 0.4M506.5 142.6l1.1 0.5M513.7 137.1l1.1 0.6M520.7 131.2l1.1 0.4M527.5 125.6l1.1 1.2" stroke="#d8b0f0" stroke-width="0.6" fill="none" opacity="0.3"/>
<path d="M440.9 197.8l8.8-6.3 0.6-1.5 1.5-0.2 0.7-1.1 1.5-0.6 2.7-2.9 4.9-3.9 1.4-0.6 0.7-1.2 8.1-6.5 3.5-1.8 3.9-4 8.5-6.2 1.2-1.8 0.7 0.2 1.9-2 1.3-0.5 0.6-0.6 0.4-4.9 0.8 3.8 1.9-1.8 0.5-2.9 0.8 2.2 0.6-0.4 11.6-9.4 0.5-3.6 0.7 2.7 3-2.1 0.5-4.5 0.6 3.3 11.1-8.9 1.7-0.8 2.2-2.4 0.1 2.5-89.2 71.5z" fill="url(#gc27)"/>
<path d="M444.1 194l1.2 0.6M452.7 186.8l1.3 1.3M461.1 180.4l1.2 0.8M469.3 173.7l1.2 0.5M477.4 167.5l1.1 0.7M485.2 161l1.1 0.7M492.8 154.9l1-3.5M500.3 148.9l1.2 0.7M507.6 143.1l1.2 0.9M514.8 137.7l1.1 0.2M521.8 131.6l1.1 1.2M528.6 126.8l1.2 0.6" stroke="#d8b0f0" stroke-width="0.6" fill="none" opacity="0.3"/>
<path d="M442.2 199.1l11.5-9.5 0.8 0.2 1.3-2.1 1.5-0.4 1.3-2 1.5-0.4 2.7-2.7 1.4-0.4 2-2.5 3.5-1.9 0.6-1.2 6.1-4.8 3.3-2.4 0.7 0.1 1.3-2.1 2.6-1.6 6.4-5.5 1.3-0.3 7.6-6.4 0.4-4.3 0.8 3 1.2-0.7 3.1-3.1 4.2-2.7 0.6-1.1 0.7 0.1 2.3-1.7 0.6-1.3 1.8-0.7 2.4-2.6 2.3-1.1 11.5-9.4 0 2-89.1 71.6z" fill="url(#gc28)"/>
<path d="M445.3 194.6l1.2 1M454 188.1l1.1 0.4M462.3 181.2l1.2 0.6M470.5 174.2l1.2 1M478.5 168.2l1.2 0.8M486.3 161.7l1.2 1.1M493.8 151.4l1.4 5.4M501.5 149.6l1.1 1.1M508.8 144l1.1 0.3M515.9 137.9l1.2 1M522.9 132.8l1.2 0.8M529.8 127.4l1.1 0.7" stroke="#d8b0f0" stroke-width="0.6" fill="none" opacity="0.3"/>
<path d="M443.3 199.6l15.1-12.6 0.7 0.2 0.7-1.2 3.5-2.2 0.7-1.2 3.5-2.2 2-2.3 2-0.9 1.3-1.8 3.5-2 0.6-1.3 2.6-2.1 2.7-1.5 14.1-11.4 1.2-3.7 0.7 2.2 0.6-1.1 3.2-1.7 3.6-3.7 10.3-8 1.2-0.3 2.9-3.1 12.6-9.7 0 2.1-89 71.8z" fill="url(#gc29)"/>
<path d="M446.5 195.6l1.2 0.5M455.1 188.5l1.2 0.6M463.5 181.8l1.2 0.7M471.7 175.2l1.1 0.2M479.7 169l1.2 0.2M487.5 162.8l1.2 0.1M495.2 156.8l1.1 0.3M502.6 150.7l1.2 0.2M509.9 144.3l1.2 0.8M517.1 138.9l1.1 0.2M524.1 133.6l1.1 0.2M530.9 128.1l1.1-0.1" stroke="#d8b0f0" stroke-width="0.6" fill="none" opacity="0.3"/>
<path d="M444.4 199.6l15.9-12.4 2-2.4 7.7-5.4 2.6-2.8 0.8 0.2 1.9-2.3 5.4-3.5 2-1.7 0.6-1.4 0.7 0.2 1.9-2.4 2-0.8 3.8-3.8 1.3-0.4 8.2-7.2 1.3-0.4 0.5-2.8 0.7 1.6 1.2-0.5 0.6-1.3 4.3-3.5 0.6 0.2 1.8-2.1 1.8-0.7 1.2-1.8 1.8-0.6 0.6-1.5 1.2 0 1.7-2.1 13.2-10.2 0 2.8-88.9 71.9z" fill="url(#gc30)"/>
<path d="M447.7 196.1l1.1 0.1M456.3 189.1l1.1-0.1M464.7 182.5l1.1 0.2M472.8 175.4l1.2 0.4M480.9 169.2l1.1 0.4M488.7 162.9l1.1 0.4M496.3 157.1l1.2-0.3M503.8 150.9l1.1 0.5M511.1 145.1l1.1-0.4M518.2 139.1l1.2 0.2M525.2 133.8l1.1-0.2M532 128l1.2 0" stroke="#d8b0f0" stroke-width="0.6" fill="none" opacity="0.3"/>
<path d="M445.6 199.7l0.8-0.1 2.8-2.9 5.1-3.5 3.5-3.4 2.2-1 7.6-7 2.8-1.6 0.7-1.1 0.7 0.1 4.7-4.4 0.7 0.2 5.3-5.2 2-0.9 8.4-7.4 0.7 0 6.9-5.7 0.4-4.8 0.9 3.9 9.2-7.5 0.5-1.2 0.7 0.4 8.3-6.8 1.2-1.4 0.5-4 0.6 3.6 4.1-3.8 3.4-2.1 1.2-1.8 0.5 0.3 2.9-2.3 0 2.7-89 72.1z" fill="url(#gc31)"/>
<path d="M448.8 196.2l1.2 0.1M457.4 189l1.2 0.7M465.8 182.7l1.2 0M474 175.8l1.2 0.5M482 169.6l1.2 0.1M489.8 163.3l1.2 0.2M497.5 156.8l1.1 0.2M504.9 151.4l1.2-0.2M512.2 144.7l1.2 0.7M519.4 139.3l1.1 0.5M526.3 133.6l1.2 0.4M533.2 128l1.1 0.6" stroke="#d8b0f0" stroke-width="0.6" fill="none" opacity="0.3"/>
<path d="M445.6 199.7l0.8-0.1 2.8-2.9 5.1-3.5 3.5-3.4 2.2-1 7.6-7 2.8-1.6 0.7-1.1 0.7 0.1 4.7-4.4 0.7 0.2 5.3-5.2 2-0.9 8.4-7.4 0.7 0 6.9-5.7 0.4-4.8 0.9 3.9 9.2-7.5 0.5-1.2 0.7 0.4 8.3-6.8 1.2-1.4 0.5-4 0.6 3.6 4.1-3.8 3.4-2.1 1.2-1.8 0.5 0.3 2.9-2.3" stroke="#d8b0f0" stroke-width="0.6" fill="none" opacity="0.3"/>
<path d="M446.8 200.9l7.4-5.3 4.2-4.2 2.9-1.6 1.3-1.8 1.4-0.7 9.6-8.3 8.8-6.5 1.3-2.1 0.7 0.3 2-1.3 0.6-1.1 15.3-11.8 0.6-1.2 5.6-4.2 1.1-3.9 0.7 2.5 0.6-0.3 4.2-3.9 1.8-0.7 0.6-1.2 1.2-0.1 1.8-2.4 0.6 0.5 8.1-7.6 0.6 0.3 1.1-1.4 1.2-0.2 1.6-2.5 2.3-1.4 0 2.7-88.9 72.3z" fill="url(#gc32)"/>
<path d="M450 196.3l1.2 1.2M458.6 189.7l1.2 1.1M467 182.7l1.2 0.8M475.2 176.3l1.2 1.1M483.2 169.7l1.2 1M491 163.5l1.2 0.7M498.6 157l1.2 1M506.1 151.2l1.1 0.5M513.4 145.4l1.1 1.1M520.5 139.8l1.2 1M527.5 134l1.1 0.8M534.3 128.6l1.1 1" stroke="#d8b0f0" stroke-width="0.6" fill="none" opacity="0.3"/>
<path d="M448.2 203l4.3-4.5 0.7 0.1 9.9-8.9 0.8 0.2 2-2.3 0.8-0.1 0.6-1.2 0.7-0.6 0.8 0.5 0.6-1.3 2.1-1.1 4.1-4.1 4.7-3 6.6-6.1 3.3-2 12.7-10.9 3.7-2.4 0.6-1.3 0.6 0.2 0.5-4.3 0.8 3.3 1.8-2.1 1.2-0.3 1.1-4.8 0.7 3.1 5.4-4.7 0.5-3.8 0.7 3.4 1.1-3.1 1.2 1.2 1.2-1.6 5.2-3.6 2.9-3.1 0.5 0.4 4.5-4.2 0.1 2-88.9 72.4z" fill="url(#gc33)"/>
<path d="M451.2 197.5l1.3 1M459.8 190.8l1.3 1.2M468.2 183.5l1.2 1.4M476.4 177.4l1.2 1M484.4 170.7l1.2 1.5M492.2 164.2l1.2 1.4M499.8 158l1.2 1.6M507.2 151.7l1.1-1.8M514.5 146.5l1.2 0.7M521.7 140.8l1.1 1.3M528.6 134.8l1.2 1.5M535.4 129.6l1.2 1.1" stroke="#d8b0f0" stroke-width="0.6" fill="none" opacity="0.3"/>
<path d="M449.4 203.5l26.8-21.4 1.3-1.8 0.7 0 7.9-6.9 4.6-3.6 0.7 0.1 7-6.6 1.9-0.9 5-4.6 0.6 0.2 1.3-1 1.2-2 0.6 0.2 1.2-1.5 3.1-1.8 1.2-1.7 5.4-3.6 3.5-3.7 5.8-4 0.6-1.1 0.6 0.1 2.2-2.4 0.6 0.2 0.6-1.2 2.8-1.6 1.7-1.9 0 1.5-88.8 72.6z" fill="url(#gc34)"/>
<path d="M452.5 198.5l1.2 1.5M461.1 192l1.2 1.2M469.4 184.9l1.3 1.6M477.6 178.4l1.2 1.3M485.6 172.2l1.2 1M493.4 165.6l1.2 1.1M501 159.6l1.2 0.7M508.3 149.9l1.3 4.4M515.7 147.2l1.2 1.5M522.8 142.1l1.2 0.8M529.8 136.3l1.1 0.5M536.6 130.7l1.1 1" stroke="#d8b0f0" stroke-width="0.6" fill="none" opacity="0.3"/>
<path d="M450.6 204l22.6-18.2 1.4-1.8 0.7 0.1 9.4-8.2 7.2-5.3 1.9-2.2 3.2-2 3.2-3.3 0.7 0.2 0.6-1.3 4.4-2.9 5.5-5.1 2.4-1.1 2.4-2.8 0.7 0.1 2.3-2.5 4.8-3.3 0.5-3.1 0.6 1.6 0.6 0 10.4-8.4 1.1-4.6 0.6 3 1.1-1.5 0.5 0.2 0 1.4-88.7 72.7z" fill="url(#gc35)"/>
<path d="M453.7 200l1.2 0.3M462.3 193.2l1.2 0.1M470.7 186.5l1.1-0.1M478.8 179.7l1.2 0.2M486.8 173.2l1.2 0M494.6 166.7l1.2 0.4M502.2 160.3l1.2 0.7M509.6 154.3l1.2 0.7M516.9 148.7l1.1 0.3M524 142.9l1.1 0M530.9 136.8l1.2 0.7M537.7 131.7l1.2-0.3" stroke="#d8b0f0" stroke-width="0.6" fill="none" opacity="0.3"/>
<path d="M451.7 204.5l0.9 0.2 1.3-2.1 3-1.5 2.8-3.2 2.2-0.9 2.8-3.2 6.3-4.3 1.3-2.2 1.4-0.3 3.5-2.5 7.3-7 0.7 0.2 5.3-4.8 0.7 0.2 5.1-4.9 0.7 0.1 5.6-5.4 3.8-2.3 10.4-9.4 4.2-2.6 7-6.6 1.2-0.8 0.6 0.2 0.6-1.1 6.8-5.7 1.1-0.1 2.3-3.4 0 2.4-88.7 72.8z" fill="url(#gc36)"/>
<path d="M454.9 200.3l1.3 1.1M463.5 193.3l1.2 0.5M471.8 186.4l1.2 0.7M480 179.9l1.2 0.8M488 173.2l1.2 1.1M495.8 167.1l1.2 1.2M503.4 161l1.1 0.5M510.8 155l1.2 0.5M518 149l1.2 0.6M525.1 142.9l1.2 1M532.1 137.5l1.1 0.3M538.9 131.4l1.1 1.2" stroke="#d8b0f0" stroke-width="0.6" fill="none" opacity="0.3"/>
<path d="M453 205.8l35.4-29.7 7.8-6.3 0.7 0.2 3.8-3.8 2.5-1.3 3.7-4 1.9-0.8 1.9-2.1 11.5-9 3.5-3.6 1.2-0.3 1.1-1.6 5.3-4.2 1.1-0.2 0.6-1.3 4.5-3.2 1.1-2 1.1 0.1 0 1.2-88.6 73.1z" fill="url(#gc37)"/>
<path d="M456.2 201.4l1.1 0.5M464.7 193.8l1.2 1.4M473 187.1l1.2 0.5M481.2 180.7l1.2 0.6M489.2 174.3l1.1 0.5M497 168.3l1.1-0.1M504.5 161.5l1.2 0.8M512 155.5l1.1 0.9M519.2 149.6l1.2 0.5M526.3 143.9l1.2 0.7M533.2 137.8l1.2 1.3M540 132.6l1.2 0.3" stroke="#d8b0f0" stroke-width="0.6" fill="none" opacity="0.3"/>
<path d="M454.1 205.2l2.3-1.2 1.3-2 2.3-0.7 1.3-2 4.4-3 1.3-1.8 10.5-7.8 9.4-8.6 6.6-4.7 12.1-10.7 1.9-0.8 3.1-3.2 13.3-11.1 0.6 0.4 5.9-5.7 5.2-3.7 1.7-2.1 5.6-3.8 0 1.7-88.6 73.2z" fill="url(#gc38)"/>
<path d="M457.3 201.9l1.2-0.4M465.9 195.2l1.1-0.7M474.2 187.6l1.2 0.3M482.4 181.3l1.2 0.1M490.3 174.8l1.2-0.2M498.1 168.2l1.2 0M505.7 162.3l1.2-0.2M513.1 156.4l1.2-0.4M520.4 150.1l1.1-0.4M527.5 144.6l1.1-0.7M534.4 139.1l1.2-0.5M541.2 132.9l1.1-0.2" stroke="#d8b0f0" stroke-width="0.6" fill="none" opacity="0.3"/>
<path d="M455.3 205.8l0.7-1.1 4.5-2.5 0.6-1.4 7.1-6 1.5-0.5 0.6-1.4 2.2-1 0.6-1.2 6.2-4.6 2-2.3 3.4-2 3.3-3.4 6-4.2 1.9-2.5 10.3-7.8 4.9-4.6 3.1-1.9 2.5-2.6 3-1.8 1.2-1.6 0.6 0.1 0.6-3.5 0.6 1.9 6.5-4.9 1.2-1.2 0.5-4.2 0.6 3.2 2.9-2.8 0.6 0.4 1.1-1 1.8-2.2 6.2-4.4-0.1 2.1-88.4 73.4z" fill="url(#gc39)"/>
<path d="M458.5 201.5l1.2 0.9M467 194.5l1.2 0.3M475.4 187.9l1.2 0.4M483.6 181.4l1.1 0.4M491.5 174.6l1.2 0.5M499.3 168.2l1.2 0.3M506.9 162.1l1.1-0.1M514.3 156l1.2 0M521.5 149.7l1.2 0.2M528.6 143.9l1.2 0.5M535.6 138.6l1.1-0.1M542.3 132.7l1.2 0.1" stroke="#d8b0f0" stroke-width="0.6" fill="none" opacity="0.3"/>
<path d="M456.6 206.9l1.5-0.7 7.1-7.1 2.2-1 9-7.9 2.1-1.1 1.4-1.8 6.8-4.7 2.6-3 5.2-4.6 0.7 0.1 10.9-9.8 3.8-2.3 8-7 1.2-0.3 1.8-2.5 6-4.3 3.5-3.6 0.6 0.1 1.1-2.4 0.6 0.8 0.6-0.3 1.1-4.7 0.6 2.9 10.2-8.3 0 2-88.4 73.5z" fill="url(#gc40)"/>
<path d="M459.7 202.4l1.3 1.1M468.2 194.8l1.3 1.3M476.6 188.3l1.2 0.9M484.7 181.8l1.3 0.8M492.7 175.1l1.2 0.9M500.5 168.5l1.2 1M508 162l1.2 1.2M515.5 156l1.1 1M522.7 149.9l1.2 1.2M529.8 144.4l1.2 1M536.7 138.5l1.2 1.4M543.5 132.8l1.2 0.8" stroke="#d8b0f0" stroke-width="0.6" fill="none" opacity="0.3"/>
<path d="M456.6 206.9l1.5-0.7 7.1-7.1 2.2-1 9-7.9 2.1-1.1 1.4-1.8 6.8-4.7 2.6-3 5.2-4.6 0.7 0.1 10.9-9.8 3.8-2.3 8-7 1.2-0.3 1.8-2.5 6-4.3 3.5-3.6 0.6 0.1 1.1-2.4 0.6 0.8 0.6-0.3 1.1-4.7 0.6 2.9 10.2-8.3" stroke="#d8b0f0" stroke-width="0.6" fill="none" opacity="0.3"/>
<path d="M457.8 207.8l5.1-4.5 2.2-1.1 0.6-1.4 1.5-0.5 3.5-3.5 3.5-2.3 0.7-1.2 0.7 0.1 1.3-2 1.5-0.4 1.3-1.9 1.4-0.4 1.3-1.7 0.8-34.7 1.2 7.4 0.4-5.2 1.9 8.7 1.6 3.6 1.9 7.3 2.2 3.7 1.4-0.1 5.9-4.2 1.2-2 2-1.4 0.6 0.2 1.9-2.3 1.9-0.9 6.2-6 2.5-1.1 0.6-1.2 3.1-2 3-3.1 1.2-0.3 4.7-4.8 3-1.8 0.5-3.4 0.6 2.2 0.6-0.1 0.6-1.1 3.4-2.2 3.5-3.1 0.5-1.5 1.1 0.1 4-3.5 0 1.7-88.4 73.7z" fill="url(#gc41)"/>
<path d="M461 203.5l1.2 0.9M469.5 196.1l1.2 0.7M477.8 189.2l1.2 1M486 182.6l-0.2-23.4M493.9 176l1.2 0.7M501.7 169.5l1.2 0.6M509.2 163.2l1.2 0.9M516.6 157l1.2 0.9M523.9 151.1l1.2 0.7M531 145.4l1.1-2M537.9 139.9l1.2 0.7M544.7 133.6l1.1 1.3" stroke="#d8b0f0" stroke-width="0.6" fill="none" opacity="0.3"/>
<path d="M459 207.7l5.8-4.1 2.1-2.5 1.5-0.6 4.9-4.5 0.7 0 0.7-1.5 1.4-0.3 7.5-7.1 0.3-43.7 0.9-9 4.7 32 2.6 8.9 1.5 2.4 2 0 1.3-1.7 4-2.4 10.1-9.2 5-3.4 1.2-1.7 7.3-5.2 2.9-3.8 0.6 0.6 1.8-2.5 0.6 0.4 2.9-2.9 0.6 0.2 1.7-2.2 3.5-2.2 1.1-1.2 0.6-2.1 0.6 1.1 0.5-0.3 5.6-5 0 2.2-88.3 73.8z" fill="url(#gc42)"/>
<path d="M462.2 204.4l1.2 0.1M470.7 196.8l1.2 0.8M479 190.2l1.2 0.2M485.8 159.2l0.4-13.3M495.1 176.7l1.2 0.4M502.9 170.1l1.2 0.6M510.4 164.1l1.2 0.3M517.8 157.9l1.2 0.3M525.1 151.8l1.1 0.3M532.1 143.4l1.2 2.5M539.1 140.6l1.1-0.1M545.8 134.9l1.2-0.5" stroke="#d8b0f0" stroke-width="0.6" fill="none" opacity="0.3"/>
<path d="M460.2 207.9l2.9-2.7 0.7 0.2 0.7-1.2 0.8-0.1 9.1-8.3 0.8 0.1 1.3-2.1 1.5-0.3 0.6-1.2 4.2-2.9 0.6-1.4 0.7 0.2 0.7-1 0.3-43.9 0.7-0.7 0.3-6.9 2.4 16.7 0.8 0.4 3.1 18.1 1.6 5.2 1.4 1.2 4-1.7 5.2-5.1 0.6 0.1 10.1-9.1 1.2-0.3 1.2-1.7 3.1-2 4.2-4.3 3-1.5 3-3.3 0.6 0.2 4-4.2 1.2-0.3 2.3-2.5 1.2-0.2 2.2-2.6 1.2-0.2 0.5-1.3 4.5-3.7 0 3.3-88.3 74z" fill="url(#gc43)"/>
<path d="M463.4 204.5l1.1-0.3M471.9 197.6l1.2-0.5M480.2 190.4l1.2 0M486.2 145.9l1.1-3.4M496.3 177.1l1.2-0.2M504.1 170.7l1.1-0.1M511.6 164.4l1.2-0.8M519 158.2l1.2-0.5M526.2 152.1l1.2-0.3M533.3 145.9l1.2-0.5M540.2 140.5l1.2-0.6M547 134.4l1.2 0.1" stroke="#d8b0f0" stroke-width="0.6" fill="none" opacity="0.3"/>
<path d="M461.3 208l8-6.9 1.4-0.7 2.1-2.3 0.8 0 5.5-5.4 2.1-0.9 4.8-4.8 0.4-16.5-0.5-34.6 0.6-2 2.7 22.3 0.4-6.5 2.2 14.4 0.8 1.4 1.8 9.4 1.5 2.3 2.1 0.4 3.9-3.6 16.8-25 4.3-2.6 0.6 0.2 0.6-1.5 0.7 0.3 1.8-0.8 6.6-4.5 12.1-6.5 4.5-3.3 0 7.1-88.2 74.1z" fill="url(#gc44)"/>
<path d="M464.5 204.2l1.2 0.2M473.1 197.1l1.1-0.1M481.4 190.4l1.2 0.1M487.3 142.5l1.9 13.7M497.5 176.9l1.2 0M505.2 170.6l1.1-2.8M512.8 163.6l0.9-7.6M520.2 157.7l1-10M527.4 151.8l1.1-8.4M534.5 145.4l1.1-6.3M541.4 139.9l1.2-4.7M548.2 134.5l1.2-3.5" stroke="#d8b0f0" stroke-width="0.6" fill="none" opacity="0.3"/>
<path d="M462.6 208.4l13.6-10.8 4.2-3.6 0.6-1.3 2.8-1.4 3.4-3.2 0-50.6 0.9 2.5 0.4-6.7 3.5 25.6 2.8 13.1 1.6 4.9 2.1 1.4 4-2.8 12.4-21.5 0.6-2.5 3.1-3.9 1.2-2.7 1.2-0.2 2.5-1.9 1.9 0 1.8-1.7 0.6 0.2 1.2-0.7 0.7-0.5 0.5-3.6 0.7 3.3 5.3-2.7 0.6-1.4 0.6 1 0.6-0.8 0.6 0.4 1.1-1.1 0.6 0.4 1.2-1.2 0.6 0.1 1.1-1.2 2.9-0.9 1.1-1.1 2.2 0 1.7-1.4-0.1 8-88.1 74.3z" fill="url(#gc45)"/>
<path d="M465.7 204.4l1.2 0.6M474.2 197l1.3 0.7M482.6 190.5l1.2 0.8M489.2 156.2l0.6-11.4M498.7 176.9l1.2 0.4M506.3 167.8l1.2-0.9M513.7 156l1.2-2M521.2 147.7l1.1-3.9M528.5 143.4l1.2-3.3M535.6 139.1l1.2-3.4M542.6 135.2l1.2-1.8M549.4 131l1.2-0.9" stroke="#d8b0f0" stroke-width="0.6" fill="none" opacity="0.3"/>
<path d="M463.8 209.6l7.9-7.2 1.5-0.4 2.8-3 2.8-2.2 0.7 0 3.5-3.7 4.1-2.8 1.3-2.3-0.4-45.3 0.4-7.4 1.2-5 4.5 30.9 2.7 12.4 2.3 5.2 2.6-1.1 3.3-2.8 3.8-5.3 3.1-3.1 2.5-3.7 2.5-2.1 4.3-5.8 6.1-4.1 0.6-4.8 0.6 3.7 1.8-0.8 6.6-5.4 1.7-0.7 0.6-3.6 0.6 2.6 0.6 0 0.5-1.1 0.6 0.4 1.2-1.4 0.5-1.6 1.2 1 1.7-1.9 1.7-0.4 2.2-2.4 0.6 0.2 1.7-1.2-0.1 5-88.1 74.5z" fill="url(#gc46)"/>
<path d="M466.9 205l1.3 0.9M475.5 197.7l1.2 0.9M483.8 191.3l1.2 0.6M489.8 144.8l0.7-10.9M499.9 177.3l1.2 0.7M507.5 166.9l1.3 2.7M514.9 154l1.4 7M522.3 143.8l1.4 9M529.7 140.1l1.2 8.4M536.8 135.7l1.2 7.5M543.8 133.4l1.1 4.8M550.6 130.1l1.1 3.7" stroke="#d8b0f0" stroke-width="0.6" fill="none" opacity="0.3"/>
<path d="M465.1 210.9l2.9-3.3 5.8-4 0.6-1.1 6.4-5 0.6-1.2 0.8 0.3 0.6-1.4 4.2-3.1 2.6-3.1-0.4-48.1 0.4-20.4 1.7 4.3 5 41.8 1.7 8.6 1.6 3.3 1.4 1.2 4.6-3.2 8.8-8.9 0.6-1.3 1.3-0.5 0.6-0.8 0.6-3.9 0.7 2.8 4.9-5.3 7.9-6.1 0.6 0.3 1.7-2.2 3.6-2.4 0.6-0.6 0.6-4.5 0.5 3.5 1.2-0.8 0.6-2 0.6 0.8 1.7-0.9 4-3.7 1.1-0.3 1.7-1.8 0.6 0.2 1.1-1.6 1.1-0.2 1.1-1.5 0 4.1-88 74.6z" fill="url(#gc47)"/>
<path d="M468.2 205.9l1.2 0.7M476.7 198.6l1.3 1.3M485 191.9l1.3 0.7M490.5 133.9l0.8-9.1M501.1 178l1.2 0.9M508.8 169.6l1.2 2.1M516.3 161l1.2 0.1M523.7 152.8l1.2 4.8M530.9 148.5l1.3 3.2M538 143.2l1.2 3M544.9 138.2l1.2 2.5M551.7 133.8l1.2 1.7" stroke="#d8b0f0" stroke-width="0.6" fill="none" opacity="0.3"/>
<path d="M466.4 211.5l10-8.1 3.5-3.7 0.8 0.1 2-1.6 2.8-3.3 2.7-1.4 2.7-2.9-0.3-46.9 0.8 1 0.4-7.2 1.3 11.3 0.5-3.9 1.3 13.1 0.7-2 0.9 3.7 2 13.8 1.6 5.7 1.4 1.4 1.4 0.3 9-8.1 0.6-1.1 0.7 0.3 3.7-4.4 2.5-1.5 0.6-1.3 1.3-0.2 1.8-2.3 6.7-5.7 1.2-0.4 7.1-6.3 3.5-2.3 0.6-4.9 0.5 3.7 0.6-0.2 1.7-1.4 0.6-4 0.6 2.7 8.4-6.8-0.1 2.6-87.9 74.9z" fill="url(#gc48)"/>
<path d="M469.4 206.6l1.3 1.4M478 199.9l1.2 0.7M486.3 192.6l1.3 1.3M491.3 124.8l2.3 20.1M502.3 178.9l1.3 1.3M510 171.7l1.3 1.6M517.5 161.1l1.3 5.4M524.9 157.6l1.3 2.6M532.2 151.7l1.2 2.2M539.2 146.2l1.2 2.1M546.1 140.7l1.2 1.9M552.9 135.5l1.1 1.7" stroke="#d8b0f0" stroke-width="0.6" fill="none" opacity="0.3"/>
<path d="M467.6 212.3l8.7-6.7 10.4-9.3 0.8 0 4.7-4.6 0.1-54.9 0.7 0.5 0.7-0.7 6.1 38.3 2.3 6.5 1.4 0.3 3.9-2.3 0.6-1.3 3.9-3.4 1.3-0.2 0.6-1.5 10.5-9.3 1.9-0.8 0.6-1.3 4.2-3 1.8-3.5 0.6 1.5 1.8-1.3 0.6-1.8 0.6 0.5 1.1-5.3 0.6 3.9 2.9-2.8 0.6-2.1 0.6 1.3 13.6-11-0.1 1.8-87.9 75z" fill="url(#gc49)"/>
<path d="M470.7 208l1.3 1M479.2 200.6l1.3 1M487.6 193.9l1.2 0.6M493.6 144.9l1.2-0.5M503.6 180.2l1.2 0.9M511.3 173.3l1.2 1M518.8 166.5l1.2 1.1M526.2 160.2l1.2 1.2M533.4 153.9l1.2 1.7M540.4 148.3l1.2-0.6M547.3 142.6l1.2 1.2M554 137.2l1.2 1.1" stroke="#d8b0f0" stroke-width="0.6" fill="none" opacity="0.3"/>
<path d="M467.6 212.3l8.7-6.7 10.4-9.3 0.8 0 4.7-4.6 0.1-54.9 0.7 0.5 0.7-0.7 6.1 38.3 2.3 6.5 1.4 0.3 3.9-2.3 0.6-1.3 3.9-3.4 1.3-0.2 0.6-1.5 10.5-9.3 1.9-0.8 0.6-1.3 4.2-3 1.8-3.5 0.6 1.5 1.8-1.3 0.6-1.8 0.6 0.5 1.1-5.3 0.6 3.9 2.9-2.8 0.6-2.1 0.6 1.3 13.6-11" stroke="#d8b0f0" stroke-width="0.6" fill="none" opacity="0.3"/>
<path d="M468.9 213l2.8-2.9 7.2-5.4 1.4-1.9 2.8-1.6 4.8-4.9 2.1-1.1 3.4-3.8 0.7-57.9 0.8 1.1 1 5.9 2.3 18.3 2.8 15.6 1.6 5.4 1.4 2 1.3 0 3.3-2.4 13.3-11.7 0.6-0.7 0.5-4.9 0.7 4 1.2-0.8 4.9-4.8 0.6-4.1 0.6 3.2 0.6-0.2 2.4-2.6 0.6 0.3 3.5-3.8 1.8-0.9 0.6-1.3 1.2-0.1 2.8-2.3 12.5-11.2-0.1 2.8-87.8 75.2z" fill="url(#gc50)"/>
<path d="M472 209l1.2 0.2M480.5 201.6l1.2 0.3M488.8 194.5l1.2 0.7M494.8 144.4l1.1-3.9M504.8 181.1l1.2-0.1M512.5 174.3l1.2 0.5M520 167.6l1.2 0.3M527.4 161.4l1.2 0.3M534.6 155.6l1.2 0.5M541.6 147.7l1.2 2.1M548.5 143.8l1.2 0.3M555.2 138.3l1.2 0.1" stroke="#d8b0f0" stroke-width="0.6" fill="none" opacity="0.3"/>
<path d="M470.1 213.6l2.2-2.3 2.2-1.1 0.7-1.2 6.3-5.6 0.8-0.1 0.6-1.5 1.5-0.2 8.9-7.9 1.3-2 0.4-21-0.5-25.3 0.7-16.4 1.2 11.7 0.7-2.8 2.4 23.1 1.9 12.1 2.4 7.7 2.1 1.5 1.3-0.4 2.6-3 1.3-0.1 7.6-7.3 5-3.5 1.2-1.9 2.5-1 0.6-1.6 1.2-0.3 1.8-1.8 0.6-3 0.6 1.8 1.2-0.6 7.1-6.1 1.2-1.8 1.7-0.6 3.5-3.6 2.8-1.9 1.2-4.2 0.5 2.6 0.6-0.2 2.8-3.2 0.6 0.2 1.1-1.6 1.6-0.9 0 2.5-87.8 75.4z" fill="url(#gc51)"/>
<path d="M473.2 209.2l1.3 1M481.7 201.9l1.2-0.1M490 195.2l1.2 0.2M495.9 140.5l1.2-2.6M506 181l1.2 0.9M513.7 174.8l1.2 0.1M521.2 167.9l1.3 0.9M528.6 161.7l1.2 0.6M535.8 156.1l1.2 0M542.8 149.8l1.2 0.3M549.7 144.1l1.2-2.7M556.4 138.4l1.2 0.2" stroke="#d8b0f0" stroke-width="0.6" fill="none" opacity="0.3"/>
<path d="M471.4 214.2l6.5-4.8 18-16.1 0.7-61.8 1.9 9.3 1.3 13.8 1.7 7.8 1.2 12 2.4 7.2 0.7 1.4 1.4 0.5 1.9-1.1 7.7-7.2 3.2-1.9 2.4-3 3.1-1.8 0.6-1.3 1.3-0.5 4.8-4.7 1.2-0.1 1.8-2.7 2.4-1.5 0.6-3.9 0.6 3.1 20.5-17.8 0 2.2-87.7 75.5z" fill="url(#gc52)"/>
<path d="M474.5 210.2l1.2 0.7M482.9 201.8l1.3 1.5M491.2 195.4l1.3 1.1M497.1 137.9l1.4 2.9M507.2 181.9l1.3 0.5M514.9 174.9l1.3 1.2M522.5 168.8l1.2 0.8M529.8 162.3l1.2 1M537 156.1l1.2-2.3M544 150.1l1.2 1.3M550.9 141.4l1.2 3.5M557.6 138.6l1.2 1" stroke="#d8b0f0" stroke-width="0.6" fill="none" opacity="0.3"/>
<path d="M472.7 215.2l2.2-1.2 7.1-6.2 2.1-2.7 2.1-1 0.7-1.2 7.6-5.5 2.6-3.7 0.6-48.6 0.9 3.3 0.7-1.6 0.8 1.6 4 28.8 2.2 5.8 2.1 1.5 7.7-6.5 0.7 0.1 3.1-3.5 5-3.7 1.2-1.7 1.3-0.4 1.2-2.2 1.2-0.2 3.1-2.3 1.1-2 1.9-0.7 2.9-3 3-1.7 0.5-1.2 3.5-2.7 0.6-1 4.6-3.2 3.4-4.2 0.5 0.7 5.6-4.8 0 1.5-87.7 75.7z" fill="url(#gc53)"/>
<path d="M475.7 210.9l1.3 1M484.2 203.3l1.3 1.1M492.5 196.5l1.3 1M498.5 140.8l1.6 7.6M508.5 182.4l1.2 0.9M516.2 176.1l1.2 1.1M523.7 169.6l1.2 1.3M531 163.3l1.2 1M538.2 153.8l1.2 4.4M545.2 151.4l1.2 0.4M552.1 144.9l1.2 1.1M558.8 139.6l1.2 1" stroke="#d8b0f0" stroke-width="0.6" fill="none" opacity="0.3"/>
<path d="M474 216.5l3.6-2.6 2.1-2.7 1.5-0.2 8.3-8.1 4.8-4 0.8 0 3.3-3.9 0.8-63.6 1.3 15.3 0.7-2.5 4 31.1 1.6 6.7 0.8 1.9 1.4 1.4 0.6-0.6 0.7 0.7 3.2-3.1 0.7 0.2 0.6-1.6 1.9-1 2.6-2.6 1.2-0.4 8.1-7.7 15-12.3 2.9-3.2 15.2-12.9 0 1.6-87.6 75.8z" fill="url(#gc54)"/>
<path d="M477 211.9l1.3 0.8M485.5 204.4l1.3 1.2M493.8 197.5l1.3 1.4M500.1 148.4l1.1-4.2M509.7 183.3l1.3 1.2M517.4 177.2l1.2 1M524.9 170.9l1.2 0.6M532.2 164.3l1.3 0.7M539.4 158.2l1.2 0.7M546.4 151.8l1.2 1.2M553.3 146l1.2 0.9M560 140.6l1.1 0.5" stroke="#d8b0f0" stroke-width="0.6" fill="none" opacity="0.3"/>
<path d="M475.3 217.4l2.1-1.4 7.8-7.6 3.6-2.2 10.8-10.5 0.8-47.7 0.9 3.5 0.6-2.4 1.1 10.5 0.7-0.8 2.8 18.9 1.6 6.4 1.5 2.1 2-0.5 2.5-1.8 10.8-9.6 0.6 0.3 0.6-1.3 3.7-2.8 3.7-3.8 3-1.9 0.6-1.2 5.3-3.9 6.4-6.3 4.6-3.5 0.6-1.3 1.7-0.7 7.2-6.4 0 1.4-87.5 76z" fill="url(#gc55)"/>
<path d="M478.3 212.7l1.3 1.1M486.8 205.6l1.3 1.2M495.1 198.9l1.2 0.3M501.2 144.2l1.8 15.4M511 184.5l1.2 0.4M518.6 178.2l1.3 1M526.1 171.5l1.3 1M533.5 165l1.2 1M540.6 158.9l1.2 1.1M547.6 153l1.2 0.4M554.5 146.9l1.2 1M561.1 141.1l1.2 1.1" stroke="#d8b0f0" stroke-width="0.6" fill="none" opacity="0.3"/>
<path d="M476.5 217.2l19.7-16.4 4-3.7 0.7-1.4 0.7-50.4 1 5.8 0.7 1.4 0.5-5.8 1.2 11.6 3.6 22.2 1.5 4 2 1.5 4.6-3 5-5.5 4.4-2.8 0.6-1.3 0.7 0.3 3-3.4 1.3-0.3 3.6-3.8 1.8-1.1 1.2-1.8 0.6 0.1 2.4-1.9 3.5-3.9 1.8-0.8 5.7-5.1 0.7-4.4 0.5 3.5 1.7-2.1 0.5 0.2 0.6-2.7 0.6 1.5 0.5-0.2 3.4-3.3 0.6-1.3 0.5 0.9 0.6-2.8 0.5 1.8 1.1-1.5 0 2.1-87.5 76.1z" fill="url(#gc56)"/>
<path d="M479.6 213.8l1.2-0.1M488.1 206.8l1.2-0.3M496.3 199.2l1.2 0.2M503 159.6l0.8-12.9M512.2 184.9l1.2 0.2M519.9 179.2l1.2-0.5M527.4 172.5l1.2-0.2M534.7 166l1.2-0.1M541.8 160l1.3-0.2M548.8 153.4l1.2 0.2M555.7 147.9l1.2-0.2M562.3 142.2l1.3-0.4" stroke="#d8b0f0" stroke-width="0.6" fill="none" opacity="0.3"/>
<path d="M477.7 217.7l5.8-4.5 9.1-8.5 2.1-1 1.3-1.9 0.8 0.4 0.6-1.6 2.7-1.7 2-2.4 1.5-52.9 2.2 20.8 0.6-2.7 3.4 19.6 1.5 4.1 1.4 1.5 2-0.9 1.9-2.2 5.1-3.7 7.5-7.2 10.9-8.9 1.2-1.7 0.6-3.3 0.6 2.9 12.8-11.6 8.3-6.8 1.7-2.3 0 2.7-87.4 76.3z" fill="url(#gc57)"/>
<path d="M480.8 213.7l1.3 0.7M489.3 206.5l1.2 0.1M497.5 199.4l1.3 0.5M503.8 146.7l2 17.7M513.4 185.1l1.3 0.9M521.1 178.7l1.2 0.6M528.6 172.3l1.2 0.4M535.9 165.9l1.2 0.5M543.1 159.8l1.2 0.3M550 153.6l1.3 0.6M556.9 147.7l1.2 0.3M563.6 141.8l1.2 0.5" stroke="#d8b0f0" stroke-width="0.6" fill="none" opacity="0.3"/>
<path d="M479 219.2l24.4-21.5 1.2-40.6 0.8-0.1 0.8 3.1 4.9 23.2 1.5 3.8 0.7 1.1 0.7-0.2 2.6-1.3 1.3-1.7 14.4-12.1 0.6-1.2 1.2-0.3 9.6-9.2 1.8-0.8 4.7-4.7 3.4-2.2 1.2-1.7 4.5-3.8 0.6-1.7 1.1 0.7 1.1-0.9 2.2-2.3 0.6-2.5 0.5 1.3 1.1-1 0 1.8-87.3 76.5z" fill="url(#gc58)"/>
<path d="M482.1 214.4l1.2 0.8M490.5 206.6l1.3 1.4M498.8 199.9l1.2 1M505.8 164.4l1.3 1M514.7 186l1.2 0.7M522.3 179.3l1.3 1.2M529.8 172.7l1.3 1.2M537.1 166.4l1.3 1.1M544.3 160.1l1.2 1.3M551.3 154.2l1.2 0.9M558.1 148l1.2 1M564.8 142.3l1.2 0.9" stroke="#d8b0f0" stroke-width="0.6" fill="none" opacity="0.3"/>
<path d="M479 219.2l24.4-21.5 1.2-40.6 0.8-0.1 0.8 3.1 4.9 23.2 1.5 3.8 0.7 1.1 0.7-0.2 2.6-1.3 1.3-1.7 14.4-12.1 0.6-1.2 1.2-0.3 9.6-9.2 1.8-0.8 4.7-4.7 3.4-2.2 1.2-1.7 4.5-3.8 0.6-1.7 1.1 0.7 1.1-0.9 2.2-2.3 0.6-2.5 0.5 1.3 1.1-1" stroke="#d8b0f0" stroke-width="0.6" fill="none" opacity="0.3"/>
<path d="M480.3 219.6l2.9-2 1.4-1.8 1.5-0.6 18.6-17 0.9-30.7 0.5-5.5 1.3-4.5 2.6 16.7 2.4 9.3 2.1 4.4 2 0.3 5.2-4.9 5-3.6 0.6-1.5 6.8-5.2 0.7-1.2 3.6-2.4 1.8-2.5 0.6 0.2 6.5-6.4 5.2-3.8 2.9-3.3 2.3-1.3 3.4-3.6 2.2-1.1 3.9-4.3 0.5 0.5 0 1.1-87.3 76.7z" fill="url(#gc59)"/>
<path d="M483.3 215.2l1.3 0.6M491.8 208l1.3 0.9M500 200.9l1.3 0.3M507.1 165.4l1.1-3.8M515.9 186.7l1.3 0.7M523.6 180.5l1.2 0.4M531.1 173.9l1.2 0.1M538.4 167.5l1.2 0.5M545.5 161.4l1.2 0.3M552.5 155.1l1.2 0.4M559.3 149l1.2 0.4M566 143.2l1.2 0.1" stroke="#d8b0f0" stroke-width="0.6" fill="none" opacity="0.3"/>
<path d="M481.6 220.4l5.7-5.7 0.7 0 7-6 1.4-1.8 0.7 0.2 8.8-8.4 0.8-36.7 1-10.7 1 7.8 0.7-1.2 0.8 5 2.7 19.4 2.9 6.8 3.3-1.5 1.2-1.9 3.3-2 3.1-3.4 1.9-0.8 0.6-1.6 1.3-0.5 2.4-2.7 4.9-3.5 3.6-3.9 0.6 0.3 0.6-1.6 4.8-3 6.4-6.4 1.7-0.8 1.1-1.2 0.7-4.7 0.5 3.5 8.4-7.8 2.7-1.7 0 1.5-87.2 76.9z" fill="url(#gc60)"/>
<path d="M484.6 215.8l1.3 0.8M493.1 208.9l1.2 0.3M501.3 201.2l1.3 0.9M508.2 161.6l1.2-3.7M517.2 187.4l1.2 0.4M524.8 180.9l1.3 0.5M532.3 174l1.2 0.3M539.6 168l1.2 0.6M546.7 161.7l1.3 0.2M553.7 155.5l1.2 0.3M560.5 149.4l1.2 0.4M567.2 143.3l1.2 0.9" stroke="#d8b0f0" stroke-width="0.6" fill="none" opacity="0.3"/>
<path d="M482.9 220.7l4.3-3.7 0.7 0.1 0.7-1.3 15.2-12.9 0.7-1.4 2-0.8 0.7-1.4 1.9-47.2 2.8 21.4 1.3 0 1 8.9 1.5 5 1.4 1.9 1.3 0.2 3.9-3.4 1.2-0.4 1.9-2.6 0.7 0.2 3.7-4 6.8-5.2 0.6-4.9 0.6 3.6 3.7-3.3 0.6-3.9 0.6 2.6 0.6-0.1 16.3-14.8 1.1-0.4 0.6-2.1 0.5 0.9 0.7-4.6 0.4 3.2 0.6 0 6.6-6.3 0 1.9-87.1 77z" fill="url(#gc61)"/>
<path d="M485.9 216.6l1.3 0.4M494.3 209.2l1.3 0.8M502.6 202.1l1.2 0.8M509.4 157.9l1.5 5.8M518.4 187.8l1.3 0.9M526.1 181.4l1.2 0.6M533.5 174.3l1.3 1.2M540.8 168.6l1.3-3M548 161.9l1.2 0.8M554.9 155.8l1.2 1.1M561.7 149.8l1.2 0.5M568.4 144.2l1.2 0.4" stroke="#d8b0f0" stroke-width="0.6" fill="none" opacity="0.3"/>
<path d="M484.2 222.9l2.1-2.9 8.5-6.7 3.5-3.8 0.7 0.3 1.4-2.1 4.1-2.9 4-4.1 2-44.1 6.4 31.7 1.4 2.1 2 0.2 0.7-1.1 2.5-1.6 5.7-5.8 3.8-2.7 0.6-1.1 0.6 0.1 1.8-2.1 6.1-4.8 1.8-2.6 1.8-0.3 1.2-4.4 0.6 2.3 11.6-10.3 0.6-1.5 1.6-0.3 10-9.3 0 1.3-87 77.2z" fill="url(#gc62)"/>
<path d="M487.2 217l1.3 1.6M495.6 210l1.3 0.8M503.8 202.9l1.3 0.7M510.9 163.7l1.3 0.3M519.7 188.7l1.3 0.8M527.3 182l1.3 1.1M534.8 175.5l1.2 0.8M542.1 165.6l1.2 4.4M549.2 162.7l1.2 1M556.1 156.9l1.3 0.8M562.9 150.3l1.3 1.3M569.6 144.6l1.2 1.2" stroke="#d8b0f0" stroke-width="0.6" fill="none" opacity="0.3"/>
<path d="M485.5 222.8l6.4-5.5 0.7-1.3 2.8-1.6 4.8-5.3 2.8-1.8 0.7-1.1 0.7 0.1 5.3-5.7 1-34.1 1-12.4 1 6.4 0.5-3.7 1.9 18.1 2.4 11.1 1.4 4 2 0.7 7-6.2 0.7 0.2 4.4-4.6 0.6 0.3 3.7-4.7 1.2 0 1.2-1 2.5-2.6 0.6-2.2 0.6 1.6 0.6-0.2 5.9-6.2 0.6 0.2 5.2-4.6 3.5-3.9 0.5 0.2 4.6-4.8 2.2-1.3 6.1-5.9-0.1 1.9-86.9 77.4z" fill="url(#gc63)"/>
<path d="M488.5 218.6l1.3 0.4M496.9 210.8l1.3 0.5M505.1 203.6l1.3 0.5M512.2 164l1-7.2M521 189.5l1.2 0.3M528.6 183.1l1.2 0.2M536 176.3l1.3-0.6M543.3 170l1.3 0.1M550.4 163.7l1.3 0.2M557.4 157.7l1.2 0.2M564.2 151.6l1.2-0.1M570.8 145.8l1.2 0.2" stroke="#d8b0f0" stroke-width="0.6" fill="none" opacity="0.3"/>
<path d="M486.7 222.4l5-4 2.1-2.6 1.5-0.6 2-2.6 6.3-4.9 0.6-1.2 3.4-2.4 3.4-3.8 2.3-39.7 0.6-0.3 1 7.6 0.5-4.3 1.9 17.9 0.7 0.4 2.2 8.5 2 0.5 0.6-1.2 2-1 12.5-11 2.5-2.9 1.8-0.9 7.2-6.5 1.2-1.7 8.7-7.1 1.7-1.7 0.7-3.1 0.5 1.8 0.5-0.2 11.7-10.3-0.1 2.3-86.8 77.6z" fill="url(#gc64)"/>
<path d="M489.8 219l1.2-0.5M498.2 211.3l1.2-0.1M506.4 204.1l1.2 0M513.2 156.8l1.7 11.1M522.2 189.8l1.3-0.4M529.8 183.3l1.3-0.6M537.3 175.7l1.2 0.9M544.6 170.1l1.2-0.2M551.7 163.9l1.2-0.4M558.6 157.9l1.3-0.8M565.4 151.5l1.2-0.3M572 146l1.3-0.5" stroke="#d8b0f0" stroke-width="0.6" fill="none" opacity="0.3"/>
<path d="M488 223l7.1-5.8 2.1-2.7 4.9-3.3 10.2-9.9 1.8-33.8 0.6-0.6 0.6-6.9 1 11.5 0.7 3.4 0.7-1.6 0.9 8.4 1.5 6 2 3.6 2-0.5 2.6-1.7 6.9-7.1 6.2-4.7 1.8-2.2 0.6 0.1 1.3-5.4 0.6 3.5 27.1-24.5 0.5 0.4 1.7-2.5 1.6-1.1-0.1 2.4-86.8 77.7z" fill="url(#gc65)"/>
<path d="M491 218.5l1.3 1M499.4 211.2l1.3 0.6M507.6 204.1l1.3 0.5M514.9 167.9l1.4 3.6M523.5 189.4l1.2 0.9M531.1 182.7l1.3 0.8M538.5 176.6l1.3 0.7M545.8 169.9l1.3 0.7M552.9 163.5l1.3 0.7M559.9 157.1l1.2 1.1M566.6 151.2l1.3 0.8M573.3 145.5l1.2 0.4" stroke="#d8b0f0" stroke-width="0.6" fill="none" opacity="0.3"/>
<path d="M489.4 224.7l10.6-9.1 0.6-1.3 0.8 0.1 3.4-3 2-2.7 1.4-0.4 5.4-5.7 1.4-23.9 1.1-8.9 0.7 0 0.7-1.2 0.9 11.3 1.5 1.9 1.5 7.6 1.3 2.8 0.7 0.5 1.3-0.1 2.6-1.3 3.2-2.8 0.6-1.3 0.7 0.2 4.3-4.3 0.6-1.3 3.1-2 3.7-3.4 0.6-1.3 0.6 0.4 4.2-4.1 1.2-4.7 0.6 3.3 5.3-5.3 0.6 0.1 7.4-6.5 0.6-1.4 0.5 0.2 11.1-10.1 0 1.5-86.8 77.9z" fill="url(#gc66)"/>
<path d="M492.3 219.5l1.3 1.3M500.7 211.8l1.3 1.6M508.9 204.6l1.3 1.3M516.3 171.5l1.2-2.9M524.7 190.3l1.3 1.6M532.4 183.5l1.2 1.5M539.8 177.3l1.3 1.2M547.1 170.6l1.2 1.4M554.2 164.2l1.2 1.3M561.1 158.2l1.2 1.3M567.9 152l1.2 1.3M574.5 145.9l1.2 2" stroke="#d8b0f0" stroke-width="0.6" fill="none" opacity="0.3"/>
<path d="M490.7 225.6l7.7-7.6 1.5-0.4 2.7-3.6 0.8 0.5 2-2.7 4.1-2.9 5.4-5.5 1-11.6 0.3-14 1.9-8.9 0.9 6.5 0.7 3.7 0.7-0.1 0.8 7.4 1.5 4.7 1.3 1.8 2 0.9 15.7-14.5 1.2-0.5 0.6-3.2 0.6 2.1 2.5-2.9 1.8-0.7 2.4-3.2 4.1-2.8 10.4-10.1 2.8-1.7 1.7-2.3 7.7-6.5-0.1 1.5-86.7 78.1z" fill="url(#gc67)"/>
<path d="M493.6 220.8l1.3 0.7M502 213.4l1.4 1.1M510.2 205.9l1.3 0.8M517.5 168.6l1.5 6.8M526 191.9l1.3 0.9M533.6 185l1.3 0.8M541.1 178.5l1.2 0.4M548.3 172l1.3 0.4M555.4 165.5l1.2 0.6M562.3 159.5l1.3 0.2M569.1 153.3l1.2 0.3M575.7 147.9l1.2-0.3" stroke="#d8b0f0" stroke-width="0.6" fill="none" opacity="0.3"/>
<path d="M490.7 225.6l7.7-7.6 1.5-0.4 2.7-3.6 0.8 0.5 2-2.7 4.1-2.9 5.4-5.5 1-11.6 0.3-14 1.9-8.9 0.9 6.5 0.7 3.7 0.7-0.1 0.8 7.4 1.5 4.7 1.3 1.8 2 0.9 15.7-14.5 1.2-0.5 0.6-3.2 0.6 2.1 2.5-2.9 1.8-0.7 2.4-3.2 4.1-2.8 10.4-10.1 2.8-1.7 1.7-2.3 7.7-6.5" stroke="#d8b0f0" stroke-width="0.6" fill="none" opacity="0.3"/>
<path d="M492 226l0.6-1.3 10.6-9.3 0.7-0.1 1.4-2.1 0.7 0.2 10.1-9.8 2.1-28.1 1.4 2 0.8 3.8 0.6-1.5 2.3 9.9 0.7 1.9 2 2.4 4.5-2.8 1.9-2.5 7.5-6.3 0.6-1.3 0.6 0.3 3.1-3.3 1.8-0.7 2.4-3 6.6-5.5 0.6-4.4 0.5 3.5 4.1-3.8 0.7-4.3 0.5 3.2 1.7-2.1 15.6-13.7-0.1 2.2-86.6 78.3z" fill="url(#gc68)"/>
<path d="M494.9 221.5l1.3 0.2M503.4 214.5l1.2-0.6M511.5 206.7l1.3 0.2M519 175.4l1.4 5.9M527.3 192.8l1.3-0.2M534.9 185.8l1.3 0M542.3 178.9l1.3 0.2M549.6 172.4l1.2 0.3M556.6 166.1l1.3 0.4M563.6 159.7l1.2-0.2M570.3 153.6l1.3-0.1M576.9 147.6l1.3 0.3" stroke="#d8b0f0" stroke-width="0.6" fill="none" opacity="0.3"/>
<path d="M493.2 225.8l7.1-6.2 0.7-1.5 4.9-3.5 0.7-1.5 1.4-0.4 9.4-9 2.2-23.1 1.3-4.5 2.3 13.5 4.1 4.9 5.7-4.4 9.4-9 4.9-3.6 4.8-5.1 0.6 0.1 9.4-9.2 1.1-0.4 1.7-2.2 8.5-7.1 0.7-4.7 0.4 4 1.1-1.7 0.5 0.1 3.9-3.5-0.1 2.2-86.5 78.5z" fill="url(#gc69)"/>
<path d="M496.2 221.7l1.3 0.3M504.6 213.9l1.3 0.7M512.8 206.9l1.3 0.2M520.4 181.3l1.3 1.3M528.6 192.6l1.2 0M536.2 185.8l1.2 0M543.6 179.1l1.3 0.1M550.8 172.7l1.3-0.3M557.9 166.5l1.3-0.4M564.8 159.5l1.3 0.6M571.6 153.5l1.2 0.6M578.2 147.9l1.2 0.2" stroke="#d8b0f0" stroke-width="0.6" fill="none" opacity="0.3"/>
<path d="M494.5 226.6l7.8-7.8 2.8-1.6 0.7-1.3 3.5-2.5 0.6-1.3 8.8-7.7 3-17 0.8 2.8 0.6-1.1 0.7 0.5 1.4 3.5 1.4 1.7 2.6 0 3.8-3.7 0.7 0.2 3.1-3.6 1.3 0 0.6-1.4 5.6-5.3 9.7-8 1.7-2.3 11.6-10.1 1.2-1.6 1.1-0.1 6.7-7 3.3-2.2 1.2-4.4 0.4 2.2-0.1 3.1-86.4 78.6z" fill="url(#gc70)"/>
<path d="M497.5 222l1.3 0.8M505.9 214.6l1.3 0.2M514.1 207.1l1.3 0.4M521.7 182.6l1.4 6.5M529.8 192.6l1.3 0.5M537.4 185.8l1.3 0.5M544.9 179.2l1.2 0.6M552.1 172.4l1.3 0.9M559.2 166.1l1.2 0.6M566.1 160.1l1.2 0.5M572.8 154.1l1.3 0.5M579.4 148.1l1.4-2.8" stroke="#d8b0f0" stroke-width="0.6" fill="none" opacity="0.3"/>
<path d="M495.8 227.3l11.3-9.8 8.9-8.6 0.7 0.1 3.3-3.5 1.9-8.3 2.6-4 1.4 2.7 0.6-0.9 1.4 1.6 1.3 0.3 0.6-1 0.7 0.1 6.4-5.4 6.8-7.1 3.1-2 2.4-2.8 0.6 0.2 8.4-8.5 1.7-1 0.6-1.2 1.2-0.4 6.9-6.8 1.1-0.2 2.8-2.6 1.1-1.4 0.8-4.7 0.3 4 7.7-7.2-0.1 2.2-86.3 78.8z" fill="url(#gc71)"/>
<path d="M498.8 222.8l1.3 1M507.2 214.8l1.3 1.1M515.4 207.5l1.3 1.5M523.1 189.1l1.4 4.1M531.1 193.1l1.3 1.3M538.7 186.3l1.3 1.2M546.1 179.8l1.3 1M553.4 173.3l1.2 1M560.4 166.7l1.3 1.1M567.3 160.6l1.3 0.4M574.1 154.6l1.2 0.5M580.8 145.3l1.1 4" stroke="#d8b0f0" stroke-width="0.6" fill="none" opacity="0.3"/>
<path d="M497.2 228.6l18.8-17.6 4-3.1 4.6-5.9 5.9-3.7 4.5-4.8 4.4-3.1 11.7-11.5 0.6 0.3 7.8-8.1 0.5 0.2 1.2-1.1 2.3-2.8 0.7-3.5 0.5 2.8 1.1-0.7 0.7-4.4 0.5 3.3 10.7-10.2 0.5 0.6 0.6-1.3 2.7-2.6 0.5 0.1 1.7-2.3-0.1 2.4-86.3 79z" fill="url(#gc72)"/>
<path d="M500.1 223.8l1.4 1M508.5 215.9l1.3 1M516.7 209l1.3 0.4M524.5 193.2l1.4 8.2M532.4 194.4l1.3 0.8M540 187.5l1.3 0.6M547.4 180.8l1.3 0.8M554.6 174.3l1.3 0.8M561.7 167.8l1.2 0.5M568.6 161l1.2 1.2M575.3 155.1l1.3 0.8M581.9 149.3l1.2 0.9" stroke="#d8b0f0" stroke-width="0.6" fill="none" opacity="0.3"/>
<path d="M498.5 228.5l6.4-5.8 0.7 0.1 1.4-2.2 2.8-1.6 2.7-3.5 0.7 0.3 5.4-5.7 2.7-1.6 4-4.4 2.6-1.5 3.2-4.3 0.7 0.4 1.9-2.6 0.7 0.2 0.6-1.3 0.6 0.2 1.3-1.8 5.1-3.9 1.2-1.9 1.9-1 7.9-7.9 1.8-0.9 30.1-28.4-0.1 2.7-86.2 79.2z" fill="url(#gc73)"/>
<path d="M501.5 224.8l1.3 0.2M509.8 216.9l1.3 0.1M518 209.4l1.3 0.6M525.9 201.4l1.4 1.3M533.7 195.2l1.3-0.2M541.3 188.1l1.3 0.4M548.7 181.6l1.3-0.1M555.9 175.1l1.3 0M562.9 168.3l1.3 0.7M569.8 162.2l1.3-0.3M576.6 155.9l1.2 0.4M583.1 150.2l1.3-0.3" stroke="#d8b0f0" stroke-width="0.6" fill="none" opacity="0.3"/>
<path d="M499.8 229l2.8-3 2.2-0.9 4.9-5.3 10.2-9.3 2-1.2 4-4.5 1.3-0.5 1.3-1.9 14.1-12.2 9.9-9.7 17.6-15.6 0.6-1.2 8.9-7.5 1.7-1.9 0.6-1.7 0.5 0.8 0.5-0.4 3.3-3.4-0.1 3.1-86.2 79.3z" fill="url(#gc74)"/>
<path d="M502.8 225l1.3 0.5M511.1 217l1.3 0.3M519.3 210l1.3 0M527.3 202.7l1.2-0.3M535 195l1.3 0.8M542.6 188.5l1.3 0M550 181.5l1.3 0.6M557.2 175.1l1.3 0M564.2 169l1.3-0.3M571.1 161.9l1.3 0.9M577.8 156.3l1.3 0.2M584.4 149.9l1.3 0.3" stroke="#d8b0f0" stroke-width="0.6" fill="none" opacity="0.3"/>
<path d="M501.1 230.1l9.2-8.2 3.5-3.9 6.1-4.8 7.3-7.5 0.7 0.2 5.9-6 1.2-0.6 1.3-1.9 10.1-8.7 1.9-2.3 6.1-4.9 1.8-2.7 0.6 0.3 4.1-4.4 6.4-5.2 1.2-1.8 6.3-5 1.1-1.8 3.9-2.9 7.6-7.4-0.1 2.6-86 79.5z" fill="url(#gc75)"/>
<path d="M504.1 225.5l1.3 0.6M512.4 217.3l1.4 0.7M520.6 210l1.3 1M528.5 202.4l1.4 1.5M536.3 195.8l1.3 0.4M543.9 188.5l1.3 1.1M551.3 182.1l1.2 0.8M558.5 175.1l1.2 0.9M565.5 168.7l1.3 0.9M572.4 162.8l1.2 0.2M579.1 156.5l1.2 0.7M585.7 150.2l1.2 0.5" stroke="#d8b0f0" stroke-width="0.6" fill="none" opacity="0.3"/>
<path d="M502.5 231.6l5.7-5.8 0.7 0.1 2.1-2.1 0.6-1.4 0.8 0.3 8.2-8.1 3.3-2.5 2-2.5 5.9-4.8 1.3-2.1 0.7 0.1 1.3-1.7 0.6 0 1.9-2.6 1.3-0.4 0.6-1.3 1.9-1 16-15.5 3.6-2.6 4.1-4.7 0.6 0.3 9.7-9 1.8-2.3 1-0.3 9.4-9.5 1.1-0.3-0.1 1.8-86 79.7z" fill="url(#gc76)"/>
<path d="M505.4 226.1l1.4 1.4M513.8 218l1.3 1.8M521.9 211l1.4 1.7M529.9 203.9l1.3 1.2M537.6 196.2l1.3 1.9M545.2 189.6l1.3 1.3M552.5 182.9l1.3 1.1M559.7 176l1.3 1.7M566.8 169.6l1.2 1.1M573.6 163l1.3 1.5M580.3 157.2l1.3 1.3M586.9 150.7l1.2 1.8" stroke="#d8b0f0" stroke-width="0.6" fill="none" opacity="0.3"/>
<path d="M502.5 231.6l5.7-5.8 0.7 0.1 2.1-2.1 0.6-1.4 0.8 0.3 8.2-8.1 3.3-2.5 2-2.5 5.9-4.8 1.3-2.1 0.7 0.1 1.3-1.7 0.6 0 1.9-2.6 1.3-0.4 0.6-1.3 1.9-1 16-15.5 3.6-2.6 4.1-4.7 0.6 0.3 9.7-9 1.8-2.3 1-0.3 9.4-9.5 1.1-0.3" stroke="#d8b0f0" stroke-width="0.6" fill="none" opacity="0.3"/>
<path d="M503.8 231.8l1.5-0.5 1.4-2.1 5.6-4.6 4.1-4.6 0.7 0.1 10.1-10 3.3-2.4 1.3-2 2-1.1 12.7-12.5 0.6-0.5 0.7 0.4 1.8-2.7 0.6 0.1 8.5-7.8 1.3-3.7 0.5 1.5 10-9.6 1.7-0.9 0.6-1.2 1.1-0.3 0.7-4.7 0.4 3.3 3.4-3 0.7-4.2 0.4 3.3 1.7-2.2 0.5 0.3 1.7-1.8 0.7-4.5 0.4 3.4 5.4-4.9-0.1 1.8-85.9 79.9z" fill="url(#gc77)"/>
<path d="M506.8 227.5l1.3 0.8M515.1 219.8l1.3 0.2M523.3 212.7l1.3 0M531.2 205.1l1.3 0.3M538.9 198.1l1.3 0M546.5 190.9l1.3 1.1M553.8 184l1.3 0.5M561 177.7l1.3 0.2M568 170.7l1.3 0.6M574.9 164.5l1.3 0.4M581.6 158.5l1.3 0.3M588.1 152.5l1.3 0" stroke="#d8b0f0" stroke-width="0.6" fill="none" opacity="0.3"/>
<path d="M505.1 231.5l2.2-1.5 2.8-3.4 0.7 0.2 6.2-6.6 0.7 0 4.1-3.5 0.7-1.2 2-1.4 0.7-1.4 1.3-0.6 11.8-11.6 4.5-3.4 1.3-2.1 2.5-1.5 2.5-3 0.6 0.1 7.3-7 0.7-1.4 1.7-0.5 6-6.3 0.6 0.1 1.2-1.8 5.1-4.1 1.2-1.9 0.6 0 0.7-3.8 0.4 2.7 0.6-0.1 6.7-6.6 0.7-4.1 0.4 3 7.6-6.9-0.1 2.9-85.8 80z" fill="url(#gc78)"/>
<path d="M508.1 228.3l1.3-0.4M516.4 220l1.3 0.2M524.6 212.7l1.3-0.6M532.5 205.4l1.3-0.2M540.2 198.1l1.3-0.3M547.8 192l1.3-1.5M555.1 184.5l1.3-0.6M562.3 177.9l1.3-0.2M569.3 171.3l1.3-0.5M576.2 164.9l1.3-0.5M582.9 158.8l1.3-0.5M589.4 152.5l1.3 0" stroke="#d8b0f0" stroke-width="0.6" fill="none" opacity="0.3"/>
<path d="M506.5 231.7l11.9-10.8 1.3-2.2 0.7 0.1 3.4-2.8 9.4-8.7 0.6-1.4 2-1 12.7-12.6 0.6 0.1 3.1-2.8 0.7-1.4 5.4-4.2 14.8-14.5 1.1-0.3 1.2-1.9 1.1-0.5 0.7-4.5 0.4 3.4 1.3-4.2 0.4 2.3 1.7-1.1 1.7-2.4 0.5 0.3 1.1-0.9 0.7-2 0.4 0.9 7.2-7.2-0.3 3.9-85.7 80.3z" fill="url(#gc79)"/>
<path d="M509.4 227.9l1.3 0.3M517.7 220.2l1.4 0.1M525.9 212.1l1.3 0.6M533.8 205.2l1.3 0M541.5 197.8l1.3-0.1M549.1 190.5l1.3 0.7M556.4 183.9l1.3 0.2M563.6 177.7l1.3-0.4M570.6 170.8l1.3-0.2M577.5 164.4l1.4-2.9M584.2 158.3l1.2 0.3M590.7 152.5l1.3 0" stroke="#d8b0f0" stroke-width="0.6" fill="none" opacity="0.3"/>
<path d="M507.8 232.5l5.7-4.9 1.4-2 0.7 0.2 2-3 0.7 0.1 1.4-1.9 2.1-1.8 0.7 0.2 3.3-3.7 1.4-0.7 1.3-2 2-1.3 11.8-11.6 1.9-1.2 1.2-1.9 19-17.1 1.2-1.9 3.5-2.4 1.2-1.8 0.6 0.1 1.2-1.6 5.7-4.6 1.1-1.9 2.3-1.4 0.7-4.1 0.4 2.7 6.6-5.9 0.8-4.8 0.3 3.6 3.8-3.7-0.2 3.6-85.6 80.5z" fill="url(#gc80)"/>
<path d="M510.7 228.2l1.4 0.7M519.1 220.3l1.3 0.5M527.2 212.7l1.3 0.3M535.1 205.2l1.3 0.7M542.8 197.7l1.4 1.2M550.4 191.2l1.3 0.7M557.7 184.1l1.4 0.3M564.9 177.3l1.3 0.6M571.9 170.6l1.3 0.6M578.9 161.5l1.1 3.9M585.4 158.6l1.3 0.5M592 152.5l1.3 0.2" stroke="#d8b0f0" stroke-width="0.6" fill="none" opacity="0.3"/>
<path d="M509.2 233.3l30.5-28.3 1.3-1.9 0.7 0.3 5.1-5.4 5.6-4.7 1.2-1.9 3.1-2 1.8-2.6 1.2-0.3 2.5-3.6 1.1 0 3-3.6 1.8-0.8 2.9-3.3 2.9-2 1.2-2.6 0.6 0.4 2.8-2.4 16.6-15.7-0.2 3.5-85.6 80.6z" fill="url(#gc81)"/>
<path d="M512.1 228.9l1.3 0.7M520.4 220.8l1.3 1M528.5 213l1.4 0.8M536.4 205.9l1.4 0.7M544.2 198.9l1.3 0.8M551.7 191.9l1.3 0.6M559.1 184.4l1.3 0.9M566.2 177.9l1.3 0.8M573.2 171.2l1.3 1.4M580 165.4l1.3 0.5M586.7 159.1l1.3 0.3M593.3 152.7l1.2 0.8" stroke="#d8b0f0" stroke-width="0.6" fill="none" opacity="0.3"/>
<path d="M510.6 235l21.9-21.1 3.3-2.2 2-2.8 5.2-5 1.3-0.6 12.5-11.6 4.8-5.1 0.7-4.4 0.6 3 1.1-0.7 7.1-6.2 5.3-5.9 0.5 0.3 4-4.4 3.4-2.6 1.2-3 0.5 0.9 1-0.6 0.8-5.1 0.3 4.4 2.2-2.3 0.7-3.4 0.4 2.2 4.9-4.8-0.2 2.9-85.4 80.8z" fill="url(#gc82)"/>
<path d="M513.4 229.6l1.4 1.2M521.7 221.8l1.4 1.4M529.9 213.8l1.3 1.5M537.8 206.6l1.3 1.2M545.5 199.7l1.3 1.1M553 192.5l1.3 1.3M560.4 185.3l1.2 1.3M567.5 178.7l1.3 1.4M574.5 172.6l1.3 0.9M581.3 165.9l1.3 1.2M588 159.4l1.3 1.4M594.5 153.5l1.3 1.2" stroke="#d8b0f0" stroke-width="0.6" fill="none" opacity="0.3"/>
<path d="M511.9 236.3l2.9-3 2.8-1.7 6.2-6.7 1.4-0.7 0.6-1.3 6.1-4.8 4.6-5.3 2-0.9 1.3-2.2 16.4-14.9 1.3-1.9 4.2-3.1 12.5-12.5 0.5 0.2 1.8-2.4 0.5 0.2 2.9-3.3 0.5 0.1 2.3-2.9 2.8-2 0.6-1.3 3.3-2.3 6.5-7 0.5 0.2 1.1-1.2-0.1 1.8-85.4 81z" fill="url(#gc83)"/>
<path d="M514.8 230.8l1.4 1.8M523.1 223.2l1.4 1.6M531.2 215.3l1.4 1.9M539.1 207.8l1.3 1.7M546.8 200.8l1.3 1.3M554.3 193.8l1.3 1.4M561.6 186.6l1.3 1.7M568.8 180.1l1.3 1.4M575.8 173.5l1.2 1.8M582.6 167.1l1.3 1.1M589.3 160.8l1.2 1.6M595.8 154.7l1.2 1.5" stroke="#d8b0f0" stroke-width="0.6" fill="none" opacity="0.3"/>
<path d="M513.3 237.5l21.3-20 1.3-2 1.3-0.4 0.7-1.3 5.2-4.2 7-7.3 6.2-5.8 0.6 0.1 1.3-1.9 0.6 0 6-6.3 0.6 0 0.6-1.3 4.2-3.2 0.6-1.3 3.5-2.7 1.2-1.9 0.5 0.3 5.2-5.1 0.6-2.8 0.5 1.4 1.7-1.2 14.8-14.2-0.1 1.6-85.3 81.2z" fill="url(#gc84)"/>
<path d="M516.2 232.6l1.3 0.8M524.5 224.8l1.3 1.2M532.6 217.2l1.3 0.9M540.4 209.5l1.4 1.1M548.1 202.1l1.4 0.8M555.6 195.2l1.3 1.4M562.9 188.3l1.3 0.7M570.1 181.5l1.3 0.8M577 175.3l1.3 0.2M583.9 168.2l1.2 1.2M590.5 162.4l1.3 0.8M597 156.2l1.3 0.6" stroke="#d8b0f0" stroke-width="0.6" fill="none" opacity="0.3"/>
<path d="M514.7 238l10.4-10.5 2.1-0.9 0.7-1.4 6-6 1.4-0.6 3.9-4.4 2-1.1 0.6-1.5 9-7.8 1.9-2.6 7.4-6.4 3.1-3.5 2.4-1.5 34.5-33.5-0.1 2.2-85.3 81.4z" fill="url(#gc85)"/>
<path d="M517.5 233.4l1.4 0.6M525.8 226l1.4 0.6M533.9 218.1l1.4 0.5M541.8 210.6l1.3 0M549.5 202.9l1.3 0.9M556.9 196.6l1.4-0.6M564.2 189l1.4 0.8M571.4 182.3l1.3 0.2M578.3 175.5l1.3 0.7M585.1 169.4l1.3 0.1M591.8 163.2l1.3-0.2M598.3 156.8l1.3-0.1" stroke="#d8b0f0" stroke-width="0.6" fill="none" opacity="0.3"/>
<path d="M514.7 238l10.4-10.5 2.1-0.9 0.7-1.4 6-6 1.4-0.6 3.9-4.4 2-1.1 0.6-1.5 9-7.8 1.9-2.6 7.4-6.4 3.1-3.5 2.4-1.5 34.5-33.5" stroke="#d8b0f0" stroke-width="0.6" fill="none" opacity="0.3"/>
<path d="M516 238.7l3.5-4.2 2.8-2 2.1-2.7 1.4-0.7 7.5-7.5 0.6 0 0.7-1.3 10.5-10.2 5.8-4.6 1.2-2.1 2.5-1.6 5.6-6.2 0.6 0.3 1.3-2.1 0.6 0.3 2.4-3.1 1.2-0.4 1.8-3.4 0.6 0.8 0.6-0.4 11.1-11.3 0.6 0.2 4.5-4.9 1.7-0.9 2.8-3.6 5.5-4.5 2.1-2.4 0.8-4.8 0.3 3.8 2.7-2.4-0.2 2.3-85.1 81.5z" fill="url(#gc86)"/>
<path d="M518.9 234l1.3 0.1M527.2 226.6l1.3-0.6M535.3 218.6l1.3-0.2M543.1 210.6l1.4 0.3M550.8 203.8l1.3-0.4M558.3 196l1.3 0.6M565.6 189.8l1.3-0.5M572.7 182.5l1.3 0.4M579.6 176.2l1.4 0.3M586.4 169.5l1.4 0M593.1 163l1.3 0.2M599.6 156.7l1.3 0.4" stroke="#d8b0f0" stroke-width="0.6" fill="none" opacity="0.3"/>
<path d="M517.4 239.1l7-6 2.8-3.2 1.3-0.5 3.4-4.3 0.7 0.2 1.3-2.2 3.4-2.5 16.8-16 1.9-2.6 1.8-1 5.6-5.8 4.2-3.4 0.6-1.3 5.9-5.4 0.7-2.6 0.5 1.5 1.2-1.5 0.6 0.1 0.6-1.3 1.1-0.5 0.7-3.4 0.5 1.9 0.5-0.4 21.6-20.2 0.6-1.1-0.2 2-85 81.8z" fill="url(#gc87)"/>
<path d="M520.2 234.1l1.4 1M528.5 226l1.4 1.8M536.6 218.4l1.4 1.4M544.5 210.9l1.3 1.7M552.1 203.4l1.4 1.5M559.6 196.6l1.3 1.5M566.9 189.3l1.3 1.2M574 182.9l1.3 1.1M581 176.5l1.3 0.6M587.8 169.5l1.2 1.5M594.4 163.2l1.3 1.2M600.9 157.1l1.2 1.6" stroke="#d8b0f0" stroke-width="0.6" fill="none" opacity="0.3"/>
<path d="M518.8 240.5l6.3-6.3 1.4-0.6 0.7-1.3 9.4-9.5 3.4-2.4 8.4-8.7 0.7 0.2 0.6-1.5 6.4-5.5 10.4-10.9 3-2.1 1.2-1.8 3.6-2.8 1.2-1.8 6.9-6.5 0.6 0.1 13.4-13.7 7.5-6.7-0.1 1.4-85 82z" fill="url(#gc88)"/>
<path d="M521.6 235.1l1.4 1.6M529.9 227.8l1.4 0.8M538 219.8l1.3 0.8M545.8 212.6l1.4 0.3M553.5 204.9l1.3 1M560.9 198.1l1.4 0.6M568.2 190.5l1.3 1.4M575.3 184l1.3 0.4M582.3 177.1l1.3 1.1M589 171l1.3 0.6M595.7 164.4l1.2 0.9M602.1 158.7l1.3 0.6" stroke="#d8b0f0" stroke-width="0.6" fill="none" opacity="0.3"/>
<path d="M520.2 240.7l77-74.2 0.6-2.7 0.5 1.6 7-7.1-0.2 2.4-84.9 82.1z" fill="url(#gc89)"/>
<path d="M523 236.7l1.4-0.1M531.3 228.6l1.3 0.4M539.3 220.6l1.4 0.1M547.2 212.9l1.3 1M554.8 205.9l1.4 0.2M562.3 198.7l1.3 0.1M569.5 191.9l1.4-0.3M576.6 184.4l1.4 0.6M583.6 178.2l1.3 0.2M590.3 171.6l1.4 0M596.9 165.3l1.4 0.1M603.4 159.3l1.3-0.2" stroke="#d8b0f0" stroke-width="0.6" fill="none" opacity="0.3"/>
<path d="M521.5 241.1l4.2-4.7 3.5-2.6 1.4-1.9 12.1-11.4 0.7-1.2 3.2-2.2 5.8-6.4 3.2-2 1.3-2.2 3.7-2.8 2.5-3.3 1.9-1.8 0.6 0.1 9-8.9 1.2-1.4 0.7-3.1 0.5 1.9 0.6-0.2 4-3.8 1.3-4.5 0.5 2.6 3.4-3.7 2.8-2 0.6-1.4 4.5-4.5 0.5 0.3 1.1-0.9 7.1-7.5 3.1-2.4-0.1 2-84.8 82.4z" fill="url(#gc90)"/>
<path d="M524.4 236.6l1.3-0.2M532.6 229l1.4 0M540.7 220.7l1.3 0.2M548.5 213.9l1.4-0.2M556.2 206.1l1.3 0.2M563.6 198.8l1.4-0.2M570.9 191.6l1.3 0.5M578 185l1.3 0M584.9 178.4l1.3-0.1M591.7 171.6l1.3 0.2M598.3 165.4l1.3-0.1M604.7 159.1l1.3 0.4" stroke="#d8b0f0" stroke-width="0.6" fill="none" opacity="0.3"/>
<path d="M522.9 241.8l19.8-18.6 5.9-6.5 1.3-0.5 5.8-6.4 1.9-1.1 0.6-1.3 5.6-4.6 0.7-1.4 11.4-10.6 0.6-1.2 2.4-1.5 1.2-2 1.1-0.4 5.2-4.9 3.4-4.1 10-8.7 8.1-8.6-0.2 2.4-84.7 82.5z" fill="url(#gc91)"/>
<path d="M525.7 236.4l1.4 1.5M534 229l1.4 0.8M542 220.9l1.4 1.1M549.9 213.7l1.3 0.9M557.5 206.3l1.4 1M565 198.6l1.3 1.3M572.2 192.1l1.4 0.5M579.3 185l1.3 0.9M586.2 178.3l1.3 0.9M593 171.8l1.3 0.7M599.6 165.3l1.3 1M606 159.5l1.3 0.5" stroke="#d8b0f0" stroke-width="0.6" fill="none" opacity="0.3"/>
<path d="M524.3 243.3l3.5-2.8 0.7-1.4 2.1-1.2 0.7-1.3 6.1-6 2.1-1.2 0.6-1.4 0.7 0 3.3-4 3.9-3.1 11.6-11.9 8-7.3 2.5-3 1.7-0.9 0.7-1.6 1.2-0.4 3.6-4.2 1.7-1 3.5-3.9 1.1-0.6 1.8-2.6 7.4-6.3 2.8-3.8 1 0 5-5.6 7.5-6.7-0.1 1.2-84.6 82.7z" fill="url(#gc92)"/>
<path d="M527.1 237.9l1.4 1.2M535.4 229.8l1.4 1.6M543.4 222l1.4 1.5M551.2 214.6l1.4 1.8M558.9 207.3l1.3 1.1M566.3 199.9l1.3 1.8M573.6 192.6l1.3 1.8M580.6 185.9l1.3 1.5M587.5 179.2l1.3 1.3M594.3 172.5l1.3 0.9M600.9 166.3l1.2 1.5M607.3 160l1.2 1.8" stroke="#d8b0f0" stroke-width="0.6" fill="none" opacity="0.3"/>
<path d="M525.7 244.3l4.9-4.2 4.1-4.8 0.7 0 2.7-2.4 0.7-1.6 0.7 0 3.3-4 1.4-0.2 1.3-2.1 4.6-3.9 3.9-4.7 3.1-2.2 2.6-3.4 2.5-1.6 1.2-2.1 4.3-3.3 12.7-13.3 1.7-0.7 7.5-8.2 7.8-7.7 0.6 0.2 1.6-1.6 2.7-2.8 0.7-1.9 0.4 1 7-7.2-0.1 1.3-84.6 82.9z" fill="url(#gc93)"/>
<path d="M528.5 239.1l1.4 1.3M536.8 231.4l1.3 1.5M544.8 223.5l1.3 1.3M552.6 216.4l1.4 0M560.2 208.4l1.4 1.1M567.6 201.7l1.4 0.6M574.9 194.4l1.3 0.8M581.9 187.4l1.4 0.9M588.8 180.5l1.3 0.9M595.6 173.4l1.3 1.5M602.1 167.8l1.3 1M608.5 161.8l1.3 0.3" stroke="#d8b0f0" stroke-width="0.6" fill="none" opacity="0.3"/>
<path d="M527.1 244.1l2.1-1.5 3.5-4.1 1.4-0.7 2.7-3.3 10.7-10 0.7-1.2 11.6-10.8 1.3-1.8 1.2-0.6 6.2-6.8 1.2-0.5 4.9-5.4 1.2-0.5 2.4-2.6 1.2-2.7 0.6 0.5 0.6-0.5 0.7-3.2 1 1.9 2.9-3.6 2.9-2 6.3-6.8 3.3-2.5 0.6-2.4 0.5 0.9 2.2-2 0.7-3.3 0.4 2.4 2.7-3.3 6.9-6.2-0.1 1.9-84.5 83.1z" fill="url(#gc94)"/>
<path d="M529.9 240.4l1.4 0M538.1 232.9l1.4-0.9M546.1 224.8l1.4-0.3M554 216.4l1.3 0.2M561.6 209.5l1.3-0.2M569 202.3l1.3-0.2M576.2 195.2l1.4-0.7M583.3 188.3l1.4-0.7M590.1 181.4l1.4-0.4M596.9 174.9l1.4-1.9M603.4 168.8l1.4-1.1M609.8 162.1l1.4-0.2" stroke="#d8b0f0" stroke-width="0.6" fill="none" opacity="0.3"/>
<path d="M527.1 244.1l2.1-1.5 3.5-4.1 1.4-0.7 2.7-3.3 10.7-10 0.7-1.2 11.6-10.8 1.3-1.8 1.2-0.6 6.2-6.8 1.2-0.5 4.9-5.4 1.2-0.5 2.4-2.6 1.2-2.7 0.6 0.5 0.6-0.5 0.7-3.2 1 1.9 2.9-3.6 2.9-2 6.3-6.8 3.3-2.5 0.6-2.4 0.5 0.9 2.2-2 0.7-3.3 0.4 2.4 2.7-3.3 6.9-6.2" stroke="#d8b0f0" stroke-width="0.6" fill="none" opacity="0.3"/>
<path d="M528.5 243.9l5.6-5.8 0.7 0.2 1.3-2.2 1.4-0.5 2.1-2.9 5.3-4.6 11.2-11.6 0.6 0.2 0.7-1.4 8.8-8.7 1.2-0.6 0.7-1.2 3.6-2.9 10.3-10.8 2.3-1.5 0.6-1.2 2.3-1.7 0.6-1.6 2.8-1.8 1.7-1.8 1.3-3.1 0.5 1 1.6-1.4 0.6-1.1 2.2-1.5 0.6-1.8 0.5 0.5 1.7-1.4 8.7-9.1 3.1-2.3-0.2 2.7-84.4 83.3z" fill="url(#gc95)"/>
<path d="M531.3 240.4l1.4-0.7M539.5 232l1.4-0.1M547.5 224.5l1.4-0.7M555.3 216.6l1.4 0.1M562.9 209.3l1.4-0.4M570.3 202.1l1.4-0.2M577.6 194.5l1.4-0.1M584.7 187.6l1.3 0M591.5 181l1.4-0.5M598.3 173l1.3 1.1M604.8 167.7l1.4-0.3M611.2 161.9l1.4-0.6" stroke="#d8b0f0" stroke-width="0.6" fill="none" opacity="0.3"/>
<g opacity="0.85">
<path d="M392.8 60.6l133.9 54.9 95.7-74.2-126.2-39.4z" fill="#8a14ff"/>
<g clip-path="url(#clipc)">
<g filter="url(#bl0.6)">
<path d="M474.8 63.5l2.6-2.2 5.9-3.2 1.5-0.4 3.7 0.4 5.9 1.8 2.2 1.4 3 0.8 4.7 2.7 1.9 0.2 1.3 0.5 0.9 0.9 10.1 3.7 4.8 2.8 0.8 2-0.7 1.4-2.9 2.1-2.7 0.6-3.1 0-6.3-1.9-14.4-5.4-12-3.8-6.3-2.9-0.9-0.8 0-0.7zM519.7 39.3l10.4-6.8 3.7-1-3.7 3.3-2.6 1.8-0.6 1.1-2.2 0.6-7.2 3.8 2.2-2.8z" fill="#3101ff" fill-rule="evenodd"/>
<path d="M475.4 63.7l1.4-1.8 5-2.8 1.9-0.7 3.8 0.4 4.6 1.2 11.3 5.4 1.8 0.2 1.4 0.6 0.9 0.9 8.6 3.1 4.8 2.9 0.9 0.9 0.3 1.4-1.1 1.6-1.8 0.9-3.1 0.5-2.2-0.4-7.9-2.3-7-2.9-1.8-0.3-11.4-4.1-3.2-0.8-6.3-3-0.9-0.9zM529 34.4l0.4-0.1-0.7 0.5 0.3-0.4z" fill="#2020ff" fill-rule="evenodd"/>
<path d="M476 63.2l1.8-1.7 4.3-2.3 0.8-0.2 3.9 0.2 4.5 1.3 11.5 5.3 3.1 0.9 0.8 0.9 8.6 3.2 4.6 3 0.9 1.5-0.8 1.3-1.8 1-1.9 0.3-1.8-0.3-8-2.3-7.1-2.8-1.8-0.3-2.6-1.2-12-3.7-6.3-3-0.7-1.1z" fill="#0f3fff" fill-rule="evenodd"/>
<path d="M476.7 62.6l2-1.5 3.4-1.6 4.1 0.1 4.5 1.3 3.7 1.8 4.2 1.5 1 0.8 5.7 2.1 0.7 1 3.2 0.8 5.4 2.4 3.4 2.2 1.7 2.2-1.2 1.1-1.3 0.5-2.3-0.2-8.1-2-7-2.8-1.8-0.3-2.7-1.2-12-3.7-6.2-3-0.7-0.9 0.3-0.6z" fill="#005fff" fill-rule="evenodd"/>
<path d="M476.9 62.7l2-1.6 2.9-1.2 3.9 0 4.5 1.3 3.7 1.8 4.2 1.5 1 0.8 4.3 1.5 1.3 0.7 0.7 1 3.2 0.8 1.1 0.8 4.3 1.6 3.2 2.4 0.2 1.5-0.4 0.7-1.6 0.2-8.2-1.7-4.5-1.5-2.5-1.3-1.9-0.2-2.6-1.2-12.1-3.7-6.2-3-0.5-1.2z" fill="#008dff" fill-rule="evenodd"/>
<path d="M477.7 62.2l2.7-1.6 2.9-0.5 1.9 0.1 1.2 0.7 4.8 1 2.2 1.4 4.3 1.5 0.9 0.8 4.3 1.6 1.2 0.7 0.6 1 3.4 0.7 0.9 0.9 4.4 1.6 2.6 3-1 0.5-7.5-1-1.2-0.7-3.2-0.8-2.5-1.4-1.9-0.2-2.7-1.1-12.1-3.7-6.2-3-0.4-0.8 0.4-0.7z" fill="#00bbff" fill-rule="evenodd"/>
<path d="M478.5 61.8l1.8-0.9 2.5-0.5 1.9 0.1 1.1 0.7 5.1 1 0.7 0.9 5.7 2 0.9 0.8 1.7 0.4 0.8 0.9 1.8 0.3 1.6 1.9 3.5 0.6 0.7 1 3.3 0.8 1.8 1.5 0.1 0.9-1.6 0.5-4-0.4-1.1-0.7-3.4-0.8-2.3-1.4-2.1-0.1-2.7-1.2-12.2-3.5-2.2-1.4-3.9-1.7-0.1-1.2 0.6-0.5z" fill="#00e9ff" fill-rule="evenodd"/>
<path d="M478.3 62.5l1.3-1.1 2.8-0.7 1.9 0.1 1 0.8 5.2 0.8 0.6 1 5.8 1.9 0.9 0.9 1.7 0.3 0.7 1 1.8 0.3 0.8 0.9 0.4 1.3 3.8 0.4 0.6 1.1 3.4 0.7 0.5 0.4 0.1 0.8-3.2 0.6-1-0.9-3.5-0.6-0.8-1-1.4-0.6-2.3 0.2-2.7-1.2-1.9-0.2-8.6-3-1.9-0.3-2.1-1.4-3.9-1.7 0-0.8z" fill="#00ffde" fill-rule="evenodd"/>
<path d="M478.7 62.6l1.3-1.1 2-0.6 1.8 0.3 0.9 0.8 5.5 0.6 0.4 1.2 5.9 1.8 0.8 0.9 1.8 0.3 0.5 1.1 1.9 0.2 0.7 1.8-0.6 0.6-1.8 0.3-2.7-1.2-2-0.1-1.1-0.7-3.5-0.6-4-1.7-1.9-0.2-2.1-1.5-3.8-1.8 0-0.4zM504.3 71.5l0.8-0.5 1.1-0.1 0.2 0.6-0.6 0.6-1.3 0-0.2-0.6zM509.1 73.3l1-0.5-1 0.5z" fill="#00ff9e" fill-rule="evenodd"/>
<path d="M479.5 62.1l2-0.9 1.7 0.3 0.9 0.9 5.8 0.4 0.1 1.4 3.4 0.6 2.8 1 0.6 1.1 1.9 0.2 0 1.5 2.2 0 0 1.5-2.2-0.1-0.9-0.9-2.4 0.2-1-0.8-3.7-0.5-3.8-1.8-2.1-0.1-1.9-1.6-3.8-1.7 0.4-0.7z" fill="#00ff5e" fill-rule="evenodd"/>
<path d="M479.8 62.3l1-0.6 1.7 0.3 0.9 0.8 6.2 0.2 0.2 0.6-0.6 1 3.8 0.5 2.8 1 0.3 0.7-0.2 0.7 2.4 0.1-0.3 0.7-0.7 0.5-1.5 0.2-0.6-1-1.8 0.2-2.4-0.4-3.7-1.9-2.3 0.1-1.7-1.7-3.5-2z" fill="#00ff13" fill-rule="evenodd"/>
<path d="M484.3 64.7l-0.1-0.8 0.7-0.5 4.3-0.2-0.6 1.6-1.8 0.9-1.5 0.1-1-1.1zM488.9 65.7l1-0.4 2.5 0.2 2.7 1-0.1 0.7-0.9 0.5-2.6-0.2-2.6-1.8z" fill="#4dff00" fill-rule="evenodd"/>
<path d="M485.2 64.3l0.7-0.6 2.9-0.2-0.6 1.1-1.9 0.9-1-0.4-0.1-0.8z" fill="#afff00" fill-rule="evenodd"/>
<path d="M486.1 64.6l0.7-0.5 1.5-0.2-1.2 1.1-0.9 0.2-0.1-0.6z" fill="#fff500" fill-rule="evenodd"/>
</g>
</g></g>
<path d="M410.4 184.1L392.8 60.6" stroke="#3a3a3a" stroke-width="1.0" fill="none"/>
<path d="M409.1 175.1L405.9 175.4" stroke="#3a3a3a" stroke-width="0.9" fill="none"/>
<path d="M405.9 152.5L402.7 152.8" stroke="#3a3a3a" stroke-width="0.9" fill="none"/>
<path d="M402.5 128.7L399.3 129" stroke="#3a3a3a" stroke-width="0.9" fill="none"/>
<path d="M398.9 103.6L395.7 103.9" stroke="#3a3a3a" stroke-width="0.9" fill="none"/>
<path d="M395.2 77.3L392 77.6" stroke="#3a3a3a" stroke-width="0.9" fill="none"/>
<path d="M410.4 184.1L528.5 247.3" stroke="#5c5c34" stroke-width="1.2" fill="none"/>
<path d="M528.5 247.3L612.9 164" stroke="#5c5c34" stroke-width="1.2" fill="none"/>
<path d="M416.6 187.5L413 190.2" stroke="#3a3a3a" stroke-width="0.9" fill="none"/>
<path d="M452.6 206.7L449.1 209.6" stroke="#3a3a3a" stroke-width="0.9" fill="none"/>
<path d="M491.5 227.5L488 230.6" stroke="#3a3a3a" stroke-width="0.9" fill="none"/>
<path d="M434.3 196.9L432.4 198.4" stroke="#3a3a3a" stroke-width="0.8" fill="none"/>
<path d="M471.7 216.9L469.8 218.4" stroke="#3a3a3a" stroke-width="0.8" fill="none"/>
<path d="M512 238.5L510.3 240.1" stroke="#3a3a3a" stroke-width="0.8" fill="none"/>
<path d="M537.2 238.7L541.9 241.1" stroke="#3a3a3a" stroke-width="0.9" fill="none"/>
<path d="M555.6 220.5L560.2 222.8" stroke="#3a3a3a" stroke-width="0.9" fill="none"/>
<path d="M573 203.4L577.5 205.5" stroke="#3a3a3a" stroke-width="0.9" fill="none"/>
<path d="M589.3 187.3L593.8 189.3" stroke="#3a3a3a" stroke-width="0.9" fill="none"/>
<path d="M604.8 172L609.2 173.9" stroke="#3a3a3a" stroke-width="0.9" fill="none"/>
<path d="M546.6 229.5L548.9 230.7" stroke="#3a3a3a" stroke-width="0.8" fill="none"/>
<path d="M564.4 211.8L566.8 213" stroke="#3a3a3a" stroke-width="0.8" fill="none"/>
<path d="M581.3 195.2L583.6 196.3" stroke="#3a3a3a" stroke-width="0.8" fill="none"/>
<path d="M597.2 179.5L599.4 180.5" stroke="#3a3a3a" stroke-width="0.8" fill="none"/>
<text transform="translate(392.9 188.5) rotate(-28.0) skewX(-15.0) scale(1.000 0.950)" font-size="9.6" text-anchor="middle" dominant-baseline="central" fill="#000" stroke="#000" stroke-width="0.12">4.0x10<tspan font-size="6.1" dy="-4.3">4</tspan></text>
<text transform="translate(389.8 166.1) rotate(-28.0) skewX(-15.0) scale(1.000 0.950)" font-size="9.6" text-anchor="middle" dominant-baseline="central" fill="#000" stroke="#000" stroke-width="0.12">4.5x10<tspan font-size="6.1" dy="-4.3">4</tspan></text>
<text transform="translate(383.9 145) rotate(-28.0) skewX(-15.0) scale(1.000 0.950)" font-size="9.6" text-anchor="middle" dominant-baseline="central" fill="#000" stroke="#000" stroke-width="0.12">5.0x10<tspan font-size="6.1" dy="-4.3">4</tspan></text>
<text transform="translate(380 118.1) rotate(-28.0) skewX(-15.0) scale(1.000 0.950)" font-size="9.6" text-anchor="middle" dominant-baseline="central" fill="#000" stroke="#000" stroke-width="0.12">5.5x10<tspan font-size="6.1" dy="-4.3">4</tspan></text>
<text transform="translate(378 90.6) rotate(-28.0) skewX(-15.0) scale(1.000 0.950)" font-size="9.6" text-anchor="middle" dominant-baseline="central" fill="#000" stroke="#000" stroke-width="0.12">6.0x10<tspan font-size="6.1" dy="-4.3">4</tspan></text>
<text transform="translate(407.9 195.4) rotate(-40.0) scale(1.000 0.900)" font-size="9.5" text-anchor="middle" dominant-baseline="central" fill="#000" stroke="#000" stroke-width="0.3">-10</text>
<text transform="translate(446.4 212.5) rotate(-40.0) scale(1.000 0.900)" font-size="9.5" text-anchor="middle" dominant-baseline="central" fill="#000" stroke="#000" stroke-width="0.3">0</text>
<text transform="translate(485 235) rotate(-40.0) scale(1.000 0.900)" font-size="9.5" text-anchor="middle" dominant-baseline="central" fill="#000" stroke="#000" stroke-width="0.3">10</text>
<text transform="translate(550.1 247.3) rotate(37.0) scale(1.000 0.900)" font-size="9.5" text-anchor="middle" dominant-baseline="central" fill="#000" stroke="#000" stroke-width="0.3">-20</text>
<text transform="translate(563.1 225.3) rotate(37.0) scale(1.000 0.900)" font-size="9.5" text-anchor="middle" dominant-baseline="central" fill="#000" stroke="#000" stroke-width="0.3">0</text>
<text transform="translate(582.2 209.2) rotate(37.0) scale(1.000 0.900)" font-size="9.5" text-anchor="middle" dominant-baseline="central" fill="#000" stroke="#000" stroke-width="0.3">20</text>
<text transform="translate(598.3 193.1) rotate(37.0) scale(1.000 0.900)" font-size="9.5" text-anchor="middle" dominant-baseline="central" fill="#000" stroke="#000" stroke-width="0.3">40</text>
<text transform="translate(613.3 178.1) rotate(37.0) scale(1.000 0.900)" font-size="9.5" text-anchor="middle" dominant-baseline="central" fill="#000" stroke="#000" stroke-width="0.3">60</text>
<text transform="translate(449 234.5) rotate(30.0) scale(1.040 1.000)" font-size="10" text-anchor="middle" dominant-baseline="central" fill="#000" stroke="#000" stroke-width="0.2">Vertical position (mm)</text>
<text transform="translate(602.8 218.2) rotate(-40.0) scale(0.970 1.000)" font-size="10" text-anchor="middle" dominant-baseline="central" fill="#000" stroke="#000" stroke-width="0.2">Time (ns)</text>
<text transform="translate(359.9 152) rotate(75.6)" font-size="10" text-anchor="middle" dominant-baseline="central" fill="#000" stroke="#000" stroke-width="0.2">Intensity (arb. units)</text>
<text x="343.2" y="18.6" font-size="14.7">(c) off resonance</text>
<rect x="634.8" y="34.1" width="21.9" height="1.9" fill="#a9c4c4"/>
<rect x="634.8" y="36" width="21.9" height="136.9" fill="url(#cbc)"/>
<rect x="634.8" y="172.9" width="21.9" height="1.6" fill="#111"/>
<rect x="634.8" y="34.1" width="21.9" height="140.4" fill="none" stroke="#8a8a8a" stroke-width="0.8"/>
<path d="M656.7 36.4L659.7 36.4" stroke="#555" stroke-width="0.9" fill="none"/>
<text transform="translate(663 37.4)" font-size="10" text-anchor="start" dominant-baseline="central" fill="#000">5.6x10<tspan font-size="6.4" dy="-4.5">4</tspan></text>
<path d="M656.7 63.8L659.7 63.8" stroke="#555" stroke-width="0.9" fill="none"/>
<text transform="translate(663 64.8)" font-size="10" text-anchor="start" dominant-baseline="central" fill="#000">5.2x10<tspan font-size="6.4" dy="-4.5">4</tspan></text>
<path d="M656.7 91.1L659.7 91.1" stroke="#555" stroke-width="0.9" fill="none"/>
<text transform="translate(663 92.1)" font-size="10" text-anchor="start" dominant-baseline="central" fill="#000">4.8x10<tspan font-size="6.4" dy="-4.5">4</tspan></text>
<path d="M656.7 118.5L659.7 118.5" stroke="#555" stroke-width="0.9" fill="none"/>
<text transform="translate(663 119.5)" font-size="10" text-anchor="start" dominant-baseline="central" fill="#000">4.5x10<tspan font-size="6.4" dy="-4.5">4</tspan></text>
<path d="M656.7 145.8L659.7 145.8" stroke="#555" stroke-width="0.9" fill="none"/>
<text transform="translate(663 146.8)" font-size="10" text-anchor="start" dominant-baseline="central" fill="#000">4.1x10<tspan font-size="6.4" dy="-4.5">4</tspan></text>
<path d="M656.7 173.2L659.7 173.2" stroke="#555" stroke-width="0.9" fill="none"/>
<text transform="translate(663 174.2)" font-size="10" text-anchor="start" dominant-baseline="central" fill="#000">3.7x10<tspan font-size="6.4" dy="-4.5">4</tspan></text>
<path d="M408.8 457.7L500 389" stroke="#cfcfcf" stroke-width="0.8" fill="none"/>
<path d="M500 389L612.8 437" stroke="#cfcfcf" stroke-width="0.8" fill="none"/>
<path d="M405.6 434.2L499.1 367" stroke="#cfcfcf" stroke-width="0.8" fill="none"/>
<path d="M499.1 367L614.6 413.7" stroke="#cfcfcf" stroke-width="0.8" fill="none"/>
<path d="M402.2 409.5L498.3 343.9" stroke="#cfcfcf" stroke-width="0.8" fill="none"/>
<path d="M498.3 343.9L616.5 389.2" stroke="#cfcfcf" stroke-width="0.8" fill="none"/>
<path d="M398.7 383.5L497.3 319.8" stroke="#cfcfcf" stroke-width="0.8" fill="none"/>
<path d="M497.3 319.8L618.5 363.5" stroke="#cfcfcf" stroke-width="0.8" fill="none"/>
<path d="M394.9 356.2L496.4 294.6" stroke="#cfcfcf" stroke-width="0.8" fill="none"/>
<path d="M496.4 294.6L620.6 336.4" stroke="#cfcfcf" stroke-width="0.8" fill="none"/>
<path d="M419.3 460L403.2 332.6" stroke="#cfcfcf" stroke-width="0.8" fill="none"/>
<path d="M438.8 445L425.7 319.5" stroke="#cfcfcf" stroke-width="0.8" fill="none"/>
<path d="M457.2 430.9L447 307.1" stroke="#cfcfcf" stroke-width="0.8" fill="none"/>
<path d="M474.8 417.4L467 295.5" stroke="#cfcfcf" stroke-width="0.8" fill="none"/>
<path d="M491.5 404.6L485.9 284.5" stroke="#cfcfcf" stroke-width="0.8" fill="none"/>
<path d="M506.3 400.4L502.5 280.9" stroke="#cfcfcf" stroke-width="0.8" fill="none"/>
<path d="M540.7 415.3L541 293.2" stroke="#cfcfcf" stroke-width="0.8" fill="none"/>
<path d="M577.4 431.3L582.4 306.6" stroke="#cfcfcf" stroke-width="0.8" fill="none"/>
<path d="M500.3 397.8L495.8 278.7" stroke="#9a9a9a" stroke-width="0.8" fill="none"/>
<path d="M612.1 446.3L621.9 319.2" stroke="#bdbdbd" stroke-width="0.8" fill="none" stroke-dasharray="3 1.5"/>
<path d="M528.1 531.6L526.5 395.2" stroke="#cdcdcd" stroke-width="0.8" fill="none" stroke-dasharray="3 1.5"/>
<path d="M410.1 467L500.3 397.8" stroke="#bdbdbd" stroke-width="0.8" fill="none"/>
<path d="M500.3 397.8L612.1 446.3" stroke="#bdbdbd" stroke-width="0.8" fill="none"/>
<path d="M410.1 467l118 64.6 84-85.3-111.8-48.5z" fill="#6400ff"/>
<path d="M409.4 462.3l11-8.6 2.9-1.5 0.7-1.3 2.1-1.8 7.7-5.5 2.2-0.9 2.7-2.9 0.8 0.9 2.8-1.7 11.9-9.8 1.4 0.1 1.2-2 2-0.9 3.2-3 1.3-0.4 2.5-2.4 1.3-0.1 0.6-1.5 9.4-6.6 0.4-2.8 1.4 1.6 0.6-1.1 0.6 0.3 8.4-7 1.2-1.3 0.5-1.9 0.7 1.5 0.6-0.2 6.9-5.8 1.8-0.7 0.1 2.8-90.2 69.2z" fill="url(#gd0)"/>
<path d="M410.7 463.7l8.7-7 2.3-1.1 2-2.2 5.1-3.2 0.6-1.3 2.2-0.8 8.3-6.6 1.5 0.1 1.3-1.4 0.7-0.1 4-3.9 4.1-2 0.6-1.3 1.3-0.5 1.9-2 9.8-6.8 1.2-1.6 3.8-2.4 1.3-1.1 0.3-4.6 0.9 3.3 0.6-0.1 9.8-7.9 2.5-1.3 0.5-0.9 7.2-4.9 0.5-2.1 0.6 0.9 1.2-1.1 0.6 0.4 0.5-1.1 4.7-3.2 0 2.4-90.1 69.4z" fill="url(#gd1)"/>
<path d="M413.9 459.1l1.2 1.1M422.6 452.2l1.1 1.2M431.1 445.8l1.2 1.8M439.5 440.7l1.1 0.9M447.6 434.7l1.1 0.8M455.6 429.3l1.1 0.3M463.3 423l1.1 0.6M470.9 417.3l0.8-3.4M478.3 411l1.1 1.3M485.5 406l1.1 0.6M492.6 400.4l1.1-0.4M499.6 395.1l1.1 1.4" stroke="#d8b0f0" stroke-width="0.6" fill="none" opacity="0.3"/>
<path d="M412 465.7l6.6-4.5 2.1-2.6 0.8 0.2 2.8-2.7 2.2-1 1.4-2 3.5-2.1 2.8-2.8 2.1-0.8 3.4-3.4 2.2-0.3 5.3-4.8 0.8 0.2 1.2-1.8 2.1-0.7 7.8-6.5 0.7 0.1 5.8-5.2 2.5-1.4 1.2-1.7 0.7 0 7.5-5.6 0.6-1.1 1.2-0.1 2.4-2.6 7.9-5.6 0.5-1.9 0.6 1 0.6-0.3 2.4-2.3 4.6-3.1 0.5-2.6 0.7 1.5 1.7-1.9 1.2-0.3 0 1.7-90.1 69.6z" fill="url(#gd2)"/>
<path d="M415.1 460.2l1.3 2.2M423.7 453.4l1.3 2.3M432.3 447.6l1.2 1.5M440.6 441.6l1.3 2.1M448.7 435.5l1.3 1.9M456.7 429.6l1.2 1.8M464.4 423.6l1.2 1.4M471.7 413.9l1.4 5.6M479.4 412.3l1.1 1.5M486.6 406.6l1.2 1.8M493.7 400l1.1 2.5M500.7 396.5l1.1 0.7" stroke="#d8b0f0" stroke-width="0.6" fill="none" opacity="0.3"/>
<path d="M413.1 466.4l13.1-10.1 0.7 0 3.5-3.3 0.8 0.3 0.6-1.5 7.7-5.2 0.7-1.2 1.4-0.2 2-2 1.4-0.3 6.7-5.9 2-0.8 1.3-1.6 1.4-0.3 1.9-2.5 7.1-4.8 0.6-0.7 0.4-4.4 0.9 3 0.7 0.1 0.5-1.2 1.4-0.2 8.7-7 0.6 0.2 0.6-1.4 2.4-1.3 0.6-1.2 0.7 0.3 1.7-2 1.3-0.3 1.1-2 1.3-0.1 14.5-11.2 0.1 1.6-90.1 69.7z" fill="url(#gd3)"/>
<path d="M416.4 462.4l1.1 0.5M425 455.7l1.2 0.6M433.5 449.1l1.2 1.1M441.9 443.7l1 0M450 437.4l1 0.4M457.9 431.4l1 0.2M465.6 425l0.8-3.1M473.1 419.5l1.1 0.7M480.5 413.8l1.1 0.3M487.8 408.4l1.1 0.4M494.8 402.5l1.1 0.8M501.8 397.2l1 0.4" stroke="#d8b0f0" stroke-width="0.6" fill="none" opacity="0.3"/>
<path d="M414.2 467.3l4.4-3.9 2.3-0.8 3.5-3.4 1.5-0.6 3.5-3.6 8.5-5.8 0.6-1.3 0.8 0.2 3.4-2.9 0.7 0.2 4-3.9 3.4-2 1.3-1.6 1.4-0.4 2.6-2.5 0.7 0.1 7.1-5.7 0.6-1 2.6-1.4 5.1-4.6 0.6 0.3 1.2-1.5 1.4-0.1 1.8-2.3 4.9-3.4 1.1-2.4 1.3 0.9 0.6-1.1 4.8-4 0.4-4.3 0.8 3.6 0.6-0.1 1.2-1.5 1.2-0.3 1.1-1.6 1.8-0.7 1.7-1.7 0.5-3.5 0.7 2.8 4.6-3.5 0.1 1.7-90.1 69.8z" fill="url(#gd4)"/>
<path d="M417.5 462.9l1.1 0.5M426.2 456.3l1.1 0.7M434.7 450.2l1.1 0.4M442.9 443.7l1.2 0.9M451 437.8l1.1 0.1M458.9 431.6l1.1 0.6M466.4 421.9l1.3 4.2M474.2 420.2l1.2 0.9M481.6 414.1l1.1 0.3M488.9 408.8l1 0M495.9 403.3l1.1 0.6M502.8 397.6l1.1 0.5" stroke="#d8b0f0" stroke-width="0.6" fill="none" opacity="0.3"/>
<path d="M414.2 467.3l4.4-3.9 2.3-0.8 3.5-3.4 1.5-0.6 3.5-3.6 8.5-5.8 0.6-1.3 0.8 0.2 3.4-2.9 0.7 0.2 4-3.9 3.4-2 1.3-1.6 1.4-0.4 2.6-2.5 0.7 0.1 7.1-5.7 0.6-1 2.6-1.4 5.1-4.6 0.6 0.3 1.2-1.5 1.4-0.1 1.8-2.3 4.9-3.4 1.1-2.4 1.3 0.9 0.6-1.1 4.8-4 0.4-4.3 0.8 3.6 0.6-0.1 1.2-1.5 1.2-0.3 1.1-1.6 1.8-0.7 1.7-1.7 0.5-3.5 0.7 2.8 4.6-3.5" stroke="#d8b0f0" stroke-width="0.6" fill="none" opacity="0.3"/>
<path d="M415.3 467.8l3.7-2.9 0.8 0.1 0.7-1.1 5.1-3.6 0.6-1.2 2.3-0.8 7-6.2 8.3-6.2 0.7 0.1 2.7-3 0.7 0.3 6-5.1 2.7-1.5 7.8-6.7 0.7 0.2 3.7-3.7 0.7 0.1 4.4-3.9 5-3.2 5.5-5.2 0.6 0.3 6.6-5.8 1.8-0.7 12.2-9.8 0 1.8-90 70z" fill="url(#gd5)"/>
<path d="M418.6 463.4l1.2 1.6M427.3 457l1.2 1.3M435.8 450.6l1.1 0.8M444.1 444.6l1 0.2M452.1 437.9l1.1 1M460 432.2l1.1 0.6M467.7 426.1l1.1 0.4M475.4 421.1l1 0.1M482.7 414.4l1.1 0.5M489.9 408.8l1.1 0.9M497 403.9l1.1 0.3M503.9 398.1l1.1 0.9" stroke="#d8b0f0" stroke-width="0.6" fill="none" opacity="0.3"/>
<path d="M416.5 468.5l1.5-0.6 0.7-1.2 0.8 0.2 11.5-9.8 3.6-1.7 0.6-1.4 1.5-0.3 1.3-2.1 3.5-1.9 3.4-3.3 2.8-1.3 0.6-1.3 2.8-1.2 0.6-1.2 0.7 0.2 13.1-11.1 1.3-0.4 3.8-3.3 3.2-1.7 1.8-2.6 0.7 0.4 2.4-2.3 1.9-0.9 4.3-4.1 3-1.7 1.8-1.6 0.5-3.9 0.7 2.8 11.7-9.3 1.2-0.2 2.8-3.1 0.1 2-89.9 70.1z" fill="url(#gd6)"/>
<path d="M419.8 465l1.2 0.7M428.5 458.3l1.1 0.4M436.9 451.4l1.1 0.2M445.1 444.8l1.2 0.9M453.2 438.9l1.2 0.7M461.1 432.8l1.1 0.5M468.8 426.5l1.2 0.8M476.4 421.2l1.1 0.5M483.8 414.9l1.1 0.7M491 409.7l1.1 0.6M498.1 404.2l1.1 0.7M505 399l1.1 0.5" stroke="#d8b0f0" stroke-width="0.6" fill="none" opacity="0.3"/>
<path d="M417.6 468.9l4.4-3.2 0.7-1.1 1.5-0.5 4.4-3.2 1.3-2 1.5-0.3 1.4-1.5 0.8 0.3 2.6-3.5 2.9-2.1 0.7 0.1 5.5-5 2.1-0.9 6-5 1.4-0.5 3.2-3.7 2.7-1 3.3-2.4 0.6-1.1 15.2-11.5 3.1-3.1 0.6 0 0.4-3.5 0.8 2.5 2.5-1.7 0.5-1.6 1.3 0.6 1.2-1.7 2.4-1.4 0.5-1.8 0.7 0.8 4.1-3.5 1.8-0.7 2.3-2.9 0.4-3.3 0.7 2.8 4.6-3.6 0.1 2.4-89.9 70.2z" fill="url(#gd7)"/>
<path d="M421 465.7l1 0M429.6 458.7l1.1 0.2M438 451.6l1.1 0.2M446.3 445.7l1.1 0.3M454.4 439.6l1-0.3M462.2 433.3l1.2 0.6M470 427.3l1.1 0.6M477.5 421.7l1.1-0.2M484.9 415.6l1-0.1M492.1 410.3l1-1.2M499.2 404.9l1-0.4M506.1 399.5l1-0.2" stroke="#d8b0f0" stroke-width="0.6" fill="none" opacity="0.3"/>
<path d="M418.6 468.8l15.2-12.2 0.7 0 7-6.3 1.4-0.2 4.1-3.9 1.4-0.4 2.7-2.7 1.4-0.4 2.6-2.7 1.4-0.2 1.9-2.4 0.8 0.2 1.9-2.3 3.3-1.8 2.5-2.6 0.7 0.2 12.6-10.5 1.3-0.3 1.2-1.8 19.2-14 6.9-6.2 0.1 3.2-89.9 70.4z" fill="url(#gd8)"/>
<path d="M422 465.7l1-0.2M430.7 458.9l1-0.5M439.1 451.8l1 0.2M447.4 446l1-0.2M455.4 439.3l1.1 0.5M463.4 433.9l1-0.4M471.1 427.9l1-0.5M478.6 421.5l1 0M485.9 415.5l1.1-0.1M493.1 409.1l1.1 1.1M500.2 404.5l1.1 0M507.1 399.3l1.1-0.4" stroke="#d8b0f0" stroke-width="0.6" fill="none" opacity="0.3"/>
<path d="M419.7 468.9l5.1-4 0.8 0 1.4-1.8 6.5-4.7 1.3-1.8 4.4-2.5 2-2.4 1.4-0.6 6.2-5 0.7 0 0.6-1.2 8.8-6.3 7.2-6.2 2.6-1.3 3.2-3.3 5.1-3.2 1.2-1.7 0.6 0.2 1.9-2 1.9-0.9 3-3.2 5.5-3.5 0.6-1 1.8-0.8 6.5-5.9 4.1-2.5 3.4-3.4 0.5-3.6 0.7 3.3 1.1-0.8 0.1 3.2-89.8 70.6z" fill="url(#gd9)"/>
<path d="M423 465.5l1.1 0M431.7 458.4l1 0M440.1 452l1.1-0.3M448.4 445.8l1.1 0.3M456.5 439.8l1-0.5M464.4 433.5l1-0.6M472.1 427.4l1.1-0.1M479.6 421.5l1.1-0.4M487 415.4l1.1 0.3M494.2 410.2l1.1-0.3M501.3 404.5l1.1 0.1M508.2 398.9l1.1 0.1" stroke="#d8b0f0" stroke-width="0.6" fill="none" opacity="0.3"/>
<path d="M420.8 469.7l4.5-3.1 1.4-1.7 0.8 0.1 0.6-1.2 0.8 0.2 5-4.8 2.9-1.4 0.6-1.3 7.1-4.7 14.8-12.4 9.2-6.5 2.6-2.6 1.9-0.8 0.6-1.3 0.7 0.2 3.1-3.3 3.8-2 0.6-1.3 0.7 0.2 1.2-1.6 6.1-4 3.6-3.6 17.5-13.4 0.1 3.1-89.7 70.7z" fill="url(#gd10)"/>
<path d="M424.1 465.5l1.2 1.1M432.7 458.4l1.2 0.8M441.2 451.7l1.2 1.3M449.5 446.1l1.1 0.2M457.5 439.3l1.2 0.9M465.4 432.9l1.2 1.4M473.2 427.3l1.1 1.1M480.7 421.1l1.1 0.7M488.1 415.7l1.1 0.8M495.3 409.9l1.1 0.8M502.4 404.6l1.1 0.6M509.3 399l1.1 1" stroke="#d8b0f0" stroke-width="0.6" fill="none" opacity="0.3"/>
<path d="M422.1 471l13-10.3 0.8-0.1 4.1-4 1.5-0.5 1.3-1.8 4.3-2.4 12.1-10.3 2-1 2.6-2.7 0.7 0 3.2-3 1.3-0.4 3.9-3.8 1.9-0.9 0.4-3.8 0.9 2.6 1.9-1.2 6.8-5.3 0.6-1.1 0.7 0.3 4.2-4.1 2.5-1.3 5.3-4.9 1.8-0.7 12.1-9.7 0.1 2.4-89.7 70.8z" fill="url(#gd11)"/>
<path d="M425.3 466.6l1.1 0.6M433.9 459.2l1.2 1.5M442.4 453l1.1 1M450.6 446.3l1.2 1.2M458.7 440.2l1.2 1.3M466.6 434.3l1.1 0.6M474.3 428.4l0.9-2.4M481.8 421.8l1.2 1.9M489.2 416.5l1.1 0.7M496.4 410.7l1.1 0.9M503.5 405.2l1.1 1.2M510.4 400l1.1 1.2" stroke="#d8b0f0" stroke-width="0.6" fill="none" opacity="0.3"/>
<path d="M423.2 471.6l3-1.7 6.5-5.7 0.8 0 7-6.2 2.9-1.5 10.2-8.8 1.4-0.3 2.6-3.2 2.1-0.9 8.6-6.3 7.6-6.9 2.6-1.4 5.6-5 5.5-3.7 4.8-4.4 0.7 0.1 3.5-3.6 1.8-0.7 2.9-2.9 1.8-0.7 0.6-1.1 0.6 0.2 3.4-3.5 2.3-1 1.1-1.2 0.1 2.2-89.7 71z" fill="url(#gd12)"/>
<path d="M426.4 467.2l1.3 1.5M435.1 460.7l1.2 1M443.5 454l1.2 1M451.8 447.5l1.2 1.1M459.9 441.5l1.1 0.6M467.7 434.9l1.2 1.4M475.2 426l1.3 3.6M483 423.7l1.1 0M490.3 417.2l1.1 1.1M497.5 411.6l1.1 0.5M504.6 406.4l1.1 0.3M511.5 401.2l1.1 0.4" stroke="#d8b0f0" stroke-width="0.6" fill="none" opacity="0.3"/>
<path d="M424.3 472.2l5.2-3.6 14.9-12.4 2.8-1.6 1.3-1.9 0.8 0.2 3.4-3 0.7 0 2.6-3.1 0.8 0.2 5.3-4.8 2.7-1.3 4.5-4.7 0.7 0.3 3.9-3 1.2-1.6 4.5-2.9 0.6-1.2 0.6 0.1 4.4-3.9 0.6 0.1 1.2-1.5 3.7-2.3 4.8-4.6 1.9-0.6 1.1-1.8 1.2-0.4 1.2-1.5 1.2-0.2 1.7-1.9 1.8-0.6 1.2-1.6 7.4-5.6 0.1 2.4-89.6 71.1z" fill="url(#gd13)"/>
<path d="M427.7 468.7l1.1 0.4M436.3 461.7l1.1 0.2M444.7 455l1.1 0.5M453 448.6l1.1 0.3M461 442.1l1.1 0.1M468.9 436.3l1.1 0.2M476.5 429.6l1.1 0.4M484.1 423.7l1.1 0.3M491.4 418.3l1.1 0M498.6 412.1l1.1 0.8M505.7 406.7l1.1 0.4M512.6 401.6l1.1 0.3" stroke="#d8b0f0" stroke-width="0.6" fill="none" opacity="0.3"/>
<path d="M424.3 472.2l5.2-3.6 14.9-12.4 2.8-1.6 1.3-1.9 0.8 0.2 3.4-3 0.7 0 2.6-3.1 0.8 0.2 5.3-4.8 2.7-1.3 4.5-4.7 0.7 0.3 3.9-3 1.2-1.6 4.5-2.9 0.6-1.2 0.6 0.1 4.4-3.9 0.6 0.1 1.2-1.5 3.7-2.3 4.8-4.6 1.9-0.6 1.1-1.8 1.2-0.4 1.2-1.5 1.2-0.2 1.7-1.9 1.8-0.6 1.2-1.6 7.4-5.6" stroke="#d8b0f0" stroke-width="0.6" fill="none" opacity="0.3"/>
<path d="M425.5 473.4l0.8-0.2 1.4-2.1 7.3-5 0.7-1.2 2.2-1.1 2.7-2.8 2.9-1.4 0.7-1.2 6.9-5.2 4.8-4.4 2.7-1.5 2.6-2.8 1.4-0.3 2-2.2 2-1 6.4-5.5 0.7 0.1 6.3-5.8 10.6-7.8 10.2-8.9 0.6 0.2 0.5-4 0.7 2.8 0.6-0.2 3.5-3.4 1.8-0.6 2.3-2.6 4.5-3.2 0.1 2.3-89.6 71.3z" fill="url(#gd14)"/>
<path d="M428.8 469.1l1.1 0.7M437.4 461.9l1.1 0.9M445.8 455.5l1.2 0.9M454.1 448.9l1.1 0.6M462.1 442.2l1.2 1.4M470 436.5l1.1 0.8M477.6 430l1.2 0.9M485.2 424l1.1 1M492.5 418.3l1.1 0.8M499.7 412.9l1.1 0.2M506.8 407.1l1.1 1M513.7 401.9l1.1 0.8" stroke="#d8b0f0" stroke-width="0.6" fill="none" opacity="0.3"/>
<path d="M426.6 473.5l2.3-0.9 1.4-1.8 2.2-1.9 1.5-0.5 3.5-3.7 1.5-0.3 0.7-1.2 2.9-1.6 1.3-2 10.4-7.3 0.6-1.5 1.5-0.2 6.6-5.7 0.8 0.1 0.6-1.4 14.2-11.2 0.7 0.4 0.6-1.7 0.7 0.1 10.5-8.5 0.6-1.4 1.2-0.2 3.7-2.5 1.2-1.3 0.5-1.9 0.7 1.2 1.2-1.6 1.8-0.8 2.3-2.2 0.6-1.3 0.6 0.7 2.3-1.5 1.8-2.2 6.8-5.1 0.1 2.2-89.5 71.5z" fill="url(#gd15)"/>
<path d="M429.9 469.8l1.1 0.4M438.5 462.8l1.2 0.4M447 456.4l1.1 0.5M455.2 449.5l1.2 1.1M463.3 443.6l1.1 0M471.1 437.3l1.1 0.3M478.8 430.9l1.1 0.2M486.3 425l1.1 0.5M493.6 419.1l1.2 0.7M500.8 413.1l1.2 1.1M507.9 408.1l1.1 0.2M514.8 402.7l1.1 0.2" stroke="#d8b0f0" stroke-width="0.6" fill="none" opacity="0.3"/>
<path d="M427.8 474.6l2.3-1.2 3.5-3.9 4.4-2.6 2.8-3.1 2.9-1.6 4.9-4.3 9.6-7 2.6-2.9 2.1-0.9 3.2-3.5 4-2.3 3.9-3.1 1.3-1.8 1.3-0.2 3.8-3.7 0.7 0.2 3.1-3 1.3-0.4 1.2-1.8 1.2-0.4 3.7-3.5 0.6-2 0.6 1.1 3.1-2 6-4.8 1.1-2.3 1.3 0.4 1.7-1.7 0.6 0.1 5.2-5 5.7-3.9 0.1 1.8-89.5 71.6z" fill="url(#gd16)"/>
<path d="M431 470.2l1.3 1.2M439.7 463.2l1.1 0.6M448.1 456.9l1.2 0.8M456.4 450.6l1.1 0.7M464.4 443.6l1.1 1M472.2 437.6l1.2 0.7M479.9 431.1l1.2 1.6M487.4 425.5l1.2 1M494.8 419.8l1.1 0.9M502 414.2l1-0.6M509 408.3l1.1 0.6M515.9 402.9l1.1 0.9" stroke="#d8b0f0" stroke-width="0.6" fill="none" opacity="0.3"/>
<path d="M429.1 476.1l15.7-13.3 2.2-0.9 4.2-3.7 0.7 0 0.6-1.5 0.8 0.4 1.3-2.1 0.7 0.1 0.6-1.2 4.8-3.7 0.7 0.2 0.6-1.2 5.3-4.3 10.5-7.7 0.6-1.2 1.9-0.6 0.6-1.4 12.5-9.4 1.2-1.6 1.2-0.5 1.1-3.3 0.7 1.7 1.2-0.8 8.9-7.4 2.4-1.3 2.3-2.8 6.2-4.3 0.1 1.5-89.4 71.7z" fill="url(#gd17)"/>
<path d="M432.3 471.4l1.2 1M440.8 463.8l1.2 1.6M449.3 457.7l1.2 1.2M457.5 451.3l1.2 0.9M465.5 444.6l1.2 0.9M473.4 438.3l1.1 0.9M481.1 432.7l1.1 0.6M488.6 426.5l1.1 1M495.9 420.7l1-1.5M503 413.6l1.2 2.1M510.1 408.9l1.1 0.9M517 403.8l1.1 1.1" stroke="#d8b0f0" stroke-width="0.6" fill="none" opacity="0.3"/>
<path d="M430.1 475.8l0.9 0.3 3.5-3.5 2.3-1.2 1.4-1.8 0.8 0.2 14.7-12.4 4.1-2.5 1.3-1.8 8.7-7.1 0.7-0.5 0.7 0.3 0.6-1.6 0.7 0.4 0.6-1.4 1.4 0 5.1-4.9 0.7 0.1 5.7-5.2 3.1-1.8 0.6-1.4 0.7 0 0.5-2 0.7 1.1 6.1-5.1 0.5-3.7 0.8 3.2 1.1-3.8 0.7 2 1.1-1.5 2.5-1.1 1.1-1.5 12.3-9.5 1.1-1.2 0.5-2.4 0.6 1.4 1.7-1.3 0.1 1.7-89.4 71.9z" fill="url(#gd18)"/>
<path d="M433.5 472.4l1 0.2M442 465.4l1.2 0.8M450.5 458.9l1.1 0.5M458.7 452.2l1.1 0.5M466.7 445.5l1.1 0.5M474.5 439.2l1.2 0.6M482.2 433.3l1.1 0.5M489.7 427.5l1.1 0.4M496.9 419.2l1.2 0.5M504.2 415.7l1.1 0.8M511.2 409.8l1.1 0.6M518.1 404.9l1.1 0.2" stroke="#d8b0f0" stroke-width="0.6" fill="none" opacity="0.3"/>
<path d="M431.4 477l4.3-4 2.9-1.8 0.7-1.2 1.5-0.5 4.2-4 8.5-6.1 1.3-1.8 8.1-6.3 1.4-0.4 0.7-1.2 4-2.7 5.8-5.6 0.7 0.3 2.5-3.1 0.7 0.4 5.1-4.2 0.5-3 0.8 2.1 6.8-6.3 1.9-0.7 1.2-1.6 0.6 0.2 1.8-2.3 1.2-0.6 0.6-1.6 1.3 0.5 10-8.4 0.5-4.1 0.7 3 9.2-7 0 1.8-89.3 72z" fill="url(#gd19)"/>
<path d="M434.5 472.6l1.2 0.4M443.2 466.2l1.1 0.2M451.6 459.4l1.1 0.3M459.8 452.7l1.1 0.2M467.8 446l1.2 1M475.7 439.8l1.1 0.7M483.3 433.8l1-2M490.8 427.9l1.1-0.3M498.1 419.7l1.1 1.3M505.3 416.5l1.1-0.1M512.3 410.4l1.1 0.4M519.2 405.1l1.1 0.3" stroke="#d8b0f0" stroke-width="0.6" fill="none" opacity="0.3"/>
<path d="M432.4 476.8l4.5-3 7.8-7.2 1.5-0.2 3.4-3.7 7-5.1 2.7-2.7 0.7 0.3 2.7-2.9 0.7 0.1 30.9-25.6 4.9-3.2 1.1-1.7 0.7 0.1 7.7-6.2 5.2-5.1 0.6 0.3 2.3-1.6 1.2-1.5 1.1-0.4 2.9-2.5 0 2.2-89.3 72.2z" fill="url(#gd20)"/>
<path d="M435.7 473l1.2 0.8M444.3 466.4l1.1 0.2M452.7 459.7l1.1 0.1M460.9 452.9l1.1 0M469 447l1.1-0.3M476.8 440.5l1.1-0.1M484.3 431.8l1.3 2.3M491.9 427.6l1.1 0.3M499.2 421l1.1 0.9M506.4 416.4l1.1-0.1M513.4 410.8l1.1 0.2M520.3 405.4l1.1-0.2" stroke="#d8b0f0" stroke-width="0.6" fill="none" opacity="0.3"/>
<path d="M433.6 477.3l8.6-7.5 2.9-1.7 2.8-2.9 5.7-3.9 1.3-1.8 7.6-5.4 2-2.1 2.1-0.9 2.6-3 10.5-7.8 1.2-1.7 3.9-2.5 0.6-1.1 3.8-2.5 0.6-1.1 1.3-0.3 3-3 3.1-1.9 1.8-2.3 0.7 0.1 3.6-2.9 2.4-2.6 2.9-1.5 7-6.3 4.1-3 0.5 0.2 2.9-2.9 0 2.7-89.2 72.4z" fill="url(#gd21)"/>
<path d="M436.9 473.8l1.1 0.1M445.4 466.6l1.1 0M453.8 459.8l1.1-0.3M462 452.9l1.1 0.2M470.1 446.7l1.1 0.3M477.9 440.4l1.1 0.3M485.6 434.1l1.1 0.2M493 427.9l1.1 0.2M500.3 421.9l1.2 0.5M507.5 416.3l1.1 0.7M514.5 411l1.1-0.3M521.4 405.2l1.1 0.2" stroke="#d8b0f0" stroke-width="0.6" fill="none" opacity="0.3"/>
<path d="M434.7 477.5l1.5-0.5 2.9-3 1.5-0.5 1.4-1.6 0.8 0.3 1.3-2 3.6-3 2.9-1.5 0.6-1.4 1.5-0.5 0.6-1.1 2.2-1.2 0.6-1.3 0.7 0.3 12.2-10.8 0.7 0.4 2.6-2.9 2-0.9 0.7-1.1 3.9-2.6 8.3-7.5 0.6 0.3 7.5-6.7 6.1-4.9 1.2-0.4 1.2-1.6 5.4-3.9 0.5-1.1 2.4-1.1 12.1-10.1 0 2.6-89.2 72.5z" fill="url(#gd22)"/>
<path d="M438 473.9l1.1 0.1M446.5 466.6l1.2 0.6M454.9 459.5l1.2 0.7M463.1 453.1l1.2 0.8M471.2 447l1.1 0.2M479 440.7l1.1 0.3M486.7 434.3l1.1 1.1M494.1 428.1l1.2 0.6M501.5 422.4l1.1 1M508.6 417l1.1-0.2M515.6 410.7l1.2 0.7M522.5 405.4l1.1 0.5" stroke="#d8b0f0" stroke-width="0.6" fill="none" opacity="0.3"/>
<path d="M434.7 477.5l1.5-0.5 2.9-3 1.5-0.5 1.4-1.6 0.8 0.3 1.3-2 3.6-3 2.9-1.5 0.6-1.4 1.5-0.5 0.6-1.1 2.2-1.2 0.6-1.3 0.7 0.3 12.2-10.8 0.7 0.4 2.6-2.9 2-0.9 0.7-1.1 3.9-2.6 8.3-7.5 0.6 0.3 7.5-6.7 6.1-4.9 1.2-0.4 1.2-1.6 5.4-3.9 0.5-1.1 2.4-1.1 12.1-10.1" stroke="#d8b0f0" stroke-width="0.6" fill="none" opacity="0.3"/>
<path d="M436 479.4l9.4-7.2 3.6-3 0.6-1.5 1.5-0.3 18.4-15.7 2.1-0.7 0.6-1.4 2-1 1.9-2.2 7.2-5.1 0.6-1.1 0.7 0.2 1.2-2 0.7 0.1 5-4.5 6.8-4.8 4.9-4.7 1.2-0.3 4.1-3.9 1.8-0.8 1.8-1.6 0.5-3.3 0.7 2.3 2.3-2.5 5.2-3.6 4.5-4.2 0 2.1-89.1 72.6z" fill="url(#gd23)"/>
<path d="M439.1 474l1.3 1.8M447.7 467.2l1.3 2M456.1 460.2l1.2 1.8M464.3 453.9l1.2 1.5M472.3 447.2l1.2 1.8M480.1 441l1.3 1.6M487.8 435.4l1.2 1M495.3 428.7l1.2 1.5M502.6 423.4l1.2 0.8M509.7 416.8l1.2 1.8M516.8 411.4l1.1 1.5M523.6 405.9l1.1 1.3" stroke="#d8b0f0" stroke-width="0.6" fill="none" opacity="0.3"/>
<path d="M437.1 479.9l7.4-5.4 2.8-2.8 1.5-0.3 0.6-1.4 2.8-2.5 0.8 0.2 0.6-1.3 2.1-1.7 1.5-0.5 1.3-1.8 0.7 0.1 3.4-3.3 4.8-3.3 0.6-1.2 8-5.7 17.2-15.1 1.3 0 0.6-1.2 0.7 0.2 4.3-4.1 0.4-3.9 0.8 3.2 1.2-1.2 0.6 0.1 1.8-2.3 0.6 0.1 3-3.1 4.1-2.7 1.8-2.2 1.2-0.3 1.7-2.2 0.6 0.3 2.3-1.8 0.5-1.1 0.6 0.4 5.1-4.7 0 1.8-89 72.8z" fill="url(#gd24)"/>
<path d="M440.4 475.8l1.1 0.5M449 469.2l1.1 0.5M457.3 462l1.2 0.4M465.5 455.4l1.2 0.6M473.5 449l1.2 0.9M481.4 442.6l1.1 0.8M489 436.4l1.1 0.7M496.5 430.2l1.1 0.8M503.8 424.2l1.1 0.5M510.9 418.6l1.1 0.4M517.9 412.9l1.1 0.3M524.7 407.2l1.2 0.8" stroke="#d8b0f0" stroke-width="0.6" fill="none" opacity="0.3"/>
<path d="M438.4 481.1l6.4-6.2 1.5-0.5 7.1-6.1 1.5-0.3 1.3-2.1 4.8-4.3 0.7 0.1 1.4-1.6 1.4-0.4 0.6-1.3 4.1-3.3 1.4-0.2 1.3-1.8 8.5-6.6 2.6-2.6 3.2-1.9 0.6-1.2 2.6-1 1.2-2.1 2.6-1.3 0.5-3 0.7 1.7 5.6-4.5 1.8-2.2 4.2-2.6 7.2-6.6 9.2-6.9 5.1-4.8 0.1 2.2-89.1 72.9z" fill="url(#gd25)"/>
<path d="M441.5 476.3l1.2 0.9M450.1 469.7l1.2 0.5M458.5 462.4l1.2 0.8M466.7 456l1.1 0.4M474.7 449.9l1.1 0.1M482.5 443.4l1.1 0.2M490.1 437.1l1.2 0.1M497.6 431l1.1 0.5M504.9 424.7l1.1 1.1M512 419l1.2 0.2M519 413.2l1.1 0.7M525.9 408l1.1 0.3" stroke="#d8b0f0" stroke-width="0.6" fill="none" opacity="0.3"/>
<path d="M439.5 481.2l10.8-9.3 1.5-0.4 6.3-4.9 2-2.5 3.5-2.1 5.4-5.1 0.7 0.3 4-4.2 2-0.9 1.3-1.8 2.7-1.2 1.2-1.9 17.2-13.4 6-6.1 1.3 0.4 3-3.4 20.3-16.3 0 1.7-89 73.2z" fill="url(#gd26)"/>
<path d="M442.7 477.2l1.1 0.1M451.3 470.2l1.2 0.5M459.7 463.2l1.1 0.5M467.8 456.4l1.2 0.5M475.8 450l1.2 0.3M483.6 443.6l1.2 0.2M491.3 437.2l1.2 1.2M498.7 431.5l1.2 0.5M506 425.8l1.2 0M513.2 419.2l1.1 0.9M520.1 413.9l1.2 0.4M527 408.3l1.1 0.7" stroke="#d8b0f0" stroke-width="0.6" fill="none" opacity="0.3"/>
<path d="M440.7 482.5l4.4-3.6 0.8 0.1 2.1-2.8 0.7 0.1 0.7-1.2 4.3-2.9 14.4-12.8 5.5-3.6 4.6-4.4 5.2-3.6 0.6-1.3 3.9-2.7 3.2-3.3 0.6 0.6 3.2-3.2 0.5-3 0.7 1.8 3.1-2.8 1.2-0.1 1.9-2.3 4.2-2.8 3.6-3.8 2.4-1.2 14.5-11.9 1.1-1.1 0.5-3.2 0.6 2.4 0.6-0.8 0 1.5-88.9 73.3z" fill="url(#gd27)"/>
<path d="M443.8 477.3l1.3 1.6M452.5 470.7l1.2 1.5M460.8 463.7l1.2 1.3M469 456.9l1.2 1.2M477 450.3l1.2 1.1M484.8 443.8l1.2 1M492.5 438.4l1.1 0.5M499.9 432l1.1 0.7M507.2 425.8l1.1 1.1M514.3 420.1l1.1 1M521.3 414.3l1.1 1M528.1 409l1.1 0.9" stroke="#d8b0f0" stroke-width="0.6" fill="none" opacity="0.3"/>
<path d="M441.9 482.9l5.8-4.5 0.7-1.3 1.5-0.4 6.3-6.1 4.9-3.8 1.4-0.4 6.8-6.5 15.9-12.4 3.8-3.9 3.2-1.7 1.9-2.3 1.9-1 0.6-1.1 3.8-2.5 7.9-7.1 0.6 0.1 2.9-3.1 4.8-3.1 1.1-1.7 0.6-4 0.6 3.1 0.6-0.2 10.3-8.7 1.1-0.3 0 1.1-88.8 73.5z" fill="url(#gd28)"/>
<path d="M445.1 478.9l1.2 0.5M453.7 472.2l1.1 0.1M462 465l1.2 0.2M470.2 458.1l1.2 0.5M478.2 451.4l1.1 0.8M486 444.8l1.1 0.9M493.6 438.9l1.1 0.3M501 432.7l1.2 0.7M508.3 426.9l1.2 0.2M515.4 421.1l1.2 0.7M522.4 415.3l1.1 0.7M529.2 409.9l1.2 0.1" stroke="#d8b0f0" stroke-width="0.6" fill="none" opacity="0.3"/>
<path d="M443 483l0.8-0.1 2.1-2.5 8-5.7 1.3-2 1.5-0.4 4.2-4 2.1-0.9 5.4-5.6 2.1-1 7.3-6.5 2.7-1.6 4.5-4.4 3.9-2.6 2.5-2.8 2.6-1.6 1.9-2.2 0.6 0 1.2-2.9 0.7 1.1 3.1-2 1.8-2.2 8.5-6.3 8.8-7.9 6.4-4.6 0.5-1.2 4.5-3.7 0.1 2.2-88.8 73.6z" fill="url(#gd29)"/>
<path d="M446.3 479.4l1.1 0.2M454.8 472.3l1.2 0.5M463.2 465.2l1.2 0.7M471.4 458.6l1.1 0.2M479.3 452.2l1.2 0.5M487.1 445.7l1.2 0.5M494.7 439.2l1.2-0.1M502.2 433.4l1.1-0.3M509.5 427.1l1.1 0.5M516.6 421.8l1.1 0.1M523.5 416l1.2-0.1M530.4 410l1.1 0.1" stroke="#d8b0f0" stroke-width="0.6" fill="none" opacity="0.3"/>
<path d="M444.2 484l8.7-7.7 1.4-0.6 0.7-1.1 0.8 0.1 0.6-1.5 0.8 0.4 2.7-3.2 2.9-1.6 1.3-1.8 8.2-6.4 6-5.6 0.7 0.2 3.3-2.7 7.7-7.2 3.3-1.7 0.6-1.5 1.9-1.2 0.5-2.7 0.7 2.1 2.5-2.7 0.7 0.1 7.3-6.2 0.6-1.1 4.2-2.9 1.2-1.6 1.8-0.6 4.7-4.5 0.6 0.2 0.6-2.8 0.6 1.8 11.4-10.1 0 2.2-88.8 73.7z" fill="url(#gd30)"/>
<path d="M447.4 479.6l1.2 0.4M456 472.8l1.2 0.8M464.4 465.9l1.1 0.2M472.5 458.8l1.2 0.7M480.5 452.7l1.1 0.1M488.3 446.2l1.1-0.3M495.9 439.1l1.1 1.2M503.3 433.1l1.2 0.9M510.6 427.6l1.1 0.2M517.7 421.9l1.2 0.2M524.7 415.9l1.1 0.1M531.5 410.1l1.1 0.7" stroke="#d8b0f0" stroke-width="0.6" fill="none" opacity="0.3"/>
<path d="M445.4 484l0.7-1.2 16.4-13 2-2.4 13-9.8 2.6-3.1 3.3-2.2 1.3-1.6 1.4-0.4 1.2-1.6 4.6-3.2 0.6-1.2 3.8-2.3 11.1-10.2 1.3-0.1 1.2-1.7 7.7-6.1 0.5-5.1 0.7 4.2 2.3-2.8 1.8-0.5 11.4-9.7 0 2.6-88.7 73.9z" fill="url(#gd31)"/>
<path d="M448.6 480l1.1 0M457.2 473.6l1.1-0.3M465.5 466.1l1.1-0.2M473.7 459.5l1.1-0.4M481.6 452.8l1.2-0.3M489.4 445.9l1.2 0.3M497 440.3l1.2-0.1M504.5 434l1.1-0.1M511.7 427.8l1.2 0M518.9 422.1l1.1-0.4M525.8 416l1.1 0.1M532.6 410.8l1.1-0.6" stroke="#d8b0f0" stroke-width="0.6" fill="none" opacity="0.3"/>
<path d="M445.4 484l0.7-1.2 16.4-13 2-2.4 13-9.8 2.6-3.1 3.3-2.2 1.3-1.6 1.4-0.4 1.2-1.6 4.6-3.2 0.6-1.2 3.8-2.3 11.1-10.2 1.3-0.1 1.2-1.7 7.7-6.1 0.5-5.1 0.7 4.2 2.3-2.8 1.8-0.5 11.4-9.7" stroke="#d8b0f0" stroke-width="0.6" fill="none" opacity="0.3"/>
<path d="M446.5 483.7l12.3-9.6 11.7-10.5 4.1-2.5 2-2.5 0.7-0.1 8.6-7.6 1.3-0.5 1.2-2.1 0.7 0.4 1.9-2.1 12.1-9.5 0.4-5 0.8 3.7 0.6-0.4 4.3-4.1 0.6 0.1 2.4-2.6 5.4-3.9 0.5-2.9 0.7 2 16.6-14.1 0.1 3.2-88.7 74.1z" fill="url(#gd32)"/>
<path d="M449.7 480l1.2 0.3M458.3 473.3l1.1 0M466.6 465.9l1.2 0M474.8 459.1l1.1 0.3M482.8 452.5l1.1 0.2M490.6 446.2l1.1-0.2M498.2 440.2l1.1 0M505.6 433.9l1.1-0.1M512.9 427.8l1.1 0M520 421.7l1.1 0.2M526.9 416.1l1.2 0M533.7 410.2l1.2 0.4" stroke="#d8b0f0" stroke-width="0.6" fill="none" opacity="0.3"/>
<path d="M447.7 484.6l3.6-3.8 1.5-0.4 17.5-14.7 2-2.4 1.5-0.3 1.3-1.7 4.7-3.5 2-2.3 5.3-3.7 8.9-8.1 7.6-6.2 0.6 0.1 1.9-2.2 5.5-4 6.5-6.1 1.8-0.8 0.6-1.5 0.6 0.2 2.3-2.1 0.6-4 0.6 2.8 0.6-0.1 10.8-9.4 0.6 0.3 0 2.9-88.6 74.2z" fill="url(#gd33)"/>
<path d="M450.9 480.3l1.1 0.1M459.4 473.3l1.2 0.3M467.8 465.9l1.2 1M475.9 459.4l1.2 0.4M483.9 452.7l1.2 0.4M491.7 446l1.2 0.8M499.3 440.2l1.2 0M506.7 433.8l1.2 0.6M514 427.8l1.2 0.3M521.1 421.9l1.2 0M528.1 416.1l1.1 0.2M534.9 410.6l1.1-0.2" stroke="#d8b0f0" stroke-width="0.6" fill="none" opacity="0.3"/>
<path d="M448.9 485.1l0.8-0.1 2.1-2.2 0.8 0.2 2.1-2.6 1.5-0.4 2.1-2.6 11.9-9.4 4-4.2 1.4-0.5 5.4-5.2 1.3-0.4 2.7-2.6 0.7 0 5.8-5.7 0.7 0.3 6.3-6.2 2.5-1.5 0.5-4.9 0.8 4 9.8-8.5 0.5-4.6 0.7 3.7 0.6-0.3 2.4-2.5 5.4-3.9 1.1-1.8 9.3-6.8 3.4-3.8 2.2-1.4 0 2.9-88.5 74.4z" fill="url(#gd34)"/>
<path d="M452 480.4l1.3 1.6M460.6 473.6l1.2 1M469 466.9l1.2 1.1M477.1 459.8l1.2 1.3M485.1 453.1l1.2 1M492.9 446.8l1.2 0.8M500.5 440.2l1-3.1M507.9 434.4l1.2 0.6M515.2 428.1l1.1 0.8M522.3 421.9l1.1 1.2M529.2 416.3l1.2 1M536 410.4l1.2 1.5" stroke="#d8b0f0" stroke-width="0.6" fill="none" opacity="0.3"/>
<path d="M450.2 487l1.5-0.6 5-5.1 0.8 0.3 0.6-1.6 2.9-1.7 0.7-1.2 0.7 0.1 0.7-1.1 0.7 0 0.7-1.3 5.6-4.3 1.3-1.8 0.8 0.4 0.6-1.4 2.1-1 2.6-3 4.8-3.3 18-15.8 0.7 0.1 11.1-10.1 3-1.8 1.2-1.7 7.7-5.5 2.3-2.9 4.1-3.2 0.6-1.8 1.1 0.8 6.8-6 0 2.1-88.5 74.5z" fill="url(#gd35)"/>
<path d="M453.3 482l1.3 1.4M461.8 474.6l1.3 1.5M470.2 468l1.2 0.7M478.3 461.1l1.3 1.3M486.3 454.1l1.2 1.8M494.1 447.6l1.2 1.6M501.5 437.1l1.4 5.4M509.1 435l1.2 1.6M516.3 428.9l1.2 1.7M523.4 423.1l1.2 1.7M530.4 417.3l1.1 1.2M537.2 411.9l1.1 1.1" stroke="#d8b0f0" stroke-width="0.6" fill="none" opacity="0.3"/>
<path d="M451.5 488.1l4.3-3.5 0.6-1.6 3-1.6 11.9-10.3 2.8-1.6 6.7-6.7 0.7 0.1 4.6-4.6 3.9-2.4 3.2-3.7 4.6-2.8 6.9-6 0.6-1.1 4.3-3.1 1.2-1.6 1.9-0.9 5.4-5.2 0.6 0.2 0.6-1.3 12.8-10 1.7-2.2 6.2-5.1 0 2-88.4 74.7z" fill="url(#gd36)"/>
<path d="M454.6 483.4l1.2 1.2M463.1 476.1l1.2 0.7M471.4 468.7l1.2 1.3M479.6 462.4l1.2 0.4M487.5 455.9l1.2 0.6M495.3 449.2l1.2 0.7M502.9 442.5l1.1 1M510.3 436.6l1.2 0.9M517.5 430.6l1.2 1.1M524.6 424.8l1.2 0.7M531.5 418.5l1.2 1.2M538.3 413l1.2 0.4" stroke="#d8b0f0" stroke-width="0.6" fill="none" opacity="0.3"/>
<path d="M452.6 488.1l2.9-2.8 2.2-1.1 0.6-1.5 1.5-0.6 0.7-1.1 0.8 0.2 1.3-2.2 4.3-2.5 3.4-3.6 1.5-0.4 0.6-1.3 12.2-9.9 4.6-4.6 2-0.9 1.3-1.8 3.2-1.9 1.3-1.5 0.7 0 1.2-1.9 3.2-2.1 3.1-3.4 6.8-4.9 0.6-1.3 2.4-1.3 1.8-2.4 1.3-0.2 0.5-1.1 7.2-5.1 1.7-2.4 1.8-0.5 4.5-4.7 7.4-5.8 0 2.1-88.4 74.8z" fill="url(#gd37)"/>
<path d="M455.8 484.6l1.1-0.3M464.3 476.8l1.2 0.7M472.6 470l1.2 0.1M480.8 462.8l1.1 0.7M488.7 456.5l1.2 0.1M496.5 449.9l1.2 0.7M504 443.5l1.2-0.3M511.5 437.5l1.1-0.5M518.7 431.7l1.1-0.2M525.8 425.5l1.1-0.2M532.7 419.7l1.1-0.4M539.5 413.4l1.1 0.4" stroke="#d8b0f0" stroke-width="0.6" fill="none" opacity="0.3"/>
<path d="M453.7 487.7l0.8 0 0.7-1.1 9.3-7.4 0.7-1.2 2.2-1.1 4.8-4.6 11.6-9.2 1.3-1.8 6.6-5 3.9-4 1.3-0.3 2.5-3.1 2-0.6 6.2-6.4 0.6 0.3 1.9-2.2 2.4-2 0.7 0.2 5.4-5.3 1.8-0.9 1.2-1.8 1.8-0.8 7-6 0.6-3.3 0.6 1.7 1.1-0.4 1.2-1.5 1.7-0.6 4.5-4 1.1-3.1 0.6 1.5 0.5-0.4 0 2.8-88.3 75z" fill="url(#gd38)"/>
<path d="M456.9 484.3l1.2 0.3M465.5 477.5l1.1-0.4M473.8 470.1l1.2 0.1M481.9 463.5l1.2-0.3M489.9 456.6l1.1 0M497.7 450.6l1.1-0.8M505.2 443.2l1.2 0M512.6 437l1.2 0.2M519.8 431.5l1.2-0.4M526.9 425.3l1.2-0.2M533.8 419.3l1.2 0.1M540.6 413.8l1.2-0.1" stroke="#d8b0f0" stroke-width="0.6" fill="none" opacity="0.3"/>
<path d="M454.9 488.5l0.8-0.1 2.1-2.6 0.8 0.3 2.2-1.8 2.1-2.5 2.2-0.9 1.3-2 4.9-4.4 1.4-0.5 7.5-7.1 5.4-3.8 6.6-6.1 3.9-2.6 0.7-1.3 4.4-3.9 7-5.8 0.6 0 3.1-3.5 1.8-0.7 2.4-2.9 1.9-0.8 6.5-6.2 4.7-3.3 2.9-2.9 0.6 0.2 6.9-6.6 1.1-0.3 1.1-5.1 0.6 3.4 1.1-1.3 0 3.2-88.3 75.2z" fill="url(#gd39)"/>
<path d="M458.1 484.6l1.2 0.4M466.6 477.1l1.2 0.6M475 470.2l1.2 0.7M483.1 463.2l1.2 0.8M491 456.6l1.2 0.4M498.8 449.8l1.2 1.1M506.4 443.2l1.1 0.9M513.8 437.2l1.1 0.5M521 431.1l1.2 0.7M528.1 425.1l1.1 0.9M535 419.4l1.2 0.5M541.8 413.7l1.1 0.8" stroke="#d8b0f0" stroke-width="0.6" fill="none" opacity="0.3"/>
<path d="M456.3 490.7l4.2-4.7 1.6-0.3 9.8-9.2 3.5-2.2 9.4-9.3 8-5.7 14.1-12.6 1.2-0.3 0.6-1.2 5.6-4.7 1.2-0.2 0.6-1.2 5.5-4.8 1.2-0.4 4.1-4.3 1.8-0.8 4-3.9 0.6 0.2 2.9-3.2 5.6-4.5 0.6-2.8 0.6 1.7 1.6-1.1 0 1.9-88.2 75.3z" fill="url(#gd40)"/>
<path d="M459.3 485l1.2 1M467.8 477.7l1.3 1.5M476.2 470.9l1.2 1.4M484.3 464l1.2 0.9M492.2 457l1.3 1.5M500 450.9l1.2 1.1M507.5 444.1l1.2 1.1M514.9 437.7l1.2 1.4M522.2 431.8l1.2 1.3M529.2 426l1.2 1M536.2 419.9l1.1 1.4M542.9 414.5l1.2 1.1" stroke="#d8b0f0" stroke-width="0.6" fill="none" opacity="0.3"/>
<path d="M456.3 490.7l4.2-4.7 1.6-0.3 9.8-9.2 3.5-2.2 9.4-9.3 8-5.7 14.1-12.6 1.2-0.3 0.6-1.2 5.6-4.7 1.2-0.2 0.6-1.2 5.5-4.8 1.2-0.4 4.1-4.3 1.8-0.8 4-3.9 0.6 0.2 2.9-3.2 5.6-4.5 0.6-2.8 0.6 1.7 1.6-1.1" stroke="#d8b0f0" stroke-width="0.6" fill="none" opacity="0.3"/>
<path d="M457.5 491.3l6.5-5.9 0.7 0.2 4.9-5.1 2.2-0.6 2-2.6 2.1-1.3 0.7-1.4 2.7-1.8 0.7-1.3 6.7-6 4-2.6 4-3.6 1.3-0.4 1.9-2.5 0.7 0.1 2.5-2 0.7-1.4 0.6 0.3 2.5-3 5.1-3.6 2.4-2.7 19.2-15.7 2.3-2.4 0.6-2 0.6 1.1 1.1-1.3 0.6-4.5 0.5 3.9 1.8-1.7 0.5-2.3 0.6 1.4 5.6-4.9 0 1.9-88.1 75.5z" fill="url(#gd41)"/>
<path d="M460.5 486l1.3 1.5M469.1 479.2l1.3 1.2M477.4 472.3l1.3 0.9M485.5 464.9l1.2 0.6M493.5 458.5l1.2 0.8M501.2 452l1.2 1.4M508.7 445.2l1.3 1.6M516.1 439.1l1.2 1.1M523.4 433.1l1.1 1.2M530.4 427l1.2 1.4M537.3 421.3l1.2 0.8M544.1 415.6l1.1 0.8" stroke="#d8b0f0" stroke-width="0.6" fill="none" opacity="0.3"/>
<path d="M458.7 492.1l1.5-0.6 1.4-2.1 3.6-2.9 0.8 0.1 2.7-3.4 0.8 0 2.8-2.2 1.3-2 4.9-3.5 4.1-4.1 3.2-4.7 3.4-2.6 6.7-3.4 1.9-2.5 0.7 0.2 7.6-7.3 0.7 0.3 4.3-4.5 1.3-0.4 1.2-1.8 8.5-6.8 0.6-1.2 0.6 0.4 3.6-3.8 0.6 0.1 9.9-8.6 0.5-1.2 0.6 0.5 2.3-2.5 0.6-4.4 0.5 3.6 3.9-3 0.6-1.1 0.5 0.1 0 1.3-88 75.7z" fill="url(#gd42)"/>
<path d="M461.8 487.5l1.2 0.6M470.4 480.4l1.2 1M478.7 473.2l1.2 0.9M486.7 465.5l1.2-0.4M494.7 459.3l1.2 1.4M502.4 453.4l1.2-0.2M510 446.8l1.1 0.1M517.3 440.2l1.2 0.5M524.5 434.3l1.2 0.3M531.6 428.4l1.2 0.3M538.5 422.1l1.2 0.5M545.2 416.4l1.2 0.3" stroke="#d8b0f0" stroke-width="0.6" fill="none" opacity="0.3"/>
<path d="M459.9 492.4l3.7-2.6 3.5-3.7 2.9-1.9 10.4-9.5 3.3-4.3 3.2-6.3 2.7-1.5 2.8 0.8 1.4-0.4 1.9-1.7 0.7 0.2 13.4-12.1 6.9-5.2 1.2-1.8 3.6-2.4 1.2-1.6 1.8-0.7 3-3.7 0.6 0.2 1.7-2 1.2-0.4 0.6-1.2 8.7-6.7 1.1-2.8 0.6 1 6.1-5.2 0 1.7-88 75.8z" fill="url(#gd43)"/>
<path d="M463 488.1l1.3 1M471.6 481.4l1.2 0.3M479.9 474.1l1.1-0.3M487.9 465.1l1-2.2M495.9 460.7l1.2-0.3M503.6 453.2l1.2 0.8M511.1 446.9l1.2 0.4M518.5 440.7l1.2 0.3M525.7 434.6l1.2 0.6M532.8 428.7l1.1 0.2M539.7 422.6l1.1 0.6M546.4 416.7l1.2 0.6" stroke="#d8b0f0" stroke-width="0.6" fill="none" opacity="0.3"/>
<path d="M461.1 492.6l10.8-9.1 0.7 0 4.1-4.5 0.8 0 0.6-1.2 0.8 0.3 0.6-1.3 2.1-1.7 3.2-6 2.4-7.8 2-3 1.4 0.6 2.2 2.4 2.1 1 3.4-1.3 15.2-13 0.6-0.9 0.6-4.4 0.7 3.7 5.5-5.3 1.2-0.5 1.2-1.7 1.8-0.7 5.3-5.5 2.4-1.5 1.2-1.6 2.3-1.6 0.6 0.4 1.7-3.3 1.1 0.3 9.6-8.7 0 2.4-88 76z" fill="url(#gd44)"/>
<path d="M464.3 489.1l1.2 0M472.8 481.7l1.2 0.2M481 473.8l1.2 0.3M488.9 462.9l1-4M497.1 460.4l1.2 0.6M504.8 454l1.2 0M512.3 447.3l1.2 0.7M519.7 441l1.2 0.1M526.9 435.2l1.2 0M533.9 428.9l1.2-0.1M540.8 423.2l1.2 0.1M547.6 417.3l1.1 0.2" stroke="#d8b0f0" stroke-width="0.6" fill="none" opacity="0.3"/>
<path d="M462.2 491.7l3-2 4.2-4.3 0.8 0.2 12.5-11.7 2.5-6.4 3.5-15.1 1.3-2 5.3 9.4 0.7 0.7 2.1 0.2 2.6-1.6 5.8-5.7 1.9-0.7 0.6-1.3 6.9-5.4 1.2-1.7 0.7 0.1 0.6-0.6 0.5-3.6 0.7 2.1 0.6-0.2 8.5-7.1 0.5-4.5 0.6 3.1 0.6-0.4 4.7-4.6 1.2 0.1 1.2-2.1 1.7-0.7 1.7-2.2 1.7-0.9 0.6-5.3 0.5 4.2 6.2-5.3 0.6 0.3-0.1 2.9-87.8 76.2z" fill="url(#gd45)"/>
<path d="M465.5 489.1l1.1-0.6M474 481.9l1.1-1.1M482.2 474.1l1.1-1.6M489.9 458.9l0.8-7.7M498.3 461l1.1-1.2M506 454l1.1-0.5M513.5 448l1.2-1M520.9 441.1l1.1-0.7M528.1 435.2l1.1-4.7M535.1 428.8l1.2-0.1M542 423.3l1.2-5.8M548.7 417.5l1.2-1.1" stroke="#d8b0f0" stroke-width="0.6" fill="none" opacity="0.3"/>
<path d="M461.8 472.5l0.9 0.6 0.6-1.9 3-2.3 0.8 0.7 2-4 1 2.3 0.5-4 2.4 1.9 2-4.4 0.7-0.5 0.8 0.5 0.6-2.1 0.8 0.8 0.6-1.7 0.8 0.7 2-3.5 0.8 1 0.5-4.2 0.9 2.1 2.4-9.7 1.3-15.2 1.2-5.3 0.7-0.7 0.8-0.1 1.5 2.6 3.5 12.8 0.6-0.9 0.8 1.9 2.9 3.1 2-3.5 0.7 0.7 1.2-2.4 2.1-0.2 1.2-4.1 1.4 2.2 0.6-0.4 0.6-2.2 0.7-0.8 0.6 0.2 1.3-2.3 0.6 0.6 1.3-2.3 1.3 0.3 1.9-3.8 1.3 1.7 1.2-0.8 1.2-3.2 0.7 1.8 0.6-3.5 0.6 1.3 1.3-0.9 1.2-4.9 0.6 2 1.2-3.1 0.6 1.4 0.6-1.7 1.3 2.1 1.2-2.7 0.6-3.5 1.2 2 0.6-2.7 0.6 0.3 0.6-1.5 0.6 1 0.6-1 1.2-0.4 0.6-3.8 0.6 2.2 0.6-3.2 0.5 4.1 1.2-5 1.2-1.1 0.6 1.4 1.2-2.7 1.7-0.5 1.2-4.3 0.5 1.9 1.2-1.1 0.6 1.1 1.7-4.6 0.6 1.5 0.5-1.9 0.9 19.3-0.1 8.1-87.8 76.3z" fill="url(#gd46)"/>
<path d="M466.6 488.5l-0.3-19.6M475.1 480.8l-0.1-19.4M483.3 472.5l0.2-18M490.7 451.2l0-26.1M499.4 459.8l0.5-18.2M507.1 453.5l0.7-17.8M514.7 447l0.7-19.1M522 440.4l0.9-18.9M529.2 430.5l1.1-16M536.3 428.7l1.2-21.6M543.2 417.5l1.3-17.4M549.9 416.4l1.4-13.5" stroke="#d8b0f0" stroke-width="0.6" fill="none" opacity="0.3"/>
<path d="M462.4 465l1.2-5.6 1.1 4.1 0.7-1.1 0.5-3.7 1 2.8 0.5-3.9 0.8 0.2 1 2.7 1.2-5.6 1.8 4 1.1-5.9 0.7-0.9 0.9 1.6 0.6-2.6 0.9 1.7 0.6-1.4 1.6 1.4 1.1-7.3 0.8 1.1 0.7-1.3 0.7 0.1 1.2-6.7 0.7-0.1 0.5-3.5 0.8 0.5 1.2-18.6 2.1-18.2 3.4 7.7 3.8 20 1.6 3.8 0.8 4.6 0.7-1.7 0.8 3.8 0.6-4 0.8 3.2 0.7 0.4 1.9-3.4 0.7 0.5 0.6-2 0.8 2.2 0.6-1.4 0.7 1 2.5-4.6 0.7 0.2 0.6-2.1 0.8 2.4 0.5-3.8 1.4 2.5 0.6-3.1 0.6 0.7 1.3-1.4 0.6-5 1.3 4.3 0.6-3.8 1.3 1.4 4.3-7.8 0.7 4.7 0.6-5.7 1.3 1.9 1.2-0.4 0.6-5.3 0.6 3.2 0.6-0.5 0.6-9 0.6 6.1 0.7 0.7 0.6-1.2 0.6 1.5 1.8-6.4 0.6 2 0.6-0.8 0.6 0.5 0.6-2.2 0.6 0.3 0.6-1.1 0.6 1.1 0.6-2.8 1.2-0.3 1.2-2.1 0.5 0.8 0.6-1.4 1.2 0.8 1.8-4.7 0.5 1.6 0.6-1.3 0.6 2.5 0.6-8.5 0.6 3.3 0.5 0.4 1.2-1 1.2-7.2 0.6 1.3 0.7 27.4-0.1 9-87.8 76.5z" fill="url(#gd47)"/>
<path d="M466.3 468.9l0.6-7.4M475 461.4l0.5-10.3M483.5 454.5l0.3-15.9M490.7 425.1l0.2-21.6M499.9 441.6l1-5.4M507.8 435.7l1-5.4M515.4 427.9l1.1-8.6M522.9 421.5l1.1-8.1M530.3 414.5l1.2-5.4M537.5 407.1l1.2-4.3M544.5 400.1l1.3-7M551.3 402.9l1.2-4" stroke="#d8b0f0" stroke-width="0.6" fill="none" opacity="0.3"/>
<path d="M464.1 470.6l0.8-0.1 0.6-2.2 0.9 1 0.5-4.1 0.9 1.5 0.6-1.3 0.8 0.3 0.7-1.8 0.8-0.1 0.6-2.2 2.3 0.5 0.6-3.1 1 3 1.2-3.6 1.6 0 2-4.4 2.8-2.9 0.8 1.2 1-7.3 0.7-1.3 0.5-5.5 0.7-0.5 0.5-3 3.2-40.6 0.8 0.3 1.3 11.5 5 31 2.4 7.3 2.8 2.8 0.7-0.6 1.3 0.8 0.7-2 0.6 0.7 0.7-0.5 0.6-2.9 0.7 0.9 0.6-2.6 0.6-0.1 0.7 1.3 0.6-2.2 0.7 1.4 0.6-2.5 0.7 1.8 0.6-2.5 0.7 1 1.2-3.5 1.3 0.1 0.6-2.7 0.6-0.2 0.7 2.4 0.6-1.6 1.9-1.3 1.2-2.5 0.7 0.7 1.2-2.2 1.2 0.3 2.5-4.1 0.6 1.1 1.8-2.9 0.6 1.1 0.6-3 0.7 2.4 0.6-0.4 1.7-4.9 0.6 1 0.6-1.8 2.4-0.2 0.6-1.5 0.6 1.6 1.8-5.1 1.1 0 0.6-1.7 0.6 1 3.5-5.2 0.6 1.4 1.7-4.3 0.6 1 0.6-1.7 0.5 1.9 1.7-3.4 0.6 1.2 0.6-1.3 0.8 14-0.1 6.4-87.6 76.7z" fill="url(#gd48)"/>
<path d="M466.9 461.5l1.5 3.9M475.5 451.1l1.7 7.4M483.8 438.6l1.5 5.1M490.9 403.5l1.4 2.4M500.9 436.2l1.6 10.8M508.8 430.3l1.5 9.5M516.5 419.3l1.5 15.8M524 413.4l1.5 13.7M531.5 409.1l1.3 12.2M538.7 402.8l1.2 11M545.8 393.1l1.1 14.2M552.5 398.9l1.1 7.3" stroke="#d8b0f0" stroke-width="0.6" fill="none" opacity="0.3"/>
<path d="M465.5 472.8l1.7 1.7 1.4-2.7 1.5-1 0.8 0.3 0.5-3.1 1.5-0.4 0.7-0.9 0.8 0.4 0.7-1.3 0.8 0 0.6-2.3 0.7-0.7 0.9 1.7 2-3.9 0.8 1.3 1.9-6.4 1.4-0.9 0.8 0.5 1.8-7.4 0.7 0.1 3-27.5 0.7-32.6 0.8 0.9 1.1 7.5 5.6 45.8 2.5 9.6 0.6-0.1 1.5 2.3 2-1.2 0.6-1.9 1.4 1.5 0.6-1.6 1.3-0.1 0.6-1.3 1.3-0.4 3.2-4.4 1.3-0.2 2.5-2.5 0.6 0.7 0.6-2.2 1.3-0.1 3.7-4.2 0.6 0.9 0.6-2.3 3.1-2.1 0.6 0.3 1.8-2.8 0.6 1.5 0.6-2.7 1.2-0.3 1.2-2 0.6 0.4 2.9-3.6 1.8-0.5 1.2-3 0.6 1 1.1-2.5 0.6 0.6 1.2-1.4 0.5 0.7 0.6-1.6 0.6-0.6 0.6 0.4 0.5-1.6 0.6 0.1 0.6-1.6 0.6 0.2 0.5-1 0.6 0.4 0.6-2.4 0.5 1.1 1.2-1.3 0.5 0.5 1.1-2.1 1 8.9-0.1 4.2-87.6 76.9z" fill="url(#gd49)"/>
<path d="M468.4 465.4l1.7 5.4M477.2 458.5l1.5 4.2M485.3 443.7l1.5 4M492.3 405.9l0.8-9.8M502.5 447l1.4 5.8M510.3 439.8l1.4 7.5M518 435.1l1.3 5M525.5 427.1l1.2 6.7M532.8 421.3l1.2 6.4M539.9 413.8l1.2 5.8M546.9 407.3l1.1 7.4M553.6 406.2l1.1 5.9" stroke="#d8b0f0" stroke-width="0.6" fill="none" opacity="0.3"/>
<path d="M465.5 472.8l1.7 1.7 1.4-2.7 1.5-1 0.8 0.3 0.5-3.1 1.5-0.4 0.7-0.9 0.8 0.4 0.7-1.3 0.8 0 0.6-2.3 0.7-0.7 0.9 1.7 2-3.9 0.8 1.3 1.9-6.4 1.4-0.9 0.8 0.5 1.8-7.4 0.7 0.1 3-27.5 0.7-32.6 0.8 0.9 1.1 7.5 5.6 45.8 2.5 9.6 0.6-0.1 1.5 2.3 2-1.2 0.6-1.9 1.4 1.5 0.6-1.6 1.3-0.1 0.6-1.3 1.3-0.4 3.2-4.4 1.3-0.2 2.5-2.5 0.6 0.7 0.6-2.2 1.3-0.1 3.7-4.2 0.6 0.9 0.6-2.3 3.1-2.1 0.6 0.3 1.8-2.8 0.6 1.5 0.6-2.7 1.2-0.3 1.2-2 0.6 0.4 2.9-3.6 1.8-0.5 1.2-3 0.6 1 1.1-2.5 0.6 0.6 1.2-1.4 0.5 0.7 0.6-1.6 0.6-0.6 0.6 0.4 0.5-1.6 0.6 0.1 0.6-1.6 0.6 0.2 0.5-1 0.6 0.4 0.6-2.4 0.5 1.1 1.2-1.3 0.5 0.5 1.1-2.1 1 8.9" stroke="#d8b0f0" stroke-width="0.6" fill="none" opacity="0.3"/>
<path d="M467.1 477.2l0.7-0.5 0.9 1.9 0.6-3.5 2.2-1.3 0.9 1.1 0.5-2.7 1 2.5 0.5-3.5 0.9 1.2 1.3-3.1 0.7-0.1 0.6-2.3 0.9 1.6 0.6-2.2 0.9 2.3 0.7-0.7 0.6-3.1 0.8 0.8 1.3-2 1.2-4.6 0.7-1.1 0.8 0.7 1.2-3.8 2.5-9.5 1.6-12.6 0.4-37.3 1.1 7.9 0.4-9.1 7.4 56.7 0.8 3.9 2.2 2.9 1.3 0.8 2-2.5 1.3 0.4 5.1-5.4 0.7 0.7 0.6-1.4 3.8-4 1.2 0 0.6-2.5 0.7 1.1 1.2-1.2 1.2-3.5 0.7 2.2 1.2-1.7 1.8-1 0.6-1.3 1.2-0.3 3-3.7 1.2-0.8 0.6 0.4 0.6-3.3 1.2 1.1 1.2-2 0.6 0.2 2.3-1.9 1.2-2.2 1.2 0.4 1.7-2.4 2.3-1.2 1.7-3.1 0.6 0.6 1.1-1.9 1.2-0.1 1.1-2.1 1.7-1.3 1.6-0.8 1.1 4.8-0.1 3.3-87.6 77.1z" fill="url(#gd50)"/>
<path d="M470.1 470.8l1.4 3M478.7 462.7l1.6 5.9M486.8 447.7l1.5 5.1M493.1 396.1l1.5 5.2M503.9 452.8l1.4 5.7M511.7 447.3l1.4 4.5M519.3 440.1l1.3 3.7M526.7 433.8l1.3 4.6M534 427.7l1.2 4M541.1 419.6l1.2 6.7M548 414.7l1.2 4.5M554.7 412.1l1.2 4.2" stroke="#d8b0f0" stroke-width="0.6" fill="none" opacity="0.3"/>
<path d="M468.7 482.5l0.5-3.2 0.8-0.7 0.7 0 0.9 1.6 0.6-2.7 0.9 1 0.5-2.7 2.3-0.3 1.4-2.1 0.8 0.8 0.6-2.6 0.8 0.8 1.4-2.1 0.7-0.5 0.8 0.3 1.9-4.9 0.8 1 0.6-2.6 1.3-2.1 0.8 1 0.5-4.2 0.8 0 1.3-3.1 0.5-3.4 0.7-0.6 2.2-14.5 0.3-42.7 1.5 17.6 0.7-1.2 4.2 32.8 3.4 17.1 2.7 0.7 0.7-1.2 0.7 0.7 3.8-3.7 0.7 0.3 1.9-2.8 1.2-0.5 2.5-2.6 1.3-0.2 1.9-2.5 2.5-1.5 3-3.8 1.8-1.5 0.6 0.1 3.1-3.2 0.6 0.1 1.2-1.6 0.5-2.6 1.2 1.7 4.2-5 1.7-0.5 5.8-6 0.6 0.2 3.4-3.5 1.1-0.3 1.7-4.5 0.5 2.1 1.1-0.6 0.6-1.4 1 2.7 0 3.2-87.5 77.2z" fill="url(#gd51)"/>
<path d="M471.5 473.8l1.6 4.7M480.3 468.6l1.3 1.2M488.3 452.8l1.4 4M494.6 401.3l1.7 9.1M505.3 458.5l1.3 2.5M513.1 451.8l1.3 2.5M520.6 443.8l1.3 4.3M528 438.4l1.2 3.4M535.2 431.7l1.2 3.6M542.3 426.3l1.2 2.4M549.2 419.2l1.1 3.1M555.9 416.3l1.1 2.2" stroke="#d8b0f0" stroke-width="0.6" fill="none" opacity="0.3"/>
<path d="M469.9 482.8l0.9 0.9 0.7-1.3 1.5-0.6 0.6-2.1 0.8 0.5 0.7-0.8 0.7-1.7 0.7 0.3 0.8-0.9 0.8 0.9 0.6-2.2 1.6 1 0.5-3 0.8 1.1 0.7-2.2 1.4-1.2 0.7 0.5 6.7-11.6 0.8 0.4 3.1-10.6 1.1-39.8 1.5 17.1 0.4-7.9 0.7 0.7 1.4 16 0.7 1.3 1.2 12 2.4 9.7 1.5 3.2 2.7-0.1 8.9-7.4 1.3-1.9 2.5-1.3 1.8-2.5 5.6-4.1 1.8-2.6 3-2 0.6-4 0.6 3 6.5-6.1 1.7-1.4 0.6 0.1 0.6-1.3 2.9-2.8 1.7-0.9 9-8.6 1 1.5 0 3-87.5 77.4z" fill="url(#gd52)"/>
<path d="M473.1 478.5l1.3 1.7M481.6 469.8l1.4 2.3M489.7 456.8l1.4 3.6M496.3 410.4l1.7 9.2M506.6 461l1.3 1.5M514.4 454.3l1.2 2.4M521.9 448.1l1.2 1.2M529.2 441.8l1.3 0.8M536.4 435.3l1.2 1.9M543.5 428.7l1.2 2M550.3 422.3l1.2 2.2M557 418.5l1.2 0.9" stroke="#d8b0f0" stroke-width="0.6" fill="none" opacity="0.3"/>
<path d="M471.4 486.7l0.9 0.5 3.5-5 0.7-0.7 0.8 0.5 0.6-1.8 0.8 1.1 0.6-2.7 0.9 1.4 1.3-3.5 1.5 1 0.6-2.7 0.8 0.7 1.3-2.9 0.8 1.8 0.6-2.9 0.7-0.2 0.7-1.6 1.4-0.3 0.6-3 0.7 0.4 1.3-3.9 1.4-0.6 2.6-5.3 1-28.1 0.8 3.4 1.1-8.6 1.4 16.6 0.7 0.5 4.2 20 1.5 3.2 1.3 0.9 1.3-1.7 2-0.9 0.6-1 3.2-2 7.5-7.2 0.6-5.2 0.7 4.3 8.5-7.4 1.2-5.1 0.6 3 0.6-0.3 11.7-10.6 1.1-0.4 0.6-1.3 1.2-0.3 3.9-4.3 0.6 0.3 4.4-4.7 1.1 0.9-0.1 2.7-87.3 77.5z" fill="url(#gd53)"/>
<path d="M474.4 480.2l1.4 2M483 472.1l1.4 3.4M491.1 460.4l1.4 2.5M498 419.6l1.4 4.1M507.9 462.5l1.3 1.5M515.6 456.7l1.3 1.2M523.1 449.3l1.3 1.9M530.5 442.6l1.2 2.1M537.6 437.2l1.3 0.8M544.7 430.7l1.2 1.4M551.5 424.5l1.2 1.4M558.2 419.4l1.2 1.1" stroke="#d8b0f0" stroke-width="0.6" fill="none" opacity="0.3"/>
<path d="M472.8 489l0.8 0.2 1.4-2.7 2.9-2.7 0.8 0.7 1.3-2.1 1.5-0.4 0.7-1.4 0.8 0.3 0.6-2.2 2.9-0.7 2.7-4.9 0.7 0.3 3.4-5.3 1.3-1 0.7-2 0.7 0.4 2-2.5 0.6-20.4 1-10 7.4 29.9 1.4 2.7 1.4 0.7 1.9-2 2-0.7 10.7-10.3 1.8-1 9.1-8.7 1.2-0.4 1.2-1.7 1.8-0.8 5.8-5.7 2.9-2 4.6-4.8 1.6-0.6 5.6-5.9 1.1 0.3-0.1 2.6-87.3 77.7z" fill="url(#gd54)"/>
<path d="M475.8 482.2l1.4 2.5M484.4 475.5l1.4 2.6M492.5 462.9l1.5 4.9M499.4 423.7l1.9 15.2M509.2 464l1.2 1.4M516.9 457.9l1.2 1.1M524.4 451.2l1.2 0.9M531.7 444.7l1.2 1.1M538.9 438l1.2 1.8M545.9 432.1l1.2 1.1M552.7 425.9l1.2 1.4M559.4 420.5l1.2 1.1" stroke="#d8b0f0" stroke-width="0.6" fill="none" opacity="0.3"/>
<path d="M474.3 492l2.8-4.1 2.2-1.3 0.7-1.2 0.7 0.1 2.8-2.9 1.5-0.6 1.3-2.4 0.8 0.1 2.7-3.9 0.8 0.6 1.3-3.3 0.7 0.7 0.6-2.1 2.1-2.6 2.1-0.3 1.3-1.2 0.7-1.5 0.1-13.7 1-11.1 0.7-1.2 0.5-4.8 0.8 0.8 1 8.7 3.2 14.3 2.3 5.8 2 1.9 10.9-9.1 0.6-1.5 0.6 0.1 2.5-2.1 1.2-3.5 0.6 1.9 0.7-0.3 0.6-2.5 0.6 0.8 4.2-3.6 1.2-1.5 0.6-3.7 0.6 2.4 1.8-0.7 1.8-1.4 0.6-1.3 2.4-1.3 1.1-1.9 4.1-2.8 6.3-6.1 1.1-1.3 0.6-3.2 0.5 2.8 1.7-2 1.1-0.8 0.5 0.4 1.2-2 1.1-0.8 0.5 0.3-0.1 2.6-87.2 77.9z" fill="url(#gd55)"/>
<path d="M477.2 484.7l1.3 2.5M485.8 478.1l1.3 1.6M494 467.8l1.3 1.3M501.3 438.9l1.2-2.8M510.4 465.4l1.3 0.6M518.1 459l1.2 0.4M525.6 452.1l1.2-1.4M532.9 445.8l1.2 0.3M540.1 439.8l1.2 0.3M547.1 433.2l1.2 0.6M553.9 427.3l1.2 0.1M560.6 421.6l1.2 0.2" stroke="#d8b0f0" stroke-width="0.6" fill="none" opacity="0.3"/>
<path d="M475.5 491.9l0.8-0.1 0.6-1.5 3-0.7 0.7-1.5 1.5-0.3 1.4-2.2 0.7 0.5 2.8-4.2 2.1-1.3 3.5-3.7 0.7 0.1 1.3-2.8 4.1-2.5 0.7-1.1 0.7 0.2 0.6-2 0.6-21.9 1-10.9 1.9 13.9 0.7 0 0.6-2.6 1.8 11 2.2 6.5 2.1 2.1 1.3 0 4.5-3.2 1.3-2 6.9-6.1 0.6 0.3 0.6-1.5 0.6 0 2.5-2.6 0.6-2.3 0.6 1.6 0.6-0.4 7.2-6.9 3.6-2.5 2.9-3.6 2.3-1.2 2.9-2.9 0.6-3.2 0.6 2 1.7-1 7.2-6.6 0.6-1.1 2.2-1.4-0.1 2.9-87.1 78.1z" fill="url(#gd56)"/>
<path d="M478.5 487.2l1.4 2.4M487.1 479.7l1.3 1.3M495.3 469.1l1.4 3.9M502.5 436.1l1.7 13.8M511.7 466l1.2 0.9M519.3 459.4l1.3 0.9M526.8 450.7l1.3 3M534.1 446.1l1.3 1M541.3 440.1l1.2 1.2M548.3 433.8l1.2 1M555.1 427.4l1.2 1M561.8 421.8l1.2 0.7" stroke="#d8b0f0" stroke-width="0.6" fill="none" opacity="0.3"/>
<path d="M476.9 494.4l4.3-3.6 0.7-1.7 0.8 0.8 4.9-5.6 0.7 0.1 0.7-1.4 1.4-0.5 0.7-1.5 2.1-0.9 3.4-4.9 0.7 0.4 0.7-0.6 0.7 0.2 2.8-1.5 1.4-18.2 0.1-15.9 1 6.9 0.6-1.8 0.7 1.3 1 8.4 0.7-0.4 0.8 3.6 0.7 0.2 0.8 4.9 2.2 4.2 1.3 0.8 1.4-0.2 1.3-0.6 8.8-8.6 5-3.7 1.2-4 0.6 2.6 1.9-2.3 0.6-3.5 0.6 2.5 1.2-0.8 0.6-0.8 0.6-4.9 0.6 4.1 1.2-1.7 5.3-4 12.7-12.2 4.4-3.3 1.2-3.2 0.5 1.5 0.6-2.8 0.5 1.7 1.1-0.6-0.1 2.8-87.1 78.3z" fill="url(#gd57)"/>
<path d="M479.9 489.6l1.3 1.2M488.4 481l1.3 2M496.7 473l1.3 2M504.2 449.9l1.1-3.9M512.9 466.9l1.3 0.6M520.6 460.3l1.2 1M528.1 453.7l1.2 0.9M535.4 447.1l1.2-3.7M542.5 441.3l1.2 0.5M549.5 434.8l1.2 0.6M556.3 428.4l1.2 0.9M563 422.5l1.1 0.9" stroke="#d8b0f0" stroke-width="0.6" fill="none" opacity="0.3"/>
<path d="M478.2 495.8l4.3-3.9 1.4-2.6 0.8 0.9 2.1-2.3 1.5-0.4 1.3-2.8 1.5 0.3 1.3-2.6 0.7 0 1.4-2.2 0.7 0.2 2.7-3.3 1.4-0.1 3.5-1.8 0.6-2.6 0.6-20.5 0.8 2.1 0.1-17.9 1 9.8 0.7-1.6 0.9 7.2 3.1 12.4 3.5 4.3 2.6-1.1 4.5-3.9 5-5.2 2.5-1.5 1.2-1.9 3.7-2.6 6.6-6.5 1.8-0.9 7-7.3 0.6 0.1 2.3-2.5 2.3-1.5 1.1-1.3 0.6-3.5 0.6 2.8 9.4-9.3-0.1 4-87 78.4z" fill="url(#gd58)"/>
<path d="M481.2 490.8l1.3 1.1M489.7 483l1.4 2M498 475l1.3 2M505.3 446l1.3-1.5M514.2 467.5l1.2-0.1M521.8 461.3l1.3 0.3M529.3 454.6l1.2 0.2M536.6 443.4l1.2 4.7M543.7 441.8l1.2-0.1M550.7 435.4l1.2-0.3M557.5 429.3l1.2 0.3M564.1 423.4l1.3-0.1" stroke="#d8b0f0" stroke-width="0.6" fill="none" opacity="0.3"/>
<path d="M478.2 495.8l4.3-3.9 1.4-2.6 0.8 0.9 2.1-2.3 1.5-0.4 1.3-2.8 1.5 0.3 1.3-2.6 0.7 0 1.4-2.2 0.7 0.2 2.7-3.3 1.4-0.1 3.5-1.8 0.6-2.6 0.6-20.5 0.8 2.1 0.1-17.9 1 9.8 0.7-1.6 0.9 7.2 3.1 12.4 3.5 4.3 2.6-1.1 4.5-3.9 5-5.2 2.5-1.5 1.2-1.9 3.7-2.6 6.6-6.5 1.8-0.9 7-7.3 0.6 0.1 2.3-2.5 2.3-1.5 1.1-1.3 0.6-3.5 0.6 2.8 9.4-9.3" stroke="#d8b0f0" stroke-width="0.6" fill="none" opacity="0.3"/>
<path d="M479.5 496.5l0.8 0.2 4.2-4.7 0.8 0.4 2.8-3.4 2.2-1.3 0.6-1.5 1.5-0.4 0.6-1.2 0.8 0.1 1.3-2.3 0.7 0.1 3.4-4.3 0.7 0.3 4.1-2 0.6-2.8 0.3-12.4 2.3-14.1 2.3 6.2 2.4 11.4 3.4 4.4 0.7-1 4.5-2.5 1.3-1.9 5-3.9 0.6-1.3 1.3-0.2 2.4-3 1.9-0.9 2.4-3 6.6-5.4 3.6-4 1.7-0.7 1.2-1.9 1.7-0.9 2.4-2.6 8.4-6.9 0.6-1.3 1.1-0.4 0.6-3.3 0.5 2 3.3-2.8-0.1 3.5-86.9 78.6z" fill="url(#gd59)"/>
<path d="M482.5 491.9l1.3 0.7M491.1 485l1.3 0.8M499.3 477l1.3 0.9M506.6 444.5l1.4 5.8M515.4 467.4l1.2 0.5M523.1 461.6l1.2 0.2M530.5 454.8l1.3 0.4M537.8 448.1l1.2 0.6M544.9 441.7l1.3 0M551.9 435.1l1.2 0.6M558.7 429.6l1.2 0.2M565.4 423.3l1.2 0.6" stroke="#d8b0f0" stroke-width="0.6" fill="none" opacity="0.3"/>
<path d="M480.9 498.6l0.7-1.3 2.2-0.9 0.7-1.3 0.7-0.2 0.7-1.5 2.2-1 4.8-5.5 0.8 0.2 2.7-2.9 0.7 0.1 2.7-3.4 5.6-2.6 2.5-27.5 1.5 1.9 3 8.8 0.8 4.6 3.4 3.7 5.2-3.7 11.2-10.2 0.6-2.7 0.6 1.3 1.2-0.6 7.3-7.2 2.3-1.2 0.6-1.4 4.7-4.3 0.6 0.2 1.7-2.2 4-2.8 1.2-2 2.8-1.8 3.9-4.3 1.1-0.3 1.7-2.5 0.5 0.7 0.5-0.8-0.1 3.3-86.9 78.8z" fill="url(#gd60)"/>
<path d="M483.8 492.6l1.4 2.3M492.4 485.8l1.3 1.3M500.6 477.9l1.3 2.1M508 450.3l1.4 2.4M516.6 467.9l1.3 0.7M524.3 461.8l1.2 1M531.8 455.2l1.2 0.7M539 448.7l1.3 0.4M546.2 441.7l1.2 1.2M553.1 435.7l1.2 0.8M559.9 429.8l1.2 0.2M566.6 423.9l1.2 0.9" stroke="#d8b0f0" stroke-width="0.6" fill="none" opacity="0.3"/>
<path d="M482.2 500l2.9-2.4 1.4-2.1 1.5-0.2 2.7-3.7 0.8 0.3 2.1-2.4 2.1-1.1 1.3-2.2 0.8 0.4 2.7-3.4 6.2-3.2 2.5-27.8 0.7-0.5 0.9 6.1 0.6-3.4 0.9 9 0.7-0.8 2.8 6.9 2.1 1.5 3.2-2.8 1.3-0.3 1.2-2 0.7 0.2 6.2-6.5 1.3-0.5 2.4-3.3 0.7 0.6 4.2-3.7 1.2-3.7 0.6 1.5 1.8-1.2 5.3-5.4 0.6 0.1 3.5-3.1 0.6-1.2 2.3-1.3 3.4-4.1 1.7-0.6 9.4-8.6-0.1 2.7-86.8 78.9z" fill="url(#gd61)"/>
<path d="M485.2 494.9l1.3 0.6M493.7 487.1l1.3 1.5M501.9 480l1.3 1.4M509.4 452.7l1.4 5.1M517.9 468.6l1.3 1.7M525.5 462.8l1.3 0.5M533 455.9l1.2-0.1M540.3 449.1l1.2 1M547.4 442.9l1.2 1.1M554.3 436.5l1.3 1.1M561.1 430l1.2 1.2M567.8 424.8l1.2 0.6" stroke="#d8b0f0" stroke-width="0.6" fill="none" opacity="0.3"/>
<path d="M483.6 502l1.4-2.1 0.7 0.1 3.6-4.1 1.4-0.4 2.8-3.3 2.8-1.8 5.5-5.7 4.8-2.9 1.4 0.1 0.9-12.9 2.3-16 1.7 11.6 0.7-1.4 1.4 3.7 0.7-0.9 0.7 3.7 2.1 2.1 2.6-0.8 0.6-1.3 2.6-1.1 4.4-5.1 8-6.5 1.2-2.9 0.6 1 3.1-3.1 1.7-0.7 2.4-2.7 0.6-3.8 0.6 2.5 0.6-0.2 4.1-4 0.6 0.3 0.6-1.4 6.3-5.5 0.5-0.7 0.7-5.2 0.5 4 9.9-8.6-0.1 2.3-86.7 79.2z" fill="url(#gd62)"/>
<path d="M486.5 495.5l1.4 2.6M495 488.6l1.3 1.8M503.2 481.4l1.3 1.8M510.8 457.8l1.3 2.6M519.2 470.3l1.2 0.8M526.8 463.3l1.3 1M534.2 455.8l1.3 2.1M541.5 450.1l1.3 1.1M548.6 444l1.3 0.5M555.6 437.6l1.2 1M562.3 431.2l1.2 1.4M569 425.4l1.2 1" stroke="#d8b0f0" stroke-width="0.6" fill="none" opacity="0.3"/>
<path d="M484.9 502.7l3.6-2.6 2.1-3.1 0.7 0.2 4.9-4.8 1.4-0.6 0.7-1.3 2.8-1.8 3.3-4.1 1.5 0.2 3.3-2.2 1.5-18.7 0.7-0.4 1.1-9.9 0.9 7.3 0.7-0.2 0.7 1.2 0.8 3.9 2.1 5.5 2.7 1.7 0.6-1.2 0.7 0.6 5.1-5.3 0.6 0.2 1.3-1.9 1.2-0.3 1.3-1.8 0.6 0.1 1.2-1.9 1.3-0.4 9.7-9 0.6-1.2 3-1.7 2.3-2.7 0.6-2.5 0.6 1.4 0.6-0.4 20.2-18.3 0 2.2-86.7 79.3z" fill="url(#gd63)"/>
<path d="M487.9 498.1l1.3 1.2M496.3 490.4l1.3 1.4M504.5 483.2l1.4 1.6M512.1 460.4l1.3 0.5M520.4 471.1l1.3 1.3M528.1 464.3l1.2 0.9M535.5 457.9l1.2 0.4M542.8 451.2l1.2 0.9M549.9 444.5l1.2 0.9M556.8 438.6l1.2 0.2M563.5 432.6l1.3 0.3M570.2 426.4l1.2 0.4" stroke="#d8b0f0" stroke-width="0.6" fill="none" opacity="0.3"/>
<path d="M486.2 503.8l1.5-0.7 1.4-1.8 6.4-5.1 3.4-4.4 4.8-3 0.7-1.4 1.4-0.5 2-2 2.7-0.8 2.1-25.9 1.6 8 0.4-7.6 0.9 5.7 0.7 0.1 1.4 5.8 2.8 3 3.2-0.5 3.8-4.4 0.7 0.3 0.6-1.3 11.7-9.8 5.4-5.7 5.3-4.1 4.1-4.5 5.2-4.2 1.1-1.2 0.7-4.1 0.4 2.9 4.5-3.9 2.2-2.9 1.1-0.1 2.8-2.7-0.1 2.4-86.6 79.5z" fill="url(#gd64)"/>
<path d="M489.2 499.3l1.3 1.1M497.6 491.8l1.3 0M505.9 484.8l1.2 1M513.4 460.9l1.2-2.3M521.7 472.4l1.3 0.2M529.3 465.2l1.3 0.5M536.7 458.3l1.3 0.8M544 452.1l1.2 0.5M551.1 445.4l1.2 0.9M558 438.8l1.2 0.9M564.8 432.9l1.2 0.6M571.4 426.8l1.2 0.9" stroke="#d8b0f0" stroke-width="0.6" fill="none" opacity="0.3"/>
<path d="M487.5 505l4.3-3.6 2.8-3.4 0.7 0.2 1.5-1.1 1.3-2 3.5-2.7 4.1-4.4 4.8-2.6 1.3-1.4 2.8-25.5 0.7 1.3 0.7-0.2 0.8 5.5 2.8 6.9 1.4 1.6 3.2-0.4 22.9-20.5 1.2-1.9 0.6-3.5 0.6 3.3 0.6-5 0.5 3.4 0.6-0.2 0.7-4.3 0.5 3.2 4.1-4.3 7.9-6.5 2.3-2.5 0.7-4.8 0.4 3.9 6.6-6-0.1 2.4-86.5 79.7z" fill="url(#gd65)"/>
<path d="M490.5 500.4l1.3 1M498.9 491.8l1.3 1.5M507.1 485.8l1.3 0.5M514.6 458.6l1.4 1M523 472.6l1.2 0.6M530.6 465.7l1.2 0.9M538 459.1l1.2 0.4M545.2 452.6l1.3 0.6M552.3 446.3l1.3 0.1M559.2 439.7l1.3 0.5M566 433.5l1.4-3.9M572.6 427.7l1.2 0.5" stroke="#d8b0f0" stroke-width="0.6" fill="none" opacity="0.3"/>
<path d="M488.8 506.3l7.2-6.4 0.7 0.2 0.7-1.6 2.7-3 1.4-0.6 4.1-4.3 0.7 0.2 2.1-2.7 4.7-2.7 2.2-21.5 0.7 0.2 0.6-2.8 0.8 5 0.7-0.1 0.7 3.1 0.7-0.2 1.4 4.7 2.7 1.3 1.3-0.6 10.7-9 0.6-1.2 3.7-2.7 4.2-4.6 0.6 0.1 1.2-1.6 1.2-0.2 0.6-1.8 2.4-1.2 1.8-2.4 2.9-1.9 1.2-1.4 0.6-4.9 0.5 3.5 0.6-0.2 12.4-12 0.5 0.3 5-4.6-0.1 1.8-86.4 79.8z" fill="url(#gd66)"/>
<path d="M491.8 501.4l1.3 1.3M500.2 493.3l1.3 1.6M508.4 486.3l1.3 1.5M516 459.6l1.4 6.7M524.2 473.2l1.3 1M531.8 466.6l1.3 0.7M539.2 459.5l1.3 1.1M546.5 453.2l1.2 0.3M553.6 446.4l1.2 1.6M560.5 440.2l1.2 0.7M567.4 429.6l1 5.6M573.8 428.2l1.2 0.5" stroke="#d8b0f0" stroke-width="0.6" fill="none" opacity="0.3"/>
<path d="M490.2 507.5l1.4-2.1 0.7 0.2 8.4-8.6 1.4-0.5 4.2-3.9 0.6-1.3 7.5-5.3 2.2-19.9 0.7-0.1 1.4 1.5 1.4 4.5 0.7 0.6 0.7-0.9 0.7 0.6 0.7 2.2 1.3 1.1 1.9-0.1 13.8-12.6 1.9-2.6 1.8-0.5 3.6-4.3 0.6 0.1 12.9-11.7 4.5-4.8 1.1-0.3 1.7-2.1 7.7-6.5 1.1-1.6-0.1 2.4-86.3 80z" fill="url(#gd67)"/>
<path d="M493.1 502.7l1.3 0.7M501.5 494.9l1.3 1M509.7 487.8l1.3 0.7M517.4 466.3l1.3 1.2M525.5 474.2l1.3 0.5M533.1 467.3l1.3 0.9M540.5 460.6l1.3-0.3M547.7 453.5l1.3 0.8M554.8 448l1.2-0.1M561.7 440.9l1.2 0.6M568.4 435.2l1.3 0.1M575 428.7l1.3 0.4" stroke="#d8b0f0" stroke-width="0.6" fill="none" opacity="0.3"/>
<path d="M490.2 507.5l1.4-2.1 0.7 0.2 8.4-8.6 1.4-0.5 4.2-3.9 0.6-1.3 7.5-5.3 2.2-19.9 0.7-0.1 1.4 1.5 1.4 4.5 0.7 0.6 0.7-0.9 0.7 0.6 0.7 2.2 1.3 1.1 1.9-0.1 13.8-12.6 1.9-2.6 1.8-0.5 3.6-4.3 0.6 0.1 12.9-11.7 4.5-4.8 1.1-0.3 1.7-2.1 7.7-6.5 1.1-1.6" stroke="#d8b0f0" stroke-width="0.6" fill="none" opacity="0.3"/>
<path d="M491.5 507.8l1.3-2.1 0.8 0 4.2-4.6 1.5-0.5 6.2-6.7 0.7 0.2 4-4.2 4.8-3.1 1.3-3.9 1.7-13.6 0.7 0 0.6-1.5 1.4 2.3 0.7-0.1 2.1 5.1 1.3 0.8 2.6-0.8 4.5-3.6 5-5.2 0.6 0.1 0.6-1.3 1.9-0.7 1.2-1.8 7.3-7 1.8-0.9 4.1-4.5 1.2-0.1 1.1-2.1 2.3-1.4 0.6-1.3 4.6-4.3 3.9-2.8 0.6-1.3 9.4-8.3-0.1 2.9-86.3 80.2z" fill="url(#gd68)"/>
<path d="M494.4 503.4l1.3 0.2M502.8 495.9l1.3-0.2M511 488.5l1.3 0M518.7 467.5l1.3 0.7M526.8 474.7l1.2-0.1M534.4 468.2l1.2-0.3M541.8 460.3l1.2 0.8M549 454.3l1.3 0.4M556 447.9l1.3-0.3M562.9 441.5l1.3-0.5M569.7 435.3l1.2 0M576.3 429.1l1.2 0" stroke="#d8b0f0" stroke-width="0.6" fill="none" opacity="0.3"/>
<path d="M492.8 508.5l7-6.7 0.8 0 2-3 1.4-0.6 2.1-2.6 0.7 0.2 0.7-1.4 9.4-7.5 1.8-10.7 1.3-3.4 0.7 1.2 0.7-1.4 0.7 0.1 0.7 2.1 2 0.9 0.6 1.1 1.4 0.5 1.2-0.7 8.9-7.7 0.6-1.3 2.5-1.2 2.5-3.3 1.8-1.1 9-8.7 0.6 0.2 2.9-3.6 0.6 0.1 0.6-1.3 1.1-0.3 6.9-6.9 0.6 0.1 2.3-3.2 2.7-1.6 7.7-7.5-0.1 2.8-86.2 80.3z" fill="url(#gd69)"/>
<path d="M495.7 503.6l1.3 1.2M504.1 495.7l1.3 1M512.3 488.5l1.3 0.6M520 468.2l1.4 4.4M528 474.6l1.3 0.7M535.6 467.9l1.3 1M543 461.1l1.3 0.9M550.3 454.7l1.2 0.7M557.3 447.6l1.3 1M564.2 441l1.2 1.1M570.9 435.3l1.3 0.7M577.5 429.1l1.2 1" stroke="#d8b0f0" stroke-width="0.6" fill="none" opacity="0.3"/>
<path d="M494.1 509.4l2.9-1.8 0.6-1.8 0.8 0 7-6.2 0.6-1.4 3.5-2.6 1.3-1.8 7.4-5.8 2.5-12.4 0.7-0.8 1.3 1.9 0.7-2.1 0.7 2.2 0.6-0.7 0.7 1.8 0.7-0.8 1.9 1.2 2-1 8.2-7.4 1.8-2.4 4.3-3.3 4.3-4.9 12.9-11.2 2.9-3.5 2.8-2 9-8.7 1-0.3 1.2-1.7 1-0.3 1.1-1.6-0.1 2.6-86.1 80.5z" fill="url(#gd70)"/>
<path d="M497 504.8l1.4 1M505.4 496.7l1.3 1.1M513.6 489.1l1.3 1.4M521.4 472.6l1.3 4.1M529.3 475.3l1.3 1M536.9 468.9l1.3 1M544.3 462l1.3 0.7M551.5 455.4l1.3 0.1M558.6 448.6l1.2 1M565.4 442.1l1.3 0.8M572.2 436l1.2 0.8M578.7 430.1l1.3 0.2" stroke="#d8b0f0" stroke-width="0.6" fill="none" opacity="0.3"/>
<path d="M495.4 509.9l3.6-3 0.6-1.3 3.6-2.5 6.2-6.7 4.1-2.9 1.3-2.1 2.1-0.9 2.6-2.4 1.3-3.1 1.2-7 0.7 1.4 1.3-3 2.1 2 2.6 0.4 0.6-0.9 3.2-1.3 3.8-4.4 8.1-6.9 1.8-2.6 1.8-0.8 5.4-5.2 1.8-2 0.7-2.6 0.5 1.9 7-6.7 0.6-2.8 0.6 1.2 1.1-0.7 12.8-11.6 1.2-2.7 0.5 1 1.6-1.6-0.2 3-86 80.7z" fill="url(#gd71)"/>
<path d="M498.4 505.8l1.2-0.2M506.7 497.8l1.3 0.1M514.9 490.5l1.3-0.1M522.7 476.7l1.3-0.3M530.6 476.3l1.3 0.2M538.2 469.9l1.3-0.6M545.6 462.7l1.2 0M552.8 455.5l1.2 0.3M559.8 449.6l1.3-0.4M566.7 442.9l1.3 0.2M573.4 436.8l1.3 0.1M580 430.3l1.2 0.4" stroke="#d8b0f0" stroke-width="0.6" fill="none" opacity="0.3"/>
<path d="M496.7 510.6l0.7-0.2 2.1-3.3 0.8 0.1 3.5-2.8 1.4-2 3.5-2.6 4-4.5 8.1-6.4 3.2-8.9 0.7-0.3 0.7 0.5 0.6-1.3 0.7 1.2 0.6-1.2 1.4 1.5 3.2-2.1 18-17.1 1.2-0.3 5.4-5.2 0.6-1.4 6.4-5.2 4.6-4.9 1.1-1 0.6 0.3 3.4-4 0.5 0.3 2.2-2.9 0.6 0.1 2.7-3.1 3.3-2.4 0.5-1.1-0.1 3.3-86 80.9z" fill="url(#gd72)"/>
<path d="M499.6 505.6l1.4 0.9M508 497.9l1.3 0.9M516.2 490.4l1.3 1.2M524 476.4l1.4 3.8M531.9 476.5l1.3 0.7M539.5 469.3l1.2 1M546.8 462.7l1.3 0.8M554 455.8l1.3 0.8M561.1 449.2l1.2 0.6M568 443.1l1.2 0.1M574.7 436.9l1.2 0M581.2 430.7l1.3 0.8" stroke="#d8b0f0" stroke-width="0.6" fill="none" opacity="0.3"/>
<path d="M498.1 511.7l13.9-12.8 2.7-3.2 7.4-5.8 2-3.9 2.6-2.8 4.6-2.3 1.9-2.2 2.5-1.6 10.6-10.5 1.3-0.4 2.4-2.8 1.2-0.2 0.6-1.9 2.4-1.4 7.7-7.8 2.3-1.2 1.7-2.5 0.6-2.3 0.6 1 0.5-0.1 4.5-3.9 0.8-4.7 0.4 3.5 8.8-8.3 0.6-2.7 0.5 1.8 1-1.2-0.1 2.7-85.9 81.1z" fill="url(#gd73)"/>
<path d="M501 506.5l1.3 1.2M509.3 498.8l1.4 0.9M517.5 491.6l1.3 0.6M525.4 480.2l1.3 3M533.2 477.2l1.3 0.9M540.7 470.3l1.3 0.8M548.1 463.5l1.3 0.7M555.3 456.6l1.3 0.9M562.3 449.8l1.3 1.2M569.2 443.2l1.3 1.1M575.9 436.9l1.3 1.4M582.5 431.5l1.2 0.4" stroke="#d8b0f0" stroke-width="0.6" fill="none" opacity="0.3"/>
<path d="M499.4 513.4l17.4-16.8 4.7-3.4 5.9-6.4 1.3-0.3 0.6-1.4 2.6-1.6 2.6-3.1 5.7-4.7 0.6-1.2 1.9-0.9 0.6-1.2 6.8-6.1 0.6-1.2 0.6 0 7.1-6.6 0.7-4.1 0.5 2.7 1.2-1.6 0.6 0.2 8.1-8.6 0.5 0.3 1.2-1.8 3.3-2.1 1.1-1.8 3.9-3.1 1.1-2 1.6-0.6 3.3-3.5-0.1 2.2-85.9 81.3z" fill="url(#gd74)"/>
<path d="M502.3 507.7l1.4 1.8M510.7 499.7l1.3 1.6M518.8 492.2l1.3 1.6M526.7 483.2l1.3 3.5M534.5 478.1l1.3 1.5M542 471.1l1.3 1.3M549.4 464.2l1.3 0.9M556.6 457.5l1.2 1.3M563.6 451l1.3 0.9M570.5 444.3l1.2 1.4M577.2 438.3l1.2 1.1M583.7 431.9l1.2 1.1" stroke="#d8b0f0" stroke-width="0.6" fill="none" opacity="0.3"/>
<path d="M500.8 514.8l10.5-10.3 2.7-1.9 1.4-2.1 0.7 0 8.7-7.8 1.3-2 3.3-2.3 1.3-2 1.3 0 0.6-1.5 0.6 0 8.3-8.9 6.8-5.5 3.6-4.3 2.4-1.3 12.4-12.4 1.7-1 1.7-2.2 9.5-8.4 3.3-3.4 0.7-3.6 0.4 2.8 2.7-2.9-0.1 1.5-85.7 81.4z" fill="url(#gd75)"/>
<path d="M503.7 509.5l1.3 1.5M512 501.3l1.3 1.6M520.1 493.8l1.4 1.7M528 486.7l1.4 1.7M535.8 479.6l1.3 1.4M543.3 472.4l1.3 1.2M550.7 465.1l1.2 1.1M557.8 458.8l1.3 1.4M564.9 451.9l1.2 1.5M571.7 445.7l1.2 1.5M578.4 439.4l1.2 1.5M584.9 433l1.2 1.7" stroke="#d8b0f0" stroke-width="0.6" fill="none" opacity="0.3"/>
<path d="M502.1 516.3l9.8-9.7 3.5-2.6 2.7-3.3 2.7-1.7 8.6-8.5 1.3-0.7 0.6-1.4 0.7 0.2 3.8-3.6 1.3-1.8 17.9-16.5 0.6-1.2 5.9-5 0.6-1.2 0.6 0.1 2.3-2.7 1.8-1 1.1-1.8 4-3.3 7.3-7.6 0.5 0.3 0.6-1.4 1.6-0.8 6-5.8 0 0.5-85.7 81.7z" fill="url(#gd76)"/>
<path d="M505 511l1.4 1M513.3 502.9l1.4 1.5M521.5 495.5l1.3 1.2M529.4 488.4l1.3 1.4M537.1 481l1.3 1.2M544.6 473.6l1.3 1.6M551.9 466.2l1.3 1.9M559.1 460.2l1.3 0.9M566.1 453.4l1.2 1.2M572.9 447.2l1.3 0.8M579.6 440.9l1.2 0.9M586.1 434.7l1.3 0.9" stroke="#d8b0f0" stroke-width="0.6" fill="none" opacity="0.3"/>
<path d="M502.1 516.3l9.8-9.7 3.5-2.6 2.7-3.3 2.7-1.7 8.6-8.5 1.3-0.7 0.6-1.4 0.7 0.2 3.8-3.6 1.3-1.8 17.9-16.5 0.6-1.2 5.9-5 0.6-1.2 0.6 0.1 2.3-2.7 1.8-1 1.1-1.8 4-3.3 7.3-7.6 0.5 0.3 0.6-1.4 1.6-0.8 6-5.8" stroke="#d8b0f0" stroke-width="0.6" fill="none" opacity="0.3"/>
<path d="M503.5 517.3l7-6.4 3.4-4 6.9-5.8 0.6-1.5 2.7-1.3 0.7-1.7 2.6-1.5 7.8-8.3 0.6 0.1 4.5-4.8 0.6 0.3 0.7-1.4 0.6 0.2 5-5.7 6.1-4.9 1.2-2 0.6 0.1 4.2-4.6 1.7-0.9 4.2-4.9 4-3.2 2.3-3.4 0.5 0.4 1.2-0.7 1.3-5.4 0.4 3.1 0.5 0 6.7-6.4 0.6-2.7 0.5 1.7 2.2-2.7 2.1-1.3 1.1-1.8 0.5 0.2 0 0.3-85.6 81.8z" fill="url(#gd77)"/>
<path d="M506.4 512l1.3 1M514.7 504.4l1.3 0.7M522.8 496.7l1.3 1.6M530.7 489.8l1.3 0.7M538.4 482.2l1.3 0.7M545.9 475.2l1.3 0.3M553.2 468.1l1.3 0.5M560.4 461.1l1.2 0.9M567.3 454.6l1.3 0.8M574.2 448l1.2 1.1M580.8 441.8l1.3 0.9M587.4 435.6l1.2 0.3" stroke="#d8b0f0" stroke-width="0.6" fill="none" opacity="0.3"/>
<path d="M504.8 517l8.4-7.3 4.1-4.6 2.7-1.9 4.1-4.7 1.3-0.4 8.5-8.6 0.7 0.1 5.7-6.4 9.4-8.1 4.3-5.1 1.2-0.4 2.4-2.8 0.6 0.1 2.4-2.7 1.7-1 2.4-3 0.6 0.1 0.6-1.5 3.4-2.6 3.5-4 4.5-4.2 1.1-0.4 3.9-4.5 4.9-4 3.2-3.6 0 1.4-85.6 82z" fill="url(#gd78)"/>
<path d="M507.7 513l1.3 0.2M516 505.1l1.3 0M524.1 498.3l1.3-0.2M532 490.5l1.3-0.2M539.7 482.9l1.3 0M547.2 475.5l1.3 0.4M554.5 468.6l1.3 0.3M561.6 462l1.3-0.1M568.6 455.4l1.3-0.3M575.4 449.1l1.3-0.2M582.1 442.7l1.3-0.7M588.6 435.9l1.3 0.4" stroke="#d8b0f0" stroke-width="0.6" fill="none" opacity="0.3"/>
<path d="M506.1 516.7l1.4-1.2 0.7 0 0.7-1.7 4.2-3.3 12.9-12.9 1.4-0.6 2.6-3 0.7 0.1 0.6-1.3 7.2-6.2 1.2-2 1.3-0.5 8.2-8.4 1.2-0.6 9.1-9.5 12.9-11.8 4.6-5.2 1 0 7.3-7.9 2.7-1.9 0.6-1.6 0.4 0.6 1.7-1.7 0.6-3 0.4 2.1-0.1 2.2-85.4 82.2z" fill="url(#gd79)"/>
<path d="M509 513.2l1.3-0.5M517.3 505.1l1.3-0.1M525.4 498.1l1.3-1.1M533.3 490.3l1.3-0.5M541 482.9l1.3-0.5M548.5 475.9l1.3-0.5M555.8 468.9l1.3-0.5M562.9 461.9l1.4-0.7M569.9 455.1l1.3-0.8M576.7 448.9l1.3-0.3M583.4 442l1.3-0.3M589.9 436.3l1.4-3.2" stroke="#d8b0f0" stroke-width="0.6" fill="none" opacity="0.3"/>
<path d="M507.4 516.3l1.4-1.8 2.1-1 2.1-3.2 0.7 0.4 3.5-3.7 0.7 0 2.7-3.7 2.1-1 2.6-3.3 0.7 0 4-4.4 7.2-6.7 0.7 0 1.9-2.6 1.9-1 1.9-2.7 4.4-3.6 6.2-6.5 3-2.2 1.8-2.7 0.6 0.3 1.2-1.9 2.4-1.4 5.3-5.5 1.2-2.1 0.5 0.5 7.5-6.9 0.7-5.1 0.4 3.9 5-5.2 0.7-3.6 0.4 2.6 8.2-7.6-0.2 3.4-85.4 82.4z" fill="url(#gd80)"/>
<path d="M510.3 512.7l1.3-0.6M518.6 505l1.3-0.5M526.7 497l1.3-0.2M534.6 489.8l1.3-0.1M542.3 482.4l1.3-0.8M549.8 475.4l1.3-0.7M557.1 468.4l1.3-0.5M564.3 461.2l1.3-0.5M571.2 454.3l1.4-0.2M578 448.6l1.4-1.1M584.7 441.7l1.3-0.5M591.3 433.1l1.2 2" stroke="#d8b0f0" stroke-width="0.6" fill="none" opacity="0.3"/>
<path d="M508.7 517.1l0.8-0.2 1.3-2.4 1.5-0.5 8.3-8.2 0.7-1.6 1.3-0.2 0.7-1.2 2-1.3 0.7-1.6 7.3-6.2 9.1-9.5 2.5-1.6 11.2-11.4 1.2-0.4 0.6-1.1 2.4-1.7 1.9-2.7 2.9-2.2 8.2-8.2 0.5 0.1 2.4-3.2 0.5 0.3 4.5-4.9 2.2-1.5 1.8-3.5 0.5 0.8 1.1-1 0.7-3.8 0.4 2.9 5.4-5.5 1-0.4-0.2 3.3-85.2 82.6z" fill="url(#gd81)"/>
<path d="M511.6 512.1l1.4 0.8M519.9 504.5l1.4-0.3M528 496.8l1.4 0.2M535.9 489.7l1.3 0.1M543.6 481.6l1.3 1M551.1 474.7l1.3 0M558.4 467.9l1.3 0.3M565.6 460.7l1.3 0.6M572.6 454.1l1.2 0.9M579.4 447.5l1.3 0.4M586 441.2l1.5-3M592.5 435.1l1.3 0.5" stroke="#d8b0f0" stroke-width="0.6" fill="none" opacity="0.3"/>
<path d="M510.1 518.4l16.6-15.5 2.7-3.5 5.3-4.2 10.3-10 6.3-6.8 2.4-1.3 1.9-2.6 13.7-13.5 0.6 0.3 5.2-5.1 2.9-3.2 0.6-3.1 1 2 1.8-2.5 0.5 0.2 6.1-5.9 1.7-2 0.7-4.1 0.3 3.3 4.9-4.8-0.2 3-85.2 82.7z" fill="url(#gd82)"/>
<path d="M513 512.9l1.3 1.2M521.3 504.2l1.3 2.2M529.4 497l1.3 1.6M537.2 489.8l1.4 1.3M544.9 482.6l1.3 1.1M552.4 474.7l1.3 2.4M559.7 468.2l1.3 1.3M566.9 461.3l1.3 1.1M573.8 455l1.3 1.2M580.7 447.9l1.2 1.7M587.5 438.2l1.1 4.6M593.8 435.6l1.3 0.8" stroke="#d8b0f0" stroke-width="0.6" fill="none" opacity="0.3"/>
<path d="M511.5 520l9-9.5 2.8-2 4.1-4.7 7.3-6 7.1-8 3.9-2.7 7.5-8.3 1.8-0.9 7.9-8.3 0.6 0 4.8-5 1.2-3.6 0.5 1.7 1.8-1.2 9.7-10 0.5 0.3 1.2-1.1 1.1-1.9 4.9-3.9 1.8-3.9 0.4 1.2 2.8-2.9 0.7-3.8 0.3 2.7 1.6-1.3-0.1 2.7-85.1 83z" fill="url(#gd83)"/>
<path d="M514.3 514.1l1.4 1.5M522.6 506.4l1.4 1M530.7 498.6l1.3 0.9M538.6 491.1l1.3 1.2M546.2 483.7l1.4 1.2M553.7 477.1l1.3 0.8M561 469.5l1.3 0.8M568.2 462.4l1.3-1.4M575.1 456.2l1.3 0.8M581.9 449.6l1.3 1.1M588.6 442.8l1.2 0.9M595.1 436.4l1.2 1.2" stroke="#d8b0f0" stroke-width="0.6" fill="none" opacity="0.3"/>
<path d="M512.9 521.1l13.8-14 3.4-2.5 0.6-1.5 6.6-5.5 9.7-10.3 1.2-0.4 6.9-7.4 2.5-1.7 0.6-1.3 0.6 0 5.4-5.7 0.7-2.5 0.5 1.7 0.6-1.2 4.7-3.8 1.8-2.7 0.6 0.4 1.1-1.8 2.9-1.9 4-5 1.6-0.6 6.2-7 1.6-0.7 2.2-2.2 2.7-3.3 0.8-4.3 0.3 3.7 1.6-1.6-0.2 2.2-85 83.1z" fill="url(#gd84)"/>
<path d="M515.7 515.6l1.4 1M524 507.4l1.3 1.4M532 499.5l1.4 1.5M539.9 492.3l1.3 0.9M547.6 484.9l1.3 1M555 477.9l1.3 0.6M562.3 470.3l1.3 1.1M569.5 461l1.2 4M576.4 457l1.3 0.8M583.2 450.7l1.3 0.6M589.8 443.7l1.3 0.9M596.3 437.6l1.2 1.1" stroke="#d8b0f0" stroke-width="0.6" fill="none" opacity="0.3"/>
<path d="M514.2 522.2l5.6-5 1.4-2.2 2.1-1.3 0.7-1.6 2-1 8.7-9.5 3.3-2.2 2-2.6 1.9-1.2 1.3-2.2 1.3-0.1 5.1-5.9 0.6 0 0.6-1.2 1.9-1.1 0.6-1.3 26.8-25.7 1.7-2.2 0.7-2.4 0.4 1.4 3.9-4 1.1-0.2 1.2-3.4 0.5 1.2 2.2-1.7 0.7-3.4 0.3 2.8 1.2-2 4.2-3.9 0.8-4.2 0.3 2.9-0.1 1.7-84.9 83.4z" fill="url(#gd85)"/>
<path d="M517.1 516.6l1.3 1.8M525.3 508.8l1.4 1.1M533.4 501l1.3 0.6M541.2 493.2l1.4 1.1M548.9 485.9l1.3 1.5M556.3 478.5l1.4 1.4M563.6 471.4l1.3 1.2M570.7 465l1.3 0.5M577.7 457.8l1.2 1.4M584.5 451.3l1.2 1.1M591.1 444.6l1.4-1.2M597.5 438.7l1.5-2.6" stroke="#d8b0f0" stroke-width="0.6" fill="none" opacity="0.3"/>
<path d="M514.2 522.2l5.6-5 1.4-2.2 2.1-1.3 0.7-1.6 2-1 8.7-9.5 3.3-2.2 2-2.6 1.9-1.2 1.3-2.2 1.3-0.1 5.1-5.9 0.6 0 0.6-1.2 1.9-1.1 0.6-1.3 26.8-25.7 1.7-2.2 0.7-2.4 0.4 1.4 3.9-4 1.1-0.2 1.2-3.4 0.5 1.2 2.2-1.7 0.7-3.4 0.3 2.8 1.2-2 4.2-3.9 0.8-4.2 0.3 2.9" stroke="#d8b0f0" stroke-width="0.6" fill="none" opacity="0.3"/>
<path d="M515.6 523.6l19.1-19.3 2.7-1.8 2.6-3.1 10.3-9.4 0.6-1.5 0.6 0.1 9.9-10.2 0.6 0.1 0.6-1.5 13.6-12.6 0.6-1.4 0.6 0.2 1.1-1 5.1-5.7 0.6 0.1 5.5-5.3 1.1-1.3 0.8-4.3 0.3 3.5 3.3-3.9 2.1-1.4 2.8-3.6 0.4 0.1 0 0.9-84.9 83.5z" fill="url(#gd86)"/>
<path d="M518.4 518.4l1.4 1.1M526.7 509.9l1.3 1.5M534.7 501.6l1.4 2.1M542.6 494.3l1.3 2M550.2 487.4l1.3 1.2M557.7 479.9l1.3 1.2M564.9 472.6l1.3 1M572 465.5l1.3 1.3M578.9 459.2l1.3 1.2M585.7 452.4l1.3 1.1M592.5 443.4l1.1 3.9M599 436.1l1.1 4.2" stroke="#d8b0f0" stroke-width="0.6" fill="none" opacity="0.3"/>
<path d="M517 524.6l84.8-83.6 0 0.9-84.8 83.7z" fill="url(#gd87)"/>
<path d="M519.8 519.5l1.4 0.7M528 511.4l1.4 1.3M536.1 503.7l1.3 0.9M543.9 496.3l1.3 0.7M551.5 488.6l1.3 1.1M559 481.1l1.3 0.8M566.2 473.6l1.3 1.5M573.3 466.8l1.3 0.7M580.2 460.4l1.3 0.7M587 453.5l1.3 0.7M593.6 447.3l1.3 0.5M600.1 440.3l1.2 1.2" stroke="#d8b0f0" stroke-width="0.6" fill="none" opacity="0.3"/>
<path d="M518.4 525.4l15.1-15.7 2-1.1 7.2-8.1 0.7 0 8.3-7.9 4.4-5.1 0.6 0.2 2.5-3.4 1.2-0.4 16.1-16.7 1.7-1 2.3-2.4 0.7-2.5 0.5 1.3 2.8-2.6 0.8-5.2 0.4 3.5 1.6-1.2 4.5-4.4 0.7-3.4 0.4 2.5 2.2-3 2.1-1.1 5.9-6.4-0.1 1.1-84.6 83.9z" fill="url(#gd88)"/>
<path d="M521.2 520.2l1.3 1.1M529.4 512.7l1.4 0.3M537.4 504.6l1.4 0.4M545.2 497l1.4 0.2M552.8 489.7l1.4 0.2M560.3 481.9l1.3 0.4M567.5 475.1l1.4 0M574.6 467.5l1.3 0.6M581.5 461.1l1.3 0.3M588.3 454.2l1.3 0.6M594.9 447.8l1.3 0.2M601.3 441.5l1.3 0.2" stroke="#d8b0f0" stroke-width="0.6" fill="none" opacity="0.3"/>
<path d="M519.7 525.2l0.7-0.7 0.7 0.1 6.2-7.3 0.7 0.2 4.8-5.2 2.7-1.9 2-2.8 7.2-6.5 2.6-3.4 1.9-0.8 7-7.8 0.6 0.3 2.5-3.4 1.8-1.8 0.6 0.1 3.7-4.3 0.6 0.1 6.6-7.2 0.5 0.1 0.7-1.3 2.9-2.1 12.6-13.6 1.6-0.8 10.9-11.3 1-0.3 1.6-2.3-0.1 1.7-84.6 84.1z" fill="url(#gd89)"/>
<path d="M522.5 521.3l1.4-0.3M530.8 513l1.3 0.2M538.8 505l1.3 0.4M546.6 497.2l1.3 0M554.2 489.9l1.3 0.3M561.6 482.3l1.4 0.3M568.9 475.1l1.3 0.8M575.9 468.1l1.4 0.5M582.8 461.4l1.4-0.1M589.6 454.8l1.3 0.4M596.2 448l1.3 0.2M602.6 441.7l1.3 0.8" stroke="#d8b0f0" stroke-width="0.6" fill="none" opacity="0.3"/>
<path d="M521.1 526.1l2.8-3.4 0.7 0.2 1.4-2.3 1.3-0.7 23.9-24.4 1.9-1.1 7.5-8.3 2.5-1.5 2.4-3.4 0.6 0.1 6.6-6.4 0.7-3.6 0.5 2.2 1.2-0.9 14.4-15.4 0.5 0.4 1.1-1 0.8-4.8 0.3 3.2 2.8-3.1 1.6-0.6 0.6-1.3 8.6-8.5-0.2 2-84.5 84.3z" fill="url(#gd90)"/>
<path d="M523.9 521l1.4 0.6M532.1 513.2l1.4 0.1M540.1 505.4l1.4 0M547.9 497.2l1.4 0.6M555.5 490.2l1.4-0.2M563 482.6l1.3 0.2M570.2 475.9l1.3-0.1M577.3 468.6l1.3 0.4M584.2 461.3l1.3 0.6M590.9 455.2l1.3-0.2M597.5 448.2l1.3 0.3M603.9 442.5l1.3-0.3" stroke="#d8b0f0" stroke-width="0.6" fill="none" opacity="0.3"/>
<path d="M522.5 526.2l2-2.7 0.8 0.1 0.6-1.3 4.9-4.3 1.3-2.1 5.4-4.7 3.4-4 20.5-19.8 0.6-1.3 3-2.2 3.7-4.3 3-2.2 0.6-1.4 4.1-3.3 4.2-5.1 1.7-0.8 5.1-5.8 7.2-6.6 3.9-4.2 0.7-2.3 0.4 0.9 1-0.4 6.5-6.9-0.2 2.6-84.4 84.5z" fill="url(#gd91)"/>
<path d="M525.3 521.6l1.3 0.1M533.5 513.3l1.4 0.3M541.5 505.4l1.4 0.1M549.3 497.8l1.4 0.2M556.9 490l1.4 0.3M564.3 482.8l1.4 0.1M571.5 475.8l1.4-0.2M578.6 469l1.4-0.8M585.5 461.9l1.3 0.3M592.2 455l1.4-0.1M598.8 448.5l1.3 0.1M605.2 442.2l1.4-0.2" stroke="#d8b0f0" stroke-width="0.6" fill="none" opacity="0.3"/>
<path d="M523.8 526.6l2.8-3.5 2.1-1.3 4.1-4.9 20.5-19.7 1.9-2.8 1.9-1 20.1-21 0.6 0.4 0.6-1.3 0.6 0 4.6-5.6 1.7-0.7 4.1-5 1-0.1 2.3-2.2 3.3-3.9 0.7-2.7 0.4 1.5 0.5 0 6-6.6 1.6-1.6 0.5 0.2 2.8-4.3-0.3 4.1-84.3 84.7z" fill="url(#gd92)"/>
<path d="M526.6 521.7l1.4 0.2M534.9 513.6l1.3 0.1M542.9 505.5l1.3 0.3M550.7 498l1.3 0.1M558.3 490.3l1.3 0.4M565.7 482.9l1.3 0.4M572.9 475.6l1.4 0.2M580 468.2l1.3 0.3M586.8 462.2l1.4-0.6M593.6 454.9l1.3 0.3M600.1 448.6l1.4-0.2M606.6 442l1.3-0.2" stroke="#d8b0f0" stroke-width="0.6" fill="none" opacity="0.3"/>
<path d="M525.2 526.6l9-8.3 5.4-6.3 0.7 0 4-4.7 0.6 0 6.6-6.5 1.9-2.9 1.3-0.2 6.9-7 0.6-1.4 0.6 0.2 12.8-13.5 5.3-4.4 3.5-4.5 0.5 0.1 4-3.8 1.8-2.6 1.1-0.3 3.9-4.8 0.5 0.1 13.5-13.5-0.2 2.9-84.2 84.9z" fill="url(#gd93)"/>
<path d="M528 521.9l1.4 0.7M536.2 513.7l1.4 0.6M544.2 505.8l1.4 0.9M552 498.1l1.4-0.2M559.6 490.7l1.4 0.3M567 483.3l1.4 0.2M574.3 475.8l1.3 0.2M581.3 468.5l1.4 0.6M588.2 461.6l1.3 0.8M594.9 455.2l1.3 0.6M601.5 448.4l1.3 1.1M607.9 441.8l1.3 1" stroke="#d8b0f0" stroke-width="0.6" fill="none" opacity="0.3"/>
<path d="M526.6 527.3l8.3-7.6 2.7-4.1 0.7 0.2 15.8-16.2 3.2-2.4 0.7-1.7 1.8-1.1 2.6-3.2 0.6 0.2 3.7-4.6 1.8-1.2 6.1-6.7 14-13.4 2.3-3 1.1-0.3 7.7-7.9 0.6-1.3 0.5 0.3 2.8-3.4 0.7-2.8 0.3 2.1 2.7-3.2 3.7-3-0.2 2.8-84.1 85z" fill="url(#gd94)"/>
<path d="M529.4 522.6l1.4 1M537.6 514.3l1.4 0.8M545.6 506.7l1.4 0.2M553.4 497.9l1.4 1.2M561 491l1.4 0.2M568.4 483.5l1.3 0.6M575.6 476l1.4 0.7M582.7 469.1l1.3 0.6M589.5 462.4l1.4 0.1M596.2 455.8l1.4 0.2M602.8 449.5l1.5-2.4M609.2 442.8l1.3 0.5" stroke="#d8b0f0" stroke-width="0.6" fill="none" opacity="0.3"/>
<path d="M526.6 527.3l8.3-7.6 2.7-4.1 0.7 0.2 15.8-16.2 3.2-2.4 0.7-1.7 1.8-1.1 2.6-3.2 0.6 0.2 3.7-4.6 1.8-1.2 6.1-6.7 14-13.4 2.3-3 1.1-0.3 7.7-7.9 0.6-1.3 0.5 0.3 2.8-3.4 0.7-2.8 0.3 2.1 2.7-3.2 3.7-3" stroke="#d8b0f0" stroke-width="0.6" fill="none" opacity="0.3"/>
<path d="M528 528.3l4.2-4.8 5.5-4.9 0.7-1.3 1.3-0.8 0.7-1.4 1.3-0.3 4.7-5.7 0.6 0 4.6-5 0.7 0.2 0.6-1.5 2.6-2.8 1.3-0.5 2.5-3.2 0.6 0.2 10.6-11.7 1.2-0.4 4.8-4.6 3.6-4.8 0.7-3.6 0.4 3.2 13.8-14.6 2.8-2.1 4.9-5.5 1.6-0.8 3.8-4.7 0.5 0.1 3.7-3.8-0.2 3.1-84 85.3z" fill="url(#gd95)"/>
<path d="M530.8 523.6l1.4-0.1M539 515.1l1.4 0M547 506.9l1.4 0.5M554.8 499.1l1.3 0.6M562.4 491.2l1.3 0.9M569.7 484.1l1.4 0.4M577 476.7l1.3 0.9M584 469.7l1.3 0.7M590.9 462.5l1.3 0.9M597.6 456l1.3 0.6M604.3 447.1l1.1 3M610.5 443.3l1.3 0.4" stroke="#d8b0f0" stroke-width="0.6" fill="none" opacity="0.3"/>
<g opacity="0.85">
<path d="M392.5 338.8l134 56.4 95.4-76-126.1-40.5z" fill="#8a14ff"/>
<g clip-path="url(#clipd)">
<g filter="url(#bl0.6)">
<path d="M478.4 344.2l1.2-2 3.1-2 7.5-2.3 3.6-2.2 57.1-38.1 1.7-0.6 2 0.6 2.3 0.8 1.5 1.7-1.7 1.9-2.6 1.1-14 9.6-3.7 2.1-1.8 2.1-2.8 1.1-19.8 13.1-6.5 4.4-3.9 3.2-0.1 1.5 2.1 1.6 7.1 2.9 5.7 3.7 2.6 1.3 1.7 0.3 2.2 1.7 2.2 3.2-1.6 1.9-1.6 1-1.5 0.3-7-1.2-16.6-5.7-4.4-0.7-10.7 2.5-3.2 1.3-3.7 2-15.5 10.6-7.5-3.2 24.3-16.3 1.4-1.1 0.9-2.1z" fill="#3101ff" fill-rule="evenodd"/>
<path d="M480.7 342.7l2-1.7 5.9-2 5.4-3.2 57.1-38.1 2-0.6 2.5 0.8 0.9 0.9 0.4 0.8-1.5 1.4-31.4 20.6-2.4 2-2.5 1.2-11.5 7.7-7.1 5-1 1.2-0.5 1.4 1.7 1.4 5.6 3.1 6.7 3 1.9 1.8 1.6 0.4 2.1 1.8 1.7 0.3 0.3 1.4 0.6 0.9-0.5 1.5-1.4 1.1-5.1-0.5-18.4-5.9-3.3-0.8-2.2 0.1-9.9 2-5.5 2.9-17.1 11.7-5.8-2.5 25.1-16.8 2.1-1.8 1.5-2.5z" fill="#2020ff" fill-rule="evenodd"/>
<path d="M480.5 344.2l0.9-1.3 2-1.6 3.9-1.5 7-3.9 56.3-37.7 2.5-0.9 1.5 0.3 1.1 1 0.2 0.7-0.4 0.5-2.9 2.1-49.7 32.6-4.5 3.8-0.9 1.9 0.9 0.9 5.7 3.5 5.4 2.4 1.9 1.8 1.6 0.4 3.4 2.3 0.8 1.1 1.8 0.3-0.2 1.2-1.3 1.2-2.5 0.4-3.4-0.7-18.5-5.8-2.6-0.3-7.3 1-4.1 1.3-4.3 2.5-18.1 12.1-4.4-1.9 22.8-15.2 5.4-4.5z" fill="#0f3fff" fill-rule="evenodd"/>
<path d="M482.1 343.2l1.9-1.7 10.5-5.5 56.3-37.8 2-0.7 1.6 0.3 0.6 0.5 0.3 0.8-0.4 0.4-3 2.2-18.5 12.1-1.7 0.7-16.9 11.7-14.2 9-4 4-0.2 0.7 0.4 0.8 2 1.6 5.7 3.6 4.1 1.7 1.2 2.3 2.3-0.1 2.2 1.6 2.4 2.7-0.7 0.6-1.4 0.3-2.5-0.4-20.1-5.9-2.8-0.3-6.4 0.8-4.6 1.6-22.5 14.6-3.2-1.4 24.3-16.3 5.3-4.5z" fill="#005fff" fill-rule="evenodd"/>
<path d="M452.8 364.1l24.3-16.3 6.7-5.6 11-6.1 55.6-37.4 2.1-1 1.9 0.5 0.2 0.6-1.5 1.4-52.9 34.9-4.4 3.8-0.2 1.5 4.7 3.9 2.6 1.1 0.6 1.2 3.2 0.8 2 1.7 0.5 1.2 1.8 0.3 0.6 0.7-1.2 1.3 2.2-0.9 1 0.2 0.5 1.2-0.6 0.6-4.1-0.4-2.6-1.3-2.1-0.1-12.7-3.5-3.9-0.4-5.2 0.6-5.4 1.9-22.2 14.7-2.5-1.1z" fill="#008dff" fill-rule="evenodd"/>
<path d="M476.5 348.4l7.4-6.1 12.9-7 5.2-3.4 1-1.1 1.9-0.8 9.5-6.9 2.6-1.2 6.3-4.8 27.3-18.3 1.6-0.9 1.7 0.2 0.4 0.6-1 0.9-49.2 32.3-5.9 4-3 2.7-0.5 0.6 0.1 1.4 4.1 3.1 0.7 1 2.7 1.2 0 1 0.3 0.3 3.4 0.7 2.6 2.9 1.4 0.7-0.7 0.3-4-0.3-11.2-3-4.5-0.7-7.1 0.5-5.4 2-22.3 14.7-1.5-0.6 9.9-6.7 1.9-1 11.4-8.3z" fill="#00bbff" fill-rule="evenodd"/>
<path d="M479.7 346.3l2.3-2.3 2.9-2.1 6.8-3.6 6-2.5-3 2.6-0.9 1.4 0.2 0.8 3.9 3 1 1.6 1.3 0.6 0.4 1.3 3.3 0.8 1 0.8 0.4 1-0.2 0.4 0.7 0.6-2.7-0.8-2.2 0-8.2-1.9-6.2-0.6-5.9 1-4 1.8-3.9 2.3 7-6.2zM545.7 302.2l5.9-3.9 2.1-0.1 0.3 0.4-0.4 0.5-42.2 27.5 2.5-2.2 3.8-2.2 6.3-4.9 1.7-0.7 20-14.4zM454.9 364.1l6.6-4.1-5.3 3.8-1.8 1 0.5-0.7zM462.6 359.2l1.7-1.1-1.7 1.1zM466.5 356.4l4.2-2.6-3.8 2.7-0.7 0.4 0.3-0.5zM499.2 334.7l2.9-1.9-2.9 1.9zM505.8 330.3l4.6-3-4.6 3z" fill="#00e9ff" fill-rule="evenodd"/>
<path d="M481 345.2l4.9-3.8 4.2-2 4.5-1.6-1.5 2.5 0.8 0.9 2.3 1.4 2 3.1 1.5 0.5 0.4 1.2 0.9 0.9 2.2 0 0.2 0.7-0.8 0.5-1.2 0-4.7-1.3-10.9-1.1-4.7 0.6-4 1.8 2.6-2.3 1.3-2zM528.8 314.9l0.3-0.6 1.5-0.6-1.8 1.2zM533.4 311.7l2.6-1.6-2.6 1.6zM536.7 309.5l7.7-5.2 7.4-5.7 1.7-0.3-0.2 0.7-16.6 10.5z" fill="#00ffde" fill-rule="evenodd"/>
<path d="M481.2 345.3l2.5-2.3 2.4-1.5 3.2-1.6 4-1.2-0.7 1.9 3.4 2.3 0.8 1.1 0.6 2.2 1.8 0.3 0.3 1.8-0.8 0.1-1.1-0.8-6.3-0.2-4.1-0.6-4 0.1-3.3 0.8 1.3-2.4zM548.9 301.3l0.9-0.4-0.9 0.4zM551.9 299.2l1.4-0.7-1 0.8-0.7 0.3 0.3-0.4z" fill="#00ff9e" fill-rule="evenodd"/>
<path d="M481.9 344.8l5.2-3.7 5.2-1.7-0.2 1.5 3.5 2.1 1.3 2.7-0.8 1.3-1.6 0.2-3 0.1-5.1-0.8-5.5 0.5 1-2.2z" fill="#00ff5e" fill-rule="evenodd"/>
<path d="M482.7 344.3l4.6-3.1 4.2-1.3 0.2 1.3 3.5 2 1.1 2.3-0.5 0.6-2 0.8-1.6 0.2-6.7-0.9-3.9 0.4 1.1-2.3z" fill="#00ff13" fill-rule="evenodd"/>
<path d="M485.1 342.7l2.6-1.4 3-0.9 0.4 1.2 1.6 0.4 2 1.6 0.4 0.6 0 0.8-0.9 1.2-2 0.6-7.2-1.1-2.6 0.3 0.8-1.6 1.9-1.7z" fill="#4dff00" fill-rule="evenodd"/>
<path d="M483.3 345.3l2.2-2.4 4.5-2 0.6 1.1 1.8 0.3 1.4 1.4 0.4 0.9-0.6 1.4-1 0.5-9.3-1.2z" fill="#afff00" fill-rule="evenodd"/>
<path d="M484.6 344.2l1.3-1.2 3.1-1.4 1 0.8 1.9 0.2 1.4 1.9-0.3 1.3-1.2 0.3-2.8-0.1-4.8-1.2 0.4-0.6z" fill="#fff500" fill-rule="evenodd"/>
<path d="M485.5 343.7l2.2-1.3 3.7 0.5 1.1 1.1 0.1 1-0.2 0.6-3 0.1-4.2-1.6 0.3-0.4z" fill="#ffc000" fill-rule="evenodd"/>
<path d="M486.8 344.2l0.3-0.7 3.3-0.3 0.9 0.3 0.3 1-1.8 0.9-3-1.2z" fill="#ff8b00" fill-rule="evenodd"/>
<path d="M488.2 344l2.2-0.4 0.2 0.5-0.7 0.5-1.1 0-0.6-0.6z" fill="#ff5500" fill-rule="evenodd"/>
</g>
</g></g>
<path d="M410.1 467L392.5 338.8" stroke="#3a3a3a" stroke-width="1.0" fill="none"/>
<path d="M408.8 457.7L405.6 458" stroke="#3a3a3a" stroke-width="0.9" fill="none"/>
<path d="M405.6 434.2L402.4 434.5" stroke="#3a3a3a" stroke-width="0.9" fill="none"/>
<path d="M402.2 409.5L399 409.8" stroke="#3a3a3a" stroke-width="0.9" fill="none"/>
<path d="M398.7 383.5L395.5 383.8" stroke="#3a3a3a" stroke-width="0.9" fill="none"/>
<path d="M394.9 356.2L391.7 356.5" stroke="#3a3a3a" stroke-width="0.9" fill="none"/>
<path d="M410.1 467L528.1 531.6" stroke="#5c5c34" stroke-width="1.2" fill="none"/>
<path d="M528.1 531.6L612.1 446.3" stroke="#5c5c34" stroke-width="1.2" fill="none"/>
<path d="M416.3 470.5L412.7 473.3" stroke="#3a3a3a" stroke-width="0.9" fill="none"/>
<path d="M452.3 490.2L448.7 493.2" stroke="#3a3a3a" stroke-width="0.9" fill="none"/>
<path d="M491.1 511.4L487.6 514.6" stroke="#3a3a3a" stroke-width="0.9" fill="none"/>
<path d="M434 480.1L432.1 481.6" stroke="#3a3a3a" stroke-width="0.8" fill="none"/>
<path d="M471.3 500.6L469.5 502.2" stroke="#3a3a3a" stroke-width="0.8" fill="none"/>
<path d="M511.6 522.6L509.8 524.3" stroke="#3a3a3a" stroke-width="0.8" fill="none"/>
<path d="M536.7 522.8L541.4 525.3" stroke="#3a3a3a" stroke-width="0.9" fill="none"/>
<path d="M555 504.2L559.6 506.6" stroke="#3a3a3a" stroke-width="0.9" fill="none"/>
<path d="M572.3 486.7L576.8 488.9" stroke="#3a3a3a" stroke-width="0.9" fill="none"/>
<path d="M588.6 470.2L593 472.2" stroke="#3a3a3a" stroke-width="0.9" fill="none"/>
<path d="M604 454.5L608.4 456.5" stroke="#3a3a3a" stroke-width="0.9" fill="none"/>
<path d="M546 513.4L548.4 514.6" stroke="#3a3a3a" stroke-width="0.8" fill="none"/>
<path d="M563.8 495.3L566.1 496.5" stroke="#3a3a3a" stroke-width="0.8" fill="none"/>
<path d="M580.6 478.3L582.9 479.4" stroke="#3a3a3a" stroke-width="0.8" fill="none"/>
<path d="M596.4 462.2L598.7 463.3" stroke="#3a3a3a" stroke-width="0.8" fill="none"/>
<text transform="translate(392.6 471.1) rotate(-28.0) skewX(-15.0) scale(1.000 0.950)" font-size="9.6" text-anchor="middle" dominant-baseline="central" fill="#000" stroke="#000" stroke-width="0.12">4.0x10<tspan font-size="6.1" dy="-4.3">4</tspan></text>
<text transform="translate(389.5 447.8) rotate(-28.0) skewX(-15.0) scale(1.000 0.950)" font-size="9.6" text-anchor="middle" dominant-baseline="central" fill="#000" stroke="#000" stroke-width="0.12">4.5x10<tspan font-size="6.1" dy="-4.3">4</tspan></text>
<text transform="translate(383.6 425.9) rotate(-28.0) skewX(-15.0) scale(1.000 0.950)" font-size="9.6" text-anchor="middle" dominant-baseline="central" fill="#000" stroke="#000" stroke-width="0.12">5.0x10<tspan font-size="6.1" dy="-4.3">4</tspan></text>
<text transform="translate(379.7 398) rotate(-28.0) skewX(-15.0) scale(1.000 0.950)" font-size="9.6" text-anchor="middle" dominant-baseline="central" fill="#000" stroke="#000" stroke-width="0.12">5.5x10<tspan font-size="6.1" dy="-4.3">4</tspan></text>
<text transform="translate(377.7 369.5) rotate(-28.0) skewX(-15.0) scale(1.000 0.950)" font-size="9.6" text-anchor="middle" dominant-baseline="central" fill="#000" stroke="#000" stroke-width="0.12">6.0x10<tspan font-size="6.1" dy="-4.3">4</tspan></text>
<text transform="translate(407.6 478.4) rotate(-40.0) scale(1.000 0.900)" font-size="9.5" text-anchor="middle" dominant-baseline="central" fill="#000" stroke="#000" stroke-width="0.3">-10</text>
<text transform="translate(446.1 495.9) rotate(-40.0) scale(1.000 0.900)" font-size="9.5" text-anchor="middle" dominant-baseline="central" fill="#000" stroke="#000" stroke-width="0.3">0</text>
<text transform="translate(484.6 518.9) rotate(-40.0) scale(1.000 0.900)" font-size="9.5" text-anchor="middle" dominant-baseline="central" fill="#000" stroke="#000" stroke-width="0.3">10</text>
<text transform="translate(549.6 531.4) rotate(37.0) scale(1.000 0.900)" font-size="9.5" text-anchor="middle" dominant-baseline="central" fill="#000" stroke="#000" stroke-width="0.3">-20</text>
<text transform="translate(562.5 509) rotate(37.0) scale(1.000 0.900)" font-size="9.5" text-anchor="middle" dominant-baseline="central" fill="#000" stroke="#000" stroke-width="0.3">0</text>
<text transform="translate(581.5 492.5) rotate(37.0) scale(1.000 0.900)" font-size="9.5" text-anchor="middle" dominant-baseline="central" fill="#000" stroke="#000" stroke-width="0.3">20</text>
<text transform="translate(597.6 476) rotate(37.0) scale(1.000 0.900)" font-size="9.5" text-anchor="middle" dominant-baseline="central" fill="#000" stroke="#000" stroke-width="0.3">40</text>
<text transform="translate(612.5 460.7) rotate(37.0) scale(1.000 0.900)" font-size="9.5" text-anchor="middle" dominant-baseline="central" fill="#000" stroke="#000" stroke-width="0.3">60</text>
<text transform="translate(448.7 518.1) rotate(30.0) scale(1.040 1.000)" font-size="10" text-anchor="middle" dominant-baseline="central" fill="#000" stroke="#000" stroke-width="0.2">Vertical position (mm)</text>
<text transform="translate(602.1 501.5) rotate(-40.0) scale(0.970 1.000)" font-size="10" text-anchor="middle" dominant-baseline="central" fill="#000" stroke="#000" stroke-width="0.2">Time (ns)</text>
<text transform="translate(359.6 432.8) rotate(75.6)" font-size="10" text-anchor="middle" dominant-baseline="central" fill="#000" stroke="#000" stroke-width="0.2">Intensity (arb. units)</text>
<text x="338.0" y="290.1" font-size="14.7">(d) on resonance</text>
<rect x="633.9" y="312.3" width="22.2" height="1.9" fill="#a9c4c4"/>
<rect x="633.9" y="314.2" width="22.2" height="141.5" fill="url(#cbd)"/>
<rect x="633.9" y="455.7" width="22.2" height="1.4" fill="#111"/>
<rect x="633.9" y="312.3" width="22.2" height="144.8" fill="none" stroke="#8a8a8a" stroke-width="0.8"/>
<path d="M656.1 314.2L659.1 314.2" stroke="#555" stroke-width="0.9" fill="none"/>
<text transform="translate(663.4 315.2)" font-size="10" text-anchor="start" dominant-baseline="central" fill="#000">5.6x10<tspan font-size="6.4" dy="-4.5">4</tspan></text>
<path d="M656.1 342.7L659.1 342.7" stroke="#555" stroke-width="0.9" fill="none"/>
<text transform="translate(663.4 343.7)" font-size="10" text-anchor="start" dominant-baseline="central" fill="#000">5.2x10<tspan font-size="6.4" dy="-4.5">4</tspan></text>
<path d="M656.1 371.1L659.1 371.1" stroke="#555" stroke-width="0.9" fill="none"/>
<text transform="translate(663.4 372.1)" font-size="10" text-anchor="start" dominant-baseline="central" fill="#000">4.8x10<tspan font-size="6.4" dy="-4.5">4</tspan></text>
<path d="M656.1 399.6L659.1 399.6" stroke="#555" stroke-width="0.9" fill="none"/>
<text transform="translate(663.4 400.6)" font-size="10" text-anchor="start" dominant-baseline="central" fill="#000">4.5x10<tspan font-size="6.4" dy="-4.5">4</tspan></text>
<path d="M656.1 428L659.1 428" stroke="#555" stroke-width="0.9" fill="none"/>
<text transform="translate(663.4 429)" font-size="10" text-anchor="start" dominant-baseline="central" fill="#000">4.1x10<tspan font-size="6.4" dy="-4.5">4</tspan></text>
<path d="M656.1 456.5L659.1 456.5" stroke="#555" stroke-width="0.9" fill="none"/>
<text transform="translate(663.4 457.5)" font-size="10" text-anchor="start" dominant-baseline="central" fill="#000">3.7x10<tspan font-size="6.4" dy="-4.5">4</tspan></text></svg></body></html>
